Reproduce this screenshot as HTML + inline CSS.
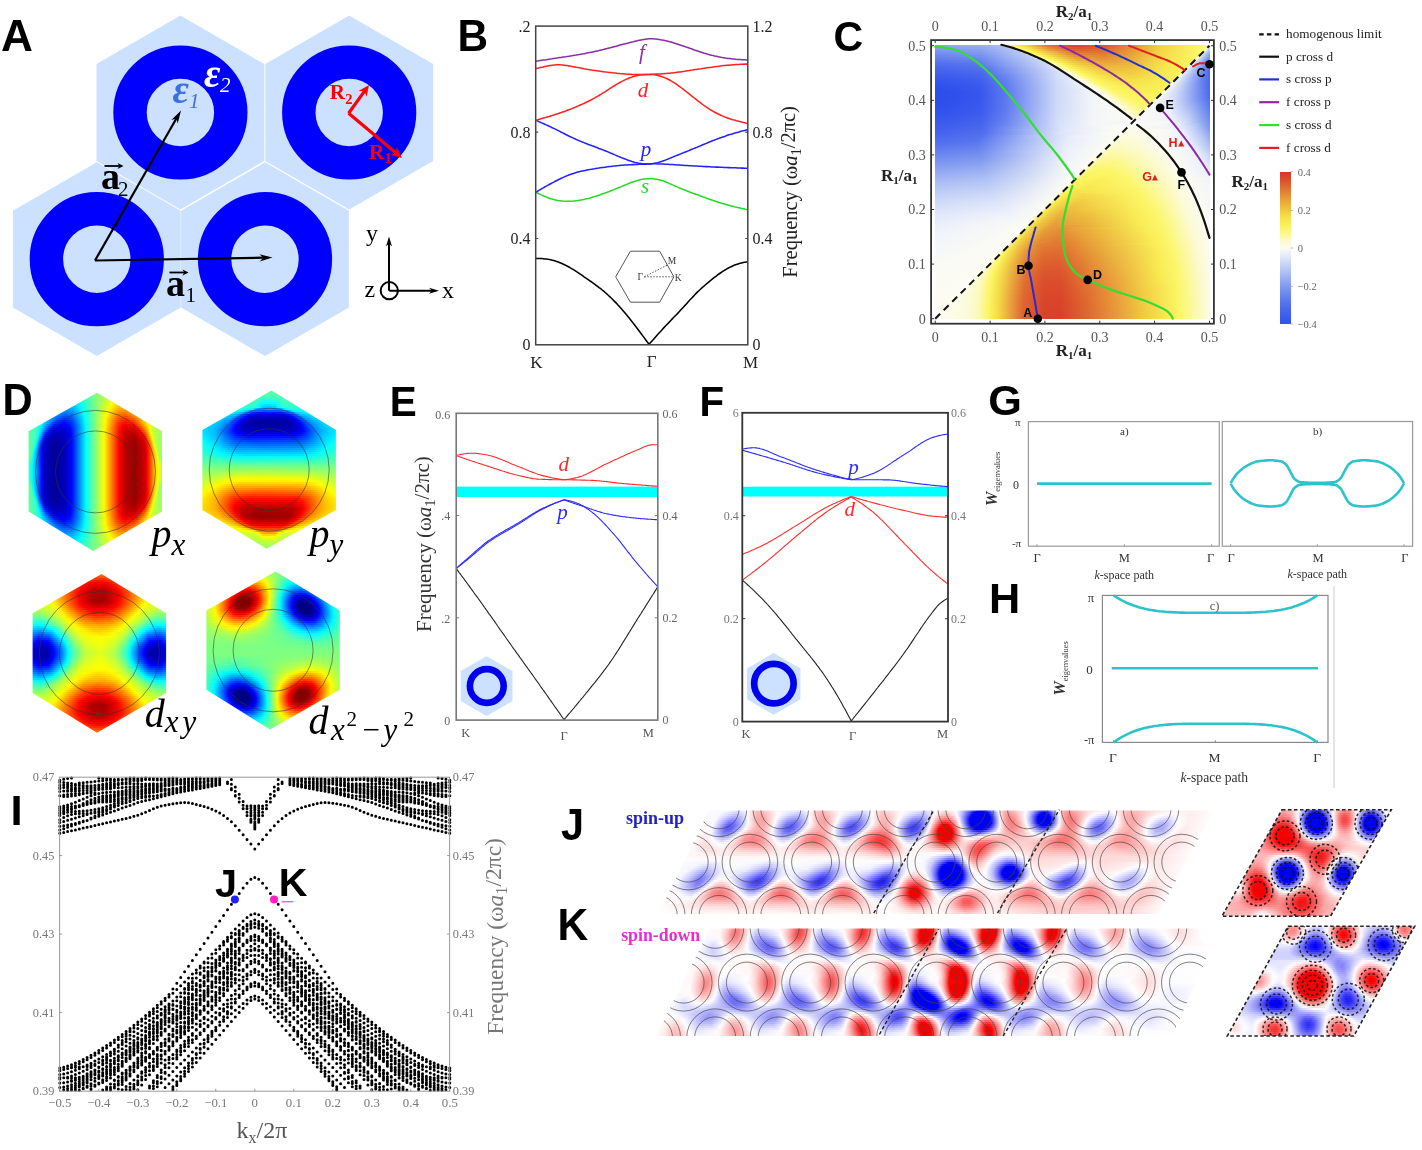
<!DOCTYPE html><html><head><meta charset="utf-8"><style>
html,body{margin:0;padding:0;background:#fff;}
#r{position:relative;width:1422px;height:1150px;overflow:hidden;background:#fff;}
#r>div{position:absolute;}
.f{position:absolute;overflow:hidden;}
.f i{display:block;}.s1 i{height:1px}.s2 i{height:2px}.s3 i{height:3px}.s4 i{height:4px}.s5 i{height:5px}.s6 i{height:6px}
svg{position:absolute;left:0;top:0;will-change:transform;}
</style></head><body><div id="r">
<div class="f s2" style="left:935px;top:45px;width:275px;height:274px;"><div><i style="background:linear-gradient(90deg,#8ca4f1 0px,#98adf2 47px,#afc1f5 69px,#fcfac4 70px,#fcf563 80px,#f4d947 91px,#e27b34 112px,#d9442a 139px,#dd5a2e 171px,#e59037 198px,#f2d044 225px,#faf15c 256px,#fcf670 268px,#fcf782 273px,#f8f9f6 274px)"></i><i style="background:linear-gradient(90deg,#859df0 0px,#8fa6f1 45px,#b2c3f5 75px,#fcfac5 76px,#fcf665 85px,#f4d947 96px,#e59037 113px,#db522c 139px,#de612f 170px,#e69538 198px,#f3d245 225px,#fbf15c 256px,#fcf66d 267px,#fcf77c 271px,#f8f9f6 272px,#dae2fa 274px)"></i><i style="background:linear-gradient(90deg,#7e97f0 0px,#88a0f1 45px,#b5c6f5 81px,#fcfac9 82px,#fcf563 91px,#f4d947 101px,#e7a139 115px,#de612f 139px,#df6a31 170px,#e69a38 198px,#f3d546 226px,#fbf460 260px,#fcf776 269px,#f8f9f6 270px,#becdf6 274px)"></i><i style="background:linear-gradient(90deg,#7791f0 0px,#829bf0 46px,#b8c8f5 86px,#fcfad2 87px,#fcf664 96px,#f4d947 106px,#e07232 138px,#e07232 169px,#e79e39 198px,#f4d847 227px,#fcf669 265px,#fcf670 267px,#f8f9f6 268px,#b4c4f5 273px,#a8baf4 274px)"></i><i style="background:linear-gradient(90deg,#718bef 0px,#7b95f0 45px,#bccbf6 91px,#fcfbda 92px,#fcf665 101px,#f2cf43 114px,#e38335 139px,#e27b34 169px,#e7a139 197px,#f5da48 227px,#fcf66b 265px,#f8f9f6 266px,#c2d0f7 270px,#95abf2 274px)"></i><i style="background:linear-gradient(90deg,#6a85ef 0px,#758fef 45px,#c0cef6 96px,#fcfbe1 97px,#fcf665 106px,#f2cf43 120px,#e59337 140px,#e38435 169px,#e9a83a 198px,#f6de4a 229px,#fcf665 263px,#f8f9f6 264px,#b8c8f5 269px,#859ef0 274px)"></i><i style="background:linear-gradient(90deg,#637fef 0px,#6e89ef 44px,#b3c4f5 90px,#c3d1f7 100px,#fcfcf4 101px,#fcf665 111px,#f2d144 125px,#e8a23a 141px,#e48d36 168px,#eaac3b 198px,#f6e14b 230px,#fcf563 261px,#f8f9f6 262px,#9cb1f3 270px,#7993f0 274px)"></i><i style="background:linear-gradient(90deg,#5d79ef 0px,#6783ef 43px,#a5b8f3 84px,#c8d5f7 105px,#fcfcf4 106px,#fcf667 116px,#f3d546 129px,#eaae3c 143px,#e69738 169px,#ebb23c 199px,#f7e54d 232px,#fcf562 259px,#f8f9f6 260px,#8da4f1 270px,#6f8aef 274px)"></i><i style="background:linear-gradient(90deg,#5673ee 0px,#607cef 42px,#a1b4f3 84px,#ccd7f8 109px,#fcfcf4 110px,#fcfcf2 111px,#fcf666 121px,#f3d445 134px,#e9a93b 157px,#e8a43a 179px,#edbb3e 202px,#f8e84f 234px,#fbf461 257px,#f8f9f6 258px,#89a1f1 269px,#6783ef 274px)"></i><i style="background:linear-gradient(90deg,#506eee 0px,#5a77ee 42px,#9eb3f3 85px,#d0daf8 113px,#fcfcf4 114px,#fcfce9 116px,#fcf663 126px,#f2d044 141px,#e9aa3b 167px,#ecb73d 197px,#f8e94f 233px,#fbf360 255px,#f8f9f6 256px,#8da4f1 267px,#607def 274px)"></i><i style="background:linear-gradient(90deg,#4c6aee 0px,#5673ee 44px,#a5b8f3 90px,#d2dcf9 116px,#fcfcf4 117px,#fcfcef 120px,#fcf666 130px,#f4da48 143px,#ebb33c 168px,#edbc3e 197px,#f8e950 233px,#fbf35f 253px,#f8f9f6 254px,#a3b7f3 263px,#5a77ee 274px)"></i><i style="background:linear-gradient(90deg,#4866ee 0px,#5270ee 46px,#d6dff9 120px,#fcfcf4 121px,#fcfcf3 124px,#fcf668 134px,#f5dc49 148px,#edbb3e 171px,#efc23f 198px,#f9ea51 233px,#fbf25e 251px,#f9f9f6 252px,#b0c1f5 260px,#6580ef 271px,#5573ee 274px)"></i><i style="background:linear-gradient(90deg,#4463ed 0px,#506eee 48px,#dae2fa 124px,#fcfcf4 125px,#fcfcf3 128px,#fcf669 138px,#f5dd49 153px,#eec13f 175px,#f0c740 199px,#f9eb52 233px,#fbf15d 249px,#f9faf6 250px,#bcccf6 257px,#6581ef 270px,#516fee 274px)"></i><i style="background:linear-gradient(90deg,#4160ed 0px,#4c6aee 47px,#96acf2 88px,#dde4fa 127px,#fcfcf4 128px,#fcfcef 132px,#fcf66d 142px,#faf05a 147px,#f1cb41 172px,#f1ca41 198px,#f9eb53 233px,#fbf15c 247px,#f9faf6 248px,#c8d5f7 254px,#6783ef 269px,#4f6dee 274px)"></i><i style="background:linear-gradient(90deg,#3e5ded 0px,#4967ee 47px,#839cf0 81px,#dae3fa 126px,#dfe6fa 130px,#fcfcf4 131px,#fcfcf4 135px,#fcf666 147px,#f4d947 166px,#f1cc42 195px,#f9ec54 233px,#faf15c 245px,#f9faf5 246px,#ccd8f8 252px,#6984ef 268px,#4e6cee 274px)"></i><i style="background:linear-gradient(90deg,#3b5aed 0px,#4564ed 46px,#6985ef 70px,#d4ddf9 122px,#e2e8fb 133px,#fcfcf4 134px,#fcfcf4 139px,#fcf670 150px,#fbf15c 155px,#f3d646 177px,#f3d445 200px,#f9ed55 233px,#faf05b 243px,#f9faf5 244px,#bacaf6 253px,#5d7aef 270px,#4d6bee 274px)"></i><i style="background:linear-gradient(90deg,#3857ed 0px,#4362ed 46px,#6682ef 70px,#d2ddf9 122px,#e6ebfb 137px,#fcfcf4 138px,#fcfcf4 142px,#fcf666 155px,#f6e04a 174px,#f4d847 199px,#faf05a 240px,#faf05b 241px,#f9faf5 242px,#bfcef6 251px,#607cef 269px,#4c6bee 274px)"></i><i style="background:linear-gradient(90deg,#3555ed 0px,#405fed 46px,#637fef 70px,#d1dcf9 122px,#e8edfb 140px,#fcfcf4 141px,#fcfcf1 146px,#fcf776 157px,#fcf562 160px,#f5dd49 184px,#f7e34c 209px,#faf05a 239px,#fafaf5 240px,#c5d2f7 249px,#637fef 268px,#4c6aee 274px)"></i><i style="background:linear-gradient(90deg,#3353ec 0px,#3e5ded 45px,#617def 70px,#d1dbf8 122px,#eaeffc 143px,#fcfcf4 144px,#fcfcf4 149px,#fcf773 161px,#fbf360 165px,#f6de4a 192px,#faf05a 237px,#fafaf5 238px,#d0dbf8 246px,#6a86ef 266px,#4c6aee 274px)"></i><i style="background:linear-gradient(90deg,#3151ec 0px,#3c5bed 45px,#617def 71px,#d0daf8 122px,#ecf0fc 146px,#fcfcf4 147px,#fcfcf4 152px,#fcf670 165px,#fbf25e 170px,#f7e44c 197px,#faf05a 235px,#fafaf5 236px,#c5d3f7 247px,#6681ef 267px,#4c6bee 274px)"></i><i style="background:linear-gradient(90deg,#2f4fec 0px,#3a59ed 45px,#5f7bef 71px,#cfdaf8 122px,#eef2fb 149px,#fcfcf4 150px,#fcfcf4 155px,#fcf77d 167px,#fcf562 172px,#f8e84e 200px,#faf05b 233px,#fafbf5 234px,#cad6f8 245px,#5e7aef 269px,#4d6bee 274px)"></i><i style="background:linear-gradient(90deg,#2e4eec 0px,#3958ed 45px,#607cef 72px,#cfdaf8 122px,#f0f3fa 153px,#fcfcf4 155px,#fcfcf4 158px,#fcf781 170px,#fcf462 176px,#f9ea52 203px,#faf05b 231px,#fafbf5 232px,#cbd7f8 244px,#4f6dee 273px,#4d6bee 274px)"></i><i style="background:linear-gradient(90deg,#2d4dec 0px,#3757ed 44px,#5e7bef 72px,#ced9f8 122px,#f2f4f9 156px,#fcfcf4 158px,#fcfcf4 161px,#fcf785 173px,#fcf563 179px,#f9ec54 205px,#faf15c 229px,#fbfbf5 230px,#ccd8f8 243px,#4e6cee 274px)"></i><i style="background:linear-gradient(90deg,#2c4cec 0px,#3756ed 44px,#5e7aef 72px,#ced9f8 122px,#f3f5f9 158px,#fcfcf4 163px,#fcfcf4 164px,#fcf788 176px,#fcf563 183px,#faee58 211px,#fbf15c 227px,#fbfbf5 228px,#cdd9f8 242px,#4e6cee 274px)"></i><i style="background:linear-gradient(90deg,#2c4cec 0px,#3656ed 44px,#607cef 73px,#ced9f8 122px,#f2f5f9 157px,#fcfcf0 167px,#fcf783 180px,#fcf563 187px,#fbf15c 218px,#fbf25d 225px,#fbfbf5 226px,#ccd8f8 242px,#4f6dee 274px)"></i><i style="background:linear-gradient(90deg,#2c4cec 0px,#3656ed 44px,#607cef 73px,#ced9f8 122px,#f2f5f9 157px,#fcfcf4 169px,#fcf785 183px,#fcf562 191px,#fbf35f 223px,#fbfbf4 224px,#ccd7f8 242px,#506eee 274px)"></i><i style="background:linear-gradient(90deg,#2c4cec 0px,#3656ed 44px,#5e7aef 72px,#ced9f8 122px,#f2f5f9 157px,#fcfcf4 172px,#fcf88c 185px,#fcf664 194px,#fbf360 221px,#fbfbf4 222px,#cfdaf8 241px,#516fee 274px)"></i><i style="background:linear-gradient(90deg,#2c4cec 0px,#3756ed 44px,#5e7bef 72px,#ced9f8 122px,#f2f5f9 157px,#fcfcef 175px,#fcf788 189px,#fcf663 200px,#fcf462 219px,#fbfcf4 220px,#d6e0f9 239px,#5875ee 273px,#5371ee 274px)"></i><i style="background:linear-gradient(90deg,#2d4dec 0px,#3757ed 44px,#5e7bef 72px,#ced9f8 122px,#f3f5f9 158px,#fcfcf4 177px,#fcf88e 191px,#fcf666 204px,#fcf563 217px,#fcfcf4 218px,#dae3fa 238px,#6782ef 270px,#5674ee 274px)"></i><i style="background:linear-gradient(90deg,#2e4dec 0px,#3958ed 45px,#5f7cef 72px,#cedaf8 122px,#f3f5f9 158px,#fcfcf4 179px,#fcf88f 194px,#fcf66a 208px,#fcf667 215px,#fcfcf4 216px,#dee6fa 237px,#849df0 263px,#5a77ee 274px)"></i><i style="background:linear-gradient(90deg,#2e4eec 0px,#3959ed 45px,#607cef 72px,#cfdaf8 122px,#f3f5f9 158px,#fcfcf3 182px,#fcf89a 195px,#fcf774 208px,#fcf66f 213px,#fcfcf4 214px,#e2e9fb 236px,#93a9f2 260px,#5d7aef 274px)"></i><i style="background:linear-gradient(90deg,#2f4fec 0px,#3a59ed 45px,#617def 72px,#cfdaf8 122px,#f3f5f8 158px,#fcfcf4 184px,#fcf89b 198px,#fcf779 211px,#fcfcf4 212px,#e4eafb 236px,#9db2f3 258px,#607def 274px)"></i><i style="background:linear-gradient(90deg,#3050ec 0px,#3b5aed 45px,#607cef 71px,#d0daf8 122px,#f3f5f8 158px,#fcfcee 187px,#fcf89c 201px,#fcf785 209px,#fcfcf4 210px,#e9edfc 235px,#acbef4 255px,#6380ef 274px)"></i><i style="background:linear-gradient(90deg,#3151ec 0px,#3c5bed 45px,#617def 71px,#d0dbf8 122px,#f3f5f8 158px,#fcfcf1 189px,#fcf9a5 202px,#fcf894 207px,#fcfcf4 208px,#eaeffc 235px,#b0c2f5 255px,#6782ef 274px)"></i><i style="background:linear-gradient(90deg,#3352ec 0px,#3d5ced 45px,#607def 70px,#d1dbf8 122px,#f3f6f8 158px,#fcfcf4 191px,#fcf9b7 201px,#fcf9a5 205px,#fcfcf4 206px,#eef1fb 234px,#bbcbf6 253px,#6a85ef 274px)"></i><i style="background:linear-gradient(90deg,#3454ec 0px,#3f5eed 45px,#627eef 70px,#d1dcf9 122px,#f4f6f8 158px,#fcfcf4 193px,#fcf9ba 203px,#fcfcf4 204px,#eef1fb 235px,#bfcef6 253px,#6d88ef 274px)"></i><i style="background:linear-gradient(90deg,#3655ed 0px,#4160ed 46px,#6480ef 70px,#d2dcf9 122px,#f4f6f8 158px,#fcfcf4 195px,#fcfad0 201px,#fcfcf4 202px,#f0f3fa 235px,#c7d4f7 252px,#718bef 274px)"></i><i style="background:linear-gradient(90deg,#3757ed 0px,#4261ed 46px,#6581ef 70px,#d3ddf9 122px,#f4f6f8 159px,#fcfcf4 197px,#fcfbe6 199px,#fcfcf4 200px,#eff2fb 237px,#c4d1f7 254px,#748eef 274px)"></i><i style="background:linear-gradient(90deg,#3958ed 0px,#4463ed 46px,#6783ef 70px,#d5def9 123px,#f5f7f8 160px,#f7f9f6 231px,#d6dff9 250px,#7791f0 274px)"></i><i style="background:linear-gradient(90deg,#3b5aed 0px,#4664ed 46px,#6c87ef 71px,#d6dff9 123px,#f5f7f7 160px,#fafaf5 222px,#eaeffc 243px,#aec0f4 262px,#7b94f0 274px)"></i><i style="background:linear-gradient(90deg,#3d5ced 0px,#4867ee 47px,#7a94f0 77px,#d8e1f9 124px,#f6f8f7 162px,#fcfcf4 193px,#fcfcef 199px,#f0f3fa 241px,#c2d0f7 258px,#7e97f0 274px)"></i><i style="background:linear-gradient(90deg,#3f5eed 0px,#4a68ee 47px,#8ca3f1 84px,#dee5fa 128px,#f9faf5 172px,#fcfcf4 191px,#fcfcea 193px,#f0f3fa 242px,#c3d1f7 259px,#819af0 274px)"></i><i style="background:linear-gradient(90deg,#4160ed 0px,#4c6aee 47px,#97acf2 88px,#e2e9fb 131px,#fbfbf4 181px,#fcfcf4 189px,#fcfbe7 191px,#f9faf5 228px,#ebeffc 247px,#acbef4 266px,#869ff0 274px)"></i><i style="background:linear-gradient(90deg,#4362ed 0px,#4f6dee 48px,#dce4fa 125px,#f8f9f6 167px,#fcfcf4 187px,#fcfbe5 188px,#f9faf5 229px,#ecf0fc 248px,#b0c2f5 266px,#8ca3f1 274px)"></i><i style="background:linear-gradient(90deg,#4664ed 0px,#506eee 47px,#dde4fa 125px,#f9faf6 168px,#fcfcf4 185px,#fcfbe2 186px,#fcfceb 206px,#fafaf5 227px,#ecf0fc 249px,#b1c2f5 267px,#91a8f2 274px)"></i><i style="background:linear-gradient(90deg,#4867ee 0px,#5370ee 46px,#aebff4 96px,#ebeffc 137px,#fcfcf4 183px,#fcfbdf 184px,#fcfbe4 203px,#fbfbf4 222px,#edf1fb 250px,#b6c6f5 267px,#96acf2 274px)"></i><i style="background:linear-gradient(90deg,#4b69ee 0px,#5573ee 45px,#a8bbf4 92px,#e9eefc 135px,#fcfcf4 181px,#fcfbdc 182px,#fcfbdd 200px,#fbfbf4 223px,#eef1fb 251px,#b7c7f5 268px,#9cb0f3 274px)"></i><i style="background:linear-gradient(90deg,#4d6bee 0px,#5774ee 43px,#a0b4f3 87px,#e7ecfb 132px,#fcfcf4 179px,#fcfbd9 180px,#fcfbd7 197px,#fbfbf4 225px,#edf1fc 253px,#afc0f4 271px,#a1b5f3 274px)"></i><i style="background:linear-gradient(90deg,#506eee 0px,#5a77ee 42px,#9db1f3 84px,#e7ecfb 131px,#fcfcf4 177px,#fcfbd6 178px,#fcfad1 194px,#fbfbf4 226px,#eef1fb 254px,#b4c4f5 271px,#a6b9f4 274px)"></i><i style="background:linear-gradient(90deg,#5471ee 0px,#5e7aef 42px,#9fb4f3 84px,#e8edfb 131px,#fcfcf4 175px,#fcfbd3 176px,#fcfacb 191px,#fbfbf4 228px,#ecf0fc 256px,#abbdf4 274px)"></i><i style="background:linear-gradient(90deg,#5875ee 0px,#627fef 43px,#a2b6f3 84px,#e9eefc 131px,#fcfcf4 173px,#fcfad1 174px,#fcfac3 187px,#fbfbf4 230px,#edf1fb 257px,#b1c2f5 274px)"></i><i style="background:linear-gradient(90deg,#5c79ee 0px,#6782ef 43px,#a3b7f3 83px,#eaeefc 131px,#fcfcf4 171px,#fcface 172px,#fcf9bb 184px,#fbfbf4 231px,#eef1fb 258px,#b6c6f5 274px)"></i><i style="background:linear-gradient(90deg,#617def 0px,#6b86ef 43px,#a8baf4 84px,#ecf0fc 132px,#fcfcf4 169px,#fcfacb 170px,#fcf9b4 181px,#fcfbe3 218px,#fbfbf5 234px,#ecf0fc 260px,#bbcaf6 274px)"></i><i style="background:linear-gradient(90deg,#6581ef 0px,#708aef 44px,#b6c6f5 91px,#eff2fb 135px,#fcfcf4 167px,#fcfac8 168px,#fcf9ad 178px,#fcfac0 198px,#fbfbf4 234px,#edf1fb 261px,#c0cff6 274px)"></i><i style="background:linear-gradient(90deg,#6985ef 0px,#748eef 44px,#ebeffc 129px,#fcfcf4 165px,#fcfac3 166px,#fcf9a6 175px,#fcf9b0 192px,#fbfcf4 235px,#ecf0fc 263px,#c5d3f7 274px)"></i><i style="background:linear-gradient(90deg,#6e89ef 0px,#7892f0 45px,#ecf0fc 129px,#fcfcf4 163px,#fcfabe 164px,#fcf89f 173px,#fcf9a8 190px,#fbfbf4 237px,#ecf0fc 264px,#cad6f8 274px)"></i><i style="background:linear-gradient(90deg,#728def 0px,#7d97f0 46px,#edf1fc 129px,#fcfcf4 161px,#fcf9ba 162px,#fcf898 171px,#fcf89d 187px,#fbfcf4 238px,#edf1fb 265px,#ced9f8 274px)"></i><i style="background:linear-gradient(90deg,#7691f0 0px,#819af0 46px,#eef1fb 129px,#fcfcf4 159px,#fcf9b5 160px,#fcf891 169px,#fcf893 184px,#fbfbf4 240px,#ebeffc 267px,#d2dcf9 274px)"></i><i style="background:linear-gradient(90deg,#7b95f0 0px,#869ef0 46px,#eff2fb 129px,#fcfcf4 157px,#fcf9b0 158px,#fcf88b 166px,#fcf788 180px,#fbfcf4 241px,#ebf0fc 268px,#d6dff9 274px)"></i><i style="background:linear-gradient(90deg,#7f98f0 0px,#8aa1f1 45px,#f0f3fa 129px,#fcfcf4 155px,#fcf9ab 156px,#fcf784 164px,#fcf77f 178px,#fbfbf4 243px,#ebf0fc 269px,#d9e2fa 274px)"></i><i style="background:linear-gradient(90deg,#849cf0 0px,#8ea5f1 45px,#f1f4f9 130px,#fcfcf4 153px,#fcf9a6 154px,#fcf77d 162px,#fcf775 175px,#fcfabd 213px,#fbfbf4 245px,#ebf0fc 270px,#dde5fa 274px)"></i><i style="background:linear-gradient(90deg,#89a0f1 0px,#94aaf2 46px,#f2f5f9 130px,#fcfcf4 151px,#fcf8a1 152px,#fcf778 159px,#fcf66c 172px,#fcf9a8 206px,#fcfcf4 244px,#ebf0fc 271px,#e1e7fb 274px)"></i><i style="background:linear-gradient(90deg,#8da5f1 0px,#99aef2 47px,#f3f5f9 130px,#fcfcf4 149px,#fcf89b 150px,#fcf771 157px,#fcf664 168px,#fcf781 190px,#fcfcf3 244px,#ebf0fc 272px,#e4eafb 274px)"></i><i style="background:linear-gradient(90deg,#92a9f2 0px,#9db2f3 47px,#f4f6f8 130px,#fcfcf4 147px,#fcf896 148px,#fcf669 155px,#fcf664 177px,#fcfcf4 246px,#ebeffc 273px,#e8edfb 274px)"></i><i style="background:linear-gradient(90deg,#97adf2 0px,#a2b6f3 48px,#f5f7f7 131px,#fcfcf4 145px,#fcf891 146px,#fcf666 152px,#fcf664 180px,#fcfcf4 247px,#ebeffc 274px)"></i><i style="background:linear-gradient(90deg,#9cb0f3 0px,#a7baf4 49px,#f6f8f7 131px,#fcfcf4 143px,#fcf88b 144px,#fcf664 149px,#fbf460 176px,#fcf771 190px,#fcfcf0 246px,#eef2fb 274px)"></i><i style="background:linear-gradient(90deg,#a0b4f3 0px,#acbef4 50px,#f7f8f7 130px,#fcfcf4 141px,#fcf786 142px,#fcf664 146px,#faf15c 169px,#fcf66c 190px,#fcfcf0 247px,#f1f4fa 274px)"></i><i style="background:linear-gradient(90deg,#a5b8f3 0px,#b0c2f5 51px,#f7f8f6 129px,#fcfcf4 139px,#fcf781 140px,#fcf562 144px,#faef59 166px,#fcf66b 192px,#fcfcef 248px,#f1f4f9 274px)"></i><i style="background:linear-gradient(90deg,#a9bbf4 0px,#b5c5f5 52px,#f7f8f7 127px,#fcfcf4 137px,#fcf77c 138px,#fcf562 141px,#f9ed55 160px,#fcf66a 194px,#fcfced 248px,#f2f4f9 274px)"></i><i style="background:linear-gradient(90deg,#adbff4 0px,#b9c9f6 53px,#f7f9f6 126px,#fcfcf4 135px,#fcf777 136px,#fbf460 139px,#f9eb53 158px,#fcf66c 197px,#fcfbe9 247px,#f9faf6 261px,#f2f5f9 274px)"></i><i style="background:linear-gradient(90deg,#b1c2f5 0px,#bdccf6 54px,#f8f9f6 125px,#fcfcf4 133px,#fcf772 134px,#fcf461 136px,#f8e950 152px,#fcf66c 199px,#fcfbe5 246px,#fafbf5 259px,#f3f5f9 274px)"></i><i style="background:linear-gradient(90deg,#b5c5f5 0px,#c1cff6 54px,#f8f9f6 124px,#fcfcf4 131px,#fcf66d 132px,#faef58 137px,#f8e84e 157px,#fcf66b 201px,#fcfbe2 246px,#fafaf5 260px,#f3f5f8 274px)"></i><i style="background:linear-gradient(90deg,#b9c9f5 0px,#c5d2f7 55px,#f9faf6 123px,#fcfcf4 129px,#fcf668 130px,#f8e74e 141px,#f9eb53 172px,#fcf66b 203px,#fcfbe0 246px,#fafbf5 260px,#f3f6f8 274px)"></i><i style="background:linear-gradient(90deg,#bcccf6 0px,#c8d5f7 55px,#f9faf5 122px,#fcfcf4 127px,#fcf664 128px,#f6e14b 141px,#fbf15d 190px,#fcf66e 206px,#fcfbdc 245px,#fbfbf5 260px,#f4f6f8 274px)"></i><i style="background:linear-gradient(90deg,#c0cff6 0px,#cdd8f8 57px,#fafbf5 122px,#fbfcf4 124px,#fcf66d 125px,#faee58 129px,#f5da48 146px,#fcf667 205px,#fcfbdc 246px,#fbfbf5 261px,#f4f6f8 274px)"></i><i style="background:linear-gradient(90deg,#c4d1f7 0px,#d1dbf8 58px,#fbfcf4 122px,#fcf669 123px,#f7e44c 132px,#f4d747 148px,#fcf667 207px,#fcfbda 246px,#fbfbf5 262px,#f5f7f8 274px)"></i><i style="background:linear-gradient(90deg,#c7d4f7 0px,#d5def9 60px,#fbfcf4 120px,#fcf664 121px,#f5dc49 132px,#f3d445 150px,#fcf668 209px,#fcfbda 247px,#fbfbf5 263px,#f5f7f7 274px)"></i><i style="background:linear-gradient(90deg,#cbd7f8 0px,#d8e1f9 61px,#fbfcf4 118px,#fcf563 119px,#f5db48 129px,#f2d043 147px,#fcf562 206px,#fcf894 225px,#fcfbd8 247px,#fafbf5 264px,#f5f7f7 274px)"></i><i style="background:linear-gradient(90deg,#ced9f8 0px,#dce4fa 63px,#fbfcf4 116px,#fcf562 117px,#f5db48 126px,#f1ca41 143px,#fbf35f 204px,#fcf773 216px,#fcfbd8 248px,#fafbf5 265px,#f6f7f7 274px)"></i><i style="background:linear-gradient(90deg,#d1dbf8 0px,#dfe6fa 64px,#fcfcf4 114px,#fcf562 115px,#f4d847 124px,#f0c640 141px,#fbf25e 204px,#fcf66f 216px,#fcfbd6 248px,#fbfbf5 265px,#f6f8f7 274px)"></i><i style="background:linear-gradient(90deg,#d4def9 0px,#e2e9fb 66px,#fcfcf4 112px,#fbf461 113px,#f3d545 122px,#efc23f 139px,#fbf15c 203px,#fcf66e 217px,#fcfbd6 249px,#fbfbf5 266px,#f7f8f7 274px)"></i><i style="background:linear-gradient(90deg,#d7e0f9 0px,#e5ebfb 68px,#fcfcf4 110px,#fbf460 111px,#f2d244 120px,#eebe3e 136px,#fbf15d 205px,#fcf66c 218px,#fcfbd7 250px,#fbfbf5 267px,#f7f8f6 274px)"></i><i style="background:linear-gradient(90deg,#dae2fa 0px,#e8edfc 70px,#fcfcf4 108px,#fbf360 109px,#f2d044 118px,#edba3e 132px,#f2cf43 162px,#faf05b 204px,#fcf66b 219px,#fcfbd5 250px,#fafbf5 268px,#f7f9f6 274px)"></i><i style="background:linear-gradient(90deg,#dce4fa 0px,#ebeffc 72px,#fcfcf4 106px,#fbf35f 107px,#f2cf43 116px,#ecb73d 128px,#efc33f 153px,#faee57 201px,#fcf66b 220px,#fcfbd5 251px,#fafbf5 269px,#f8f9f6 274px)"></i><i style="background:linear-gradient(90deg,#dfe6fa 0px,#eef2fb 75px,#fcfcf4 104px,#fbf25e 105px,#f0c941 115px,#ebb33c 126px,#eebf3e 152px,#faee57 202px,#fcf66b 221px,#fcfbd6 252px,#fbfbf5 269px,#f8f9f6 274px)"></i><i style="background:linear-gradient(90deg,#e1e8fb 0px,#f1f4f9 80px,#fcfcf4 102px,#fbf25e 103px,#f1cc42 112px,#eaaf3c 124px,#edbb3e 151px,#f9ed56 202px,#fcf66a 222px,#fcfbd4 252px,#fafbf5 270px,#f8f9f6 274px)"></i><i style="background:linear-gradient(90deg,#e3e9fb 0px,#f4f6f8 83px,#fcfcf4 100px,#fbf25e 101px,#f2ce43 109px,#e9ab3b 122px,#ecb73d 150px,#f9ed55 203px,#fcf66a 223px,#fcfbd4 253px,#fafbf5 271px,#f9faf6 274px)"></i><i style="background:linear-gradient(90deg,#e5ebfb 0px,#f7f8f7 87px,#fcfcf4 98px,#fbf25e 99px,#f0c940 108px,#e8a63a 122px,#ecb73d 152px,#f9ed56 205px,#fcf66a 224px,#fcfbd5 254px,#fbfbf5 271px,#f9faf5 274px)"></i><i style="background:linear-gradient(90deg,#e7ecfb 0px,#f9faf6 90px,#fcfcf4 96px,#fbf25e 97px,#f0c740 106px,#e7a139 121px,#ecb63d 153px,#f9ed55 206px,#fcf66a 225px,#fcfbd3 254px,#fafbf5 272px,#f9faf5 274px)"></i><i style="background:linear-gradient(90deg,#e9eefc 0px,#fbfbf4 93px,#fcfcf4 94px,#fbf25e 95px,#efc640 104px,#e79c39 120px,#ebb23c 152px,#f9ed55 207px,#fcf66b 226px,#fcfbd4 255px,#fafbf5 273px,#fafaf5 274px)"></i><i style="background:linear-gradient(90deg,#ebeffc 0px,#fcfcf4 92px,#fbf25e 93px,#efc640 102px,#e79c39 117px,#e79f39 138px,#f9ec54 207px,#fcf66b 227px,#fcfad2 255px,#fbfbf5 273px,#fafbf5 274px)"></i><i style="background:linear-gradient(90deg,#ecf0fc 0px,#fcfcf4 90px,#fbf25e 91px,#efc640 100px,#e79d39 113px,#e59437 126px,#f1cb41 175px,#faef59 215px,#fcf66b 228px,#fcfbd3 256px,#fafbf5 274px)"></i><i style="background:linear-gradient(90deg,#edf1fb 0px,#fcfcf4 88px,#fbf25e 89px,#f0c640 98px,#e79d39 110px,#e58f37 124px,#edba3e 163px,#faee57 213px,#fcf66c 229px,#fcfad2 256px,#fbfbf5 274px)"></i><i style="background:linear-gradient(90deg,#eff2fb 0px,#fcfcf4 86px,#fbf25e 87px,#f0c640 96px,#e69938 109px,#e48b36 124px,#ecb83d 163px,#faee57 214px,#fcf66d 230px,#fcfad3 257px,#fbfbf4 274px)"></i><i style="background:linear-gradient(90deg,#f0f3fa 0px,#fcfcf4 84px,#fbf35f 85px,#f1cb42 93px,#e69638 108px,#e48736 124px,#ecb53d 163px,#faed57 215px,#fcf66e 231px,#fcfbd4 258px,#fbfbf4 274px)"></i><i style="background:linear-gradient(90deg,#f1f3fa 0px,#fcfcf4 82px,#fbf460 83px,#f1cc42 91px,#e59237 107px,#e38335 124px,#ecb53d 164px,#faed56 216px,#fcf66a 231px,#fcfad2 258px,#fcfcf4 274px)"></i><i style="background:linear-gradient(90deg,#f2f4f9 0px,#fcfcf4 80px,#fcf461 81px,#f0c740 90px,#e48d36 107px,#e28034 124px,#ebb33c 164px,#faed56 217px,#fcf66b 232px,#fcfbd3 259px,#fcfcf4 274px)"></i><i style="background:linear-gradient(90deg,#f2f5f9 0px,#fcfcf4 78px,#fcf562 79px,#f1cd42 87px,#e48b36 105px,#e27d34 124px,#eaaf3c 163px,#faed56 218px,#fcf66d 233px,#fcfad2 259px,#fcfcf3 274px)"></i><i style="background:linear-gradient(90deg,#f3f5f8 0px,#fcfcf4 76px,#fcf664 77px,#f2d043 85px,#e59037 101px,#e17833 122px,#e8a63a 158px,#f9ed55 218px,#fcf66e 234px,#fcfad3 260px,#fcfcf2 274px)"></i><i style="background:linear-gradient(90deg,#f4f6f8 0px,#fcfcf4 74px,#fcf669 75px,#f4d947 82px,#e7a139 94px,#e27d34 109px,#e17733 125px,#f8e84e 211px,#fcf66b 234px,#fcfad2 260px,#fcfcf1 274px)"></i><i style="background:linear-gradient(90deg,#f5f6f8 0px,#fcfcf4 72px,#fcf670 73px,#fbf15c 75px,#eebf3e 85px,#e27f34 104px,#e17332 124px,#e8a53a 160px,#faee57 221px,#fcf66c 235px,#fcfad3 261px,#fcfcf0 274px)"></i><i style="background:linear-gradient(90deg,#f5f7f7 0px,#fcfcf4 70px,#fcf778 71px,#fcf664 72px,#f0c840 82px,#e59337 95px,#e17533 110px,#e07132 125px,#e8a43a 161px,#faee57 222px,#fcf66e 236px,#fcfad1 261px,#fcfcef 274px)"></i><i style="background:linear-gradient(90deg,#f6f7f7 0px,#fcfcf4 68px,#fcf77f 69px,#fbf461 71px,#f1cc42 80px,#e59437 93px,#e07332 109px,#e06e31 125px,#e8a23a 161px,#f9ed56 222px,#fcf66b 236px,#fcfad3 262px,#fcfcee 274px)"></i><i style="background:linear-gradient(90deg,#f6f8f7 0px,#fcfcf4 66px,#fcf787 67px,#fcf664 69px,#f3d445 77px,#e59237 92px,#e06f32 109px,#df6c31 125px,#e7a039 161px,#f9ed55 222px,#fcf66d 237px,#fcfad2 262px,#fcfced 274px)"></i><i style="background:linear-gradient(90deg,#f7f8f7 0px,#fcfcf4 64px,#fcf890 65px,#fcf562 68px,#f3d345 76px,#e59137 91px,#e06c31 109px,#df6930 125px,#e79e39 161px,#f9ec55 222px,#fcf66b 237px,#fcfad3 263px,#fcfcec 274px)"></i><i style="background:linear-gradient(90deg,#f7f9f6 0px,#fcfcf4 62px,#fcf898 63px,#fcf666 66px,#f4d847 74px,#e48d36 91px,#df6a31 109px,#df6630 125px,#e79c39 161px,#f9ec54 222px,#fcf66d 238px,#fcfad2 263px,#fcfcec 274px)"></i><i style="background:linear-gradient(90deg,#f8f9f6 0px,#fcfcf4 60px,#fcf8a1 61px,#fcf563 65px,#f4d847 73px,#e48936 91px,#df6730 109px,#de6430 125px,#e69938 161px,#f9eb53 222px,#fcf66a 238px,#fcfad1 263px,#fcfceb 274px)"></i><i style="background:linear-gradient(90deg,#f8f9f6 0px,#fcfcf4 58px,#fcf9aa 59px,#fcf562 64px,#f4d847 72px,#e48836 90px,#de6430 109px,#de612f 125px,#e69838 161px,#f9ec54 223px,#fcf66c 239px,#fcfad2 264px,#fcfcea 274px)"></i><i style="background:linear-gradient(90deg,#f9f9f6 0px,#fcfcf4 56px,#fcf9b3 57px,#fcf562 63px,#f4d947 71px,#e38535 90px,#de622f 109px,#dd5f2f 125px,#e59437 160px,#f9eb53 223px,#fcf66a 239px,#fcfad1 264px,#fcfce9 274px)"></i><i style="background:linear-gradient(90deg,#f9faf6 0px,#fcfcf4 54px,#fcfabc 55px,#fcf462 62px,#f3d546 71px,#e38235 90px,#de5f2f 109px,#dd5d2e 125px,#e59237 160px,#f9eb52 223px,#fcf66d 240px,#fcfad3 265px,#fcfbe8 274px)"></i><i style="background:linear-gradient(90deg,#f9faf5 0px,#fcfcf4 52px,#fcfac3 53px,#fcf562 61px,#f4d646 70px,#e27f34 90px,#dd5d2e 109px,#dd5a2e 125px,#e59037 160px,#f9ea52 223px,#fcf66a 240px,#fcfad2 265px,#fcfbe8 274px)"></i><i style="background:linear-gradient(90deg,#fafaf5 0px,#fcfcf4 50px,#fcfaca 51px,#fcf562 60px,#f4d847 69px,#e27c34 90px,#dd5a2e 110px,#dc582e 125px,#e58e37 160px,#f9ea51 223px,#fcf66d 241px,#fcfad1 265px,#fcfbe7 274px)"></i><i style="background:linear-gradient(90deg,#fafaf5 0px,#fcfcf4 48px,#fcface 49px,#fcf77a 57px,#fbf360 60px,#f3d546 69px,#e27a33 90px,#dc582d 110px,#dc572d 126px,#e58e37 161px,#f8e950 223px,#fcf66b 241px,#fcfad3 266px,#fcfbe6 274px)"></i><i style="background:linear-gradient(90deg,#fafbf5 0px,#fcfcf4 46px,#fcfbd3 47px,#fcf789 55px,#fcf664 58px,#f4d747 68px,#e17733 90px,#dc552d 110px,#dc552d 126px,#e48d36 161px,#f9ea51 224px,#fcf669 241px,#fcfad2 266px,#fcfbe5 274px)"></i><i style="background:linear-gradient(90deg,#fafbf5 0px,#fcfcf4 44px,#fcfbd8 45px,#fcf9aa 51px,#fcf562 58px,#f4d948 67px,#e17533 90px,#dc542d 109px,#dc542d 126px,#e48936 160px,#f8e950 224px,#fcf66c 242px,#fcfad1 266px,#fcfbe5 274px)"></i><i style="background:linear-gradient(90deg,#fafbf5 0px,#fcfcf4 42px,#fcfbdc 43px,#fcf9b5 49px,#fcf663 57px,#f4d747 67px,#e17332 90px,#dc532d 109px,#dc522d 126px,#e38435 158px,#f8e950 224px,#fcf66a 242px,#fcfad0 266px,#fcfbe4 274px)"></i><i style="background:linear-gradient(90deg,#fbfbf5 0px,#fcfcf4 40px,#fcfbde 41px,#fcfac0 47px,#fcf562 57px,#f5da48 66px,#e07132 90px,#db512c 109px,#db512c 126px,#e28034 157px,#f8e94f 224px,#fcf669 242px,#fcfad2 267px,#fcfbe3 274px)"></i><i style="background:linear-gradient(90deg,#fbfbf5 0px,#fcfcf4 38px,#fcfbe0 39px,#fcfac3 46px,#fbf460 57px,#f3d445 67px,#e07032 90px,#db502c 109px,#db4f2c 126px,#e27f34 157px,#f8e84f 224px,#fcf66c 243px,#fcfad2 267px,#fcfbe3 274px)"></i><i style="background:linear-gradient(90deg,#fbfbf5 0px,#fcfcf4 36px,#fcfbe2 37px,#fcfac7 45px,#fcf562 56px,#f4d746 66px,#e07032 89px,#db4e2c 109px,#db4e2c 126px,#e27c34 156px,#f8e84e 224px,#fcf66b 243px,#fcfad1 267px,#fcfbe2 274px)"></i><i style="background:linear-gradient(90deg,#fbfbf4 0px,#fcfcf4 34px,#fcfbe4 35px,#fcfac2 45px,#fcf461 56px,#f5da48 65px,#e06f31 89px,#db4d2c 109px,#db4c2c 126px,#e17833 155px,#f5db48 216px,#fcf669 243px,#fcfad0 267px,#fcfbe2 274px)"></i><i style="background:linear-gradient(90deg,#fbfbf4 0px,#fcfcf4 32px,#fcfbe4 34px,#fcfac7 44px,#fbf460 56px,#f4d947 65px,#e06d31 89px,#db4c2c 109px,#db4b2c 126px,#e17733 155px,#f4d947 215px,#fcf668 243px,#fcfad2 268px,#fcfbe1 274px)"></i><i style="background:linear-gradient(90deg,#fbfbf4 0px,#fcfcf4 30px,#fcfbe6 32px,#fcfac4 44px,#fcf563 55px,#f4d847 65px,#df6c31 89px,#da4b2b 109px,#da4a2b 126px,#e17432 154px,#f3d546 213px,#fcf667 243px,#fcfad2 268px,#fcfbe1 274px)"></i><i style="background:linear-gradient(90deg,#fbfcf4 0px,#fcfcf4 28px,#fcfbe1 33px,#fcfac2 44px,#fcf562 55px,#f4d746 65px,#df6b31 89px,#da4a2b 109px,#da492b 126px,#e07332 154px,#f3d345 212px,#fcf665 243px,#fcfad1 268px,#fcfbe0 274px)"></i><i style="background:linear-gradient(90deg,#fbfcf4 0px,#fcfcf4 26px,#fcfabf 44px,#fcf461 55px,#f5db48 64px,#df6931 89px,#da492b 109px,#da482b 126px,#e06f32 153px,#f2d144 211px,#fcf664 243px,#fcfad1 268px,#fcfbe0 274px)"></i><i style="background:linear-gradient(90deg,#fcfcf4 0px,#fcfcf4 24px,#fcfabd 44px,#fbf461 55px,#f4da48 64px,#df6830 89px,#da482b 109px,#da472b 126px,#e06e31 153px,#f2d144 211px,#fcf563 242px,#fcfbd3 269px,#fcfbe0 274px)"></i><i style="background:linear-gradient(90deg,#fcfcf4 0px,#fcfcf4 22px,#fcfabc 44px,#fcf663 54px,#f4d948 64px,#df6931 88px,#da472b 109px,#da462b 126px,#e06e31 153px,#f2cf43 210px,#fbf461 241px,#fcf88e 252px,#fcfad3 269px,#fcfbdf 274px)"></i><i style="background:linear-gradient(90deg,#fcfcf4 0px,#fcfcee 21px,#fcfaca 40px,#fcf9b2 45px,#fcf563 54px,#f4d947 64px,#df6930 88px,#da462b 109px,#da452b 126px,#e06d31 153px,#f2d043 211px,#fbf461 241px,#fcf783 250px,#fcfad2 269px,#fcfbdf 274px)"></i><i style="background:linear-gradient(90deg,#fcfcf4 0px,#fcfcee 20px,#fcfbd3 36px,#fcf9b9 44px,#fcf563 54px,#f4d847 64px,#df6830 88px,#da452b 109px,#da452b 126px,#df6a31 152px,#f1cd42 209px,#fbf461 241px,#fcf77e 249px,#fcfad2 269px,#fcfbdf 274px)"></i><i style="background:linear-gradient(90deg,#fcfcf4 0px,#fcfced 20px,#fcfad3 36px,#fcf9b8 44px,#fcf562 54px,#f4d847 64px,#df6730 88px,#d9442a 109px,#d9442a 126px,#df6931 152px,#f1cc42 209px,#fbf460 241px,#fcf778 248px,#fcfad2 269px,#fcfbde 274px)"></i><i style="background:linear-gradient(90deg,#fcfcf4 0px,#fcfceb 21px,#fcfad0 37px,#fcf9b8 44px,#fcf562 54px,#f4d747 64px,#df6630 88px,#d9442a 109px,#d9432a 126px,#df6930 152px,#f1cc42 209px,#fbf35f 240px,#fcf66e 246px,#fcfad1 269px,#fcfbde 274px)"></i><i style="background:linear-gradient(90deg,#fcfcf4 0px,#fcfbe8 25px,#fcfabd 43px,#fcf562 54px,#f4d746 64px,#df6630 88px,#d9432a 109px,#d9432a 126px,#df6830 152px,#f1cc42 209px,#fbf35f 240px,#fcf66e 246px,#fcfad1 269px,#fcfbde 274px)"></i><i style="background:linear-gradient(90deg,#fcfcf4 0px,#fcfbe4 28px,#fcf9b6 44px,#fcf562 54px,#f5db48 63px,#de6530 88px,#d9432a 109px,#d9422a 126px,#df6830 152px,#f1cb41 209px,#fbf35f 240px,#fcf772 247px,#fcfad1 269px,#fcfbde 274px)"></i><i style="background:linear-gradient(90deg,#fcfcf4 0px,#fcfbdf 30px,#fcf9b6 44px,#fcf664 53px,#f5db48 63px,#de6530 88px,#d9432a 109px,#d9422a 126px,#df6931 153px,#f1cd42 210px,#fbf35f 240px,#fcf772 247px,#fcfad1 269px,#fcfbde 274px)"></i><i style="background:linear-gradient(90deg,#fcfcf4 0px,#fcfbdc 31px,#fcf9b5 44px,#fcf461 54px,#f5db48 63px,#de6530 88px,#d9422a 110px,#d9422a 126px,#df6930 153px,#f1cc42 210px,#fbf25e 240px,#fcf771 247px,#fcfad1 269px,#fcfbde 274px)"></i><i style="background:linear-gradient(90deg,#fcfcf4 0px,#fcfbdc 31px,#fcf9b5 44px,#fcf664 53px,#f5db48 63px,#de6430 88px,#d9412a 110px,#d9412a 126px,#df6930 153px,#f1cc42 210px,#fbf25e 240px,#fcf771 247px,#fcfad1 269px,#fcfbdd 274px)"></i><i style="background:linear-gradient(90deg,#fcfcf4 0px,#fcfbdb 31px,#fcf9b5 44px,#fcf664 53px,#f5db48 63px,#de6430 88px,#d9412a 110px,#d9412a 126px,#df6930 153px,#f1cc42 210px,#fbf360 241px,#fcf776 248px,#fcfad1 269px,#fcfbdd 274px)"></i><i style="background:linear-gradient(90deg,#fcfcf4 0px,#fcfbdb 31px,#fcf9b4 44px,#fcf664 53px,#f5da48 63px,#de6430 88px,#d9412a 110px,#d9412a 126px,#df6830 153px,#f1cc42 210px,#fbf360 241px,#fcf776 248px,#fcfad0 269px,#fcfbdd 274px)"></i></div></div>
<div style="left:1280px;top:171.7px;width:10.5px;height:152.3px;background:linear-gradient(180deg,#d73428 0%,#db4e2c 5%,#e06d31 10%,#e48d36 15%,#eaac3b 20%,#f0c840 25%,#f6e24b 30%,#faf05b 35%,#fcf785 40%,#fcfac8 45%,#fcfcf4 50%,#e5ebfb 55%,#cbd7f8 60%,#b2c3f5 65%,#9aaff2 70%,#829bf0 75%,#6e89ef 80%,#5a77ee 85%,#4a68ee 90%,#3e5ded 95%,#3252ec 100%)"></div>
<div class="f s2" style="left:28px;top:392px;width:134px;height:159px;clip-path:polygon(69px 0.8px,134px 39.3px,134px 119.5px,65px 159px,0.6px 119.5px,0.6px 39.3px);"><div><i style="background:linear-gradient(90deg,#6aff95 0px,#34ffcb 10px,#09fff6 18px,#00fbff 41px,#24ffdb 51px,#ffff00 92px,#fff800 105px,#e6ff19 119px,#9bff64 133px)"></i><i style="background:linear-gradient(90deg,#6aff95 0px,#34ffcb 10px,#09fff6 18px,#00f4ff 40px,#0bfff4 47px,#ffff00 90px,#fff200 100px,#f3ff0c 116px,#9bff64 133px)"></i><i style="background:linear-gradient(90deg,#6aff95 0px,#34ffcb 10px,#08fff7 18px,#00edff 40px,#09fff6 48px,#fffb00 89px,#ffec00 99px,#f4ff0b 116px,#9bff64 133px)"></i><i style="background:linear-gradient(90deg,#6aff95 0px,#34ffcb 10px,#07fff8 18px,#00e5ff 40px,#06fff9 49px,#fffe00 87px,#ffe300 98px,#f5ff0a 116px,#9bff64 133px)"></i><i style="background:linear-gradient(90deg,#6aff95 0px,#34ffcb 10px,#06fff9 18px,#00daff 39px,#00f1ff 47px,#11ffee 52px,#fffb00 86px,#ffd800 96px,#f6ff09 116px,#9bff64 133px)"></i><i style="background:linear-gradient(90deg,#6aff95 0px,#34ffcb 10px,#02fffd 19px,#00cfff 39px,#00e6ff 47px,#09fff6 52px,#ffff00 84px,#ffd400 92px,#ffd200 99px,#f7ff08 116px,#9bff64 133px)"></i><i style="background:linear-gradient(90deg,#6aff95 0px,#34ffcb 10px,#00ffff 19px,#00c1ff 38px,#00d4ff 46px,#08fff7 53px,#fffc00 83px,#ffc900 91px,#ffc300 98px,#f9ff06 116px,#9bff64 133px)"></i><i style="background:linear-gradient(90deg,#6aff95 0px,#34ffcb 10px,#01fffe 18px,#00b1ff 38px,#00bfff 45px,#09fff6 54px,#fffa00 82px,#ffba00 91px,#ffb400 98px,#fbff04 116px,#9fff60 132px,#9bff64 133px)"></i><i style="background:linear-gradient(90deg,#6aff95 0px,#34ffcb 10px,#00fdff 18px,#00a0ff 37px,#00afff 45px,#00feff 54px,#fff900 81px,#ffa900 91px,#ffa300 98px,#f9ff06 117px,#a7ff58 130px,#9bff64 133px)"></i><i style="background:linear-gradient(90deg,#6aff95 0px,#34ffcb 10px,#00fdff 17px,#008cff 37px,#009eff 45px,#02fffd 55px,#fffa00 80px,#ff9b00 90px,#ff8b00 97px,#ffcf00 109px,#fcff03 117px,#a7ff58 130px,#9bff64 133px)"></i><i style="background:linear-gradient(90deg,#6aff95 0px,#33ffcc 10px,#00f9ff 17px,#0077ff 36px,#0084ff 44px,#00ebff 54px,#15ffea 57px,#fffd00 79px,#ff8900 90px,#ff7500 97px,#ffb700 108px,#fffe00 117px,#acff53 129px,#9bff64 133px)"></i><i style="background:linear-gradient(90deg,#6aff95 0px,#33ffcc 10px,#00fcff 16px,#0070ff 33px,#005fff 38px,#0071ff 44px,#00e2ff 54px,#00ffff 56px,#fcff03 78px,#ff7700 90px,#ff5e00 97px,#ff9a00 107px,#fbff04 118px,#acff53 129px,#9bff64 133px)"></i><i style="background:linear-gradient(90deg,#6aff95 0px,#33ffcc 10px,#00f6ff 16px,#006bff 30px,#0047ff 37px,#005fff 44px,#00daff 54px,#09fff6 57px,#fffb00 78px,#ff6500 90px,#ff4600 97px,#ff8300 107px,#fffe00 118px,#b0ff4f 128px,#9bff64 133px)"></i><i style="background:linear-gradient(90deg,#6aff95 0px,#32ffcd 10px,#00fdff 15px,#0058ff 29px,#002fff 37px,#004eff 44px,#00d2ff 54px,#04fffb 57px,#faff05 77px,#ff5400 90px,#ff2e00 97px,#ff5e00 106px,#fbff04 119px,#b0ff4f 128px,#9bff64 133px)"></i><i style="background:linear-gradient(90deg,#6aff95 0px,#3bffc4 9px,#04fffb 14px,#0045ff 28px,#0017ff 36px,#003fff 44px,#00ccff 54px,#00ffff 57px,#feff01 77px,#ff4500 90px,#ff1800 97px,#ff4200 106px,#fffc00 119px,#b5ff4a 127px,#9bff64 133px)"></i><i style="background:linear-gradient(90deg,#6aff95 0px,#3affc5 9px,#00fcff 14px,#0031ff 27px,#0002ff 36px,#0032ff 44px,#00c6ff 54px,#00fbff 57px,#fffc00 77px,#ff3800 90px,#ff0400 97px,#ff2600 106px,#ffe100 118px,#fcff03 120px,#b5ff4a 127px,#9bff64 133px)"></i><i style="background:linear-gradient(90deg,#6aff95 0px,#39ffc6 9px,#04fffb 13px,#002bff 25px,#0001ff 30px,#0000f3 37px,#0014ff 42px,#008dff 51px,#00f8ff 57px,#fff900 77px,#ff2e00 90px,#fc0000 95px,#f40000 100px,#ff0a00 106px,#ff8400 114px,#fff900 120px,#b5ff4a 127px,#9bff64 133px)"></i><i style="background:linear-gradient(90deg,#6aff95 0px,#38ffc7 9px,#00f9ff 13px,#004dff 21px,#0001ff 26px,#0000e0 35px,#000aff 42px,#0089ff 51px,#07fff8 58px,#fff700 77px,#ff2500 90px,#fa0000 94px,#e20000 98px,#ef0000 106px,#ff1300 109px,#ffa300 117px,#ffff00 121px,#bcff43 126px,#9bff64 133px)"></i><i style="background:linear-gradient(90deg,#6aff95 0px,#36ffc9 9px,#01fffe 12px,#0054ff 19px,#0000ff 24px,#0000dd 28px,#0000d9 37px,#000aff 43px,#00bcff 54px,#05fffa 58px,#faff05 76px,#ff1300 91px,#f10000 94px,#d60000 98px,#e00000 107px,#ff0600 110px,#ff7000 116px,#fff200 121px,#e3ff1c 123px,#b6ff49 127px,#9bff64 133px)"></i><i style="background:linear-gradient(90deg,#6aff95 0px,#41ffbe 8px,#0dfff2 11px,#00d9ff 13px,#0048ff 18px,#0001ff 22px,#0000cd 27px,#0000c9 36px,#0005ff 43px,#00cdff 55px,#04fffb 58px,#fbff04 76px,#ff0e00 91px,#ea0000 94px,#cc0000 98px,#cc0000 107px,#ff0800 112px,#ff6900 117px,#fffb00 122px,#beff41 126px,#9bff64 133px)"></i><i style="background:linear-gradient(90deg,#6aff95 0px,#3effc1 8px,#00ffff 11px,#003eff 17px,#0004ff 20px,#0000c0 26px,#0000c2 36px,#0001ff 43px,#00ccff 55px,#03fffc 58px,#fcff03 76px,#ff0a00 91px,#cd0000 96px,#bc0000 107px,#fd0000 113px,#ff4900 117px,#ffea00 122px,#f8ff07 123px,#c0ff3f 126px,#9bff64 133px)"></i><i style="background:linear-gradient(90deg,#6aff95 0px,#3bffc4 8px,#0ffff0 10px,#00efff 11px,#001eff 17px,#0000f9 19px,#0000b2 26px,#0000c4 37px,#0000fd 43px,#00b8ff 54px,#03fffc 58px,#fcff03 76px,#ff0700 91px,#c30000 97px,#b00000 107px,#ff0400 115px,#ff2b00 117px,#fff700 123px,#b9ff46 127px,#9bff64 133px)"></i><i style="background:linear-gradient(90deg,#6aff95 0px,#44ffbb 7px,#1effe1 9px,#00ffff 10px,#001bff 16px,#0002ff 17px,#0000bb 23px,#0000a9 27px,#0000c1 37px,#0000fb 43px,#00b7ff 54px,#02fffd 58px,#fdff02 76px,#ff0500 91px,#c00000 97px,#a70000 107px,#ed0000 115px,#ff1000 117px,#faff05 124px,#bbff44 127px,#9bff64 133px)"></i><i style="background:linear-gradient(90deg,#6aff95 0px,#40ffbf 7px,#11ffee 9px,#00ebff 10px,#0023ff 15px,#0002ff 16px,#0000c8 20px,#0000a3 27px,#0000bf 37px,#0009ff 44px,#00ddff 56px,#02fffd 58px,#fdff02 76px,#ff0300 91px,#be0000 97px,#a10000 107px,#e80000 116px,#f90000 117px,#ff7900 121px,#fff100 124px,#d0ff2f 126px,#a8ff57 130px,#9bff64 133px)"></i><i style="background:linear-gradient(90deg,#6aff95 0px,#49ffb6 6px,#23ffdc 8px,#00feff 9px,#0051ff 13px,#000dff 15px,#0000d9 17px,#00009d 26px,#0000bd 37px,#0008ff 44px,#00ddff 56px,#02fffd 58px,#fdff02 76px,#ff0300 91px,#bc0000 97px,#9d0000 107px,#da0000 116px,#ff0400 118px,#ff8500 122px,#fdff02 125px,#c5ff3a 127px,#a3ff5c 131px,#9bff64 133px)"></i><i style="background:linear-gradient(90deg,#6aff95 0px,#45ffba 6px,#13ffec 8px,#00e7ff 9px,#005dff 12px,#0000fb 15px,#0000cd 17px,#00009a 26px,#0000bc 37px,#0007ff 44px,#00ddff 56px,#02fffd 58px,#fdff02 76px,#ff0200 91px,#bb0000 97px,#9a0000 107px,#d00000 116px,#f50000 118px,#ff2c00 120px,#ff9600 123px,#ffeb00 125px,#ebff14 126px,#bbff44 128px,#9bff64 133px)"></i><i style="background:linear-gradient(90deg,#6aff95 0px,#4fffb0 5px,#23ffdc 7px,#00feff 8px,#004aff 12px,#000dff 14px,#0000d5 16px,#0000ad 21px,#00009a 27px,#0000bb 37px,#0007ff 44px,#00ddff 56px,#02fffd 58px,#fdff02 76px,#ff0200 91px,#ba0000 97px,#990000 107px,#d50000 117px,#ff0600 119px,#ff5b00 122px,#ffff00 126px,#c1ff3e 128px,#9fff60 132px,#9bff64 133px)"></i><i style="background:linear-gradient(90deg,#6aff95 0px,#4bffb4 5px,#11ffee 7px,#00e8ff 8px,#003cff 12px,#0004ff 14px,#0000c0 17px,#000099 27px,#0000bb 37px,#0007ff 44px,#00ddff 56px,#02fffd 58px,#fdff02 76px,#ff0100 91px,#ba0000 97px,#980000 107px,#d00000 117px,#fe0000 119px,#ff4e00 122px,#ffe900 126px,#eeff11 127px,#b5ff4a 129px,#9bff64 133px)"></i><i style="background:linear-gradient(90deg,#6aff95 0px,#56ffa9 4px,#23ffdc 6px,#00fbff 7px,#0033ff 12px,#0000fe 14px,#0000bd 17px,#000098 27px,#0000bb 37px,#0007ff 44px,#00dcff 56px,#02fffd 58px,#fdff02 76px,#ff0100 91px,#ba0000 97px,#970000 107px,#cd0000 117px,#fa0000 119px,#ff4600 122px,#fffb00 127px,#bcff43 129px,#a3ff5c 131px,#9bff64 133px)"></i><i style="background:linear-gradient(90deg,#6aff95 0px,#53ffac 4px,#0ffff0 6px,#00c6ff 8px,#002fff 12px,#0000fb 14px,#0000bc 17px,#000098 27px,#0000bb 37px,#0007ff 44px,#00dcff 56px,#02fffd 58px,#fdff02 76px,#ff0100 91px,#ba0000 97px,#970000 107px,#cc0000 117px,#f80000 119px,#ff4100 122px,#ffe800 127px,#f1ff0e 128px,#adff52 130px,#9bff64 133px)"></i><i style="background:linear-gradient(90deg,#6aff95 0px,#4dffb2 4px,#00fbff 6px,#002cff 12px,#0000f9 14px,#0000bb 17px,#000098 27px,#0000bb 37px,#0007ff 44px,#00dcff 56px,#02fffd 58px,#fdff02 76px,#ff0100 91px,#ba0000 97px,#970000 107px,#cb0000 117px,#f60000 119px,#ff3f00 122px,#fffa00 128px,#b3ff4c 130px,#9bff64 133px)"></i><i style="background:linear-gradient(90deg,#69ff96 0px,#5bffa4 3px,#41ffbe 4px,#12ffed 5px,#00edff 6px,#0094ff 9px,#0012ff 13px,#0000f8 14px,#0000bb 17px,#000098 27px,#0000bb 37px,#0007ff 44px,#00dcff 56px,#02fffd 58px,#fdff02 76px,#ff0100 91px,#ba0000 97px,#970000 107px,#cb0000 117px,#f60000 119px,#ff3e00 122px,#ffec00 128px,#efff10 129px,#bfff40 130px,#a6ff59 131px,#9cff63 133px)"></i><i style="background:linear-gradient(90deg,#68ff97 0px,#57ffa8 3px,#02fffd 5px,#00b6ff 8px,#002aff 12px,#0000f8 14px,#0000bb 17px,#000098 27px,#0000bb 37px,#0007ff 44px,#00dcff 56px,#02fffd 58px,#fdff02 76px,#ff0100 91px,#ba0000 97px,#970000 107px,#cb0000 117px,#f60000 119px,#ff3d00 122px,#ffce00 127px,#ffff00 129px,#a9ff56 131px,#9fff60 133px)"></i><i style="background:linear-gradient(90deg,#63ff9c 0px,#4dffb2 3px,#1affe5 4px,#00f9ff 5px,#00b5ff 8px,#002aff 12px,#0000f8 14px,#0000ba 17px,#000098 27px,#0000bb 37px,#0007ff 44px,#00dcff 56px,#02fffd 58px,#fdff02 76px,#ff0100 91px,#ba0000 97px,#970000 107px,#cb0000 117px,#f50000 119px,#ff3d00 122px,#ffcc00 127px,#fff700 129px,#e7ff18 130px,#b4ff4b 131px,#a5ff5a 133px)"></i><i style="background:linear-gradient(90deg,#59ffa6 0px,#38ffc7 3px,#0efff1 4px,#00e1ff 6px,#00b4ff 8px,#002aff 12px,#0000f8 14px,#0000ba 17px,#000098 27px,#0000bb 37px,#0007ff 44px,#00dcff 56px,#02fffd 58px,#fdff02 76px,#ff0100 91px,#ba0000 97px,#970000 107px,#cb0000 117px,#f50000 119px,#ff3d00 122px,#ffcc00 127px,#f4ff0b 130px,#c9ff36 131px,#b3ff4c 133px)"></i><i style="background:linear-gradient(90deg,#4fffb0 0px,#24ffdb 3px,#09fff6 4px,#00ccff 7px,#006eff 10px,#0011ff 13px,#0000f8 14px,#0000ba 17px,#000098 27px,#0000bb 37px,#0007ff 44px,#00dcff 56px,#02fffd 58px,#fdff02 76px,#ff0100 91px,#ba0000 97px,#970000 107px,#cb0000 117px,#f50000 119px,#ff3d00 122px,#ffcc00 127px,#f8ff07 130px,#c1ff3e 133px)"></i><i style="background:linear-gradient(90deg,#4bffb4 0px,#08fff7 4px,#00b4ff 8px,#0011ff 13px,#0000f8 14px,#0000ba 17px,#000098 27px,#0000bb 37px,#0007ff 44px,#00dcff 56px,#02fffd 58px,#fdff02 76px,#ff0100 91px,#ba0000 97px,#970000 107px,#cb0000 117px,#f50000 119px,#ff3d00 122px,#ffcc00 127px,#f9ff06 130px,#c6ff39 133px)"></i><i style="background:linear-gradient(90deg,#4affb5 0px,#08fff7 4px,#00b4ff 8px,#0011ff 13px,#0000f8 14px,#0000ba 17px,#000098 27px,#0000bb 37px,#0007ff 44px,#00dcff 56px,#02fffd 58px,#fdff02 76px,#ff0100 91px,#ba0000 97px,#970000 107px,#cb0000 117px,#f50000 119px,#ff3d00 122px,#ffcc00 127px,#f9ff06 130px,#c7ff38 133px)"></i><i style="background:linear-gradient(90deg,#4affb5 0px,#08fff7 4px,#00b4ff 8px,#0011ff 13px,#0000f8 14px,#0000ba 17px,#000098 27px,#0000bb 37px,#0007ff 44px,#00dcff 56px,#02fffd 58px,#fdff02 76px,#ff0100 91px,#ba0000 97px,#970000 107px,#cb0000 117px,#f50000 119px,#ff3d00 122px,#ffcc00 127px,#f9ff06 130px,#c7ff38 133px)"></i><i style="background:linear-gradient(90deg,#4affb5 0px,#08fff7 4px,#00b4ff 8px,#0011ff 13px,#0000f8 14px,#0000ba 17px,#000098 27px,#0000bb 37px,#0007ff 44px,#00dcff 56px,#02fffd 58px,#fdff02 76px,#ff0100 91px,#ba0000 97px,#970000 107px,#cb0000 117px,#f50000 119px,#ff3d00 122px,#ffcc00 127px,#f9ff06 130px,#c7ff38 133px)"></i><i style="background:linear-gradient(90deg,#4affb5 0px,#08fff7 4px,#00b4ff 8px,#0011ff 13px,#0000f8 14px,#0000ba 17px,#000098 27px,#0000bb 37px,#0007ff 44px,#00dcff 56px,#02fffd 58px,#fdff02 76px,#ff0100 91px,#ba0000 97px,#970000 107px,#cb0000 117px,#f50000 119px,#ff3d00 122px,#ffcc00 127px,#f9ff06 130px,#c7ff38 133px)"></i><i style="background:linear-gradient(90deg,#4affb5 0px,#08fff7 4px,#00b4ff 8px,#0011ff 13px,#0000f8 14px,#0000ba 17px,#000098 27px,#0000bb 37px,#0007ff 44px,#00dcff 56px,#02fffd 58px,#fdff02 76px,#ff0100 91px,#ba0000 97px,#970000 107px,#cb0000 117px,#f50000 119px,#ff3d00 122px,#ffcc00 127px,#f9ff06 130px,#c7ff38 133px)"></i><i style="background:linear-gradient(90deg,#4affb5 0px,#08fff7 4px,#00b4ff 8px,#0011ff 13px,#0000f8 14px,#0000ba 17px,#000098 27px,#0000bb 37px,#0007ff 44px,#00dcff 56px,#02fffd 58px,#fdff02 76px,#ff0100 91px,#ba0000 97px,#970000 107px,#cb0000 117px,#f50000 119px,#ff3d00 122px,#ffcc00 127px,#f9ff06 130px,#c7ff38 133px)"></i><i style="background:linear-gradient(90deg,#4bffb4 0px,#08fff7 4px,#00b4ff 8px,#0011ff 13px,#0000f8 14px,#0000ba 17px,#000098 27px,#0000bb 37px,#0007ff 44px,#00dcff 56px,#02fffd 58px,#fdff02 76px,#ff0100 91px,#ba0000 97px,#970000 107px,#cb0000 117px,#f50000 119px,#ff3d00 122px,#ffcc00 127px,#f9ff06 130px,#c6ff39 133px)"></i><i style="background:linear-gradient(90deg,#50ffaf 0px,#25ffda 3px,#0afff5 4px,#00ccff 7px,#006eff 10px,#0011ff 13px,#0000f8 14px,#0000ba 17px,#000098 27px,#0000bb 37px,#0007ff 44px,#00dcff 56px,#02fffd 58px,#fdff02 76px,#ff0100 91px,#ba0000 97px,#970000 107px,#cb0000 117px,#f50000 119px,#ff3d00 122px,#ffcc00 127px,#f8ff07 130px,#ceff31 132px,#c0ff3f 133px)"></i><i style="background:linear-gradient(90deg,#5affa5 0px,#3bffc4 3px,#0ffff0 4px,#00e1ff 6px,#00b4ff 8px,#002aff 12px,#0000f8 14px,#0000ba 17px,#000098 27px,#0000bb 37px,#0007ff 44px,#00dcff 56px,#02fffd 58px,#fdff02 76px,#ff0100 91px,#ba0000 97px,#970000 107px,#cb0000 117px,#f50000 119px,#ff3d00 122px,#ffcc00 127px,#fff400 129px,#f3ff0c 130px,#c6ff39 131px,#b2ff4d 133px)"></i><i style="background:linear-gradient(90deg,#63ff9c 0px,#4effb1 3px,#1cffe3 4px,#00f9ff 5px,#00b5ff 8px,#002aff 12px,#0000f8 14px,#0000ba 17px,#000098 27px,#0000bb 37px,#0007ff 44px,#00dcff 56px,#02fffd 58px,#fdff02 76px,#ff0100 91px,#ba0000 97px,#970000 107px,#cb0000 117px,#f50000 119px,#ff3d00 122px,#ffcc00 127px,#fff700 129px,#e5ff1a 130px,#b2ff4d 131px,#a4ff5b 133px)"></i><i style="background:linear-gradient(90deg,#68ff97 0px,#57ffa8 3px,#03fffc 5px,#00b6ff 8px,#002aff 12px,#0000f8 14px,#0000bb 17px,#000098 27px,#0000bb 37px,#0007ff 44px,#00dcff 56px,#02fffd 58px,#fdff02 76px,#ff0100 91px,#ba0000 97px,#970000 107px,#cb0000 117px,#f60000 119px,#ff3d00 122px,#ffce00 127px,#fdff02 129px,#a9ff56 131px,#9eff61 133px)"></i><i style="background:linear-gradient(90deg,#69ff96 0px,#5bffa4 3px,#43ffbc 4px,#14ffeb 5px,#00eeff 6px,#0094ff 9px,#0012ff 13px,#0000f8 14px,#0000bb 17px,#000098 27px,#0000bb 37px,#0007ff 44px,#00dcff 56px,#02fffd 58px,#fdff02 76px,#ff0100 91px,#ba0000 97px,#970000 107px,#cb0000 117px,#f60000 119px,#ff3e00 122px,#ffed00 128px,#edff12 129px,#bdff42 130px,#a5ff5a 131px,#9cff63 133px)"></i><i style="background:linear-gradient(90deg,#6aff95 0px,#4effb1 4px,#00fdff 6px,#002cff 12px,#0000f9 14px,#0000bb 17px,#000098 27px,#0000bb 37px,#0007ff 44px,#00dcff 56px,#02fffd 58px,#fdff02 76px,#ff0100 91px,#ba0000 97px,#970000 107px,#cb0000 117px,#f60000 119px,#ff3f00 122px,#fffc00 128px,#b2ff4d 130px,#9bff64 133px)"></i><i style="background:linear-gradient(90deg,#6aff95 0px,#53ffac 4px,#11ffee 6px,#00eaff 7px,#002fff 12px,#0000fb 14px,#0000bc 17px,#000098 27px,#0000bb 37px,#0007ff 44px,#00dcff 56px,#02fffd 58px,#fdff02 76px,#ff0100 91px,#ba0000 97px,#970000 107px,#cc0000 117px,#f80000 119px,#ff4200 122px,#ffe900 127px,#efff10 128px,#adff52 130px,#9bff64 133px)"></i><i style="background:linear-gradient(90deg,#6aff95 0px,#56ffa9 4px,#25ffda 6px,#00fdff 7px,#0034ff 12px,#0000fe 14px,#0000be 17px,#000098 27px,#0000bb 37px,#0007ff 44px,#00dcff 56px,#02fffd 58px,#fdff02 76px,#ff0100 91px,#ba0000 97px,#970000 107px,#ce0000 117px,#fa0000 119px,#ff4600 122px,#fffd00 127px,#bbff44 129px,#9fff60 132px,#9bff64 133px)"></i><i style="background:linear-gradient(90deg,#6aff95 0px,#4bffb4 5px,#13ffec 7px,#00eaff 8px,#003dff 12px,#0005ff 14px,#0000c1 17px,#000099 27px,#0000bb 37px,#0007ff 44px,#00ddff 56px,#02fffd 58px,#fdff02 76px,#ff0100 91px,#ba0000 97px,#980000 107px,#d10000 117px,#fe0000 119px,#ff4f00 122px,#ffeb00 126px,#ecff13 127px,#b4ff4b 129px,#9bff64 133px)"></i><i style="background:linear-gradient(90deg,#6aff95 0px,#4fffb0 5px,#25ffda 7px,#01fffe 8px,#004bff 12px,#000eff 14px,#0000d6 16px,#0000ad 21px,#00009a 27px,#0000bb 37px,#0007ff 44px,#00ddff 56px,#02fffd 58px,#fdff02 76px,#ff0200 91px,#ba0000 97px,#990000 107px,#d60000 117px,#ff0700 119px,#ff5c00 122px,#fdff02 126px,#c1ff3e 128px,#9fff60 132px,#9bff64 133px)"></i><i style="background:linear-gradient(90deg,#6aff95 0px,#45ffba 6px,#15ffea 8px,#00eaff 9px,#005fff 12px,#0000fd 15px,#0000ce 17px,#00009a 26px,#0000bc 37px,#0007ff 44px,#00ddff 56px,#02fffd 58px,#fdff02 76px,#ff0200 91px,#bb0000 97px,#9b0000 107px,#d10000 116px,#f60000 118px,#ff4c00 121px,#ffee00 125px,#eaff15 126px,#baff45 128px,#9bff64 133px)"></i><i style="background:linear-gradient(90deg,#6aff95 0px,#49ffb6 6px,#24ffdb 8px,#01fffe 9px,#0053ff 13px,#000fff 15px,#0000db 17px,#00009d 26px,#0000bd 37px,#0008ff 44px,#00ddff 56px,#02fffd 58px,#fdff02 76px,#ff0300 91px,#bc0000 97px,#9e0000 107px,#db0000 116px,#ff0500 118px,#ff8800 122px,#fbff04 125px,#c4ff3b 127px,#9fff60 132px,#9bff64 133px)"></i><i style="background:linear-gradient(90deg,#6aff95 0px,#41ffbe 7px,#12ffed 9px,#00edff 10px,#0026ff 15px,#0004ff 16px,#0000c1 21px,#0000a3 27px,#0000bf 37px,#0009ff 44px,#00ddff 56px,#02fffd 58px,#fdff02 76px,#ff0400 91px,#be0000 97px,#a20000 107px,#ea0000 116px,#fb0000 117px,#ff7c00 121px,#fff300 124px,#cfff30 126px,#a8ff57 130px,#9bff64 133px)"></i><i style="background:linear-gradient(90deg,#6aff95 0px,#44ffbb 7px,#20ffdf 9px,#01fffe 10px,#001eff 16px,#0005ff 17px,#0000b5 24px,#0000aa 28px,#0000c1 37px,#0000fb 43px,#00b7ff 54px,#02fffd 58px,#fdff02 76px,#ff0500 91px,#c00000 97px,#a80000 107px,#ef0000 115px,#fd0000 116px,#ff3100 118px,#f8ff07 124px,#bbff44 127px,#9bff64 133px)"></i><i style="background:linear-gradient(90deg,#6aff95 0px,#3bffc4 8px,#10ffef 10px,#00f1ff 11px,#0021ff 17px,#0000fc 19px,#0000b3 26px,#0000c5 37px,#0000fd 43px,#00b8ff 54px,#03fffc 58px,#fcff03 76px,#ff0700 91px,#c40000 97px,#b10000 107px,#ff0600 115px,#ff2d00 117px,#fff800 123px,#b9ff46 127px,#9bff64 133px)"></i><i style="background:linear-gradient(90deg,#6aff95 0px,#3fffc0 8px,#02fffd 11px,#0041ff 17px,#0007ff 20px,#0000bf 27px,#0000ca 37px,#0001ff 43px,#00ccff 55px,#03fffc 58px,#fcff03 76px,#ff0a00 91px,#d90000 95px,#bf0000 101px,#be0000 107px,#ff0000 113px,#ff4c00 117px,#ffec00 122px,#f6ff09 123px,#c0ff3f 126px,#9bff64 133px)"></i><i style="background:linear-gradient(90deg,#6aff95 0px,#41ffbe 8px,#00f5ff 12px,#004cff 18px,#0004ff 22px,#0000cf 27px,#0000ca 36px,#0005ff 43px,#00cdff 55px,#04fffb 58px,#fbff04 76px,#ff0e00 91px,#ea0000 94px,#cd0000 98px,#ce0000 107px,#fc0000 111px,#ff5400 116px,#fffc00 122px,#beff41 126px,#9bff64 133px)"></i><i style="background:linear-gradient(90deg,#6aff95 0px,#36ffc9 9px,#03fffc 12px,#0057ff 19px,#0002ff 24px,#0000db 29px,#0000da 37px,#000bff 43px,#00bcff 54px,#05fffa 58px,#faff05 76px,#ff1400 91px,#f10000 94px,#d70000 98px,#db0000 106px,#ff0900 110px,#ff7300 116px,#fff400 121px,#d3ff2c 124px,#acff53 129px,#9bff64 133px)"></i><i style="background:linear-gradient(90deg,#6aff95 0px,#38ffc7 9px,#00faff 13px,#0050ff 21px,#0004ff 26px,#0000e1 36px,#000aff 42px,#0089ff 51px,#07fff8 58px,#fff700 77px,#ff2600 90px,#fb0000 94px,#e40000 98px,#f20000 106px,#ff1600 109px,#ffa600 117px,#feff01 121px,#bcff43 126px,#9bff64 133px)"></i><i style="background:linear-gradient(90deg,#6aff95 0px,#3affc5 9px,#04fffb 13px,#0020ff 26px,#0000fa 32px,#0000f4 37px,#0015ff 42px,#008eff 51px,#00f8ff 57px,#fff900 77px,#ff2f00 90px,#f50000 96px,#ff0700 105px,#ff4200 110px,#fffa00 120px,#b5ff4a 127px,#9bff64 133px)"></i><i style="background:linear-gradient(90deg,#6aff95 0px,#3bffc4 9px,#00fcff 14px,#0034ff 27px,#0004ff 36px,#0033ff 44px,#00c7ff 54px,#00fbff 57px,#fffc00 77px,#ff3a00 90px,#ff0600 97px,#ff2900 106px,#fbff04 120px,#b5ff4a 127px,#9bff64 133px)"></i><i style="background:linear-gradient(90deg,#6aff95 0px,#3bffc4 9px,#00f6ff 15px,#0048ff 28px,#001aff 36px,#0040ff 44px,#00ccff 54px,#00ffff 57px,#feff01 77px,#ff4700 90px,#ff1a00 97px,#ff4500 106px,#fffd00 119px,#b5ff4a 127px,#9bff64 133px)"></i><i style="background:linear-gradient(90deg,#6aff95 0px,#32ffcd 10px,#00fdff 15px,#005bff 29px,#0032ff 37px,#0050ff 44px,#00d3ff 54px,#04fffb 57px,#faff05 77px,#ff5600 90px,#ff3100 97px,#ff6100 106px,#faff05 119px,#b0ff4f 128px,#9bff64 133px)"></i><i style="background:linear-gradient(90deg,#6aff95 0px,#33ffcc 10px,#00f7ff 16px,#0066ff 31px,#0049ff 37px,#0061ff 44px,#00daff 54px,#0afff5 57px,#fffc00 78px,#ff6600 90px,#ff4800 97px,#ff8500 107px,#fffe00 118px,#b0ff4f 128px,#9bff64 133px)"></i><i style="background:linear-gradient(90deg,#6aff95 0px,#33ffcc 10px,#00f4ff 17px,#006cff 34px,#0064ff 40px,#007cff 45px,#00e3ff 54px,#01fffe 56px,#fcff03 78px,#ff7800 90px,#ff6000 97px,#ff9c00 107px,#faff05 118px,#acff53 129px,#9bff64 133px)"></i><i style="background:linear-gradient(90deg,#6aff95 0px,#33ffcc 10px,#00faff 17px,#0079ff 36px,#0086ff 44px,#00ecff 54px,#16ffe9 57px,#fffd00 79px,#ff8b00 90px,#ff7800 97px,#ffb900 108px,#fffe00 117px,#acff53 129px,#9bff64 133px)"></i><i style="background:linear-gradient(90deg,#6aff95 0px,#34ffcb 10px,#00feff 17px,#008eff 37px,#00a0ff 45px,#03fffc 55px,#fffb00 80px,#ff9d00 90px,#ff8d00 97px,#ffd000 109px,#fcff03 117px,#a7ff58 130px,#9bff64 133px)"></i><i style="background:linear-gradient(90deg,#6aff95 0px,#34ffcb 10px,#00fdff 18px,#00a2ff 37px,#00b1ff 45px,#00ffff 54px,#fffa00 81px,#ffab00 91px,#ffa500 98px,#f9ff06 117px,#a7ff58 130px,#9bff64 133px)"></i><i style="background:linear-gradient(90deg,#6aff95 0px,#34ffcb 10px,#01fffe 18px,#00b3ff 38px,#00c1ff 45px,#00feff 53px,#fffb00 82px,#ffbc00 91px,#ffb600 98px,#fbff04 116px,#9fff60 132px,#9bff64 133px)"></i><i style="background:linear-gradient(90deg,#6aff95 0px,#34ffcb 10px,#00ffff 19px,#00c2ff 38px,#00d5ff 46px,#09fff6 53px,#fffd00 83px,#ffcb00 91px,#ffc500 98px,#f9ff06 116px,#9bff64 133px)"></i><i style="background:linear-gradient(90deg,#6aff95 0px,#34ffcb 10px,#02fffd 19px,#00d0ff 39px,#00e7ff 47px,#09fff6 52px,#feff01 84px,#ffd500 92px,#ffd300 99px,#f7ff08 116px,#9bff64 133px)"></i><i style="background:linear-gradient(90deg,#6aff95 0px,#34ffcb 10px,#06fff9 18px,#00dbff 39px,#00f2ff 47px,#12ffed 52px,#fffc00 86px,#ffd900 96px,#f6ff09 116px,#9bff64 133px)"></i><i style="background:linear-gradient(90deg,#6aff95 0px,#34ffcb 10px,#07fff8 18px,#00e6ff 40px,#07fff8 49px,#fff900 88px,#ffe400 98px,#f5ff0a 116px,#9bff64 133px)"></i><i style="background:linear-gradient(90deg,#6aff95 0px,#34ffcb 10px,#08fff7 18px,#00eeff 40px,#0afff5 48px,#fffc00 89px,#ffec00 99px,#f4ff0b 116px,#9bff64 133px)"></i><i style="background:linear-gradient(90deg,#6aff95 0px,#34ffcb 10px,#09fff6 18px,#00f5ff 40px,#0bfff4 47px,#ffff00 90px,#fff200 100px,#f3ff0c 116px,#9bff64 133px)"></i><i style="height:1px;background:linear-gradient(90deg,#6aff95 0px,#34ffcb 10px,#09fff6 18px,#00fcff 41px,#2bffd4 52px,#feff01 92px,#fff900 106px,#e6ff19 119px,#9bff64 133px)"></i></div></div>
<div class="f s2" style="left:202px;top:390px;width:134px;height:159px;clip-path:polygon(69.5px 0.6px,133.9px 40.1px,133.9px 119.9px,64.5px 158.7px,0.4px 119.9px,0.4px 40.1px);"><div><i style="background:linear-gradient(90deg,#66ff99 0px,#66ff99 133px)"></i><i style="background:linear-gradient(90deg,#61ff9e 0px,#57ffa8 60px,#61ff9e 133px)"></i><i style="background:linear-gradient(90deg,#5bffa4 0px,#54ffab 57px,#50ffaf 75px,#5bffa4 107px,#5bffa4 133px)"></i><i style="background:linear-gradient(90deg,#56ffa9 0px,#4effb1 56px,#3effc1 67px,#50ffaf 78px,#56ffa9 133px)"></i><i style="background:linear-gradient(90deg,#50ffaf 0px,#49ffb6 55px,#2dffd2 63px,#38ffc7 75px,#4fffb0 84px,#50ffaf 133px)"></i><i style="background:linear-gradient(90deg,#4affb5 0px,#42ffbd 54px,#19ffe6 62px,#21ffde 74px,#46ffb9 81px,#4affb5 133px)"></i><i style="background:linear-gradient(90deg,#43ffbc 0px,#39ffc6 54px,#00ffff 62px,#05fffa 73px,#3bffc4 80px,#43ffbc 133px)"></i><i style="background:linear-gradient(90deg,#3dffc2 0px,#34ffcb 53px,#00f6ff 59px,#00e3ff 64px,#00eaff 73px,#00feff 75px,#32ffcd 80px,#3dffc2 127px,#3dffc2 133px)"></i><i style="background:linear-gradient(90deg,#36ffc9 0px,#2fffd0 52px,#11ffee 56px,#02fffd 57px,#00c9ff 61px,#00cdff 73px,#00f9ff 76px,#2effd1 81px,#36ffc9 133px)"></i><i style="background:linear-gradient(90deg,#2bffd4 0px,#1fffe0 44px,#00f7ff 50px,#00a0ff 57px,#0098ff 74px,#00b9ff 79px,#00feff 84px,#23ffdc 91px,#2bffd4 133px)"></i><i style="background:linear-gradient(90deg,#18ffe7 0px,#0bfff4 36px,#00f4ff 41px,#00b2ff 47px,#0066ff 53px,#0053ff 62px,#005dff 79px,#008eff 84px,#00eaff 91px,#07fff8 96px,#18ffe7 122px,#18ffe7 133px)"></i><i style="background:linear-gradient(90deg,#05fffa 0px,#00f6ff 29px,#00d2ff 37px,#0079ff 44px,#0029ff 50px,#000fff 57px,#0015ff 80px,#0045ff 86px,#00c5ff 95px,#00f3ff 103px,#05fffa 126px,#05fffa 133px)"></i><i style="background:linear-gradient(90deg,#00f6ff 0px,#00e1ff 26px,#00b3ff 34px,#0043ff 42px,#0000fc 47px,#0000d9 54px,#0000df 82px,#0004ff 87px,#00afff 99px,#00dfff 107px,#00f5ff 131px,#00f6ff 133px)"></i><i style="background:linear-gradient(90deg,#00f1ff 0px,#00dcff 22px,#00a9ff 31px,#002dff 40px,#0002ff 43px,#0000cc 50px,#0000c6 81px,#0000e7 88px,#000aff 91px,#00a5ff 102px,#00dbff 111px,#00f1ff 133px)"></i><i style="background:linear-gradient(90deg,#00edff 0px,#00d3ff 20px,#0099ff 29px,#0002ff 40px,#0000c2 47px,#0000b2 62px,#0000bc 85px,#0000ef 92px,#000aff 94px,#0095ff 104px,#00d1ff 113px,#00edff 133px)"></i><i style="background:linear-gradient(90deg,#00e8ff 0px,#00caff 18px,#008dff 27px,#0000f8 38px,#0000b7 45px,#0000a3 57px,#0000ad 86px,#0000db 93px,#0001ff 96px,#0093ff 107px,#00ccff 116px,#00e7ff 133px)"></i><i style="background:linear-gradient(90deg,#00e4ff 0px,#00c1ff 17px,#007dff 26px,#0000f7 36px,#0000b4 43px,#00009c 54px,#0000a6 87px,#0000d0 94px,#0000ff 98px,#008eff 109px,#00cbff 119px,#00e4ff 133px)"></i><i style="background:linear-gradient(90deg,#00e4ff 0px,#00bdff 16px,#0076ff 25px,#0003ff 34px,#0000b9 42px,#0000a2 54px,#0000ab 88px,#0000db 96px,#000aff 100px,#0090ff 111px,#00ccff 121px,#00e3ff 133px)"></i><i style="background:linear-gradient(90deg,#00e3ff 0px,#00baff 15px,#0071ff 24px,#0003ff 33px,#0000ba 42px,#0000a8 58px,#0000b2 89px,#0000df 97px,#000aff 101px,#0095ff 113px,#00d1ff 124px,#00e3ff 133px)"></i><i style="background:linear-gradient(90deg,#00e3ff 0px,#00b8ff 14px,#0064ff 24px,#0000fa 33px,#0000c1 41px,#0000af 58px,#0000b9 90px,#0000ec 99px,#000cff 102px,#009aff 115px,#00d3ff 126px,#00e2ff 133px)"></i><i style="background:linear-gradient(90deg,#00e4ff 0px,#00b4ff 14px,#0053ff 25px,#0000fc 33px,#0000c9 42px,#0000bd 78px,#0000ce 93px,#0002ff 101px,#00a4ff 117px,#00dbff 129px,#00e4ff 133px)"></i><i style="background:linear-gradient(90deg,#00eaff 0px,#00b7ff 14px,#0042ff 27px,#0000fc 35px,#0000da 46px,#0000df 91px,#0008ff 100px,#00b4ff 119px,#00e9ff 133px)"></i><i style="background:linear-gradient(90deg,#00f0ff 0px,#00bbff 14px,#0010ff 35px,#0000f6 43px,#0000f9 92px,#0019ff 100px,#00c4ff 121px,#00efff 133px)"></i><i style="background:linear-gradient(90deg,#00f6ff 0px,#00c0ff 14px,#0029ff 34px,#000dff 48px,#0014ff 93px,#0045ff 104px,#00cfff 122px,#00f5ff 133px)"></i><i style="background:linear-gradient(90deg,#00fcff 0px,#00c6ff 14px,#0041ff 33px,#0025ff 47px,#002dff 94px,#005bff 105px,#00d9ff 123px,#00fbff 133px)"></i><i style="background:linear-gradient(90deg,#03fffc 0px,#00d2ff 13px,#0054ff 33px,#003cff 49px,#0044ff 95px,#0077ff 107px,#00e8ff 125px,#02fffd 133px)"></i><i style="background:linear-gradient(90deg,#0afff5 0px,#00edff 9px,#0067ff 33px,#0053ff 52px,#005eff 97px,#0098ff 110px,#00f7ff 127px,#09fff6 133px)"></i><i style="background:linear-gradient(90deg,#11ffee 0px,#00f4ff 9px,#007bff 33px,#006aff 56px,#0075ff 98px,#00b2ff 112px,#03fffc 128px,#10ffef 133px)"></i><i style="background:linear-gradient(90deg,#18ffe7 0px,#00f5ff 11px,#0090ff 33px,#0081ff 62px,#008dff 99px,#00d0ff 115px,#04fffb 126px,#17ffe8 133px)"></i><i style="background:linear-gradient(90deg,#20ffdf 0px,#00f6ff 13px,#00a4ff 33px,#0098ff 73px,#00a6ff 101px,#06fff9 124px,#1fffe0 133px)"></i><i style="background:linear-gradient(90deg,#28ffd7 0px,#00f9ff 15px,#00b8ff 34px,#00b4ff 96px,#00e2ff 113px,#08fff7 122px,#27ffd8 133px)"></i><i style="background:linear-gradient(90deg,#31ffce 0px,#00f7ff 19px,#00caff 37px,#00ceff 100px,#09fff6 119px,#30ffcf 133px)"></i><i style="background:linear-gradient(90deg,#3affc5 0px,#00f7ff 24px,#00ddff 46px,#00e6ff 102px,#09fff6 115px,#39ffc6 133px)"></i><i style="background:linear-gradient(90deg,#43ffbc 0px,#00fbff 32px,#00fcff 102px,#43ffbc 133px)"></i><i style="background:linear-gradient(90deg,#4effb1 0px,#10ffef 38px,#18ffe7 105px,#4dffb2 133px)"></i><i style="background:linear-gradient(90deg,#58ffa7 0px,#28ffd7 40px,#31ffce 107px,#58ffa7 133px)"></i><i style="background:linear-gradient(90deg,#63ff9c 0px,#40ffbf 45px,#4bffb4 111px,#63ff9c 133px)"></i><i style="background:linear-gradient(90deg,#6eff91 0px,#59ffa6 59px,#67ff98 121px,#6eff91 133px)"></i><i style="background:linear-gradient(90deg,#79ff86 0px,#79ff86 133px)"></i><i style="background:linear-gradient(90deg,#85ff7a 0px,#85ff7a 133px)"></i><i style="background:linear-gradient(90deg,#8fff70 0px,#a2ff5d 64px,#92ff6d 127px,#8fff70 133px)"></i><i style="background:linear-gradient(90deg,#99ff66 0px,#b8ff47 47px,#acff53 113px,#99ff66 133px)"></i><i style="background:linear-gradient(90deg,#a3ff5c 0px,#cdff32 42px,#c3ff3c 109px,#a3ff5c 133px)"></i><i style="background:linear-gradient(90deg,#acff53 0px,#e2ff1d 39px,#daff25 106px,#adff52 133px)"></i><i style="background:linear-gradient(90deg,#b5ff4a 0px,#f7ff08 37px,#f0ff0f 104px,#b6ff49 133px)"></i><i style="background:linear-gradient(90deg,#c0ff3f 0px,#fff800 29px,#ffed00 82px,#f7ff08 111px,#c0ff3f 133px)"></i><i style="background:linear-gradient(90deg,#caff35 0px,#fff700 21px,#ffd500 40px,#ffdd00 102px,#f7ff08 117px,#cbff34 133px)"></i><i style="background:linear-gradient(90deg,#d4ff2b 0px,#fff800 16px,#ffc000 35px,#ffc000 99px,#fffb00 118px,#d5ff2a 133px)"></i><i style="background:linear-gradient(90deg,#deff21 0px,#fff600 13px,#ffaa00 33px,#ffa000 87px,#ffb800 106px,#f9ff06 124px,#dfff20 133px)"></i><i style="background:linear-gradient(90deg,#e8ff17 0px,#fff700 10px,#ff9500 32px,#ff8500 61px,#ff9200 100px,#ffd800 117px,#faff05 127px,#e9ff16 133px)"></i><i style="background:linear-gradient(90deg,#f1ff0e 0px,#fff400 8px,#ff7e00 32px,#ff6c00 55px,#ff7600 98px,#ffad00 112px,#fdff02 129px,#f2ff0d 133px)"></i><i style="background:linear-gradient(90deg,#f9ff06 0px,#ffd700 12px,#ff6700 32px,#ff5200 51px,#ff5c00 97px,#ff9000 110px,#fff500 128px,#faff05 133px)"></i><i style="background:linear-gradient(90deg,#fffd00 0px,#ffbb00 15px,#ff5100 32px,#ff3800 49px,#ff4200 96px,#ff7300 108px,#ffe800 127px,#fffc00 133px)"></i><i style="background:linear-gradient(90deg,#fff500 0px,#ffb800 14px,#ff3b00 32px,#ff1f00 47px,#ff2700 95px,#ff5b00 107px,#ffd800 125px,#fff400 133px)"></i><i style="background:linear-gradient(90deg,#ffee00 0px,#ffb000 14px,#ff2200 33px,#ff0600 47px,#ff0e00 94px,#ff3d00 105px,#ffcc00 124px,#ffed00 133px)"></i><i style="background:linear-gradient(90deg,#ffeb00 0px,#ffb400 13px,#ff1500 33px,#f90000 41px,#f80000 92px,#ff1300 100px,#ffc900 124px,#ffea00 133px)"></i><i style="background:linear-gradient(90deg,#ffe700 0px,#ffb300 13px,#ff0300 34px,#e10000 48px,#ea0000 93px,#ff0700 100px,#ffbd00 122px,#ffe600 133px)"></i><i style="background:linear-gradient(90deg,#ffe400 0px,#ffb300 13px,#ff3e00 26px,#fe0000 33px,#d50000 43px,#d60000 91px,#ff0300 101px,#ffb000 120px,#ffe400 133px)"></i><i style="background:linear-gradient(90deg,#ffe200 0px,#ffb300 13px,#ff5300 24px,#fe0000 32px,#c90000 41px,#bc0000 69px,#c80000 92px,#ff0400 102px,#ffa400 118px,#ffda00 130px,#ffe100 133px)"></i><i style="background:linear-gradient(90deg,#ffdf00 0px,#ffaf00 14px,#ff5600 24px,#f90000 32px,#bb0000 41px,#ab0000 61px,#b60000 91px,#eb0000 100px,#ff0b00 103px,#ff9700 116px,#ffd300 128px,#ffde00 133px)"></i><i style="background:linear-gradient(90deg,#ffe000 0px,#ffb700 14px,#ff6300 24px,#ff0200 32px,#b90000 41px,#a50000 56px,#b00000 90px,#de0000 98px,#ff0900 102px,#ff9a00 115px,#ffd100 126px,#ffe000 133px)"></i><i style="background:linear-gradient(90deg,#ffe200 0px,#ffba00 15px,#ff7300 24px,#ff0200 33px,#b90000 41px,#a10000 53px,#ac0000 89px,#dc0000 97px,#ff0900 101px,#ff9600 113px,#ffd000 124px,#ffe100 133px)"></i><i style="background:linear-gradient(90deg,#ffe300 0px,#ffbe00 16px,#ff7a00 25px,#f70000 35px,#b60000 42px,#9e0000 53px,#a80000 88px,#db0000 96px,#fe0000 99px,#ff9300 111px,#ffcd00 121px,#ffe300 133px)"></i><i style="background:linear-gradient(90deg,#ffe400 0px,#ffc300 17px,#ff8300 26px,#fc0000 36px,#b50000 43px,#9b0000 53px,#a20000 86px,#c90000 93px,#ff0500 98px,#ff9300 109px,#ffcd00 119px,#ffe400 133px)"></i><i style="background:linear-gradient(90deg,#ffea00 0px,#ffcc00 19px,#ff8e00 28px,#f70000 39px,#ba0000 46px,#a90000 61px,#b50000 86px,#e60000 93px,#ff0000 95px,#ff9400 106px,#ffce00 115px,#ffea00 133px)"></i><i style="background:linear-gradient(90deg,#fff000 0px,#ffd600 21px,#ff9c00 30px,#ff0400 41px,#c90000 48px,#bb0000 68px,#c70000 85px,#fe0000 92px,#ffa200 104px,#ffd800 113px,#fff000 133px)"></i><i style="background:linear-gradient(90deg,#fff500 0px,#ffe000 23px,#ffae00 32px,#ff3200 41px,#fc0000 45px,#d40000 52px,#d60000 82px,#ff0400 89px,#ffaa00 101px,#ffdf00 110px,#fff500 133px)"></i><i style="background:linear-gradient(90deg,#fffa00 0px,#ffe700 27px,#ffba00 35px,#ff4b00 43px,#ff0000 49px,#e70000 57px,#f10000 82px,#ff0e00 86px,#ffb700 98px,#ffe600 106px,#fffa00 132px,#fffa00 133px)"></i><i style="background:linear-gradient(90deg,#faff05 0px,#fff600 31px,#ffcd00 39px,#ff5b00 47px,#ff2300 52px,#ff1200 62px,#ff1b00 80px,#ff4700 85px,#ffc900 94px,#fff500 102px,#faff05 133px)"></i><i style="background:linear-gradient(90deg,#f0ff0f 0px,#fbff04 37px,#ffe700 43px,#ff9700 49px,#ff5200 54px,#ff3e00 62px,#ff4800 78px,#ff7f00 83px,#ffda00 89px,#ffff00 95px,#f0ff0f 127px,#f0ff0f 133px)"></i><i style="background:linear-gradient(90deg,#e6ff19 0px,#f0ff0f 46px,#fff800 50px,#ffa600 55px,#ff7900 58px,#ff6b00 66px,#ff7600 75px,#ffb200 79px,#fff400 83px,#edff12 89px,#e6ff19 133px)"></i><i style="background:linear-gradient(90deg,#d8ff27 0px,#e1ff1e 52px,#fffa00 56px,#ffb000 60px,#ffa100 66px,#ffac00 73px,#fbff04 78px,#ddff22 83px,#d8ff27 133px)"></i><i style="background:linear-gradient(90deg,#caff35 0px,#d4ff2b 53px,#fff800 58px,#ffd600 62px,#ffdc00 73px,#fdff02 76px,#d5ff2a 80px,#caff35 116px,#caff35 133px)"></i><i style="background:linear-gradient(90deg,#bcff43 0px,#c6ff39 54px,#fcff03 62px,#f8ff07 73px,#c4ff3b 80px,#bcff43 133px)"></i><i style="background:linear-gradient(90deg,#b6ff49 0px,#bdff42 54px,#e5ff1a 62px,#ddff22 74px,#baff45 81px,#b6ff49 133px)"></i><i style="background:linear-gradient(90deg,#b0ff4f 0px,#b7ff48 55px,#d1ff2e 64px,#c7ff38 75px,#b1ff4e 84px,#b0ff4f 133px)"></i><i style="background:linear-gradient(90deg,#aaff55 0px,#b1ff4e 56px,#c1ff3e 68px,#aaff55 90px,#aaff55 133px)"></i><i style="background:linear-gradient(90deg,#a3ff5c 0px,#adff52 58px,#abff54 76px,#a3ff5c 133px)"></i><i style="background:linear-gradient(90deg,#9dff62 0px,#a0ff5f 78px,#9dff62 133px)"></i><i style="height:1px;background:linear-gradient(90deg,#98ff67 0px,#98ff67 133px)"></i></div></div>
<div class="f s2" style="left:32px;top:574px;width:135px;height:159px;clip-path:polygon(69.5px 0px,134.1px 39.2px,134.1px 119px,65px 158.7px,0.6px 119px,0.6px 39.2px);"><div><i style="background:linear-gradient(90deg,#f7ff08 0px,#ffcb00 31px,#ff6c00 60px,#ff6c00 74px,#ffcc00 103px,#f7ff08 134px)"></i><i style="background:linear-gradient(90deg,#f4ff0b 0px,#ffe300 21px,#ff7d00 48px,#ff4a00 63px,#ff5800 77px,#ffe200 112px,#f6ff09 133px,#f4ff0b 134px)"></i><i style="background:linear-gradient(90deg,#f1ff0e 0px,#ffee00 17px,#ffad00 35px,#ff3600 59px,#ff3000 72px,#ff6d00 87px,#ffd900 109px,#f8ff07 130px,#f1ff0e 134px)"></i><i style="background:linear-gradient(90deg,#eeff11 0px,#fff000 17px,#ff9900 37px,#ff2600 56px,#ff0f00 68px,#ff3400 81px,#ffc400 105px,#fff900 121px,#eeff11 134px)"></i><i style="background:linear-gradient(90deg,#ebff14 0px,#fff500 16px,#ff9f00 34px,#ff1000 55px,#f60000 64px,#ff0800 77px,#ff7b00 95px,#ffce00 108px,#ffff00 123px,#ebff14 134px)"></i><i style="background:linear-gradient(90deg,#e8ff17 0px,#fff500 16px,#ffb100 30px,#ff0d00 52px,#eb0000 60px,#e70000 72px,#ff0900 81px,#ff7400 96px,#ffd500 110px,#fbff04 123px,#e8ff17 134px)"></i><i style="background:linear-gradient(90deg,#e5ff1a 0px,#fff900 15px,#ffb700 28px,#ff0a00 50px,#d40000 62px,#da0000 74px,#ff0500 83px,#ff9900 102px,#ffe600 114px,#f6ff09 124px,#e5ff1a 134px)"></i><i style="background:linear-gradient(90deg,#e5ff1a 0px,#fff600 16px,#ffb800 27px,#fb0000 50px,#c10000 62px,#c40000 73px,#ff0400 85px,#ffe200 113px,#f6ff09 123px,#e5ff1a 134px)"></i><i style="background:linear-gradient(90deg,#e4ff1b 0px,#fff900 16px,#ffa200 29px,#fd0000 48px,#bc0000 59px,#b30000 71px,#da0000 81px,#ff0700 87px,#ffe100 113px,#faff05 121px,#e3ff1c 134px)"></i><i style="background:linear-gradient(90deg,#e2ff1d 0px,#faff05 14px,#ffc900 24px,#fa0000 47px,#b60000 60px,#b20000 72px,#ec0000 85px,#ff0e00 89px,#ffe000 113px,#faff05 120px,#e2ff1d 134px)"></i><i style="background:linear-gradient(90deg,#e0ff1f 0px,#f6ff09 14px,#ffe700 20px,#ff4000 39px,#fa0000 47px,#b30000 60px,#ac0000 71px,#e60000 84px,#ff0b00 89px,#ffe200 113px,#faff05 119px,#e3ff1c 130px,#dfff20 134px)"></i><i style="background:linear-gradient(90deg,#ddff22 0px,#f2ff0d 14px,#fff200 19px,#ff6800 35px,#fc0000 47px,#b10000 60px,#a90000 71px,#e00000 83px,#ff0600 88px,#ffec00 114px,#f5ff0a 119px,#e0ff1f 131px,#ddff22 134px)"></i><i style="background:linear-gradient(90deg,#d9ff26 0px,#f0ff0f 15px,#fff100 20px,#ff0000 47px,#ae0000 60px,#a60000 71px,#e20000 83px,#ff0a00 88px,#fff200 114px,#efff10 119px,#d9ff26 134px)"></i><i style="background:linear-gradient(90deg,#d4ff2b 0px,#f2ff0d 17px,#fff200 21px,#fa0000 48px,#ac0000 60px,#a10000 70px,#d40000 81px,#ff0500 87px,#fffa00 114px,#e3ff1c 122px,#d4ff2b 134px)"></i><i style="background:linear-gradient(90deg,#ceff31 0px,#eeff11 18px,#fff500 22px,#fe0000 48px,#c50000 56px,#af0000 68px,#cf0000 80px,#ff0a00 87px,#fffd00 113px,#e4ff1b 119px,#ceff31 134px)"></i><i style="background:linear-gradient(90deg,#c6ff39 0px,#efff10 20px,#fff000 24px,#fe0000 49px,#c50000 62px,#cb0000 74px,#ff0600 86px,#fffa00 111px,#e2ff1d 118px,#c6ff39 134px)"></i><i style="background:linear-gradient(90deg,#beff41 0px,#e8ff17 21px,#fff500 25px,#ff2700 46px,#f90000 53px,#d30000 65px,#e70000 77px,#ff0600 83px,#ff5600 93px,#ffff00 110px,#e4ff1b 115px,#bdff42 134px)"></i><i style="background:linear-gradient(90deg,#b3ff4c 0px,#cdff32 14px,#f1ff0e 24px,#ffe900 28px,#ff4200 45px,#fd0000 56px,#e50000 68px,#ff0800 80px,#ff7800 95px,#fffd00 108px,#e3ff1c 113px,#b5ff4a 131px,#b3ff4c 134px)"></i><i style="background:linear-gradient(90deg,#a8ff57 0px,#b4ff4b 11px,#f2ff0d 26px,#ffe600 30px,#ff5600 45px,#ff0500 59px,#fc0000 72px,#ff2d00 83px,#ffa800 98px,#f9ff06 107px,#e0ff1f 112px,#a7ff58 129px,#a8ff57 134px)"></i><i style="background:linear-gradient(90deg,#98ff67 0px,#a0ff5f 10px,#f3ff0c 28px,#ffe300 32px,#ff4c00 49px,#ff0e00 62px,#ff1400 74px,#ff5c00 87px,#faff05 105px,#e3ff1c 109px,#96ff69 128px,#99ff66 134px)"></i><i style="background:linear-gradient(90deg,#86ff79 0px,#88ff77 9px,#f3ff0c 30px,#ffe200 34px,#ff5200 51px,#ff2400 62px,#ff2b00 75px,#ff7700 88px,#fcff03 103px,#e2ff1d 107px,#82ff7d 127px,#86ff79 134px)"></i><i style="background:linear-gradient(90deg,#72ff8d 0px,#6eff91 8px,#a9ff56 19px,#f4ff0b 32px,#ffd900 37px,#ff5f00 52px,#ff3a00 65px,#ff4e00 78px,#ff9300 89px,#fcff03 101px,#e2ff1d 105px,#71ff8e 125px,#6fff90 133px,#72ff8d 134px)"></i><i style="background:linear-gradient(90deg,#5bffa4 0px,#53ffac 7px,#7cff83 16px,#e3ff1c 31px,#fff700 36px,#ff8100 50px,#ff5500 63px,#ff6300 77px,#ffa600 89px,#fbff04 99px,#e2ff1d 103px,#5effa1 123px,#52ffad 131px,#5cffa3 134px)"></i><i style="background:linear-gradient(90deg,#42ffbd 0px,#38ffc7 7px,#5affa5 15px,#dfff20 32px,#fff700 38px,#ff9800 50px,#ff6e00 63px,#ff7b00 77px,#ffba00 89px,#fbff04 97px,#deff21 102px,#41ffbe 123px,#3bffc4 132px,#43ffbc 134px)"></i><i style="background:linear-gradient(90deg,#28ffd7 0px,#1affe5 7px,#2fffd0 13px,#daff25 33px,#fff800 40px,#ffa400 52px,#ff8600 66px,#ff9c00 80px,#ffe800 92px,#f1ff0e 96px,#b2ff4d 106px,#26ffd9 122px,#1bffe4 131px,#29ffd6 134px)"></i><i style="background:linear-gradient(90deg,#0cfff3 0px,#00faff 6px,#09fff6 12px,#7dff82 25px,#d9ff26 35px,#fffa00 42px,#ffb100 54px,#ffa000 70px,#ffbf00 83px,#faff05 93px,#b1ff4e 104px,#2dffd2 117px,#00fcff 124px,#07fff8 133px,#0efff1 134px)"></i><i style="background:linear-gradient(90deg,#00eeff 0px,#00d8ff 9px,#06fff9 16px,#54ffab 24px,#ccff33 35px,#fffc00 44px,#ffc400 55px,#ffb200 70px,#ffdd00 85px,#f8ff07 91px,#b0ff4f 102px,#1cffe3 115px,#00f4ff 120px,#00d8ff 126px,#00f0ff 134px)"></i><i style="background:linear-gradient(90deg,#00d0ff 0px,#00b6ff 9px,#02fffd 20px,#baff45 35px,#ffff00 46px,#ffc400 61px,#ffc900 75px,#f6ff09 89px,#b8ff47 99px,#18ffe7 112px,#00f7ff 115px,#00b5ff 126px,#00d2ff 134px)"></i><i style="background:linear-gradient(90deg,#00b4ff 0px,#0092ff 8px,#00dcff 20px,#09fff6 23px,#baff45 37px,#e5ff1a 44px,#fff400 51px,#ffcd00 65px,#ffe300 79px,#f4ff0b 87px,#c2ff3d 96px,#23ffdc 109px,#00f6ff 112px,#00c9ff 116px,#0091ff 126px,#00b5ff 134px)"></i><i style="background:linear-gradient(90deg,#0099ff 0px,#0073ff 8px,#00acff 19px,#06fff9 25px,#bcff43 39px,#e5ff1a 46px,#fff700 53px,#ffdb00 67px,#fff800 81px,#ccff33 93px,#57ffa8 103px,#03fffc 109px,#00a3ff 116px,#0071ff 127px,#009bff 134px)"></i><i style="background:linear-gradient(90deg,#007fff 0px,#0052ff 7px,#007dff 18px,#03fffc 27px,#b4ff4b 40px,#e3ff1c 47px,#fff800 56px,#ffea00 71px,#f6ff09 82px,#c5ff3a 92px,#57ffa8 101px,#00ffff 107px,#007bff 116px,#0054ff 128px,#0080ff 134px)"></i><i style="background:linear-gradient(90deg,#0065ff 0px,#0033ff 6px,#0051ff 17px,#01fffe 29px,#aeff51 41px,#e0ff1f 48px,#fffa00 60px,#f7ff08 79px,#c8ff37 90px,#5cffa3 99px,#00fdff 105px,#0050ff 117px,#0033ff 128px,#0067ff 134px)"></i><i style="background:linear-gradient(90deg,#004dff 0px,#0019ff 6px,#002fff 17px,#03fffc 31px,#9dff62 41px,#dcff23 49px,#fffd00 66px,#e3ff1c 83px,#b1ff4e 91px,#22ffdd 101px,#00ffff 103px,#002cff 117px,#001eff 129px,#004fff 134px)"></i><i style="background:linear-gradient(90deg,#0037ff 0px,#0001ff 5px,#0008ff 16px,#00faff 32px,#a3ff5c 43px,#e1ff1e 52px,#fcff03 69px,#d1ff2e 85px,#8aff75 93px,#00f7ff 102px,#0008ff 118px,#0003ff 129px,#003aff 134px)"></i><i style="background:linear-gradient(90deg,#0024ff 0px,#0000fe 3px,#0000eb 6px,#0000ec 16px,#000aff 18px,#00d1ff 31px,#09fff6 34px,#89ff76 42px,#d9ff26 52px,#f9ff06 68px,#d3ff2c 83px,#7bff84 93px,#05fffa 100px,#0050ff 111px,#0000f8 117px,#0000e9 119px,#0000f5 130px,#0026ff 134px)"></i><i style="background:linear-gradient(90deg,#0013ff 0px,#0000eb 3px,#0000d7 7px,#0000d8 16px,#0003ff 19px,#00aaff 30px,#08fff7 35px,#79ff86 42px,#d7ff28 53px,#f4ff0b 69px,#d0ff2f 82px,#5dffa2 94px,#05fffa 99px,#0057ff 109px,#0001ff 115px,#0000d0 119px,#0000e1 130px,#0009ff 133px,#0016ff 134px)"></i><i style="background:linear-gradient(90deg,#0006ff 0px,#0000ce 4px,#0000bb 15px,#0000ff 20px,#0085ff 29px,#00f8ff 35px,#60ff9f 41px,#cfff30 53px,#f1ff0e 68px,#c9ff36 82px,#52ffad 94px,#08fff7 98px,#0052ff 108px,#0000fc 114px,#0000bb 119px,#0000d1 130px,#0008ff 134px)"></i><i style="background:linear-gradient(90deg,#0000fb 0px,#0000c3 4px,#0000ac 15px,#0001ff 21px,#0078ff 29px,#01fffe 36px,#54ffab 41px,#c3ff3c 52px,#edff12 68px,#baff45 83px,#36ffc9 95px,#00fcff 98px,#0044ff 108px,#0000fd 113px,#0000ac 119px,#0000c4 130px,#0000fd 134px)"></i><i style="background:linear-gradient(90deg,#0000f4 0px,#0000bd 4px,#0000a5 15px,#0006ff 22px,#0070ff 29px,#00f9ff 36px,#4dffb2 41px,#bdff42 52px,#e9ff16 68px,#b5ff4a 83px,#31ffce 95px,#00f5ff 98px,#003bff 108px,#0004ff 112px,#0000a2 119px,#0000be 130px,#0000f7 134px)"></i><i style="background:linear-gradient(90deg,#0000f2 0px,#0000ba 4px,#0000a1 15px,#0003ff 22px,#006dff 29px,#00f6ff 36px,#55ffaa 42px,#baff45 52px,#e3ff1c 68px,#b4ff4b 83px,#2effd1 95px,#07fff8 97px,#0038ff 108px,#0000ff 112px,#00009f 119px,#0000bb 130px,#0000f5 134px)"></i><i style="background:linear-gradient(90deg,#0000f3 0px,#0000bc 4px,#0000a3 15px,#0005ff 22px,#006fff 29px,#00f8ff 36px,#4cffb3 41px,#bbff44 52px,#e7ff18 68px,#b5ff4a 83px,#30ffcf 95px,#00f4ff 98px,#0039ff 108px,#0002ff 112px,#0000a0 119px,#0000bc 130px,#0000f6 134px)"></i><i style="background:linear-gradient(90deg,#0000f8 0px,#0000c1 4px,#0000aa 15px,#0000fd 21px,#0075ff 29px,#00feff 36px,#52ffad 41px,#c1ff3e 52px,#ecff13 68px,#b8ff47 83px,#34ffcb 95px,#00faff 98px,#0041ff 108px,#0000fa 113px,#0000a8 119px,#0000c2 130px,#0000fb 134px)"></i><i style="background:linear-gradient(90deg,#0002ff 0px,#0000ca 4px,#0000b6 15px,#0000fb 20px,#0081ff 29px,#08fff7 36px,#5cffa3 41px,#cdff32 53px,#f0ff0f 68px,#c7ff38 82px,#4fffb0 94px,#04fffb 98px,#004eff 108px,#0000f8 114px,#0000b6 119px,#0000cd 130px,#0005ff 134px)"></i><i style="background:linear-gradient(90deg,#000fff 0px,#0000f3 2px,#0000d5 5px,#0000c9 15px,#0000fd 19px,#00a4ff 30px,#03fffc 35px,#69ff96 41px,#d5ff2a 53px,#f3ff0c 69px,#ceff31 82px,#59ffa6 94px,#00ffff 99px,#005fff 108px,#0000fa 115px,#0000c9 119px,#0000dc 130px,#0004ff 133px,#0011ff 134px)"></i><i style="background:linear-gradient(90deg,#001fff 0px,#0000f8 3px,#0000e5 6px,#0000e6 16px,#0004ff 18px,#00b8ff 30px,#03fffc 34px,#84ff7b 42px,#dcff23 53px,#f7ff08 69px,#d0ff2f 83px,#76ff89 93px,#00feff 100px,#0075ff 108px,#0001ff 116px,#0000e3 118px,#0000ef 130px,#0015ff 133px,#0021ff 134px)"></i><i style="background:linear-gradient(90deg,#0031ff 0px,#0000fa 5px,#0000fe 16px,#00e1ff 31px,#06fff9 33px,#95ff6a 42px,#dfff20 52px,#fbff04 69px,#d4ff2b 84px,#85ff7a 93px,#03fffc 101px,#000aff 117px,#0000fa 123px,#0006ff 130px,#0034ff 134px)"></i><i style="background:linear-gradient(90deg,#0047ff 0px,#0012ff 6px,#0027ff 17px,#00faff 31px,#a4ff5b 42px,#e2ff1d 51px,#ffff00 69px,#d3ff2c 86px,#95ff6a 93px,#00f7ff 103px,#0024ff 117px,#0015ff 129px,#0049ff 134px)"></i><i style="background:linear-gradient(90deg,#005eff 0px,#002bff 6px,#0046ff 17px,#07fff8 30px,#a9ff56 41px,#deff21 48px,#fffc00 62px,#f4ff0b 79px,#c5ff3a 90px,#54ffab 99px,#04fffb 104px,#0045ff 117px,#002bff 128px,#0060ff 134px)"></i><i style="background:linear-gradient(90deg,#0077ff 0px,#0049ff 7px,#0072ff 18px,#08fff7 28px,#afff50 40px,#e1ff1e 47px,#fff800 57px,#fff100 73px,#f7ff08 81px,#c9ff36 91px,#5effa1 100px,#00f6ff 107px,#0070ff 116px,#004aff 128px,#0079ff 134px)"></i><i style="background:linear-gradient(90deg,#0091ff 0px,#0066ff 7px,#00a2ff 19px,#00fbff 25px,#c0ff3f 40px,#ffff00 52px,#ffdf00 66px,#fff800 80px,#c7ff38 93px,#4effb1 103px,#00f8ff 109px,#0097ff 116px,#0066ff 127px,#0093ff 134px)"></i><i style="background:linear-gradient(90deg,#00acff 0px,#0089ff 8px,#00d2ff 20px,#00feff 23px,#b5ff4a 37px,#e4ff1b 44px,#fff300 52px,#ffd100 66px,#ffeb00 80px,#f6ff09 86px,#bdff42 96px,#00fbff 111px,#00beff 116px,#0089ff 127px,#00adff 134px)"></i><i style="background:linear-gradient(90deg,#00c7ff 0px,#00adff 9px,#02fffd 21px,#aaff55 34px,#e4ff1b 42px,#fff200 49px,#ffc400 64px,#ffd700 78px,#f9ff06 88px,#bcff43 98px,#1cffe3 111px,#00ffff 113px,#00acff 125px,#00c9ff 134px)"></i><i style="background:linear-gradient(90deg,#00e5ff 0px,#00cdff 9px,#03fffc 17px,#4cffb3 24px,#c7ff38 35px,#fffa00 45px,#ffc700 56px,#ffb700 70px,#ffe200 85px,#fbff04 90px,#b3ff4c 101px,#12ffed 115px,#00f1ff 119px,#00ceff 126px,#00e7ff 134px)"></i><i style="background:linear-gradient(90deg,#03fffc 0px,#00f2ff 10px,#0efff1 14px,#75ff8a 25px,#d6ff29 35px,#fff700 43px,#ffb500 55px,#ffaa00 73px,#ffcf00 85px,#fdff02 92px,#abff54 104px,#2cffd3 116px,#00f7ff 123px,#00f8ff 132px,#05fffa 134px)"></i><i style="background:linear-gradient(90deg,#20ffdf 0px,#11ffee 7px,#26ffd9 13px,#dcff23 34px,#fff500 41px,#ffa600 53px,#ff8d00 67px,#ffa700 81px,#fff700 93px,#b5ff4a 105px,#24ffdb 121px,#11ffee 129px,#21ffde 134px)"></i><i style="background:linear-gradient(90deg,#3bffc4 0px,#2fffd0 7px,#4affb5 14px,#dcff23 32px,#f7ff08 37px,#ff9400 52px,#ff7400 66px,#ff8c00 80px,#ffda00 92px,#f5ff0a 97px,#adff52 108px,#38ffc7 123px,#32ffcd 132px,#3cffc3 134px)"></i><i style="background:linear-gradient(90deg,#54ffab 0px,#4bffb4 7px,#75ff8a 16px,#e1ff1e 31px,#fff300 37px,#ff8800 50px,#ff5c00 63px,#ff6a00 77px,#ffac00 89px,#ffff00 98px,#dbff24 104px,#56ffa9 123px,#4affb5 131px,#55ffaa 134px)"></i><i style="background:linear-gradient(90deg,#6bff94 0px,#67ff98 8px,#9bff64 18px,#e4ff1b 30px,#fff200 35px,#ff6b00 51px,#ff4200 64px,#ff5200 77px,#ff9100 88px,#fffe00 100px,#e0ff1f 105px,#6dff92 124px,#66ff99 132px,#6cff93 134px)"></i><i style="background:linear-gradient(90deg,#80ff7f 0px,#82ff7d 9px,#f8ff07 31px,#ff5100 52px,#ff2900 64px,#ff3900 77px,#ff8d00 90px,#fffe00 102px,#e0ff1f 107px,#7eff81 126px,#81ff7e 134px)"></i><i style="background:linear-gradient(90deg,#93ff6c 0px,#9aff65 10px,#f7ff08 29px,#ff4400 51px,#ff1200 63px,#ff1d00 75px,#ff7100 89px,#ffff00 104px,#e1ff1e 109px,#91ff6e 127px,#93ff6c 134px)"></i><i style="background:linear-gradient(90deg,#a4ff5b 0px,#b0ff4f 11px,#f6ff09 27px,#ffd700 32px,#ff4500 48px,#ff0400 61px,#ff0800 74px,#ff4e00 87px,#ffe300 103px,#f4ff0b 107px,#a3ff5c 128px,#a4ff5b 134px)"></i><i style="background:linear-gradient(90deg,#b0ff4f 0px,#c6ff39 13px,#f5ff0a 25px,#ffd100 31px,#ff4800 45px,#fe0000 57px,#eb0000 69px,#ff0900 79px,#ff7400 94px,#fcff03 108px,#e2ff1d 113px,#b1ff4e 130px,#b0ff4f 134px)"></i><i style="background:linear-gradient(90deg,#bbff44 0px,#e5ff1a 21px,#fff900 25px,#ff2d00 46px,#f90000 54px,#d80000 66px,#f10000 78px,#ff0c00 83px,#ff6400 94px,#fffb00 109px,#e0ff1f 116px,#baff45 134px)"></i><i style="background:linear-gradient(90deg,#c4ff3b 0px,#ebff14 20px,#fff400 24px,#ff0400 49px,#c90000 63px,#d30000 75px,#ff0600 85px,#ff7900 97px,#fffe00 111px,#e3ff1c 117px,#c4ff3b 134px)"></i><i style="background:linear-gradient(90deg,#ccff33 0px,#f1ff0e 19px,#fff000 23px,#ff0000 48px,#c70000 57px,#b50000 69px,#df0000 82px,#ff0b00 87px,#fdff02 113px,#e3ff1c 119px,#cbff34 134px)"></i><i style="background:linear-gradient(90deg,#d2ff2d 0px,#efff10 17px,#ffed00 22px,#fb0000 48px,#ab0000 60px,#a70000 72px,#e40000 83px,#ff0600 87px,#fffd00 114px,#e4ff1b 121px,#d2ff2d 134px)"></i><i style="background:linear-gradient(90deg,#d8ff27 0px,#f2ff0d 16px,#ffec00 21px,#ff0100 47px,#ae0000 60px,#a30000 70px,#d40000 81px,#ff0b00 88px,#fff400 114px,#e5ff1a 121px,#d7ff28 134px)"></i><i style="background:linear-gradient(90deg,#dcff23 0px,#f0ff0f 14px,#fff300 19px,#ff6800 35px,#fd0000 47px,#b00000 60px,#a80000 71px,#e10000 83px,#ff0700 88px,#ffee00 114px,#f3ff0c 119px,#dcff23 134px)"></i><i style="background:linear-gradient(90deg,#dfff20 0px,#f5ff0a 14px,#ffe800 20px,#ff4900 38px,#fa0000 47px,#b30000 60px,#ac0000 71px,#e70000 84px,#ff0c00 89px,#ffe300 113px,#f9ff06 119px,#e2ff1d 131px,#dfff20 134px)"></i><i style="background:linear-gradient(90deg,#e1ff1e 0px,#f9ff06 14px,#ffd100 23px,#ff0100 46px,#b50000 60px,#b10000 72px,#ec0000 85px,#ff0c00 89px,#ffe100 113px,#f9ff06 120px,#e1ff1e 134px)"></i><i style="background:linear-gradient(90deg,#e3ff1c 0px,#fff600 17px,#ff9800 30px,#f90000 48px,#be0000 58px,#b00000 70px,#dc0000 82px,#ff0400 87px,#ffe000 113px,#f9ff06 121px,#e3ff1c 134px)"></i><i style="background:linear-gradient(90deg,#e4ff1b 0px,#fff700 16px,#ffae00 28px,#fe0000 49px,#bc0000 62px,#bf0000 73px,#ff0700 86px,#ffe200 113px,#f9ff06 122px,#e4ff1b 134px)"></i><i style="background:linear-gradient(90deg,#e5ff1a 0px,#fff500 16px,#ffb500 28px,#ff0500 50px,#cb0000 64px,#db0000 76px,#ff0700 84px,#ffdd00 112px,#f8ff07 123px,#e5ff1a 134px)"></i><i style="background:linear-gradient(90deg,#e7ff18 0px,#fff500 16px,#ffae00 30px,#ff0e00 51px,#ec0000 58px,#de0000 70px,#ff0900 82px,#ff8000 98px,#ffd900 111px,#fbff04 123px,#e7ff18 134px)"></i><i style="background:linear-gradient(90deg,#eaff15 0px,#fff500 16px,#ffa200 33px,#ff0e00 54px,#f20000 63px,#ff0700 78px,#ff6f00 94px,#ffcd00 108px,#feff01 123px,#eaff15 134px)"></i><i style="background:linear-gradient(90deg,#edff12 0px,#fff100 17px,#ff9b00 36px,#ff1e00 56px,#ff0600 68px,#ff2d00 81px,#ffc200 105px,#fff900 121px,#edff12 134px)"></i><i style="background:linear-gradient(90deg,#f0ff0f 0px,#ffee00 17px,#ff9d00 38px,#ff3500 57px,#ff2500 70px,#ff5500 84px,#ffc700 105px,#fff500 120px,#f0ff0f 134px)"></i><i style="background:linear-gradient(90deg,#f3ff0c 0px,#ffe800 19px,#ffa900 37px,#ff4700 60px,#ff4600 73px,#ffe500 113px,#f5ff0a 133px,#f3ff0c 134px)"></i><i style="background:linear-gradient(90deg,#f6ff09 0px,#ffd500 28px,#ff6100 61px,#ff6600 75px,#ffde00 111px,#f6ff09 134px)"></i><i style="height:1px;background:linear-gradient(90deg,#f9ff06 0px,#ffbd00 36px,#ff7800 60px,#ff7f00 78px,#ffd900 109px,#f9ff06 134px)"></i></div></div>
<div class="f s2" style="left:206px;top:571px;width:134px;height:159px;clip-path:polygon(69.5px 0.6px,133.8px 39.4px,133.8px 118.8px,64px 158.4px,0.4px 118.8px,0.4px 39.4px);"><div><i style="background:linear-gradient(90deg,#81ff7e 0px,#a2ff5d 25px,#cbff34 46px,#a7ff58 62px,#5effa1 84px,#63ff9c 103px,#7eff81 133px)"></i><i style="background:linear-gradient(90deg,#82ff7d 0px,#a4ff5b 22px,#e0ff1f 43px,#cbff34 56px,#55ffaa 83px,#50ffaf 98px,#7dff82 131px,#7eff81 133px)"></i><i style="background:linear-gradient(90deg,#83ff7c 0px,#a5ff5a 19px,#f9ff06 42px,#eaff15 53px,#4cffb3 82px,#3cffc3 95px,#7bff84 129px,#7dff82 133px)"></i><i style="background:linear-gradient(90deg,#84ff7b 0px,#acff53 18px,#fffc00 35px,#ffe600 46px,#f8ff07 55px,#42ffbd 81px,#27ffd8 93px,#79ff86 128px,#7cff83 133px)"></i><i style="background:linear-gradient(90deg,#86ff79 0px,#aeff51 16px,#fffa00 30px,#ffc600 41px,#ffd100 50px,#f8ff07 58px,#38ffc7 80px,#10ffef 91px,#2bffd4 104px,#72ff8d 125px,#7bff84 133px)"></i><i style="background:linear-gradient(90deg,#88ff77 0px,#b5ff4a 15px,#fffb00 26px,#ffa500 39px,#ffa400 47px,#ffde00 56px,#f7ff08 60px,#2fffd0 79px,#00fdff 87px,#00f8ff 97px,#1dffe2 106px,#6bff94 124px,#7aff85 133px)"></i><i style="background:linear-gradient(90deg,#8aff75 0px,#b6ff49 13px,#fffb00 23px,#ff8500 37px,#ff7800 45px,#ffa700 53px,#fcff03 61px,#1effe1 79px,#00faff 83px,#00d3ff 92px,#00ecff 102px,#0bfff4 107px,#65ff9a 124px,#78ff87 133px)"></i><i style="background:linear-gradient(90deg,#8cff73 0px,#bcff43 12px,#feff01 20px,#ff6000 36px,#ff4b00 43px,#ff6d00 50px,#ffe500 60px,#fcff03 62px,#0bfff4 79px,#00eaff 82px,#00b5ff 90px,#00b8ff 98px,#06fff9 110px,#5dffa2 124px,#75ff8a 133px)"></i><i style="background:linear-gradient(90deg,#8fff70 0px,#c1ff3e 11px,#fffe00 18px,#ff3c00 35px,#ff2000 42px,#ff4100 49px,#ffb500 58px,#f6ff09 63px,#05fffa 78px,#009cff 88px,#008aff 95px,#00b5ff 104px,#06fff9 113px,#59ffa6 125px,#72ff8d 133px)"></i><i style="background:linear-gradient(90deg,#93ff6c 0px,#cdff32 11px,#feff01 16px,#ff1900 34px,#f80000 39px,#ff0600 46px,#ff5300 53px,#ffff00 63px,#03fffc 77px,#008bff 86px,#0062ff 93px,#0071ff 100px,#00ebff 113px,#0bfff4 116px,#5affa5 127px,#6fff90 133px)"></i><i style="background:linear-gradient(90deg,#97ff68 0px,#d1ff2e 10px,#fff900 15px,#ff0500 32px,#cf0000 39px,#db0000 45px,#ff0200 49px,#ff8200 57px,#fff900 63px,#05fffa 76px,#006bff 86px,#003aff 93px,#0047ff 100px,#00abff 110px,#00fdff 117px,#57ffa8 128px,#6bff94 133px)"></i><i style="background:linear-gradient(90deg,#9aff65 0px,#ddff22 10px,#feff01 13px,#ff5900 24px,#f90000 30px,#b20000 37px,#b00000 43px,#e90000 49px,#ff0700 51px,#ffdf00 62px,#f3ff0c 64px,#0bfff4 75px,#00cfff 78px,#004dff 86px,#0012ff 93px,#0016ff 99px,#0061ff 107px,#00feff 119px,#54ffab 129px,#66ff99 133px)"></i><i style="background:linear-gradient(90deg,#9eff61 0px,#deff21 9px,#fffe00 12px,#ff4f00 23px,#f70000 28px,#9f0000 35px,#8d0000 41px,#bb0000 47px,#ff0900 52px,#fff300 63px,#c7ff38 66px,#00ffff 75px,#0041ff 85px,#0002ff 90px,#0000e4 96px,#000aff 103px,#03fffc 121px,#52ffad 130px,#61ff9e 133px)"></i><i style="background:linear-gradient(90deg,#a2ff5d 0px,#e8ff17 9px,#fffe00 11px,#ff5c00 21px,#ff0000 26px,#970000 33px,#800000 37px,#830000 43px,#cb0000 49px,#ff0100 52px,#fff500 63px,#adff52 67px,#0dfff2 74px,#00e0ff 76px,#001aff 86px,#0000fb 88px,#0000c4 94px,#0000ca 100px,#0007ff 106px,#00fcff 122px,#56ffa9 132px,#5cffa3 133px)"></i><i style="background:linear-gradient(90deg,#a6ff59 0px,#f1ff0e 9px,#fff400 11px,#ff4a00 21px,#fd0000 25px,#8f0000 32px,#800000 36px,#820000 44px,#d90000 50px,#ff0000 52px,#fff800 63px,#07fff8 74px,#0007ff 86px,#0000ad 93px,#00009f 98px,#0000c9 104px,#0002ff 108px,#00f9ff 123px,#56ffa9 133px)"></i><i style="background:linear-gradient(90deg,#a9ff56 0px,#fff800 10px,#ff5000 20px,#ff0300 24px,#840000 32px,#820000 44px,#ff0600 52px,#fffe00 63px,#03fffc 74px,#000eff 85px,#0000e8 87px,#000097 93px,#000084 98px,#0000aa 104px,#0006ff 110px,#00eaff 123px,#12ffed 126px,#50ffaf 133px)"></i><i style="background:linear-gradient(90deg,#acff53 0px,#ffff00 9px,#ff6e00 18px,#fa0000 24px,#8d0000 31px,#800000 35px,#810000 43px,#ea0000 50px,#fe0000 51px,#f8ff07 63px,#01fffe 74px,#0009ff 85px,#000089 93px,#000080 102px,#0000ca 108px,#0000fe 111px,#00dcff 123px,#07fff8 126px,#4bffb4 133px)"></i><i style="background:linear-gradient(90deg,#aeff51 0px,#fffb00 9px,#ff5800 19px,#fa0000 24px,#930000 31px,#800000 35px,#890000 42px,#eb0000 49px,#fd0000 50px,#fffa00 62px,#01fffe 74px,#000aff 85px,#0000bc 89px,#000084 93px,#000081 104px,#0000ec 111px,#0000ff 112px,#00dfff 124px,#09fff6 127px,#45ffba 133px)"></i><i style="background:linear-gradient(90deg,#b0ff4f 0px,#fffa00 9px,#ff4800 20px,#ff0200 24px,#a20000 31px,#880000 37px,#ad0000 43px,#ff0500 49px,#f7ff08 62px,#04fffb 74px,#0000fc 86px,#000087 93px,#000083 105px,#0006ff 113px,#00d5ff 124px,#02fffd 127px,#41ffbe 133px)"></i><i style="background:linear-gradient(90deg,#b0ff4f 0px,#fffb00 9px,#ff0000 25px,#b20000 32px,#a80000 38px,#d80000 44px,#ff0300 47px,#fdff02 61px,#09fff6 74px,#00a0ff 79px,#000bff 86px,#0000d1 89px,#000080 95px,#000083 105px,#0000ec 112px,#0000fe 113px,#00deff 125px,#09fff6 128px,#3dffc2 133px)"></i><i style="background:linear-gradient(90deg,#b0ff4f 0px,#fffe00 9px,#fb0000 27px,#cc0000 33px,#d10000 39px,#fd0000 44px,#ff9800 54px,#ffff00 60px,#00fcff 75px,#000bff 87px,#0000d4 90px,#000087 96px,#000083 104px,#0000cb 110px,#0000fe 113px,#00e9ff 126px,#11ffee 129px,#3affc5 133px)"></i><i style="background:linear-gradient(90deg,#afff50 0px,#fff800 10px,#ff1900 27px,#f90000 31px,#f20000 37px,#ff0900 41px,#ff7700 50px,#fdff02 59px,#08fff7 75px,#0072ff 83px,#0001ff 89px,#0000a1 96px,#00008b 101px,#0000ae 107px,#0006ff 113px,#00e7ff 126px,#03fffc 128px,#38ffc7 133px)"></i><i style="background:linear-gradient(90deg,#acff53 0px,#fdff02 10px,#ff3a00 27px,#ff1a00 34px,#ff3500 41px,#ffa700 51px,#f8ff07 58px,#03fffc 76px,#0000fe 91px,#0000b9 97px,#0000aa 103px,#0000d9 109px,#0003ff 112px,#00f5ff 127px,#38ffc7 133px)"></i><i style="background:linear-gradient(90deg,#aaff55 0px,#fff600 12px,#ff5d00 27px,#ff4500 34px,#ff6000 41px,#ffeb00 54px,#f0ff0f 57px,#11ffee 76px,#00f3ff 78px,#0008ff 93px,#0000cb 101px,#0000df 107px,#000aff 111px,#00f8ff 127px,#38ffc7 133px)"></i><i style="background:linear-gradient(90deg,#a6ff59 0px,#fffa00 13px,#ff8100 27px,#ff7000 35px,#ffa100 44px,#fbff04 54px,#1fffe0 76px,#00f8ff 79px,#0023ff 94px,#0000f9 99px,#0000f5 105px,#0010ff 109px,#0090ff 119px,#00feff 127px,#3affc5 133px)"></i><i style="background:linear-gradient(90deg,#a3ff5c 0px,#fffa00 15px,#ffa100 28px,#ff9f00 37px,#ffe600 48px,#f5ff0a 52px,#23ffdc 77px,#00ffff 80px,#0043ff 95px,#001bff 102px,#0031ff 109px,#00a1ff 119px,#06fff9 127px,#3dffc2 133px)"></i><i style="background:linear-gradient(90deg,#9fff60 0px,#fff700 18px,#ffc100 29px,#ffc900 38px,#fbff04 48px,#31ffce 77px,#00fdff 82px,#0064ff 96px,#0044ff 103px,#005bff 110px,#04fffb 126px,#41ffbe 133px)"></i><i style="background:linear-gradient(90deg,#9bff64 0px,#fff800 22px,#ffe100 33px,#f8ff07 44px,#3fffc0 77px,#01fffe 84px,#007fff 98px,#006eff 106px,#009aff 114px,#06fff9 125px,#46ffb9 133px)"></i><i style="background:linear-gradient(90deg,#97ff68 0px,#fdff02 28px,#efff10 40px,#45ffba 78px,#00fdff 87px,#00a2ff 99px,#0096ff 107px,#00ceff 117px,#0bfff4 124px,#4bffb4 133px)"></i><i style="background:linear-gradient(90deg,#93ff6c 0px,#e4ff1b 29px,#cdff32 43px,#4bffb4 79px,#00f8ff 91px,#00bdff 102px,#00c5ff 111px,#03fffc 121px,#51ffae 133px)"></i><i style="background:linear-gradient(90deg,#90ff6f 0px,#ceff31 29px,#afff50 47px,#52ffad 80px,#00fbff 95px,#00dbff 106px,#09fff6 119px,#56ffa9 133px)"></i><i style="background:linear-gradient(90deg,#8dff72 0px,#bcff43 30px,#63ff9c 78px,#00feff 102px,#08fff7 114px,#5cffa3 133px)"></i><i style="background:linear-gradient(90deg,#8aff75 0px,#acff53 32px,#62ff9d 81px,#17ffe8 104px,#27ffd8 117px,#62ff9d 133px)"></i><i style="background:linear-gradient(90deg,#88ff77 0px,#9fff60 34px,#64ff9b 83px,#2cffd3 106px,#47ffb8 122px,#67ff98 133px)"></i><i style="background:linear-gradient(90deg,#86ff79 0px,#94ff6b 37px,#66ff99 86px,#3fffc0 109px,#6bff94 133px)"></i><i style="background:linear-gradient(90deg,#84ff7b 0px,#8bff74 42px,#68ff97 89px,#50ffaf 112px,#70ff8f 133px)"></i><i style="background:linear-gradient(90deg,#82ff7d 0px,#83ff7c 53px,#66ff99 96px,#62ff9d 119px,#73ff8c 133px)"></i><i style="background:linear-gradient(90deg,#81ff7e 0px,#79ff86 84px,#6aff95 118px,#77ff88 133px)"></i><i style="background:linear-gradient(90deg,#80ff7f 0px,#73ff8c 100px,#79ff86 133px)"></i><i style="background:linear-gradient(90deg,#7fff80 0px,#7cff83 133px)"></i><i style="background:linear-gradient(90deg,#7eff81 0px,#7fff80 133px)"></i><i style="background:linear-gradient(90deg,#7cff83 0px,#81ff7e 74px,#81ff7e 133px)"></i><i style="background:linear-gradient(90deg,#7bff84 0px,#76ff89 42px,#8cff73 117px,#83ff7c 133px)"></i><i style="background:linear-gradient(90deg,#79ff86 0px,#6dff92 36px,#97ff68 112px,#86ff79 133px)"></i><i style="background:linear-gradient(90deg,#77ff88 0px,#63ff9c 33px,#a4ff5b 109px,#89ff76 133px)"></i><i style="background:linear-gradient(90deg,#74ff8b 0px,#57ffa8 30px,#b2ff4d 107px,#8cff73 133px)"></i><i style="background:linear-gradient(90deg,#71ff8e 0px,#49ffb6 29px,#acff53 89px,#c3ff3c 107px,#8fff70 133px)"></i><i style="background:linear-gradient(90deg,#6eff91 0px,#37ffc8 28px,#66ff99 52px,#b4ff4b 87px,#d8ff27 104px,#b0ff4f 122px,#93ff6c 133px)"></i><i style="background:linear-gradient(90deg,#6aff95 0px,#23ffdc 27px,#3cffc3 42px,#c0ff3f 86px,#efff10 102px,#d4ff2b 116px,#97ff68 133px)"></i><i style="background:linear-gradient(90deg,#66ff99 0px,#0cfff3 26px,#19ffe6 38px,#c9ff36 84px,#fffb00 97px,#fff900 108px,#d7ff28 119px,#9bff64 133px)"></i><i style="background:linear-gradient(90deg,#61ff9e 0px,#00fbff 22px,#00efff 33px,#0bfff4 41px,#92ff6d 70px,#fffc00 90px,#ffd300 101px,#ffe800 111px,#f4ff0b 117px,#9fff60 133px)"></i><i style="background:linear-gradient(90deg,#5dffa2 0px,#00fcff 17px,#00cdff 28px,#00deff 38px,#07fff8 45px,#e5ff1a 82px,#fff200 87px,#ffb400 98px,#ffb900 107px,#f9ff06 119px,#a3ff5c 133px)"></i><i style="background:linear-gradient(90deg,#58ffa7 0px,#00fcff 14px,#00b0ff 26px,#00aeff 35px,#02fffd 48px,#f4ff0b 81px,#ffd400 87px,#ff9000 97px,#ff8e00 105px,#ffd800 116px,#f9ff06 121px,#a8ff57 133px)"></i><i style="background:linear-gradient(90deg,#54ffab 0px,#00fcff 12px,#0092ff 25px,#0081ff 33px,#00afff 42px,#04fffb 51px,#fffc00 80px,#ff7500 94px,#ff6000 102px,#ff8900 110px,#feff01 122px,#abff54 133px)"></i><i style="background:linear-gradient(90deg,#50ffaf 0px,#00f7ff 11px,#006fff 25px,#0057ff 32px,#0078ff 40px,#00ffff 53px,#fffc00 78px,#ff5a00 92px,#ff3500 99px,#ff4900 106px,#ffb900 117px,#fffe00 123px,#afff50 133px)"></i><i style="background:linear-gradient(90deg,#4cffb3 0px,#01fffe 9px,#004cff 25px,#002cff 32px,#0046ff 39px,#00c0ff 50px,#02fffd 55px,#feff01 76px,#ff3900 91px,#ff0c00 98px,#ff1e00 105px,#ff7f00 114px,#ffff00 124px,#b1ff4e 133px)"></i><i style="background:linear-gradient(90deg,#49ffb6 0px,#00f7ff 9px,#002bff 25px,#0003ff 32px,#001aff 39px,#0084ff 48px,#00faff 56px,#fffc00 75px,#ff1a00 90px,#fb0000 93px,#e10000 99px,#ff0500 106px,#ff9800 117px,#faff05 125px,#b3ff4c 133px)"></i><i style="background:linear-gradient(90deg,#48ffb7 0px,#00fcff 8px,#0003ff 26px,#0000d9 33px,#0000ef 39px,#000eff 42px,#00c5ff 54px,#07fff8 58px,#fffb00 74px,#ff0000 89px,#c50000 95px,#c10000 101px,#ff0100 108px,#feff01 125px,#b4ff4b 133px)"></i><i style="background:linear-gradient(90deg,#47ffb8 0px,#00f8ff 8px,#0002ff 24px,#0000bc 31px,#0000bc 37px,#0001ff 44px,#00f6ff 58px,#84ff7b 66px,#fffe00 73px,#ff0b00 86px,#dc0000 89px,#a20000 95px,#a30000 101px,#de0000 107px,#ff0c00 110px,#fff100 124px,#f4ff0b 126px,#b4ff4b 133px)"></i><i style="background:linear-gradient(90deg,#47ffb8 0px,#03fffc 7px,#0079ff 16px,#0000fe 23px,#0000a7 30px,#000097 36px,#0000c4 42px,#0000fe 46px,#00faff 59px,#f9ff06 72px,#ff0000 85px,#9b0000 92px,#810000 97px,#9d0000 103px,#ff0100 110px,#ffe300 123px,#fffe00 125px,#b3ff4c 133px)"></i><i style="background:linear-gradient(90deg,#48ffb7 0px,#00f6ff 8px,#003eff 19px,#0007ff 22px,#000094 30px,#000080 35px,#000092 40px,#0000e1 46px,#0006ff 48px,#03fffc 60px,#fffc00 72px,#fa0000 84px,#8e0000 91px,#800000 95px,#870000 102px,#ea0000 109px,#ff1000 111px,#ffe500 123px,#feff01 125px,#b1ff4e 133px)"></i><i style="background:linear-gradient(90deg,#4affb5 0px,#00f9ff 8px,#0051ff 18px,#0004ff 22px,#000089 30px,#000080 36px,#000086 41px,#0000dd 47px,#0004ff 49px,#00f8ff 60px,#f2ff0d 71px,#ffde00 73px,#fd0000 83px,#8a0000 90px,#800000 94px,#830000 102px,#ec0000 109px,#ff0000 110px,#ffdb00 122px,#f9ff06 125px,#afff50 133px)"></i><i style="background:linear-gradient(90deg,#4dffb2 0px,#00feff 8px,#006aff 17px,#0009ff 22px,#000087 30px,#000083 42px,#0000e0 48px,#0009ff 50px,#09fff6 61px,#f6ff09 71px,#ff0900 82px,#830000 90px,#870000 102px,#f50000 109px,#ff4400 113px,#fff200 123px,#f2ff0d 125px,#acff53 133px)"></i><i style="background:linear-gradient(90deg,#50ffaf 0px,#00f9ff 9px,#004eff 19px,#0001ff 23px,#00008e 30px,#000080 34px,#000080 42px,#0000d7 48px,#0000ff 50px,#03fffc 61px,#f8ff07 71px,#ff0500 82px,#8f0000 89px,#800000 93px,#800000 100px,#e10000 107px,#ff0600 109px,#ffdf00 121px,#f6ff09 124px,#a8ff57 133px)"></i><i style="background:linear-gradient(90deg,#54ffab 0px,#03fffc 9px,#0084ff 17px,#0000fe 24px,#000092 31px,#000080 34px,#000083 42px,#0000d6 48px,#0000fd 50px,#00ffff 61px,#f8ff07 71px,#ff0800 82px,#900000 90px,#800000 95px,#8c0000 99px,#e60000 106px,#ff0a00 108px,#ffec00 121px,#ecff13 124px,#a4ff5b 133px)"></i><i style="background:linear-gradient(90deg,#59ffa6 0px,#0efff1 9px,#00f4ff 11px,#003bff 22px,#0004ff 25px,#000095 33px,#000080 38px,#000099 43px,#0002ff 50px,#00feff 61px,#f6ff09 71px,#ff7b00 77px,#fe0000 83px,#ab0000 89px,#930000 94px,#b10000 100px,#ff0300 106px,#ffed00 120px,#ecff13 123px,#a4ff5b 132px,#9fff60 133px)"></i><i style="background:linear-gradient(90deg,#5effa1 0px,#1affe5 9px,#00f5ff 12px,#0000ff 27px,#0000aa 34px,#00009c 40px,#0000cd 46px,#0000fb 49px,#008aff 56px,#00ffff 61px,#f1ff0e 71px,#ffde00 73px,#ff2200 82px,#ff0100 84px,#be0000 90px,#b70000 96px,#e90000 102px,#ff0500 104px,#fffd00 120px,#a9ff56 130px,#9bff64 133px)"></i><i style="background:linear-gradient(90deg,#62ff9d 0px,#1cffe3 10px,#00f8ff 13px,#0004ff 29px,#0000c0 36px,#0000c2 42px,#0000ff 48px,#0093ff 56px,#04fffb 61px,#fffd00 72px,#ff3700 82px,#ff0000 86px,#d80000 92px,#e90000 98px,#ff0500 101px,#fcff03 119px,#aeff51 128px,#97ff68 133px)"></i><i style="background:linear-gradient(90deg,#67ff98 0px,#29ffd6 10px,#00feff 14px,#0007ff 32px,#0000df 39px,#0000f8 45px,#0027ff 49px,#00c9ff 58px,#09fff6 61px,#f7ff08 72px,#ff4300 83px,#ff0a00 89px,#ff0300 95px,#ff3900 102px,#fffd00 117px,#acff53 127px,#93ff6c 133px)"></i><i style="background:linear-gradient(90deg,#6bff94 0px,#2effd1 11px,#00fbff 16px,#0028ff 33px,#0008ff 40px,#0024ff 46px,#007dff 53px,#00fcff 60px,#fffe00 73px,#ff6d00 82px,#ff3100 89px,#ff3300 96px,#ff7800 104px,#fffc00 115px,#a9ff56 126px,#90ff6f 133px)"></i><i style="background:linear-gradient(90deg,#6eff91 0px,#3bffc4 11px,#00faff 18px,#0053ff 33px,#0033ff 40px,#004fff 47px,#00b2ff 55px,#08fff7 60px,#fffb00 74px,#ff8100 83px,#ff5600 90px,#ff6400 97px,#ffc900 108px,#fffe00 113px,#a6ff59 125px,#8dff72 133px)"></i><i style="background:linear-gradient(90deg,#72ff8d 0px,#41ffbe 12px,#00fdff 20px,#0076ff 34px,#005dff 41px,#007bff 48px,#00e4ff 57px,#04fffb 59px,#fffd00 75px,#ff9a00 84px,#ff7e00 91px,#ff9a00 99px,#fbff04 111px,#a7ff58 123px,#8aff75 133px)"></i><i style="background:linear-gradient(90deg,#75ff8a 0px,#47ffb8 13px,#00faff 23px,#0094ff 36px,#008aff 44px,#00beff 52px,#05fffa 58px,#fbff04 76px,#ffb000 86px,#ffaa00 94px,#ffeb00 105px,#f3ff0c 109px,#9fff60 123px,#88ff77 133px)"></i><i style="background:linear-gradient(90deg,#77ff88 0px,#48ffb7 15px,#00fcff 26px,#00b3ff 38px,#00b5ff 46px,#00f4ff 55px,#15ffea 58px,#faff05 78px,#ffcd00 88px,#ffd900 97px,#f7ff08 105px,#9fff60 121px,#86ff79 133px)"></i><i style="background:linear-gradient(90deg,#79ff86 0px,#50ffaf 16px,#00f7ff 31px,#00d2ff 42px,#00edff 51px,#0bfff4 55px,#ecff13 79px,#fff700 84px,#fff000 94px,#f3ff0c 101px,#97ff68 121px,#84ff7b 133px)"></i><i style="background:linear-gradient(90deg,#7bff84 0px,#53ffac 18px,#00fbff 37px,#00f7ff 47px,#18ffe7 54px,#d8ff27 79px,#f5ff0a 90px,#ceff31 104px,#8cff73 124px,#83ff7c 133px)"></i><i style="background:linear-gradient(90deg,#7cff83 0px,#57ffa8 20px,#10ffef 41px,#22ffdd 52px,#caff35 80px,#dbff24 92px,#88ff77 125px,#82ff7d 133px)"></i><i style="background:linear-gradient(90deg,#7dff82 0px,#5bffa4 22px,#27ffd8 43px,#44ffbb 56px,#bdff42 81px,#c2ff3d 95px,#85ff7a 126px,#81ff7e 133px)"></i><i style="background:linear-gradient(90deg,#7eff81 0px,#5effa1 25px,#3bffc4 45px,#60ff9f 60px,#b0ff4f 82px,#adff52 98px,#82ff7d 128px,#81ff7e 133px)"></i><i style="height:1px;background:linear-gradient(90deg,#7eff81 0px,#5dffa2 30px,#4effb1 49px,#a7ff58 85px,#80ff7f 133px)"></i></div></div>
<div class="f s2" style="left:655px;top:810px;width:560px;height:104px;clip-path:polygon(54px 0.5px,559px 0.5px,503px 103.9px,3.4px 103.9px);"><div><i style="background:linear-gradient(90deg,#ffffff 0px,#f7f7ff 71px,#dcdcfe 84px,#fefeff 92px,#fcbdbd 102px,#fdc6c6 109px,#fff9f9 122px,#eaeafe 137px,#dedefe 147px,#fffefe 154px,#fcbfbf 163px,#fcbfbf 169px,#fff7f7 183px,#fafaff 187px,#dadafe 209px,#fffdfd 217px,#fdcdcd 226px,#fedddd 235px,#fdfdff 248px,#d6d6fd 270px,#fffbfb 281px,#fedede 290px,#fff5f5 299px,#fdfdff 301px,#b2b2fc 309px,#1313f6 321px,#0000f5 325px,#0808f5 329px,#4444f8 334px,#f2f2ff 343px,#fffafa 344px,#fcb7b7 349px,#fca7a7 354px,#fffdfd 371px,#bfbffc 377px,#4848f8 385px,#3131f7 389px,#4a4af8 393px,#b1b1fc 399px,#fffefe 403px,#fcb3b3 408px,#fb9595 413px,#fcacac 420px,#fdd8d8 431px,#feeaea 440px,#fbfbff 450px,#fff8f8 460px,#fcb7b7 472px,#fdc0c0 481px,#fee5e5 501px,#fff8f8 519px,#feecec 536px,#ffffff 559px)"></i><i style="background:linear-gradient(90deg,#ffffff 0px,#f9f9ff 65px,#cfcffd 83px,#eaeafe 90px,#fffbfb 93px,#fcb5b5 102px,#fcb7b7 108px,#fffdfd 123px,#cfcffd 145px,#ececfe 152px,#fdfdff 154px,#fcb4b4 164px,#fcb8b8 170px,#fffefe 185px,#cbcbfd 207px,#efeffe 215px,#ffffff 217px,#fdc7c7 226px,#fdd1d1 234px,#fdfdff 247px,#c7c7fd 268px,#e7e7fe 276px,#fffbfb 280px,#fdcece 289px,#fedada 296px,#fffcfc 301px,#c1c1fd 307px,#0000f5 319px,#0000f5 332px,#4646f8 336px,#fcfcff 344px,#fcb2b2 349px,#fb9b9b 354px,#fdcece 364px,#fbfbff 371px,#ababfc 377px,#1b1bf6 385px,#0000f5 389px,#1010f6 392px,#5252f8 396px,#f3f3ff 403px,#fff6f6 404px,#fba6a6 409px,#fa8a8a 414px,#fcadad 422px,#fff3f3 438px,#fafaff 445px,#e9e9fe 455px,#ffffff 460px,#fcb3b3 472px,#fcb6b6 480px,#feeded 502px,#fcfcff 515px,#fff3f3 524px,#fef0f0 539px,#ffffff 559px)"></i><i style="background:linear-gradient(90deg,#ffffff 0px,#f8f8ff 64px,#bebefc 81px,#d4d4fd 88px,#fffefe 93px,#fcb0b0 102px,#fcadad 108px,#fefeff 123px,#c2c2fd 140px,#c6c6fd 147px,#fffbfb 155px,#fcaeae 164px,#fcaeae 170px,#fbfbff 185px,#bbbbfc 203px,#c6c6fd 210px,#fcfcff 217px,#fdc1c1 226px,#fdc6c6 233px,#fdfdff 246px,#b8b8fc 264px,#c1c1fd 271px,#fffbfb 279px,#fcbdbd 287px,#fcb9b9 293px,#fee9e9 300px,#ffffff 302px,#9898fb 309px,#0000f5 317px,#0000f5 334px,#4141f8 337px,#f4f4ff 344px,#fff4f4 345px,#fcafaf 349px,#fb9191 353px,#fba2a2 359px,#fffcfc 370px,#cfcffd 374px,#4242f8 381px,#0404f5 384px,#0606f5 394px,#b5b5fc 401px,#ffffff 404px,#fba4a4 409px,#fa8282 414px,#fb9696 420px,#fffdfd 437px,#d5d5fd 452px,#efeffe 459px,#fefeff 461px,#fcafaf 472px,#fcadad 479px,#fffcfc 504px,#f3f3ff 517px,#fffafa 523px,#feeded 535px,#ffffff 559px)"></i><i style="background:linear-gradient(90deg,#ffffff 0px,#fafaff 62px,#acacfc 79px,#bdbdfc 86px,#fdfdff 93px,#fcacac 102px,#fba5a5 108px,#ffffff 122px,#b7b7fc 136px,#adadfc 144px,#d7d7fd 151px,#fffefe 155px,#fcaaaa 164px,#fca7a7 170px,#fcfcff 184px,#b5b5fc 197px,#a6a6fc 205px,#cacafd 212px,#fafaff 217px,#fee7e7 220px,#fcbaba 227px,#fdc3c3 234px,#fdfdff 245px,#ababfc 260px,#a2a2fb 267px,#c7c7fd 273px,#fffdfd 278px,#fca8a8 286px,#fb9898 291px,#fcb9b9 297px,#fafaff 303px,#6666f9 311px,#0c0cf5 315px,#0000f5 317px,#0000f5 335px,#2a2af7 337px,#ebebfe 344px,#fffbfb 345px,#fcaeae 349px,#fa8a8a 353px,#fb9191 358px,#fef1f1 369px,#fffcfc 370px,#c9c9fd 374px,#4545f8 380px,#0000f5 383px,#0101f5 395px,#f8f8ff 404px,#fdd9d9 406px,#fb9797 410px,#fa7b7b 414px,#fb8e8e 420px,#fefeff 435px,#c1c1fd 449px,#d0d0fd 456px,#fffcfc 462px,#fcadad 472px,#fca8a8 479px,#ffffff 500px,#e4e4fe 514px,#fffdfd 523px,#feeeee 534px,#ffffff 559px)"></i><i style="background:linear-gradient(90deg,#ffffff 0px,#fafaff 61px,#9797fb 77px,#a5a5fb 84px,#fafaff 93px,#fba5a5 103px,#fba4a4 109px,#fffefe 121px,#a7a7fc 134px,#9797fb 142px,#bebefc 149px,#fefeff 155px,#fca9a9 164px,#fba2a2 170px,#fef1f1 181px,#fcfcff 183px,#9f9ffb 196px,#9090fb 204px,#bbbbfc 211px,#f9f9ff 217px,#fef0f0 219px,#fcbaba 226px,#fcb6b6 232px,#fdfdff 244px,#9797fb 258px,#8888fa 265px,#adadfc 271px,#fcfcff 277px,#fa8989 286px,#fa7575 291px,#fb9393 296px,#fff9f9 303px,#e0e0fe 305px,#0000f5 315px,#0000f5 336px,#fefeff 345px,#fba0a0 350px,#fa8181 354px,#fb8e8e 359px,#fffafa 370px,#e8e8fe 372px,#8888fa 377px,#0a0af5 382px,#0000f5 385px,#0000f5 395px,#2b2bf7 397px,#f3f3ff 404px,#fff2f2 405px,#fb9797 410px,#fa7878 414px,#fa8282 419px,#fffdfd 433px,#b4b4fc 444px,#a9a9fc 451px,#d5d5fd 458px,#fefeff 462px,#fcb2b2 471px,#fba3a3 478px,#fff9f9 496px,#f6f6ff 499px,#d4d4fd 511px,#efeffe 520px,#fffbfb 524px,#feefef 535px,#ffffff 559px)"></i><i style="background:linear-gradient(90deg,#ffffff 0px,#fff8f8 52px,#f9f9ff 60px,#acacfc 70px,#8383fa 75px,#8888fa 81px,#ccccfd 89px,#fafaff 93px,#fee2e2 96px,#fba5a5 103px,#fba2a2 109px,#fee8e8 118px,#fffcfc 120px,#9393fb 133px,#8181fa 140px,#9d9dfb 146px,#fefeff 155px,#fca9a9 164px,#fba0a0 170px,#fed9d9 178px,#fdfdff 182px,#9090fb 194px,#7777fa 201px,#9090fb 207px,#fbfbff 217px,#fcb7b7 226px,#fcb2b2 232px,#feeded 241px,#ffffff 243px,#7f7ffa 257px,#6e6ef9 263px,#8686fa 268px,#d4d4fd 274px,#f6f6ff 276px,#fff6f6 277px,#f97171 285px,#f84c4c 290px,#f95c5c 294px,#fb9f9f 299px,#fefeff 304px,#0000f5 315px,#0000f5 336px,#f9f9ff 345px,#fba2a2 350px,#fa7e7e 354px,#fa8686 359px,#fee8e8 369px,#fbfbff 371px,#a2a2fb 376px,#0d0df5 382px,#0000f5 384px,#0000f5 395px,#4a4af8 398px,#f3f3ff 404px,#fff3f3 405px,#fb9898 410px,#fa7676 415px,#fa8686 420px,#fdfdff 432px,#a1a1fb 442px,#8f8ffb 449px,#b1b1fc 455px,#fdfdff 462px,#fcadad 472px,#fba4a4 479px,#fef0f0 493px,#fafaff 496px,#c7c7fd 507px,#d1d1fd 515px,#fefeff 523px,#feefef 533px,#ffffff 559px)"></i><i style="background:linear-gradient(90deg,#ffffff 0px,#fff8f8 51px,#fafaff 59px,#ababfc 68px,#7070f9 74px,#7777fa 80px,#c2c2fd 88px,#fdfdff 93px,#fca8a8 103px,#fba4a4 109px,#fee3e3 117px,#fafaff 120px,#8282fa 132px,#6d6df9 138px,#8787fa 144px,#fffdfd 155px,#fcabab 164px,#fba2a2 170px,#fdd3d3 177px,#ffffff 181px,#7e7efa 193px,#6363f9 199px,#7979fa 205px,#fffefe 217px,#fcb9b9 225px,#fcadad 231px,#fdd5d5 238px,#fffdfd 242px,#6b6bf9 256px,#5757f8 262px,#7373fa 267px,#c9c9fd 273px,#fffbfb 276px,#f84c4c 285px,#f62525 289px,#f72b2b 293px,#f97070 298px,#fef1f1 304px,#f6f6ff 305px,#0000f5 315px,#0202f5 336px,#f8f8ff 345px,#fedada 347px,#fb8d8d 352px,#fa7b7b 357px,#fcaaaa 364px,#fffbfb 371px,#d3d3fd 374px,#0707f5 383px,#0000f5 394px,#2424f6 396px,#f7f7ff 404px,#fedbdb 406px,#fb8f8f 411px,#fa7878 416px,#fb9999 422px,#fff7f7 430px,#fafaff 431px,#8d8dfb 441px,#7878fa 447px,#9797fb 453px,#ffffff 462px,#fcb3b3 471px,#fba4a4 478px,#fdcece 487px,#fdfdff 494px,#bbbbfc 505px,#bdbdfc 512px,#ffffff 523px,#feefef 533px,#ffffff 559px)"></i><i style="background:linear-gradient(90deg,#ffffff 0px,#fffafa 49px,#fffafa 56px,#f4f4ff 59px,#a3a3fb 67px,#6161f9 73px,#6a6af9 79px,#bcbcfc 87px,#f8f8ff 92px,#fef0f0 94px,#fcaaaa 103px,#fca7a7 109px,#fedede 116px,#fdfdff 119px,#7676fa 131px,#5e5ef9 137px,#7d7dfa 143px,#fdfdff 154px,#fcacac 164px,#fba5a5 170px,#fed9d9 177px,#fffcfc 180px,#6969f9 193px,#5353f8 199px,#7777fa 205px,#fffefe 216px,#fcb3b3 225px,#fca9a9 231px,#fdd6d6 238px,#fafaff 242px,#6565f9 254px,#4545f8 260px,#5a5af9 265px,#adadfc 271px,#fdfdff 275px,#f72828 285px,#f50202 288px,#f50303 293px,#f73e3e 297px,#fff8f8 305px,#d4d4fd 307px,#1010f6 315px,#0000f5 316px,#0000f5 335px,#fafaff 345px,#fb9d9d 351px,#fa7d7d 356px,#fb9494 362px,#fefeff 372px,#9191fb 378px,#0404f5 385px,#0000f5 392px,#2e2ef7 395px,#ececfe 403px,#fffcfc 404px,#fca8a8 409px,#fa7f7f 414px,#fa8686 419px,#fdcdcd 426px,#fff6f6 429px,#fafaff 430px,#8787fa 439px,#6666f9 445px,#7878fa 450px,#f9f9ff 461px,#feefef 463px,#fcafaf 472px,#fca8a8 479px,#fedada 488px,#fbfbff 493px,#b4b4fc 503px,#afaffc 510px,#fffcfc 523px,#feefef 533px,#ffffff 558px,#ffffff 559px)"></i><i style="background:linear-gradient(90deg,#ffffff 0px,#fffafa 48px,#fff9f9 55px,#f6f6ff 58px,#a0a0fb 66px,#5a5af9 72px,#5e5ef9 77px,#a2a2fb 84px,#f9f9ff 91px,#fef0f0 93px,#fcafaf 102px,#fca9a9 108px,#fdd0d0 114px,#fffdfd 118px,#7070f9 130px,#5757f8 136px,#6f6ff9 141px,#ffffff 153px,#fcb5b5 162px,#fca7a7 169px,#fdcbcb 175px,#fff8f8 179px,#f9f9ff 180px,#6c6cf9 191px,#4d4df8 196px,#5858f8 201px,#a7a7fc 208px,#f9f9ff 214px,#fee3e3 217px,#fca9a9 225px,#fba4a4 231px,#fdcccc 237px,#fffcfc 241px,#5454f8 254px,#3b3bf7 259px,#5050f8 264px,#a5a5fb 270px,#f7f7ff 274px,#fef1f1 275px,#f50707 285px,#f50000 295px,#f73636 298px,#fdfdff 306px,#0000f5 317px,#0000f5 333px,#5050f8 337px,#fffefe 345px,#fba2a2 351px,#fa8383 356px,#fb9494 362px,#fee8e8 371px,#fdfdff 373px,#3131f7 385px,#1a1af6 389px,#3939f7 393px,#c2c2fd 400px,#ffffff 403px,#fba5a5 409px,#fa8484 414px,#fb8d8d 419px,#fdd7d7 426px,#fcfcff 429px,#8181fa 438px,#5f5ff9 443px,#6969f9 448px,#b6b6fc 455px,#f7f7ff 460px,#fffbfb 461px,#fcbcbc 469px,#fca9a9 477px,#fdc9c9 485px,#fbfbff 492px,#afaffc 502px,#aaaafc 509px,#e7e7fe 518px,#fffcfc 522px,#feeded 531px,#ffffff 555px,#ffffff 559px)"></i><i style="background:linear-gradient(90deg,#ffffff 0px,#fffafa 47px,#fff7f7 54px,#f8f8ff 57px,#b0b0fc 64px,#5b5bf9 71px,#6060f9 76px,#9a9afb 82px,#fffefe 90px,#fcb8b8 99px,#fcaaaa 107px,#fdd6d6 114px,#fafaff 118px,#7373fa 129px,#5959f8 134px,#6a6af9 139px,#d7d7fd 148px,#fdfdff 151px,#fcb8b8 160px,#fca7a7 168px,#fdc7c7 174px,#ffffff 179px,#6565f9 191px,#4d4df8 196px,#6262f9 201px,#dbdbfe 210px,#f7f7ff 212px,#fffafa 213px,#fcaeae 221px,#fb9696 228px,#fcacac 234px,#fffdfd 241px,#6161f9 252px,#3d3df7 257px,#4747f8 262px,#8080fa 267px,#f1f1fe 273px,#fff6f6 274px,#f50000 284px,#f50000 296px,#f50808 297px,#fef1f1 306px,#f5f5ff 307px,#3838f7 316px,#0000f5 320px,#0202f5 330px,#7979fa 337px,#fbfbff 344px,#fb9f9f 352px,#fa8a8a 358px,#fcb2b2 366px,#fefeff 374px,#6464f9 385px,#5454f8 389px,#7171f9 393px,#f6f6ff 401px,#fff7f7 402px,#fca9a9 408px,#fa8888 414px,#fb9c9c 420px,#feeded 427px,#fffcfc 428px,#7979fa 438px,#5e5ef9 443px,#7171f9 448px,#fbfbff 459px,#fcbbbb 468px,#fcabab 477px,#fdcece 485px,#fefeff 491px,#b0b0fc 501px,#a7a7fc 507px,#d5d5fd 515px,#fdfdff 520px,#feebeb 529px,#ffffff 553px,#ffffff 559px)"></i><i style="background:linear-gradient(90deg,#ffffff 0px,#fffafa 46px,#fff8f8 54px,#f6f6ff 57px,#9e9efb 65px,#6666f9 70px,#6b6bf9 75px,#a5a5fb 81px,#fffcfc 88px,#fcbaba 96px,#fca7a7 105px,#fdc8c8 112px,#fffcfc 117px,#7575fa 129px,#6363f9 134px,#7e7efa 139px,#fefeff 149px,#fcb7b7 157px,#fba2a2 165px,#fcbaba 172px,#fbfbff 179px,#7070f9 190px,#5858f8 195px,#6e6ef9 200px,#dbdbfe 208px,#f9f9ff 210px,#feeaea 212px,#fba3a3 219px,#fa8686 227px,#fb9b9b 233px,#feecec 240px,#fffbfb 241px,#c4c4fd 245px,#6363f9 252px,#4545f8 257px,#5757f8 262px,#a4a4fb 268px,#fffafa 273px,#f50404 283px,#f50000 297px,#f84646 300px,#fff9f9 307px,#c6c6fd 310px,#5353f8 317px,#2727f7 322px,#2c2cf7 327px,#6c6cf9 333px,#fffefe 343px,#fcacac 351px,#fb9494 358px,#fcb2b2 366px,#fffdfd 375px,#9797fb 385px,#9292fb 390px,#c2c2fd 395px,#fcfcff 399px,#fba4a4 407px,#fa8989 414px,#fba2a2 420px,#fdfdff 428px,#8585fa 437px,#6969f9 442px,#7b7bfa 447px,#fffbfb 458px,#fdc0c0 465px,#fca9a9 474px,#fdc4c4 483px,#fbfbff 491px,#b2b2fc 501px,#b3b3fc 508px,#fffdfd 519px,#fee9e9 527px,#ffffff 551px,#ffffff 559px)"></i><i style="background:linear-gradient(90deg,#ffffff 0px,#fff9f9 45px,#fff4f4 53px,#fbfbff 56px,#a0a0fb 65px,#7878fa 69px,#7d7dfa 74px,#b6b6fc 80px,#f8f8ff 85px,#feeded 87px,#fcb1b1 94px,#fb9f9f 103px,#fdc1c1 111px,#fffefe 117px,#8787fa 128px,#7676fa 133px,#9090fb 138px,#fffcfc 147px,#fcb3b3 154px,#fb9797 162px,#fcacac 170px,#fafaff 179px,#8383fa 189px,#6c6cf9 194px,#8282fa 199px,#ededfe 207px,#fcfcff 208px,#fb9f9f 216px,#fa7373 224px,#fa7e7e 231px,#fcb8b8 237px,#fbfbff 242px,#7979fa 251px,#5959f9 256px,#6767f9 261px,#acacfc 267px,#fffcfc 272px,#f84646 280px,#f50000 283px,#f50000 297px,#f50b0b 298px,#fdd6d6 306px,#ffffff 308px,#9696fb 315px,#6b6bf9 321px,#7070f9 326px,#b9b9fc 334px,#fcfcff 340px,#fcb0b0 351px,#fba0a0 359px,#fdcccc 370px,#ffffff 377px,#c6c6fd 385px,#cacafd 390px,#fffefe 396px,#fba0a0 405px,#fa8686 412px,#fb9e9e 419px,#fcfcff 428px,#9090fb 437px,#7c7cfa 442px,#9595fb 447px,#fffcfc 456px,#fcbcbc 463px,#fba4a4 472px,#fcbaba 481px,#fcfcff 491px,#bfbffc 500px,#bebefc 507px,#fffefe 517px,#fee6e6 525px,#ffffff 550px,#ffffff 559px)"></i><i style="background:linear-gradient(90deg,#ffffff 0px,#fff9f9 44px,#fef0f0 52px,#fdfdff 56px,#9090fb 68px,#9494fb 73px,#d6d6fd 80px,#fdfdff 83px,#fcaeae 91px,#fb9292 99px,#fba5a5 107px,#fef0f0 116px,#fffbfb 117px,#9e9efb 127px,#9090fb 133px,#babafc 139px,#fafaff 144px,#fedddd 147px,#fb9c9c 154px,#fa8989 162px,#fca7a7 170px,#fdfdff 179px,#9b9bfb 188px,#8686fa 193px,#9a9afb 198px,#fffdfd 206px,#fa8c8c 215px,#f95d5d 223px,#f96565 230px,#fb9d9d 236px,#fff6f6 242px,#f8f8ff 243px,#9696fb 250px,#7575fa 255px,#7e7efa 260px,#c5c5fd 267px,#fffcfc 271px,#f97272 278px,#f50000 283px,#f50000 297px,#f72727 299px,#fdcdcd 306px,#fdfdff 309px,#bcbcfc 315px,#a9a9fc 321px,#c7c7fd 328px,#fefeff 335px,#fcbebe 347px,#fcabab 359px,#fdd9d9 373px,#fffefe 380px,#f0f0fe 387px,#fffdfd 391px,#fa8c8c 405px,#fa8181 413px,#fca6a6 420px,#fffefe 428px,#a3a3fb 437px,#9898fb 442px,#bfbffc 448px,#f8f8ff 453px,#feeeee 455px,#fcadad 463px,#fb9e9e 472px,#fcbebe 482px,#fffefe 491px,#ccccfd 500px,#d1d1fd 507px,#fffefe 515px,#fee3e3 524px,#ffffff 548px,#ffffff 559px)"></i><i style="background:linear-gradient(90deg,#ffffff 0px,#fff8f8 43px,#feebeb 51px,#fafaff 57px,#aaaafc 67px,#b3b3fc 73px,#fffcfc 81px,#fba2a2 90px,#fa8787 98px,#fb9f9f 107px,#fefeff 118px,#b2b2fc 127px,#adadfc 133px,#dcdcfe 139px,#fffefe 142px,#fb9c9c 151px,#fa7d7d 158px,#fa8989 166px,#fdcece 175px,#fffafa 179px,#e3e3fe 182px,#aaaafc 189px,#a5a5fb 194px,#d2d2fd 200px,#f8f8ff 203px,#feeaea 205px,#fa7d7d 214px,#f84b4b 222px,#f84d4d 229px,#fa8080 235px,#fff6f6 243px,#f9f9ff 244px,#a5a5fb 251px,#9191fb 256px,#ababfc 262px,#fffbfb 270px,#fa8787 277px,#f50707 283px,#f50000 296px,#f50404 297px,#fcb6b6 305px,#fffdfd 310px,#dfdffe 316px,#efeffe 323px,#fffefe 326px,#fdc3c3 338px,#fcb6b6 360px,#feeded 384px,#fdd0d0 392px,#fa7f7f 404px,#fa7878 412px,#fba4a4 420px,#fdfdff 429px,#bbbbfc 437px,#bbbbfc 443px,#fefeff 451px,#fcaaaa 461px,#fb9797 470px,#fcb6b6 481px,#fffefe 492px,#dbdbfe 501px,#ededfe 509px,#fffbfb 513px,#fee1e1 522px,#ffffff 546px,#ffffff 559px)"></i><i style="background:linear-gradient(90deg,#ffffff 0px,#fffcfc 41px,#fee5e5 50px,#fffefe 57px,#c3c3fd 67px,#d2d2fd 73px,#fcfcff 78px,#fb9595 90px,#fa7f7f 98px,#fb9a9a 107px,#fdfdff 119px,#c7c7fd 127px,#cbcbfd 133px,#fbfbff 139px,#fee3e3 142px,#fb8e8e 151px,#fa7373 159px,#fa8787 167px,#fedcdc 177px,#fffbfb 180px,#c2c2fd 189px,#c9c9fd 195px,#ffffff 201px,#fa7676 213px,#f73e3e 222px,#f73f3f 229px,#f97070 235px,#fdfdff 245px,#bfbffc 251px,#b1b1fc 257px,#dfdffe 265px,#fbfbff 268px,#fdd5d5 272px,#f96767 279px,#f50a0a 284px,#f50000 287px,#f50000 295px,#f61b1b 297px,#fcb7b7 305px,#feeeee 310px,#fff9f9 316px,#fca8a8 332px,#fcb4b4 347px,#fdd7d7 383px,#fcadad 393px,#fa7373 404px,#fa7777 413px,#fcb2b2 422px,#fffefe 430px,#d3d3fd 438px,#e0e0fe 444px,#fdfdff 448px,#fba5a5 460px,#fb9292 470px,#fcb3b3 481px,#ffffff 494px,#eeeefe 503px,#fffafa 510px,#fedfdf 521px,#ffffff 545px,#ffffff 559px)"></i><i style="background:linear-gradient(90deg,#ffffff 0px,#fffcfc 40px,#fee1e1 50px,#fbfbff 59px,#dadafe 67px,#f3f3ff 74px,#fffcfc 76px,#fb9595 89px,#fa7f7f 98px,#fb9898 107px,#fffefe 120px,#dbdbfe 128px,#f2f2fe 135px,#fffdfd 137px,#fb8e8e 150px,#f97373 159px,#fa8b8b 168px,#fdfdff 182px,#d9d9fe 189px,#e6e6fe 195px,#fcfcff 198px,#f96969 214px,#f73535 224px,#f73c3c 230px,#f97171 236px,#fffbfb 246px,#cfcffd 253px,#d6d6fd 260px,#fffdfd 267px,#fba3a3 276px,#f60e0e 286px,#f50000 290px,#f60d0d 294px,#fdc6c6 306px,#fee4e4 311px,#fdd0d0 317px,#fa8888 327px,#fa8686 334px,#fdc1c1 353px,#fdd0d0 379px,#fca7a7 391px,#f97070 404px,#fa7676 413px,#fcb5b5 423px,#fffdfd 432px,#eeeefe 440px,#fffcfc 445px,#fba0a0 460px,#fb9393 471px,#fcbaba 483px,#fffcfc 497px,#fff6f6 507px,#fedede 520px,#ffffff 544px,#ffffff 559px)"></i><i style="background:linear-gradient(90deg,#ffffff 0px,#fffcfc 39px,#fedddd 49px,#fff5f5 58px,#fbfbff 61px,#eeeefe 68px,#fffdfd 73px,#fb9898 89px,#fa8787 100px,#fba5a5 109px,#fefeff 122px,#efeffe 129px,#fffdfd 134px,#fb9090 150px,#fa7b7b 161px,#fb9898 170px,#fffcfc 183px,#eeeefe 191px,#fffafa 196px,#f96969 215px,#f73838 226px,#f84747 232px,#fb9191 239px,#fffefe 248px,#e2e2fe 255px,#fffefe 265px,#fcb8b8 275px,#f72d2d 287px,#f62323 291px,#f84b4b 296px,#fdc1c1 305px,#fdd8d8 310px,#fcb9b9 316px,#f96b6b 325px,#f96767 331px,#fcbdbd 348px,#fdd3d3 370px,#fcb7b7 385px,#fa7575 404px,#fa7d7d 414px,#fdc0c0 425px,#fff8f8 435px,#fef0f0 443px,#fba1a1 460px,#fb9999 473px,#fdc7c7 486px,#fef2f2 498px,#fee0e0 521px,#ffffff 542px,#ffffff 559px)"></i><i style="background:linear-gradient(90deg,#ffffff 0px,#fff8f8 39px,#fedada 50px,#fdfdff 64px,#fff7f7 71px,#fba2a2 89px,#fb9797 103px,#fdbfbf 113px,#fffefe 124px,#fff7f7 132px,#fb9b9b 150px,#fa8b8b 163px,#fca8a8 172px,#fffbfb 185px,#fff9f9 193px,#f95a5a 221px,#f84545 229px,#f96363 235px,#fef0f0 248px,#fcfcff 251px,#f6f6ff 259px,#fffafa 264px,#fdc4c4 275px,#f85858 287px,#f85454 292px,#fb9191 299px,#fdcece 306px,#fdcccc 311px,#fa7e7e 319px,#f85050 325px,#f85757 330px,#fcbcbc 345px,#fdd6d6 360px,#fdcbcb 377px,#fa8181 404px,#fa8b8b 416px,#fee8e8 434px,#fee0e0 443px,#fba5a5 461px,#fba5a5 477px,#fee7e7 497px,#fee2e2 521px,#ffffff 542px,#ffffff 559px)"></i><i style="background:linear-gradient(90deg,#ffffff 0px,#fff9f9 38px,#fedada 51px,#fff8f8 67px,#fcb1b1 89px,#fca9a9 106px,#fff7f7 125px,#fee5e5 134px,#fcabab 150px,#fba0a0 167px,#fdcaca 177px,#fff7f7 187px,#fee6e6 195px,#f95959 228px,#f96767 234px,#feefef 249px,#fefeff 256px,#fee2e2 271px,#fb9a9a 283px,#fa7d7d 290px,#fb9797 296px,#fdd3d3 305px,#fdcbcb 310px,#fa7575 318px,#f84848 323px,#f84949 328px,#fdc0c0 343px,#fedbdb 355px,#fdd1d1 374px,#fb9494 401px,#fb9494 416px,#fedede 434px,#fdd0d0 445px,#fcabab 464px,#fcb1b1 480px,#fee1e1 498px,#fee4e4 520px,#ffffff 541px,#ffffff 559px)"></i><i style="background:linear-gradient(90deg,#ffffff 0px,#fff8f8 38px,#fedcdc 52px,#fef2f2 67px,#fdc4c4 88px,#fcbcbc 109px,#fff2f2 125px,#fdd7d7 137px,#fcb5b5 158px,#fcb6b6 171px,#fef1f1 187px,#fdd6d6 198px,#fa8a8a 222px,#f97171 231px,#fb9393 238px,#feeaea 249px,#fffafa 258px,#fedada 276px,#fca9a9 289px,#fdc2c2 297px,#fedfdf 305px,#fdc9c9 310px,#f84c4c 321px,#f84444 326px,#fa7f7f 333px,#fdcaca 342px,#fee4e4 353px,#fdd4d4 373px,#fca9a9 396px,#fba2a2 417px,#fedada 435px,#fcb4b4 469px,#fdc0c0 484px,#fedddd 499px,#feeaea 522px,#ffffff 541px,#ffffff 559px)"></i><i style="background:linear-gradient(90deg,#ffffff 0px,#fff7f7 38px,#fedfdf 53px,#feeeee 68px,#fdd4d4 87px,#fdcdcd 111px,#fef1f1 126px,#fdd0d0 148px,#fdc6c6 172px,#feefef 187px,#fcb1b1 219px,#fa8b8b 231px,#fba2a2 238px,#feeeee 250px,#fff4f4 264px,#fdd4d4 290px,#fef0f0 304px,#fdcbcb 310px,#f85151 320px,#f84949 325px,#fa8686 332px,#fdd5d5 341px,#feefef 351px,#fedbdb 371px,#fcb8b8 391px,#fcb1b1 419px,#fdd7d7 435px,#fcbdbd 477px,#fedbdb 501px,#ffffff 541px,#ffffff 559px)"></i><i style="background:linear-gradient(90deg,#ffffff 0px,#fff7f7 39px,#fee6e6 55px,#feeded 69px,#fee1e1 90px,#fedcdc 113px,#fef1f1 127px,#fedede 146px,#fdd7d7 174px,#fef0f0 188px,#fed9d9 208px,#fcbaba 223px,#fba6a6 233px,#fdd7d7 244px,#fff6f6 254px,#fffafa 289px,#f2f2ff 302px,#fff9f9 306px,#fca8a8 313px,#f95d5d 319px,#f85050 323px,#f96f6f 328px,#fdd3d3 338px,#fff9f9 347px,#fff7f7 361px,#fdc2c2 387px,#fdc0c0 421px,#fdd7d7 436px,#fdc8c8 482px,#ffffff 540px,#ffffff 559px)"></i><i style="background:linear-gradient(90deg,#ffffff 0px,#fff6f6 41px,#feeeee 57px,#feeaea 73px,#feebeb 115px,#fff2f2 128px,#fee9e9 145px,#fee7e7 176px,#fef2f2 189px,#fee5e5 206px,#fdd7d7 220px,#fcbebe 233px,#fff7f7 253px,#fafaff 279px,#cacafd 298px,#e8e8fe 305px,#fbfbff 307px,#fdcece 311px,#f96f6f 318px,#f95e5e 322px,#fa7b7b 327px,#fee3e3 338px,#fdfdff 344px,#eeeefe 356px,#fffcfc 364px,#fdcccc 381px,#fdcdcd 422px,#fdd8d8 437px,#fdd3d3 486px,#fff3f3 522px,#ffffff 544px,#ffffff 559px)"></i><i style="background:linear-gradient(90deg,#ffffff 0px,#fff5f5 47px,#fff6f6 114px,#fff5f5 129px,#fef2f2 146px,#fff6f6 177px,#fff3f3 191px,#fef0f0 209px,#fdd6d6 234px,#fffafa 252px,#f8f8ff 274px,#c6c6fd 286px,#9e9efb 295px,#aaaafc 301px,#e5e5fe 307px,#fffcfc 309px,#fa8686 317px,#f97070 321px,#fa8787 326px,#feebeb 337px,#fbfbff 341px,#d3d3fd 353px,#e7e7fe 362px,#fffefe 367px,#fdd3d3 379px,#fed9d9 422px,#fedbdb 437px,#fedbdb 487px,#fee9e9 513px,#ffffff 539px,#ffffff 559px)"></i><i style="background:linear-gradient(90deg,#ffffff 0px,#fff7f7 68px,#fff9f9 129px,#fff8f8 147px,#fff9f9 190px,#fff6f6 207px,#feebeb 234px,#fffefe 251px,#f6f6ff 272px,#c6c6fd 282px,#7272f9 293px,#7272f9 299px,#ababfc 305px,#fcfcff 310px,#fb9797 317px,#fa8383 321px,#fb9c9c 326px,#fff9f9 337px,#f9f9ff 339px,#b4b4fc 352px,#bbbbfc 359px,#fdfdff 369px,#fdd8d8 379px,#fee2e2 419px,#fee5e5 433px,#fed9d9 452px,#fee6e6 509px,#ffffff 538px,#ffffff 559px)"></i><i style="background:linear-gradient(90deg,#ffffff 0px,#f7f7ff 52px,#fff9f9 70px,#f8f8ff 107px,#efeffe 121px,#fffcfc 130px,#f7f7ff 169px,#eeeefe 182px,#fffbfb 192px,#fffcfc 232px,#f6f6ff 247px,#fdfdff 267px,#dadafe 277px,#8181fa 286px,#3d3df7 293px,#3939f7 298px,#6767f9 303px,#f6f6ff 311px,#fff5f5 312px,#fcabab 317px,#fb9797 321px,#fcb8b8 327px,#fdfdff 336px,#8b8bfa 352px,#8e8efb 358px,#fefeff 371px,#fedbdb 380px,#fee5e5 414px,#fff6f6 428px,#fedada 447px,#fee6e6 494px,#feeaea 511px,#ffffff 538px,#ffffff 559px)"></i><i style="background:linear-gradient(90deg,#ffffff 0px,#f5f5ff 46px,#ececfe 58px,#fffcfc 71px,#f6f6ff 102px,#dedefe 117px,#fffdfd 132px,#f5f5ff 164px,#dcdcfe 179px,#fffcfc 194px,#f8f8ff 228px,#e1e1fe 241px,#fffdfd 258px,#f5f5ff 270px,#c5c5fd 278px,#4d4df8 287px,#0606f5 293px,#0101f5 298px,#3838f7 303px,#efeffe 312px,#fffbfb 313px,#fcb7b7 318px,#fcacac 322px,#fee9e9 331px,#fefeff 334px,#9f9ffb 345px,#5c5cf9 352px,#5858f8 357px,#9090fb 363px,#f9f9ff 372px,#fff6f6 374px,#fedcdc 383px,#fee9e9 411px,#fcfcff 420px,#fff7f7 432px,#fedcdc 445px,#feeded 479px,#feeeee 492px,#fee6e6 506px,#ffffff 536px,#ffffff 559px)"></i><i style="background:linear-gradient(90deg,#ffffff 0px,#f7f7ff 41px,#ddddfe 55px,#fffefe 73px,#f5f5ff 95px,#cdcdfd 116px,#ffffff 134px,#f4f4ff 157px,#cbcbfd 178px,#ffffff 195px,#f5f5ff 219px,#d9d9fd 232px,#cecefd 241px,#fffefe 256px,#f7f7ff 269px,#cecefd 276px,#7f7ffa 282px,#0303f5 289px,#0000f5 302px,#1c1cf6 304px,#fdfdff 314px,#fdc5c5 319px,#fdc4c4 324px,#fcfcff 333px,#aaaafc 342px,#3131f7 351px,#1d1df6 355px,#3333f7 359px,#ececfe 372px,#ffffff 374px,#fee1e1 382px,#fee7e7 403px,#fbfbff 415px,#e5e5fe 424px,#fffafa 433px,#fedede 445px,#feebeb 473px,#fffcfc 488px,#fee6e6 503px,#ffffff 536px,#ffffff 559px)"></i><i style="background:linear-gradient(90deg,#ffffff 0px,#f5f5ff 38px,#cecefd 53px,#fdfdff 72px,#f2f2fe 94px,#babafc 114px,#e4e4fe 125px,#fdfdff 136px,#f0f0fe 156px,#b7b7fc 176px,#fafaff 194px,#f3f3ff 217px,#b5b5fc 237px,#d1d1fd 245px,#ffffff 255px,#f7f7ff 269px,#c6c6fd 276px,#6a6af9 282px,#0000f5 287px,#0000f5 304px,#0808f5 305px,#d1d1fd 313px,#f7f7ff 315px,#feeaea 317px,#fdcfcf 321px,#fee0e0 327px,#fdfdff 332px,#b3b3fc 340px,#0202f5 351px,#0202f5 359px,#7d7dfa 366px,#e0e0fe 372px,#fefeff 375px,#fee4e4 383px,#feebeb 402px,#fbfbff 410px,#d1d1fd 422px,#ececfe 430px,#fffbfb 434px,#fee1e1 444px,#feebeb 467px,#fbfbff 479px,#fcfcff 489px,#fee8e8 503px,#ffffff 535px,#ffffff 559px)"></i><i style="background:linear-gradient(90deg,#ffffff 0px,#f5f5ff 35px,#bebefc 52px,#f9f9ff 70px,#efeffe 92px,#a7a7fc 112px,#bbbbfc 119px,#f4f4ff 130px,#f2f2fe 152px,#a1a1fb 174px,#b9b9fc 181px,#f4f4ff 192px,#f0f0fe 214px,#9e9efb 235px,#b3b3fc 242px,#fcfcff 253px,#fff7f7 264px,#f8f8ff 269px,#ccccfd 275px,#8080fa 280px,#0000f5 286px,#0000f5 306px,#babafc 313px,#fffdfd 317px,#fedede 321px,#fee8e8 327px,#ffffff 331px,#b5b5fc 339px,#4b4bf8 345px,#0000f5 349px,#0000f5 361px,#4f4ff8 365px,#c7c7fd 371px,#fffefe 376px,#fee7e7 384px,#fef2f2 401px,#fbfbff 405px,#bbbbfc 421px,#d6d6fd 428px,#ffffff 434px,#fee3e3 443px,#feeeee 465px,#fdfdff 473px,#eaeafe 485px,#fffafa 493px,#fee9e9 504px,#ffffff 535px,#ffffff 559px)"></i><i style="background:linear-gradient(90deg,#ffffff 0px,#f7f7ff 32px,#b7b7fc 47px,#b0b0fc 52px,#f5f5ff 68px,#e8e8fe 90px,#9292fb 110px,#a4a4fb 117px,#ececfe 128px,#f4f4ff 140px,#dfdffe 154px,#8b8bfa 172px,#9a9afb 178px,#ececfe 190px,#f4f4ff 202px,#dcdcfe 216px,#8686fa 233px,#9191fb 239px,#fcfcff 252px,#feeded 262px,#fcfcff 269px,#c9c9fd 275px,#7676fa 280px,#0000f5 285px,#0202f5 307px,#a7a7fc 313px,#f1f1fe 317px,#fdfdff 318px,#fee6e6 323px,#fbfbff 331px,#bcbcfc 338px,#6666f9 343px,#0c0cf5 347px,#0000f5 349px,#0000f5 362px,#2525f6 364px,#adadfc 370px,#f4f4ff 375px,#fffbfb 377px,#feeaea 386px,#f9f9ff 402px,#a6a6fb 418px,#afaffc 424px,#fdfdff 434px,#fee4e4 444px,#fff5f5 464px,#fafaff 469px,#dbdbfe 482px,#fffcfc 493px,#feeaea 503px,#ffffff 534px,#ffffff 559px)"></i><i style="background:linear-gradient(90deg,#ffffff 0px,#f6f6ff 30px,#bfbffd 42px,#9d9dfb 49px,#c1c1fd 57px,#f4f4ff 67px,#e8e8fe 84px,#c1c1fd 95px,#7d7dfa 108px,#8686fa 114px,#e9e9fe 127px,#f4f4ff 136px,#d2d2fd 153px,#7676fa 169px,#7b7bfa 175px,#e9e9fe 189px,#f3f3ff 198px,#d2d2fd 214px,#6d6df9 231px,#7575fa 237px,#fefeff 251px,#fee1e1 259px,#fff5f5 268px,#fcfcff 270px,#bbbbfc 276px,#5a5af9 281px,#0c0cf5 284px,#0000f5 286px,#0000f5 307px,#2e2ef7 309px,#b0b0fc 314px,#f1f1fe 318px,#fffbfb 320px,#fef1f1 326px,#fefeff 330px,#c7c7fd 337px,#7676fa 342px,#0404f5 347px,#0606f5 363px,#ababfc 370px,#f3f3ff 375px,#fff8f8 378px,#fef1f1 388px,#fbfbff 397px,#8c8cfa 417px,#9a9afb 423px,#fdfdff 434px,#fee5e5 443px,#fffdfd 463px,#cdcdfd 480px,#ebebfe 489px,#fffdfd 493px,#feeaea 502px,#ffffff 533px,#ffffff 559px)"></i><i style="background:linear-gradient(90deg,#ffffff 0px,#f8f8ff 27px,#c7c7fd 38px,#8e8efb 47px,#a9a9fc 54px,#f2f2fe 65px,#f3f3ff 75px,#c2c2fd 91px,#6868f9 106px,#6f6ff9 112px,#e8e8fe 126px,#f6f6ff 134px,#c8c8fd 151px,#6161f9 167px,#6262f9 173px,#ababfc 181px,#e9e9fe 188px,#f5f5ff 196px,#c3c3fd 213px,#5555f8 229px,#5858f8 235px,#9292fb 241px,#fffefe 250px,#fdd3d3 257px,#fedada 265px,#fdfdff 271px,#aeaefc 277px,#4040f8 282px,#0b0bf5 284px,#0000f5 286px,#0000f5 307px,#0b0bf5 308px,#a7a7fc 314px,#f3f3ff 319px,#fff8f8 322px,#f8f8ff 331px,#bcbcfc 338px,#6565f9 343px,#0b0bf5 347px,#0000f5 349px,#0000f5 362px,#4040f8 365px,#c3c3fd 371px,#fefeff 376px,#fef0f0 383px,#fbfbff 392px,#cbcbfd 402px,#7777fa 414px,#7979fa 420px,#babafc 427px,#fffefe 434px,#fee5e5 442px,#fbfbff 461px,#c0c0fd 477px,#d1d1fd 485px,#fffcfc 493px,#feeaea 502px,#ffffff 532px,#ffffff 559px)"></i><i style="background:linear-gradient(90deg,#ffffff 0px,#f9f9ff 25px,#ccccfd 35px,#8080fa 46px,#9a9afb 52px,#f1f1fe 63px,#fcfcff 71px,#bfbffd 88px,#5656f8 104px,#5a5af9 110px,#9b9bfb 117px,#ebebfe 125px,#fcfcff 132px,#c5c5fd 148px,#4a4af8 166px,#5151f8 172px,#9999fb 179px,#ececfe 187px,#fcfcff 194px,#bfbffd 210px,#3c3cf7 228px,#3e3ef7 233px,#7777fa 239px,#f8f8ff 248px,#feeeee 250px,#fcbdbd 257px,#fdc1c1 264px,#fefeff 272px,#a2a2fb 278px,#0000f5 285px,#0000f5 307px,#2b2bf7 309px,#a5a5fb 314px,#ededfe 319px,#fffdfd 322px,#f9f9ff 331px,#c2c2fd 338px,#5e5ef9 344px,#0b0bf5 348px,#0000f5 350px,#0000f5 361px,#bfbffc 370px,#fefeff 375px,#feefef 382px,#fcfcff 389px,#b8b8fc 401px,#6363f9 412px,#6161f9 418px,#9797fb 424px,#ffffff 433px,#fee2e2 440px,#fcfcff 457px,#b3b3fc 476px,#c4c4fd 483px,#fffdfd 492px,#fee9e9 500px,#ffffff 530px,#ffffff 559px)"></i><i style="background:linear-gradient(90deg,#ffffff 0px,#f8f8ff 24px,#c6c6fd 34px,#7676fa 45px,#9696fb 51px,#f8f8ff 62px,#fffafa 71px,#f2f2fe 76px,#9191fb 92px,#4949f8 102px,#4949f8 108px,#7f7ffa 114px,#ebebfe 123px,#fffcfc 127px,#f9f9ff 136px,#9898fb 152px,#3d3df7 164px,#3b3bf7 169px,#6f6ff9 175px,#ededfe 185px,#fffefe 188px,#fffbfb 195px,#e8e8fe 201px,#8787fa 215px,#2d2df7 226px,#2a2af7 231px,#5252f8 236px,#fbfbff 247px,#fcabab 255px,#fb9c9c 261px,#fdc5c5 268px,#ffffff 273px,#9898fb 279px,#0808f5 285px,#0000f5 293px,#0303f5 307px,#9595fb 313px,#e2e2fe 318px,#fefeff 322px,#f6f6ff 332px,#bfbffc 339px,#3e3ef7 347px,#0000f5 351px,#0707f5 359px,#8b8bfa 366px,#f0f0fe 372px,#fffafa 374px,#fee8e8 380px,#fbfbff 388px,#a0a0fb 401px,#5050f8 411px,#4e4ef8 416px,#8282fa 422px,#f9f9ff 431px,#feecec 434px,#fedbdb 441px,#fbfbff 455px,#aaaafc 474px,#b8b8fc 481px,#fffdfd 491px,#fee6e6 499px,#ffffff 528px,#ffffff 559px)"></i><i style="background:linear-gradient(90deg,#ffffff 0px,#f7f7ff 23px,#c1c1fd 33px,#7676fa 43px,#7f7ffa 47px,#fdfdff 60px,#fee7e7 67px,#fdfdff 75px,#8080fa 92px,#4040f7 101px,#4040f8 106px,#7474fa 112px,#f7f7ff 122px,#ffffff 123px,#fee7e7 129px,#fcfcff 137px,#7575fa 154px,#3333f7 163px,#3535f7 168px,#7070f9 174px,#fafaff 184px,#fee4e4 191px,#fbfbff 199px,#7474fa 215px,#2626f6 224px,#1d1df6 229px,#4040f7 234px,#babafc 242px,#ffffff 246px,#fb9595 254px,#fa7a7a 259px,#fa8888 264px,#fdd3d3 271px,#fffefe 274px,#7e7efa 281px,#0909f5 286px,#0000f5 290px,#0505f5 306px,#a1a1fb 313px,#e5e5fe 318px,#fffdfd 323px,#f8f8ff 332px,#c1c1fd 340px,#3232f7 351px,#2222f6 355px,#3d3df7 359px,#fcfcff 371px,#fedcdc 377px,#fef1f1 385px,#fafaff 388px,#4a4af8 409px,#4343f8 414px,#6868f9 419px,#ffffff 430px,#fdd5d5 436px,#fed9d9 444px,#fbfbff 454px,#a6a6fc 472px,#b1b1fc 479px,#fdfdff 489px,#fee2e2 497px,#ffffff 525px,#ffffff 559px)"></i><i style="background:linear-gradient(90deg,#ffffff 0px,#f8f8ff 22px,#c1c1fd 32px,#7878fa 42px,#8484fa 46px,#fafaff 57px,#fdd4d4 65px,#fee3e3 72px,#fbfbff 77px,#4848f8 98px,#3f3ff7 104px,#6464f9 109px,#fdfdff 120px,#fdd5d5 126px,#fedddd 133px,#fffdfd 138px,#3b3bf7 160px,#3232f7 165px,#5353f8 170px,#f5f5ff 181px,#fffdfd 182px,#fdd0d0 188px,#fdd6d6 194px,#ffffff 200px,#2a2af7 222px,#1d1df6 228px,#4141f8 233px,#bbbbfc 241px,#fffcfc 245px,#fa8080 253px,#f85757 258px,#f95f5f 263px,#fba0a0 269px,#fffdfd 275px,#6a6af9 283px,#0101f5 288px,#0202f5 304px,#b2b2fc 313px,#f3f3ff 319px,#fffbfb 323px,#f8f8ff 333px,#c8c8fd 341px,#6666f9 351px,#6060f9 356px,#9090fb 361px,#f6f6ff 368px,#fffbfb 369px,#fdcdcd 375px,#fdd7d7 382px,#fefeff 388px,#4e4ef8 407px,#4242f8 412px,#6262f9 417px,#fefeff 428px,#fdcccc 434px,#fdc6c6 441px,#fbfbff 454px,#a8a8fc 470px,#afaffc 477px,#fffbfb 488px,#fedddd 495px,#ffffff 523px,#ffffff 559px)"></i><i style="background:linear-gradient(90deg,#ffffff 0px,#f7f7ff 22px,#bcbcfc 32px,#8181fa 41px,#8f8ffb 45px,#fffefe 55px,#fdc4c4 62px,#fdc2c2 69px,#fffefe 78px,#5757f8 96px,#4949f8 102px,#6868f9 107px,#f6f6ff 117px,#fffafa 118px,#fdc1c1 124px,#fcbbbb 130px,#feeded 138px,#fefeff 140px,#5252f8 157px,#3c3cf7 163px,#5757f8 168px,#bbbbfc 175px,#fcfcff 179px,#fdc0c0 185px,#fcb3b3 191px,#fedbdb 198px,#fcfcff 202px,#4242f8 219px,#2626f6 225px,#3838f7 230px,#7e7efa 236px,#f3f3ff 243px,#fff9f9 244px,#f85454 254px,#f72f2f 259px,#f73c3c 263px,#fa8888 269px,#fffdfd 276px,#0d0df5 290px,#0000f5 292px,#0505f5 301px,#c8c8fd 313px,#fdfdff 319px,#fff8f8 329px,#f9f9ff 334px,#c4c4fd 344px,#9595fb 352px,#a0a0fb 357px,#f8f8ff 365px,#feeeee 367px,#fcbcbc 373px,#fcb9b9 379px,#fff7f7 388px,#fdfdff 389px,#5e5ef9 405px,#4f4ff8 411px,#7070f9 416px,#ffffff 426px,#fdc2c2 432px,#fcb3b3 439px,#fee5e5 450px,#ffffff 454px,#b1b1fc 468px,#b2b2fc 475px,#f2f2fe 484px,#fffbfb 486px,#fdd7d7 493px,#feebeb 506px,#ffffff 522px,#ffffff 559px)"></i><i style="background:linear-gradient(90deg,#ffffff 0px,#f7f7ff 22px,#aeaefc 34px,#8f8ffb 41px,#bdbdfc 47px,#fafaff 52px,#fcafaf 61px,#fca8a8 68px,#fedada 76px,#fcfcff 80px,#7171f9 94px,#5c5cf9 100px,#7474fa 105px,#cfcffd 112px,#fdfdff 115px,#fcb0b0 122px,#fb9e9e 128px,#fcbebe 135px,#fff9f9 141px,#eeeefe 143px,#6d6df9 155px,#5252f8 161px,#6565f9 166px,#b1b1fc 172px,#f3f3ff 176px,#fffbfb 177px,#fcafaf 183px,#fb9595 189px,#fcb3b3 196px,#fffbfb 203px,#5757f8 218px,#3b3bf7 224px,#5252f8 230px,#a6a6fc 237px,#f6f6ff 242px,#fff7f7 243px,#f73737 254px,#f61111 258px,#f61414 262px,#f84f4f 267px,#fffdfd 277px,#4949f8 289px,#2020f6 294px,#2c2cf7 299px,#8585fa 306px,#ededfe 314px,#fffcfc 317px,#feeeee 325px,#fbfbff 335px,#c3c3fd 352px,#dbdbfe 358px,#fffdfd 362px,#fcabab 371px,#fba0a0 377px,#fdcdcd 385px,#fffefe 390px,#7a7afa 403px,#6464f9 409px,#7c7cfa 414px,#fffcfc 424px,#fcb1b1 431px,#fba0a0 438px,#fdcccc 448px,#fffefe 455px,#bdbdfc 467px,#bfbffc 474px,#fcfcff 483px,#fdd1d1 491px,#fedbdb 501px,#ffffff 518px,#ffffff 559px)"></i><i style="background:linear-gradient(90deg,#ffffff 0px,#f8f8ff 22px,#a4a4fb 39px,#bdbdfc 44px,#fffefe 50px,#fba2a2 59px,#fb8f8f 66px,#fcaeae 73px,#fffbfb 81px,#8b8bfa 93px,#7777fa 99px,#9898fb 105px,#fffafa 113px,#fba3a3 120px,#fa8585 126px,#fb9a9a 133px,#fef1f1 142px,#fffdfd 143px,#8989fa 154px,#6f6ff9 160px,#8282fa 165px,#cbcbfd 171px,#fbfbff 174px,#fb9898 182px,#fa7b7b 188px,#fb8c8c 194px,#fedada 202px,#fefeff 205px,#7d7dfa 216px,#5959f8 223px,#6a6af9 229px,#bebefc 237px,#f8f8ff 241px,#fff6f6 242px,#f61111 255px,#f50000 258px,#f50101 263px,#f95e5e 269px,#fffefe 278px,#7474fa 289px,#5858f8 294px,#6767f9 299px,#fbfbff 312px,#fee1e1 320px,#fdfdff 337px,#e7e7fe 351px,#fffefe 357px,#fb9292 371px,#fa8c8c 377px,#fcbcbc 385px,#fff9f9 391px,#efeffe 393px,#9090fb 403px,#8383fa 409px,#ababfc 415px,#f9f9ff 421px,#fee9e9 423px,#fba2a2 430px,#fb8f8f 437px,#fcb2b2 446px,#fcfcff 457px,#cbcbfd 467px,#d3d3fd 474px,#fffdfd 481px,#fdcbcb 489px,#fdd0d0 498px,#ffffff 516px,#ffffff 559px)"></i><i style="background:linear-gradient(90deg,#ffffff 0px,#f8f8ff 23px,#babafc 37px,#cbcbfd 42px,#fafaff 47px,#fee1e1 50px,#fb8e8e 59px,#fa7f7f 66px,#fba4a4 74px,#fffefe 83px,#a4a4fb 93px,#9898fb 99px,#bebefc 105px,#fcfcff 110px,#fb9494 119px,#fa7373 126px,#fa8787 133px,#fedddd 142px,#fdfdff 145px,#a3a3fb 154px,#9090fb 160px,#b3b3fc 166px,#fffcfc 172px,#fb9292 180px,#f96a6a 186px,#fa7373 193px,#fcb8b8 201px,#fff7f7 206px,#fafaff 207px,#9898fb 216px,#7a7afa 223px,#9292fb 230px,#ededfe 239px,#fafaff 240px,#fee8e8 242px,#f50101 255px,#f50000 264px,#f85151 269px,#fee2e2 277px,#fffefe 279px,#a2a2fb 288px,#8b8bfa 294px,#a7a7fc 300px,#fefeff 308px,#fdcfcf 315px,#fdd4d4 323px,#fffefe 339px,#fff8f8 352px,#fba0a0 365px,#fa7b7b 373px,#fa8888 380px,#fedcdc 390px,#fffcfc 393px,#adadfc 403px,#a8a8fc 409px,#d2d2fd 415px,#fffdfd 419px,#fb9d9d 428px,#fa8282 435px,#fb9999 444px,#fdfdff 459px,#dcdcfe 468px,#f3f3ff 476px,#fffefe 478px,#fdc7c7 487px,#fdc9c9 496px,#ffffff 515px,#ffffff 559px)"></i><i style="background:linear-gradient(90deg,#ffffff 0px,#f9f9ff 24px,#cfcffd 37px,#eeeefe 43px,#fffefe 45px,#fb8e8e 57px,#fa7676 65px,#fb9191 73px,#fefeff 85px,#bebefc 93px,#b9b9fc 99px,#ececfe 106px,#fffbfb 108px,#fb8c8c 118px,#f96b6b 125px,#fa7777 132px,#fdc0c0 141px,#fbfbff 147px,#b9b9fc 155px,#b6b6fc 161px,#e4e4fe 167px,#fcfcff 169px,#fa8080 180px,#f95e5e 187px,#f96d6d 194px,#fcb2b2 202px,#fffafa 208px,#e2e2fe 211px,#a3a3fb 219px,#9f9ffb 226px,#d5d5fd 235px,#fcfcff 239px,#fdd0d0 243px,#f50b0b 254px,#f50000 256px,#f50505 265px,#fedada 277px,#ffffff 280px,#c1c1fd 288px,#b8b8fc 294px,#e4e4fe 301px,#fffbfb 304px,#fcb7b7 312px,#fcb4b4 319px,#fff6f6 336px,#fef1f1 348px,#fcb8b8 359px,#fa7676 371px,#fa7777 378px,#fcaeae 387px,#fffbfb 395px,#c9c9fd 404px,#d1d1fd 410px,#fffefe 416px,#fb9696 427px,#fa7c7c 435px,#fb9191 444px,#fffdfd 461px,#f2f2fe 470px,#fffbfb 475px,#fdc3c3 486px,#fdc9c9 496px,#ffffff 514px,#ffffff 559px)"></i><i style="background:linear-gradient(90deg,#ffffff 0px,#fffdfd 23px,#e2e2fe 36px,#fefeff 42px,#fa8a8a 57px,#fa7878 66px,#fb9898 75px,#fefeff 87px,#d5d5fd 94px,#dbdbfe 100px,#ffffff 105px,#fa8686 118px,#f96b6b 126px,#fa7e7e 134px,#fdd0d0 144px,#fcfcff 149px,#d2d2fd 156px,#dbdbfe 162px,#fffbfb 167px,#fa8080 179px,#f96060 187px,#f97070 195px,#fcbaba 204px,#fffbfb 210px,#c1c1fd 219px,#bfbffc 227px,#f5f5ff 237px,#fff8f8 239px,#fb9f9f 246px,#f50303 255px,#f50000 264px,#fa7676 271px,#fee1e1 278px,#fffefe 281px,#d8d8fd 289px,#e6e6fe 296px,#fdfdff 299px,#fb9c9c 310px,#fb9191 316px,#fef0f0 335px,#feecec 346px,#fb9999 362px,#f97272 373px,#fa8484 382px,#fffdfd 398px,#e6e6fe 406px,#fffafa 413px,#fb9090 427px,#fa7d7d 437px,#fba1a1 448px,#fff6f6 463px,#fff5f5 472px,#fdc0c0 485px,#fdd0d0 497px,#ffffff 514px,#ffffff 559px)"></i><i style="background:linear-gradient(90deg,#ffffff 0px,#fffafa 24px,#f3f3ff 36px,#fffafa 40px,#fb9393 56px,#fa8383 67px,#fba4a4 77px,#fffefe 89px,#eaeafe 96px,#ffffff 102px,#fb8e8e 117px,#fa7777 127px,#fb9191 137px,#ffffff 151px,#e9e9fe 158px,#fffcfc 164px,#fa8383 179px,#f96b6b 189px,#fa8484 198px,#fffbfb 212px,#d4d4fd 221px,#e1e1fe 231px,#fefeff 237px,#fdc0c0 244px,#f50909 256px,#f50000 261px,#f60f0f 264px,#fdc9c9 276px,#fffefe 282px,#eeeefe 290px,#fffefe 295px,#fa7b7b 310px,#fa7878 316px,#fee7e7 333px,#feefef 342px,#fcbbbb 355px,#fa7e7e 370px,#fa8080 380px,#fcb9b9 391px,#fffbfb 402px,#fff6f6 409px,#fb9191 427px,#fa8585 439px,#fcaeae 451px,#feebeb 464px,#fee3e3 473px,#fdc1c1 484px,#fdd8d8 498px,#ffffff 513px,#ffffff 559px)"></i><i style="background:linear-gradient(90deg,#ffffff 0px,#fff7f7 25px,#fffafa 37px,#fb9f9f 56px,#fb9595 70px,#fcb7b7 80px,#fffdfd 92px,#fff8f8 100px,#fb9999 117px,#fa8b8b 131px,#fcacac 141px,#fffdfd 154px,#fff5f5 162px,#fb9393 178px,#fa8080 191px,#fb9b9b 201px,#fefeff 215px,#e5e5fe 224px,#fffbfb 237px,#fdc5c5 244px,#f62323 256px,#f61212 260px,#f73535 265px,#fdcdcd 276px,#fffcfc 283px,#fff9f9 292px,#fcbcbc 300px,#f96868 309px,#f96262 315px,#fba4a4 324px,#fee4e4 333px,#feecec 342px,#fb8f8f 368px,#fa8a8a 380px,#fcb3b3 391px,#fee8e8 402px,#fee0e0 410px,#fb9999 427px,#fb9494 443px,#fdd1d1 459px,#fee1e1 469px,#fdc3c3 484px,#ffffff 513px,#ffffff 559px)"></i><i style="background:linear-gradient(90deg,#ffffff 0px,#fff5f5 26px,#fef1f1 37px,#fcb2b2 54px,#fcabab 74px,#fdd8d8 86px,#fff6f6 95px,#fdd4d4 105px,#fca9a9 117px,#fba4a4 136px,#fdd0d0 147px,#fff4f4 156px,#fedfdf 164px,#fba5a5 177px,#fb9a9a 196px,#fcbcbc 206px,#fffefe 217px,#f2f2ff 228px,#fffcfc 236px,#fdcdcd 244px,#f84444 256px,#f73737 261px,#f95d5d 266px,#fdd3d3 276px,#fff8f8 283px,#fef1f1 291px,#fcb7b7 299px,#f96161 308px,#f85555 314px,#fa8383 321px,#fedede 332px,#feeded 340px,#fba2a2 366px,#fb9999 382px,#fdc3c3 395px,#fedddd 405px,#fba3a3 428px,#fca6a6 448px,#fedada 466px,#fdc8c8 483px,#ffffff 512px,#ffffff 559px)"></i><i style="background:linear-gradient(90deg,#ffffff 0px,#fff4f4 29px,#fedfdf 41px,#fdc1c1 55px,#fdc2c2 80px,#feeeee 95px,#fcbcbc 116px,#fcbbbb 141px,#feecec 156px,#fdcfcf 167px,#fcb5b5 180px,#fcb4b4 202px,#ffffff 220px,#fff8f8 237px,#fdcece 245px,#f96161 257px,#f95f5f 262px,#fba4a4 270px,#fee6e6 278px,#fff8f8 286px,#fedbdb 294px,#f95b5b 309px,#f95b5b 315px,#fcabab 325px,#fee7e7 334px,#fee8e8 343px,#fcb5b5 363px,#fca9a9 386px,#fdd5d5 405px,#fcb1b1 427px,#fcb3b3 451px,#fdd6d6 467px,#fdcccc 482px,#ffffff 512px,#ffffff 559px)"></i><i style="background:linear-gradient(90deg,#ffffff 0px,#fee7e7 38px,#fdd1d1 53px,#fdd1d1 83px,#feeaea 96px,#fdcdcd 114px,#fdcbcb 144px,#fee8e8 158px,#fdc9c9 176px,#fdc6c6 205px,#ffffff 223px,#fff4f4 239px,#fdc3c3 248px,#fa8484 257px,#fa8686 263px,#feebeb 278px,#fff5f5 287px,#fdcccc 296px,#f96b6b 308px,#f96464 314px,#fb9898 322px,#fee1e1 332px,#feecec 341px,#fdc3c3 362px,#fcb6b6 390px,#fdd0d0 406px,#fcbdbd 427px,#fcbebe 454px,#fdd2d2 470px,#fdd3d3 482px,#ffffff 511px,#ffffff 559px)"></i><i style="background:linear-gradient(90deg,#ffffff 0px,#fee5e5 40px,#fee2e2 58px,#fedbdb 85px,#fee7e7 98px,#fedbdb 114px,#fdd8d8 147px,#fee5e5 160px,#fdd8d8 175px,#fdd1d1 200px,#fedddd 211px,#ffffff 226px,#feeeee 242px,#fba1a1 258px,#fcadad 265px,#fef2f2 279px,#fef1f1 289px,#fcbcbc 299px,#fa7b7b 309px,#fa7f7f 316px,#fee9e9 333px,#feeaea 343px,#fdcece 361px,#fdc0c0 393px,#fdcdcd 408px,#fdc5c5 456px,#fdd1d1 473px,#ffffff 511px,#ffffff 559px)"></i><i style="background:linear-gradient(90deg,#ffffff 0px,#fee8e8 51px,#fee4e4 76px,#fee9e9 92px,#fee8e8 115px,#fee1e1 138px,#fee6e6 153px,#fee7e7 177px,#fedede 200px,#fee3e3 212px,#fffefe 228px,#feeeee 244px,#fcbbbb 259px,#fdd5d5 269px,#fff8f8 281px,#feeaea 292px,#fb9191 310px,#fba0a0 318px,#feeded 333px,#fee8e8 345px,#fdd7d7 364px,#fdc8c8 396px,#fdcbcb 445px,#fdd0d0 463px,#fedddd 482px,#ffffff 511px,#ffffff 559px)"></i><i style="background:linear-gradient(90deg,#ffffff 0px,#feefef 50px,#fef0f0 74px,#feeaea 91px,#fff3f3 117px,#fee8e8 140px,#feefef 176px,#feebeb 199px,#fee8e8 212px,#fffefe 231px,#fee9e9 248px,#fdd1d1 261px,#fffafa 283px,#fee1e1 296px,#fcabab 310px,#fcbaba 319px,#fff3f3 334px,#fdcaca 394px,#fdd3d3 444px,#fdd3d3 464px,#fee3e3 483px,#ffffff 511px,#ffffff 559px)"></i><i style="background:linear-gradient(90deg,#ffffff 0px,#fff3f3 49px,#fff6f6 74px,#feefef 96px,#fff7f7 134px,#feecec 153px,#fff7f7 195px,#feecec 212px,#fffefe 234px,#fee2e2 263px,#fffbfb 285px,#fed9d9 301px,#fdc2c2 313px,#fff6f6 336px,#fee2e2 364px,#fdd1d1 401px,#fdd7d7 445px,#fdd6d6 473px,#ffffff 509px,#ffffff 559px)"></i></div></div>
<div class="f s2" style="left:655px;top:928px;width:566px;height:108px;clip-path:polygon(55px 0.5px,564.7px 0.5px,517px 108px,1px 108px);"><div><i style="background:linear-gradient(90deg,#ffffff 0px,#fff9f9 65px,#fdd3d3 72px,#fa7f7f 80px,#fa8b8b 85px,#fffdfd 95px,#dcdcfe 102px,#fffdfd 124px,#fdd1d1 132px,#f85858 142px,#f84f4f 146px,#fa7474 150px,#fffcfc 159px,#dbdbfe 165px,#f1f1fe 177px,#fff9f9 188px,#fdcece 195px,#f84545 205px,#f73737 209px,#f95e5e 213px,#fffafa 222px,#d3d3fd 228px,#dfdffe 236px,#f9f9ff 248px,#ffffff 250px,#fdc2c2 257px,#f95f5f 262px,#f50000 266px,#f50707 277px,#fef1f1 285px,#f8f8ff 286px,#bfbffc 290px,#b5b5fc 295px,#f2f2ff 308px,#fff9f9 314px,#fcbfbf 320px,#f96c6c 324px,#f50000 328px,#f50000 341px,#f73939 343px,#fdd6d6 348px,#fcfcff 350px,#c9c9fd 354px,#c3c3fd 359px,#f5f5ff 372px,#fffdfd 377px,#fdc6c6 384px,#f96e6e 389px,#f50606 394px,#f50505 402px,#fdcece 411px,#fffbfb 414px,#e1e1fe 420px,#fffdfd 441px,#fdd8d8 451px,#fba2a2 460px,#fcadad 465px,#fefeff 475px,#e4e4fe 482px,#fffdfd 506px,#fedddd 527px,#fffefe 546px,#ffffff 565px)"></i><i style="background:linear-gradient(90deg,#ffffff 0px,#fff8f8 65px,#fdcccc 72px,#fa7e7e 79px,#fa8282 84px,#fdd1d1 91px,#fcfcff 95px,#d3d3fd 101px,#dadafe 109px,#fffcfc 125px,#fdcccc 132px,#f85151 142px,#f84a4a 146px,#fa7373 150px,#fff6f6 158px,#fbfbff 159px,#d3d3fd 164px,#d3d3fd 171px,#fffdfd 188px,#fdc9c9 195px,#f73c3c 205px,#f73131 209px,#f95c5c 213px,#fff2f2 221px,#fcfcff 222px,#cacafd 227px,#c6c6fd 233px,#f1f1fe 247px,#fffdfd 251px,#fcbcbc 257px,#f85151 262px,#f50303 265px,#f50505 277px,#fffcfc 285px,#b6b6fc 289px,#9a9afb 293px,#b0b0fc 299px,#e5e5fe 309px,#fff8f8 315px,#fcb9b9 320px,#f95f5f 324px,#f50707 327px,#f50000 341px,#f73b3b 343px,#fedfdf 348px,#fff9f9 349px,#c0c0fd 353px,#aaaafc 357px,#ccccfd 365px,#fffdfd 378px,#fdc1c1 384px,#f84c4c 390px,#f50b0b 393px,#f50000 395px,#f50101 402px,#fdd2d2 411px,#fcfcff 414px,#d8d8fd 419px,#e7e7fe 429px,#fffafa 443px,#fdc6c6 453px,#fb9f9f 460px,#fcabab 465px,#fffcfc 474px,#dbdbfe 482px,#fffcfc 508px,#fedcdc 526px,#fffefe 546px,#ffffff 565px)"></i><i style="background:linear-gradient(90deg,#ffffff 0px,#fff8f8 65px,#fdc6c6 72px,#fa8080 78px,#fa7c7c 83px,#fcb9b9 89px,#fffcfc 94px,#c8c8fd 101px,#c8c8fd 108px,#fffbfb 126px,#fcbebe 133px,#f85555 141px,#f84646 145px,#f96767 149px,#fffcfc 158px,#c7c7fd 164px,#c0c0fd 170px,#fffcfc 189px,#fcb9b9 196px,#f84141 204px,#f72d2d 208px,#f84f4f 212px,#fffafa 221px,#bcbcfc 227px,#b2b2fc 233px,#fff9f9 252px,#fcb8b8 257px,#f84747 262px,#f50000 265px,#f50000 276px,#f50a0a 277px,#feeeee 284px,#f5f5ff 285px,#a1a1fb 289px,#7e7efa 293px,#8989fa 298px,#f2f2ff 314px,#fdfdff 315px,#fdc9c9 319px,#f85555 324px,#f50000 327px,#f50000 341px,#feebeb 348px,#f8f8ff 349px,#acacfc 353px,#9191fb 357px,#a4a4fb 363px,#fffcfc 379px,#fcaeae 385px,#f50303 393px,#f50303 402px,#fed9d9 411px,#fffcfc 413px,#d1d1fd 418px,#cecefd 425px,#fffefe 443px,#fcbcbc 454px,#fb9e9e 460px,#fcadad 465px,#fdfdff 474px,#d4d4fd 481px,#dadafe 490px,#fffcfc 509px,#fedcdc 526px,#fffefe 546px,#ffffff 565px)"></i><i style="background:linear-gradient(90deg,#ffffff 0px,#fff8f8 65px,#fdcdcd 71px,#fa8686 77px,#fa7b7b 82px,#fba4a4 87px,#fcfcff 94px,#bcbcfc 101px,#b6b6fc 108px,#fefeff 126px,#fcbcbc 133px,#f85454 141px,#f84949 145px,#f96d6d 149px,#fff4f4 157px,#fbfbff 158px,#bbbbfc 164px,#aeaefc 170px,#fffafa 190px,#fca8a8 197px,#f84040 204px,#f73030 208px,#f85555 212px,#fcfcff 221px,#b6b6fc 226px,#9c9cfb 231px,#b3b3fc 239px,#f5f5ff 251px,#ffffff 252px,#fcb7b7 257px,#f50b0b 264px,#f50000 266px,#f50000 276px,#f73535 278px,#fffbfb 284px,#8d8dfb 289px,#6060f9 293px,#6363f9 298px,#e5e5fe 314px,#fefeff 316px,#fba2a2 321px,#f61313 326px,#f50000 327px,#f50000 340px,#f50808 341px,#fff8f8 348px,#9999fb 353px,#7575fa 357px,#7d7dfa 362px,#eeeefe 378px,#fffafa 380px,#fb9a9a 386px,#f50202 393px,#f50000 401px,#f73a3a 404px,#fee1e1 411px,#fafaff 413px,#c5c5fd 418px,#bbbbfc 424px,#fffefe 444px,#fba1a1 459px,#fcaaaa 464px,#fffcfc 473px,#c8c8fd 482px,#cfcffd 491px,#fffdfd 510px,#fedddd 525px,#fffefe 546px,#ffffff 565px)"></i><i style="background:linear-gradient(90deg,#ffffff 0px,#f8f8ff 55px,#fff9f9 65px,#fcbfbf 72px,#fa8989 77px,#fa8181 82px,#fcb8b8 88px,#fffbfb 93px,#b1b1fc 101px,#a1a1fb 107px,#ddddfe 122px,#ffffff 127px,#fba1a1 135px,#f85858 141px,#f85252 145px,#fa8686 150px,#fffbfb 157px,#afaffc 164px,#9a9afb 170px,#cecefd 183px,#fefeff 190px,#fcb8b8 196px,#f84444 204px,#f73939 208px,#f96161 212px,#fff8f8 220px,#e3e3fe 222px,#9898fb 228px,#8585fa 233px,#a9a9fc 242px,#ebebfe 251px,#fffbfb 253px,#fba2a2 258px,#f50a0a 264px,#f50000 267px,#f50000 275px,#f50a0a 276px,#feeaea 283px,#f6f6ff 284px,#7a7afa 289px,#4242f8 293px,#3636f7 297px,#6565f9 304px,#d1d1fd 314px,#fffdfd 317px,#fa8b8b 322px,#f61414 326px,#f50000 327px,#f50000 340px,#fee8e8 347px,#f8f8ff 348px,#9898fb 352px,#6161f9 356px,#5454f8 361px,#9999fb 371px,#f7f7ff 380px,#fff8f8 381px,#fa8686 387px,#f50707 393px,#f50000 400px,#f73232 403px,#feeaea 411px,#fffdfd 412px,#babafc 418px,#a9a9fc 424px,#f4f4ff 443px,#ffffff 445px,#fca8a8 458px,#fcafaf 464px,#fefeff 473px,#bebefc 482px,#bcbcfc 490px,#fffcfc 512px,#fee0e0 525px,#ffffff 547px,#ffffff 565px)"></i><i style="background:linear-gradient(90deg,#ffffff 0px,#f8f8ff 52px,#f7f7ff 62px,#fff6f6 66px,#fcb2b2 73px,#fa8a8a 78px,#fb9090 83px,#fee6e6 91px,#fefeff 93px,#a2a2fb 102px,#8f8ffb 108px,#b5b5fc 118px,#fffdfd 128px,#f96868 140px,#f95b5b 144px,#fa8484 149px,#fdfdff 157px,#a6a6fb 164px,#8787fa 170px,#9d9dfb 178px,#ebebfe 189px,#ffffff 191px,#f85656 203px,#f84444 207px,#f96262 211px,#ffffff 220px,#9696fb 227px,#7171f9 232px,#7676fa 238px,#bdbdfc 248px,#f9f9ff 253px,#fee3e3 255px,#f95a5a 261px,#f50000 265px,#f50000 274px,#f50909 275px,#fff6f6 283px,#eaeafe 284px,#6b6bf9 289px,#2929f7 293px,#0f0ff6 297px,#2222f6 302px,#8989fa 311px,#fffafa 318px,#f85858 324px,#f50000 327px,#f50000 339px,#f85656 342px,#fff6f6 347px,#ececfe 348px,#7878fa 353px,#4242f8 357px,#3232f7 362px,#6060f9 369px,#d7d7fd 379px,#f7f7ff 381px,#fff6f6 382px,#f62323 392px,#f50000 395px,#f50606 399px,#f84747 403px,#fff3f3 411px,#f9f9ff 412px,#b0b0fc 418px,#9898fb 424px,#b8b8fc 434px,#fefeff 446px,#fcaeae 458px,#fcb7b7 464px,#fffafa 472px,#dfdffe 476px,#aeaefc 484px,#b0b0fc 492px,#fffefe 513px,#fee4e4 525px,#ffffff 547px,#ffffff 565px)"></i><i style="background:linear-gradient(90deg,#ffffff 0px,#f8f8ff 50px,#ededfe 60px,#fffafa 66px,#fb9c9c 76px,#fb9393 81px,#fcbebe 87px,#fff8f8 92px,#eeeefe 94px,#9393fb 103px,#7e7efa 109px,#9a9afb 117px,#fffbfb 129px,#fa7c7c 139px,#f96a6a 143px,#fa8888 148px,#fff8f8 156px,#e9e9fe 158px,#8e8efb 166px,#7474fa 172px,#9090fb 180px,#e9e9fe 190px,#fffcfc 192px,#f96d6d 202px,#f85555 206px,#f96969 210px,#fdd2d2 217px,#fff5f5 219px,#f8f8ff 220px,#8383fa 228px,#5858f8 234px,#6363f9 240px,#a8a8fc 248px,#ffffff 254px,#f96262 261px,#f50a0a 265px,#f50000 268px,#f50000 273px,#f85858 277px,#fdfdff 283px,#4d4df8 290px,#0808f5 294px,#0000f5 301px,#0e0ef6 305px,#7373fa 312px,#f0f0fe 318px,#fff5f5 319px,#f61313 327px,#f50000 328px,#f50202 338px,#fdfdff 347px,#6f6ff9 353px,#2525f6 358px,#1111f6 363px,#3737f7 369px,#afaffc 378px,#f7f7ff 382px,#fff3f3 383px,#f73636 392px,#f61616 395px,#f61919 398px,#f84d4d 402px,#fffbfb 411px,#a1a1fb 419px,#8888fa 425px,#9e9efb 433px,#fdfdff 447px,#fcbaba 457px,#fcbcbc 463px,#fffefe 472px,#a6a6fb 484px,#9f9ffb 492px,#fffdfd 515px,#fee9e9 526px,#ffffff 549px,#ffffff 565px)"></i><i style="background:linear-gradient(90deg,#ffffff 0px,#fbfbff 48px,#e4e4fe 59px,#ffffff 66px,#fca7a7 76px,#fba1a1 81px,#fdd3d3 88px,#fffcfc 92px,#8080fa 105px,#6f6ff9 111px,#9393fb 119px,#f8f8ff 129px,#feebeb 131px,#fa8b8b 139px,#fa7f7f 144px,#fcb0b0 150px,#fffdfd 156px,#8181fa 167px,#6464f9 173px,#7a7afa 180px,#cfcffd 189px,#f6f6ff 192px,#fff9f9 193px,#fa7d7d 202px,#f96a6a 206px,#fa8989 211px,#fffafa 219px,#c7c7fd 223px,#6060f9 231px,#4444f8 236px,#5555f8 242px,#9f9ffb 249px,#f1f1fe 254px,#fff8f8 255px,#f73131 264px,#f50a0a 267px,#f50404 270px,#f73333 274px,#feefef 282px,#f6f6ff 283px,#2121f6 292px,#0000f5 294px,#0000f5 307px,#3a3af7 311px,#d7d7fd 318px,#f2f2fe 319px,#fef0f0 320px,#f72e2e 327px,#f50606 329px,#f50404 336px,#f97070 341px,#fef0f0 346px,#f5f5ff 347px,#4747f8 355px,#0303f5 360px,#0707f5 368px,#5f5ff9 375px,#f8f8ff 383px,#fef0f0 384px,#f95d5d 391px,#f73434 395px,#f84141 399px,#fb9d9d 405px,#fdfdff 411px,#9d9dfb 419px,#7a7afa 426px,#8f8ffb 434px,#fbfbff 448px,#fdc2c2 458px,#fdd0d0 465px,#fdfdff 472px,#9797fb 486px,#9292fb 493px,#ffffff 516px,#feeeee 527px,#ffffff 553px,#ffffff 565px)"></i><i style="background:linear-gradient(90deg,#ffffff 0px,#fbfbff 47px,#dcdcfe 58px,#f2f2fe 65px,#fffdfd 67px,#fcb4b4 76px,#fcb4b4 82px,#ffffff 92px,#7272f9 107px,#6565f9 113px,#8989fa 120px,#fafaff 130px,#fedcdc 133px,#fb9d9d 139px,#fb9494 144px,#fdcaca 151px,#fefeff 156px,#7070f9 169px,#5858f8 175px,#7676fa 182px,#dcdcfe 191px,#f8f8ff 193px,#fee8e8 195px,#fb9090 202px,#fa8484 207px,#fcb4b4 213px,#fffefe 219px,#5656f8 232px,#3737f7 237px,#4141f8 242px,#7d7dfa 248px,#f8f8ff 255px,#fef1f1 256px,#f95c5c 263px,#f72c2c 267px,#f72b2b 270px,#f85757 274px,#fff6f6 282px,#f2f2fe 283px,#0000f5 294px,#0404f5 310px,#8888fa 316px,#f6f6ff 320px,#feecec 321px,#f84e4e 327px,#f62020 330px,#f61616 333px,#f73f3f 337px,#fff9f9 346px,#dbdbfe 348px,#1818f6 358px,#0000f5 360px,#0606f5 371px,#7777fa 378px,#f9f9ff 384px,#fdd8d8 386px,#fa7878 391px,#f85555 395px,#f96363 399px,#fff8f8 410px,#ececfe 412px,#8686fa 422px,#6f6ff9 429px,#9292fb 437px,#fffcfc 450px,#fdcece 458px,#fed9d9 465px,#fcfcff 472px,#9090fb 487px,#8888fa 494px,#cecefd 508px,#ffffff 518px,#fff4f4 529px,#ffffff 565px)"></i><i style="background:linear-gradient(90deg,#ffffff 0px,#fbfbff 46px,#d5d5fd 57px,#e5e5fe 64px,#fffcfc 68px,#fdc2c2 76px,#fdc7c7 83px,#fefeff 92px,#6a6af9 109px,#6262f9 115px,#9090fb 122px,#fcfcff 131px,#fcb0b0 139px,#fca9a9 144px,#fee7e7 153px,#fcfcff 156px,#6060f9 172px,#5656f8 178px,#8585fa 185px,#fbfbff 194px,#fba5a5 202px,#fb9c9c 207px,#fdd7d7 215px,#fefeff 219px,#4242f8 235px,#3131f7 240px,#4d4df8 245px,#9e9efb 251px,#ffffff 256px,#fa7777 263px,#f85050 267px,#f85858 271px,#fca6a6 277px,#fffafa 282px,#cdcdfd 285px,#0000f5 295px,#0000f5 311px,#7070f9 316px,#fafaff 321px,#f97272 327px,#f84545 331px,#f85151 335px,#fca6a6 341px,#fffdfd 346px,#0606f5 360px,#0000f5 372px,#4e4ef8 377px,#fbfbff 385px,#fb9595 391px,#fa7878 395px,#fb8c8c 400px,#fffdfd 410px,#7c7cfa 424px,#6b6bf9 431px,#9595fb 439px,#fffefe 451px,#fed9d9 458px,#fee6e6 466px,#fbfbff 472px,#8989fa 489px,#8585fa 496px,#fdfdff 519px,#fffbfb 534px,#ffffff 565px)"></i><i style="background:linear-gradient(90deg,#ffffff 0px,#fbfbff 45px,#d0d0fd 57px,#e0e0fe 64px,#fffafa 69px,#fdcece 77px,#fedcdc 85px,#fefeff 92px,#9d9dfb 104px,#6666f9 112px,#6d6df9 118px,#b5b5fc 126px,#fefeff 132px,#fdc2c2 139px,#fdc0c0 145px,#fcfcff 156px,#6565f9 173px,#5a5af9 179px,#7f7ffa 185px,#fefeff 195px,#fcbaba 202px,#fcb6b6 208px,#fefeff 219px,#9595fb 229px,#4242f8 237px,#3a3af7 242px,#5e5ef9 247px,#cbcbfd 254px,#f2f2fe 256px,#fff9f9 257px,#fb9393 263px,#fa7575 267px,#fa8585 272px,#fffbfb 282px,#d9d9fd 285px,#4343f8 293px,#0707f5 296px,#0606f5 312px,#afaffc 319px,#fefeff 322px,#fb9696 327px,#f97070 331px,#fa7a7a 335px,#fffefe 346px,#7373fa 355px,#0101f5 362px,#0303f5 373px,#6969f9 379px,#fcfcff 386px,#fca8a8 392px,#fb9898 396px,#fcb9b9 402px,#ffffff 410px,#7a7afa 426px,#6f6ff9 433px,#9f9ffb 441px,#ffffff 452px,#fee3e3 459px,#fffbfb 470px,#f1f1fe 474px,#8787fa 491px,#8989fa 498px,#fcfcff 520px,#ffffff 565px)"></i><i style="background:linear-gradient(90deg,#ffffff 0px,#f9f9ff 45px,#cecefd 58px,#e8e8fe 66px,#fdfdff 69px,#fedbdb 77px,#fef0f0 88px,#fbfbff 93px,#afaffc 104px,#7575fa 112px,#7575fa 118px,#a8a8fc 125px,#fffefe 133px,#fdd0d0 140px,#fedbdb 148px,#fefeff 156px,#b5b5fc 166px,#6c6cf9 175px,#6969f9 181px,#a0a0fb 188px,#fffefe 196px,#fdcdcd 202px,#fdc9c9 208px,#fffefe 219px,#c2c2fd 227px,#5959f9 237px,#4949f8 242px,#6464f9 247px,#c6c6fd 254px,#f9f9ff 257px,#fdd4d4 260px,#fb9f9f 265px,#fb9a9a 270px,#feefef 281px,#fcfcff 283px,#a1a1fb 290px,#0000f5 299px,#0000f5 311px,#4646f8 315px,#fffdfd 323px,#fcabab 328px,#fb9696 332px,#fcb3b3 338px,#fffdfd 346px,#afaffc 353px,#1717f6 363px,#0000f5 366px,#0404f5 372px,#4343f8 377px,#fefeff 387px,#fdc3c3 392px,#fcb6b6 397px,#ffffff 410px,#7f7ffa 428px,#7c7cfa 435px,#c1c1fd 445px,#fefeff 453px,#feecec 462px,#fbfbff 472px,#bbbbfc 484px,#8c8cfb 493px,#9797fb 501px,#f6f6ff 519px,#fffdfd 533px,#ffffff 565px)"></i><i style="background:linear-gradient(90deg,#ffffff 0px,#fafaff 44px,#cfcffd 58px,#e6e6fe 66px,#fefeff 70px,#fee5e5 79px,#fbfbff 94px,#c4c4fd 104px,#8585fa 114px,#8b8bfa 120px,#ddddfe 130px,#fffdfd 134px,#fedddd 141px,#fffbfb 155px,#f0f0fe 160px,#7d7dfa 177px,#8282fa 183px,#c4c4fd 191px,#fffdfd 197px,#fdd8d8 204px,#fef0f0 216px,#fbfbff 221px,#bdbdfc 230px,#6d6df9 239px,#6565f9 244px,#9090fb 250px,#ffffff 258px,#fdc0c0 264px,#fcb7b7 270px,#fdfdff 284px,#b8b8fc 291px,#1111f6 302px,#0000f5 305px,#0a0af5 310px,#5252f8 315px,#f2f2fe 323px,#fffbfb 324px,#fdc0c0 329px,#fcb8b8 334px,#fefeff 347px,#b3b3fc 355px,#3030f7 365px,#1919f6 370px,#3838f7 375px,#c3c3fd 384px,#ffffff 388px,#fdd3d3 393px,#fdd1d1 399px,#fcfcff 411px,#8d8dfb 430px,#9090fb 437px,#fdfdff 454px,#fff5f5 465px,#fafaff 473px,#bcbcfc 486px,#9898fb 495px,#acacfc 504px,#f7f7ff 520px,#ffffff 565px)"></i><i style="background:linear-gradient(90deg,#ffffff 0px,#f8f8ff 45px,#d4d4fd 59px,#f1f1fe 68px,#fffbfb 72px,#fef0f0 83px,#fcfcff 96px,#c7c7fd 107px,#9c9cfb 116px,#acacfc 123px,#fffdfd 135px,#fee9e9 143px,#fcfcff 159px,#c5c5fd 170px,#9595fb 179px,#a4a4fb 186px,#fffcfc 198px,#fee4e4 206px,#fbfbff 224px,#c3c3fd 233px,#8787fa 242px,#9292fb 248px,#fffcfc 259px,#fdd1d1 265px,#fdd5d5 273px,#fdfdff 287px,#c0c0fd 294px,#3f3ff7 304px,#3131f7 309px,#5b5bf9 314px,#f7f7ff 324px,#fffafa 325px,#fdd4d4 330px,#fdd7d7 337px,#fefeff 349px,#c3c3fd 357px,#5555f8 367px,#4848f8 372px,#6a6af9 377px,#fffefe 389px,#fee0e0 395px,#fdfdff 412px,#bfbffc 425px,#9e9efb 434px,#b7b7fc 442px,#fdfdff 455px,#fffefe 470px,#e1e1fe 482px,#aaaafc 495px,#b7b7fc 504px,#f9f9ff 521px,#ffffff 565px)"></i><i style="background:linear-gradient(90deg,#ffffff 0px,#f9f9ff 46px,#ddddfe 61px,#fffcfc 73px,#fffafa 93px,#f7f7ff 102px,#b6b6fc 118px,#cbcbfd 126px,#fffdfd 136px,#fff3f3 147px,#fbfbff 164px,#b1b1fc 181px,#c7c7fd 189px,#fffdfd 199px,#feefef 209px,#f8f8ff 230px,#a9a9fc 244px,#b6b6fc 250px,#fcfcff 259px,#fedfdf 267px,#fff6f6 291px,#fdfdff 293px,#7777fa 306px,#6d6df9 311px,#9e9efb 317px,#fbfbff 325px,#fee1e1 333px,#f9f9ff 355px,#7e7efa 370px,#7e7efa 375px,#c2c2fd 383px,#fffefe 390px,#feecec 398px,#fbfbff 416px,#b6b6fc 435px,#d3d3fd 445px,#ffffff 457px,#f6f6ff 478px,#bcbcfc 497px,#d2d2fd 508px,#fcfcff 523px,#ffffff 565px)"></i><i style="background:linear-gradient(90deg,#ffffff 0px,#f7f7ff 50px,#e7e7fe 63px,#fffcfc 75px,#fffcfc 105px,#cfcffd 121px,#fffcfc 138px,#fffbfb 168px,#ececfe 174px,#ccccfd 184px,#f7f7ff 197px,#fff6f6 204px,#feecec 231px,#fefeff 236px,#cbcbfd 246px,#d8d8fd 253px,#fffcfc 261px,#feebeb 271px,#fedfdf 285px,#fdd6d6 294px,#ffffff 300px,#aeaefc 308px,#a4a4fb 313px,#d8d8fd 321px,#fffcfc 327px,#feeeee 336px,#feebeb 357px,#ffffff 361px,#adadfc 372px,#b0b0fc 378px,#ffffff 391px,#fff6f6 403px,#f8f8ff 423px,#cdcdfd 437px,#fffefe 459px,#f5f5ff 482px,#cecefd 499px,#fefeff 526px,#ffffff 565px)"></i><i style="background:linear-gradient(90deg,#ffffff 0px,#f7f7ff 55px,#f3f3ff 66px,#fffcfc 79px,#feecec 108px,#fdfdff 114px,#e4e4fe 124px,#fffcfc 140px,#feeaea 171px,#f9f9ff 178px,#e2e2fe 187px,#fffcfc 203px,#fee9e9 222px,#fdd1d1 233px,#fdfdff 243px,#e3e3fe 251px,#fffcfc 263px,#fee5e5 282px,#fca7a7 295px,#fcb8b8 300px,#fff8f8 306px,#f0f0fe 308px,#d0d0fd 313px,#ddddfe 320px,#fffefe 328px,#fee2e2 349px,#fdc9c9 359px,#feeded 366px,#ffffff 368px,#d2d2fd 375px,#dadafe 382px,#fffdfd 393px,#fff4f4 424px,#fbfbff 429px,#e1e1fe 440px,#fffefe 463px,#f5f5ff 487px,#e0e0fe 503px,#ffffff 529px,#ffffff 565px)"></i><i style="background:linear-gradient(90deg,#ffffff 0px,#fff7f7 43px,#fffafa 55px,#fbfbff 71px,#fef2f2 95px,#fdd7d7 109px,#fefeff 120px,#f4f4ff 130px,#fffcfc 148px,#fee4e4 163px,#fdd5d5 173px,#ffffff 183px,#f3f3ff 193px,#fffcfc 208px,#fee6e6 222px,#fcb3b3 234px,#fdc5c5 240px,#fdfdff 249px,#f5f5ff 258px,#fffbfb 268px,#fee5e5 282px,#fca8a8 290px,#f97272 297px,#fa7b7b 301px,#fffdfd 312px,#e9e9fe 318px,#fffcfc 331px,#fee7e7 347px,#fba2a2 360px,#fcafaf 365px,#ffffff 374px,#e9e9fe 381px,#fffdfd 396px,#feebeb 417px,#fee6e6 427px,#fdfdff 435px,#f1f1fe 446px,#fffefe 471px,#f7f7ff 493px,#efeffe 508px,#fffefe 537px,#ffffff 565px)"></i><i style="background:linear-gradient(90deg,#ffffff 0px,#fff7f7 41px,#feeaea 53px,#fcfcff 64px,#fff6f6 93px,#fdc2c2 110px,#fefeff 125px,#fff4f4 157px,#fcbdbd 173px,#fee3e3 182px,#fcfcff 189px,#fff6f6 217px,#fdcece 226px,#fb9494 235px,#fb9f9f 240px,#fffdfd 252px,#fafaff 263px,#fff4f4 278px,#fdd3d3 285px,#f97070 293px,#f73c3c 298px,#f84141 302px,#fa8282 307px,#fee9e9 314px,#ffffff 317px,#f9f9ff 326px,#fff6f6 342px,#fdd6d6 350px,#fa7b7b 361px,#fa8383 366px,#fff9f9 378px,#fafaff 389px,#fff4f4 412px,#fdd2d2 426px,#fcfcff 441px,#fffdfd 494px,#f9f9ff 514px,#ffffff 565px)"></i><i style="background:linear-gradient(90deg,#ffffff 0px,#fff9f9 39px,#fedcdc 52px,#fdfdff 66px,#fff5f5 94px,#fcafaf 110px,#fdc6c6 117px,#fffdfd 127px,#fff5f5 157px,#fca9a9 173px,#fcb9b9 179px,#fffcfc 190px,#fff5f5 218px,#fdcbcb 226px,#fa7a7a 235px,#fa7c7c 240px,#fff8f8 253px,#f9f9ff 265px,#fff7f7 278px,#fdd6d6 285px,#fb9494 290px,#f61a1a 297px,#f50101 300px,#f50b0b 303px,#f84848 307px,#fdcbcb 314px,#fffbfb 319px,#fff7f7 343px,#fdd6d6 350px,#f95a5a 361px,#f85151 365px,#fa7e7e 370px,#fee4e4 378px,#ffffff 383px,#fff4f4 412px,#fdc2c2 427px,#fee2e2 436px,#fefeff 444px,#fff5f5 483px,#fffafa 498px,#ffffff 565px)"></i><i style="background:linear-gradient(90deg,#ffffff 0px,#fff7f7 39px,#fdcfcf 52px,#fefeff 66px,#fff6f6 94px,#fdc7c7 103px,#fb9e9e 110px,#fcacac 116px,#fff8f8 127px,#fffafa 155px,#fdd4d4 164px,#fb9797 173px,#fb9e9e 178px,#fffbfb 191px,#fff7f7 218px,#fdd3d3 225px,#f96363 235px,#f85858 239px,#fa8282 244px,#fef2f2 253px,#ffffff 255px,#f3f3ff 263px,#fffbfb 277px,#fee2e2 284px,#fba3a3 289px,#f50b0b 296px,#f50000 298px,#f50000 306px,#fdc2c2 315px,#fff9f9 320px,#fff9f9 343px,#fdd8d8 350px,#fa7979 357px,#f73535 362px,#f72c2c 366px,#f85555 370px,#fdd1d1 378px,#fffcfc 384px,#fff5f5 412px,#fcb4b4 427px,#fdc8c8 434px,#fffefe 445px,#fff6f6 481px,#feeeee 495px,#fdfdff 509px,#ffffff 565px)"></i><i style="background:linear-gradient(90deg,#ffffff 0px,#fff8f8 38px,#fdc2c2 51px,#fdd6d6 58px,#ffffff 66px,#fff5f5 95px,#fdc4c4 103px,#fb9090 110px,#fb9494 115px,#fff9f9 128px,#fff8f8 157px,#fdcbcb 165px,#fa8989 173px,#fa8b8b 178px,#fff8f8 191px,#fdfdff 206px,#fff4f4 220px,#fdcaca 226px,#f84646 236px,#f73f3f 240px,#f96767 244px,#feeeee 253px,#ffffff 255px,#ececfe 261px,#fffcfc 278px,#fee7e7 284px,#fcb7b7 288px,#f84545 293px,#f60e0e 295px,#f50000 296px,#f50000 308px,#f84b4b 311px,#fdc2c2 316px,#fff4f4 320px,#fafaff 323px,#fff7f7 345px,#fdd0d0 351px,#f97070 357px,#f61b1b 362px,#f50707 365px,#f61515 368px,#f96767 373px,#fdcfcf 379px,#fff8f8 384px,#fff8f8 411px,#fdc7c7 421px,#fca7a7 428px,#fdc2c2 435px,#fffcfc 445px,#fff7f7 480px,#fee8e8 495px,#fdfdff 511px,#ffffff 565px)"></i><i style="background:linear-gradient(90deg,#ffffff 0px,#fff9f9 37px,#fcb6b6 51px,#fdc6c6 57px,#fffcfc 65px,#fcfcff 79px,#fff6f6 95px,#fdcbcb 102px,#fa8484 110px,#fa8585 115px,#fff8f8 128px,#fcfcff 142px,#fff7f7 158px,#fdcaca 165px,#fa7c7c 173px,#fa7a7a 178px,#fff7f7 191px,#f8f8ff 203px,#fff9f9 219px,#fdd6d6 225px,#f96e6e 232px,#f72b2b 237px,#f62626 240px,#f84f4f 244px,#feecec 253px,#fcfcff 255px,#e6e6fe 260px,#fffdfd 278px,#feebeb 284px,#fcbbbb 288px,#f95c5c 292px,#f50000 295px,#f50000 309px,#f50909 310px,#fb9e9e 315px,#fee7e7 319px,#fdfdff 322px,#f7f7ff 330px,#fff9f9 345px,#fedede 350px,#fb9393 355px,#f50505 362px,#f50000 369px,#fa7878 375px,#fdd2d2 380px,#fffbfb 385px,#fff7f7 412px,#fdc4c4 421px,#fb9c9c 428px,#fcafaf 434px,#fffbfb 445px,#fff7f7 480px,#fee3e3 494px,#fdfdff 511px,#ffffff 565px)"></i><i style="background:linear-gradient(90deg,#ffffff 0px,#fff8f8 37px,#fcaaaa 51px,#fcb5b5 56px,#fffdfd 65px,#f6f6ff 75px,#fffafa 94px,#fdd4d4 101px,#fa7a7a 110px,#fa7373 114px,#fca6a6 120px,#fff8f8 128px,#f7f7ff 139px,#fffafa 157px,#fdd3d3 164px,#f96c6c 174px,#f96b6b 178px,#fca9a9 184px,#fff7f7 191px,#f6f6ff 194px,#f9f9ff 205px,#fff9f9 220px,#fdd8d8 225px,#fa7a7a 231px,#f62525 236px,#f61010 239px,#f61f1f 242px,#fa7676 247px,#feeded 253px,#fffbfb 254px,#ddddfe 259px,#f0f0fe 268px,#fffdfd 280px,#fee7e7 285px,#fca9a9 289px,#f73939 293px,#f50000 295px,#f50000 310px,#f50d0d 311px,#fb9090 315px,#fee5e5 319px,#fffcfc 321px,#f0f0fe 327px,#fffdfd 344px,#fee0e0 350px,#fb9191 355px,#f50606 361px,#f50606 371px,#fcbaba 379px,#fff5f5 384px,#fcfcff 387px,#fff8f8 412px,#fdcaca 420px,#fb9393 428px,#fb9e9e 433px,#fffbfb 445px,#fdfdff 460px,#fff5f5 481px,#fedfdf 494px,#fdfdff 511px,#ffffff 565px)"></i><i style="background:linear-gradient(90deg,#ffffff 0px,#fff7f7 37px,#fdc5c5 45px,#fb9f9f 51px,#fba5a5 55px,#ffffff 65px,#f1f1fe 73px,#fffdfd 93px,#fedcdc 100px,#f96c6c 111px,#f96d6d 115px,#fcabab 121px,#fff9f9 128px,#f0f0fe 137px,#fffdfd 156px,#fedcdc 163px,#f96363 174px,#f96060 178px,#fb9494 183px,#fff9f9 191px,#ebebfe 199px,#fffefe 217px,#feeaea 223px,#fcaeae 228px,#f61919 236px,#f50000 239px,#f60d0d 242px,#f85454 246px,#fef1f1 253px,#fdfdff 254px,#d5d5fd 258px,#d7d7fd 264px,#fdfdff 275px,#fff7f7 283px,#fdcfcf 287px,#fa7474 291px,#f61010 294px,#f50000 295px,#f50000 311px,#fba4a4 316px,#fee6e6 319px,#fefeff 321px,#e9e9fe 326px,#fffefe 343px,#feeaea 349px,#fcb7b7 353px,#f72c2c 359px,#f50000 361px,#f50707 372px,#fcb4b4 379px,#feeeee 383px,#fcfcff 386px,#fdfdff 399px,#fff5f5 413px,#fdc0c0 421px,#fb8d8d 428px,#fb9696 433px,#fffcfc 445px,#f8f8ff 456px,#fffafa 478px,#fedddd 494px,#fdfdff 510px,#ffffff 565px)"></i><i style="background:linear-gradient(90deg,#ffffff 0px,#fff8f8 36px,#fdd1d1 43px,#fb9595 51px,#fba0a0 55px,#fffcfc 64px,#eaeafe 72px,#fffefe 92px,#fee3e3 99px,#f96666 111px,#f96565 115px,#fb9999 120px,#fffdfd 128px,#e9e9fe 135px,#fffefe 155px,#fee3e3 162px,#f95d5d 174px,#f85858 178px,#fb8e8e 183px,#fffdfd 191px,#e3e3fe 197px,#ffffff 217px,#fee9e9 223px,#fcacac 228px,#f61111 236px,#f50000 238px,#f50101 242px,#f84c4c 246px,#fff9f9 253px,#c4c4fd 258px,#c3c3fd 263px,#fbfbff 275px,#fff8f8 283px,#fdcdcd 287px,#f97171 291px,#f50a0a 294px,#f50000 297px,#f50000 311px,#f60f0f 312px,#fba2a2 316px,#feebeb 319px,#fffbfb 320px,#e0e0fe 325px,#ffffff 343px,#fef1f1 348px,#fcb5b5 353px,#f84141 358px,#f50b0b 360px,#f50000 362px,#f50000 372px,#f84a4a 375px,#fdc4c4 380px,#fff9f9 384px,#f3f3ff 392px,#fffdfd 410px,#fdd8d8 418px,#fa8888 428px,#fb9191 433px,#fffefe 445px,#f1f1fe 453px,#fffdfd 475px,#fedbdb 494px,#fdfdff 509px,#ffffff 565px)"></i><i style="background:linear-gradient(90deg,#ffffff 0px,#fff7f7 36px,#fdcdcd 43px,#fb9191 50px,#fb9595 54px,#fefeff 64px,#e3e3fe 70px,#fffefe 92px,#fedada 100px,#f96363 111px,#f96161 115px,#fb9797 120px,#fff8f8 127px,#f4f4ff 129px,#e1e1fe 135px,#ffffff 154px,#fee2e2 162px,#fb9292 169px,#f85959 174px,#f85454 178px,#fa8c8c 183px,#fff8f8 190px,#f1f1fe 192px,#d9d9fe 198px,#ffffff 216px,#feeded 222px,#fcbaba 227px,#f50c0c 236px,#f50000 238px,#f50000 242px,#f61b1b 244px,#feeded 252px,#fafaff 253px,#b8b8fc 257px,#a7a7fc 261px,#f7f7ff 275px,#fffcfc 282px,#fdc8c8 287px,#fa8a8a 290px,#f50707 294px,#f50000 311px,#f50a0a 312px,#fba4a4 316px,#fff3f3 319px,#fafaff 320px,#d6d6fd 324px,#e3e3fe 331px,#ffffff 343px,#feeded 348px,#fcb2b2 353px,#f73e3e 358px,#f50808 360px,#f50000 372px,#f50b0b 373px,#fcafaf 379px,#fff3f3 383px,#fffdfd 384px,#ececfe 390px,#fffefe 409px,#fedfdf 417px,#fa8585 428px,#fb8e8e 433px,#fffbfb 444px,#ebebfe 452px,#fffefe 473px,#fedbdb 495px,#fcfcff 509px,#ffffff 565px)"></i><i style="background:linear-gradient(90deg,#ffffff 0px,#fff6f6 36px,#fdcaca 43px,#fa8c8c 50px,#fb8d8d 53px,#fffcfc 63px,#dadafe 70px,#fcfcff 91px,#fee1e1 99px,#f96363 111px,#f96161 115px,#fb9898 120px,#fffefe 127px,#d9d9fd 133px,#ebebfe 143px,#fffafa 156px,#fed9d9 163px,#f85959 174px,#f85454 178px,#fa7d7d 182px,#ffffff 190px,#d3d3fd 195px,#d2d2fd 201px,#fbfbff 215px,#fef1f1 221px,#fdc8c8 226px,#f97070 231px,#f50c0c 236px,#f50000 238px,#f50000 242px,#f61c1c 244px,#fba3a3 249px,#fffafa 252px,#a1a1fb 257px,#8b8bfa 261px,#b1b1fc 267px,#ededfe 275px,#fff7f7 282px,#fdc7c7 287px,#fa8989 290px,#f50707 294px,#f50000 311px,#f50c0c 312px,#fcacac 316px,#fffefe 319px,#cacafd 323px,#c8c8fd 328px,#f9f9ff 341px,#fff5f5 346px,#fdd0d0 351px,#fa8a8a 355px,#f50707 360px,#f50000 372px,#f50a0a 373px,#fcb3b3 379px,#fff9f9 383px,#e4e4fe 389px,#fffcfc 409px,#fedfdf 417px,#fa8585 428px,#fb8d8d 433px,#ffffff 444px,#e4e4fe 451px,#fffefe 473px,#fedbdb 495px,#fcfcff 508px,#ffffff 565px)"></i><i style="background:linear-gradient(90deg,#ffffff 0px,#fff8f8 35px,#fdd0d0 42px,#fa8989 50px,#fb9898 54px,#fcfcff 63px,#d2d2fd 69px,#dadafe 77px,#fffefe 93px,#fdd2d2 101px,#f96565 111px,#f96464 115px,#fb9c9c 120px,#fff8f8 126px,#eeeefe 128px,#cdcdfd 133px,#d9d9fe 141px,#ffffff 156px,#fedbdb 163px,#f95b5b 174px,#f85757 178px,#fa8181 182px,#fff8f8 189px,#eaeafe 191px,#c2c2fd 196px,#c7c7fd 202px,#f4f4ff 215px,#fffbfb 220px,#fdcaca 226px,#f95d5d 232px,#f50202 237px,#f50101 242px,#f73a3a 245px,#feecec 251px,#f5f5ff 252px,#9797fb 256px,#6c6cf9 260px,#7575fa 264px,#d9d9fe 275px,#fffbfb 283px,#fcbaba 288px,#f97171 291px,#f50a0a 294px,#f50000 297px,#f50000 311px,#f61616 312px,#fcb8b8 316px,#fff5f5 318px,#f1f1fe 319px,#c0c0fd 322px,#afaffc 326px,#efeffe 341px,#fffefe 346px,#fdc5c5 352px,#f95b5b 357px,#f50a0a 360px,#f50000 363px,#f50000 372px,#f72e2e 374px,#fcb9b9 379px,#fff3f3 382px,#fdfdff 383px,#dcdcfe 388px,#fffbfb 411px,#fdd0d0 419px,#fa8787 428px,#fb9090 433px,#fffcfc 443px,#dcdcfe 450px,#fffcfc 476px,#fedbdb 494px,#fdfdff 507px,#f7f7ff 519px,#ffffff 565px)"></i><i style="background:linear-gradient(90deg,#ffffff 0px,#fff8f8 35px,#fdcfcf 42px,#fa8989 50px,#fca7a7 55px,#fffdfd 62px,#c7c7fd 69px,#c8c8fd 76px,#fffefe 94px,#fdd4d4 101px,#f96b6b 111px,#f96b6b 115px,#fba2a2 120px,#ffffff 126px,#c5c5fd 132px,#c0c0fd 138px,#fefeff 157px,#fdd4d4 164px,#f96161 174px,#f95e5e 178px,#fb9999 183px,#fdfdff 189px,#bfbffc 194px,#adadfc 199px,#fefeff 220px,#fed9d9 225px,#fa8a8a 230px,#f61717 236px,#f50000 239px,#f60d0d 242px,#f84646 245px,#fffcfc 251px,#7d7dfa 256px,#5050f8 259px,#4646f8 263px,#7e7efa 269px,#c3c3fd 276px,#fffcfc 284px,#fdc2c2 288px,#f85858 292px,#f61212 294px,#f50000 295px,#f50000 311px,#fdc7c7 316px,#fee8e8 317px,#f9f9ff 318px,#babafc 321px,#9898fb 325px,#ababfc 331px,#e6e6fe 342px,#fffefe 347px,#fdc9c9 352px,#f96060 357px,#f50000 361px,#f50202 372px,#fdc2c2 379px,#fffcfc 382px,#d4d4fd 387px,#d6d6fd 394px,#fffdfd 411px,#fdd2d2 419px,#fa8b8b 428px,#fb9595 433px,#fdfdff 443px,#d3d3fd 450px,#e2e2fe 460px,#fffdfd 477px,#fedddd 494px,#fbfbff 507px,#f5f5ff 519px,#ffffff 565px)"></i><i style="background:linear-gradient(90deg,#ffffff 0px,#fff9f9 35px,#fdcfcf 42px,#fb9191 49px,#fba5a5 54px,#fff8f8 61px,#fafaff 62px,#bbbbfc 69px,#b5b5fc 75px,#ffffff 95px,#fdcdcd 102px,#fa7979 110px,#f97171 114px,#fb9d9d 119px,#fff9f9 125px,#e9e9fe 127px,#b3b3fc 133px,#b1b1fc 139px,#fffbfb 159px,#fdc1c1 166px,#f96a6a 174px,#f96969 178px,#fba3a3 183px,#fff9f9 188px,#a9a9fc 195px,#9999fb 200px,#fefeff 221px,#fdd1d1 226px,#f62222 236px,#f50c0c 239px,#f61e1e 242px,#f85757 245px,#feecec 250px,#f2f2fe 251px,#6464f9 256px,#2323f6 260px,#1b1bf6 264px,#5959f9 270px,#fffdfd 285px,#fcb5b5 289px,#f84040 293px,#f50000 295px,#f50000 310px,#f61515 311px,#fed9d9 316px,#fffafa 317px,#a6a6fc 321px,#7f7ffa 325px,#8787fa 330px,#fffefe 348px,#fcbebe 353px,#f50505 361px,#f50000 371px,#fee2e2 380px,#fff5f5 381px,#f8f8ff 382px,#c8c8fd 387px,#c8c8fd 394px,#fffefe 412px,#fdc3c3 421px,#fb9292 428px,#fb9d9d 433px,#fffdfd 442px,#c9c9fd 450px,#d3d3fd 459px,#fffdfd 478px,#fee0e0 494px,#fcfcff 506px,#f0f0fe 517px,#ffffff 553px,#ffffff 565px)"></i><i style="background:linear-gradient(90deg,#ffffff 0px,#fffafa 35px,#fdc6c6 43px,#fb9a9a 49px,#fcafaf 54px,#fffefe 61px,#b0b0fc 69px,#a4a4fb 75px,#ffffff 96px,#fcbcbc 104px,#fa7e7e 111px,#fa8282 115px,#fdc5c5 121px,#fdfdff 125px,#adadfc 132px,#9c9cfb 138px,#fffbfb 160px,#fcafaf 168px,#fa7676 174px,#fa7777 178px,#fcafaf 183px,#fcfcff 188px,#9c9cfb 195px,#8484fa 200px,#9e9efb 207px,#fefeff 222px,#fdc9c9 227px,#f73232 236px,#f62020 239px,#f73333 242px,#fa8484 246px,#fffcfc 250px,#3636f7 257px,#0000f5 260px,#0707f5 268px,#fffefe 286px,#fca9a9 290px,#f50b0b 295px,#f50000 297px,#f50000 309px,#f50c0c 310px,#feecec 316px,#f2f2fe 317px,#9393fb 321px,#6565f9 325px,#6767f9 330px,#fffdfd 349px,#fcb3b3 354px,#f50202 362px,#f50404 370px,#feeeee 380px,#fefeff 381px,#c3c3fd 386px,#b4b4fc 392px,#fffefe 413px,#fb9b9b 428px,#fca7a7 433px,#fcfcff 442px,#c4c4fd 449px,#bcbcfc 456px,#ffffff 479px,#fee3e3 494px,#fafaff 506px,#eeeefe 517px,#ffffff 548px,#ffffff 565px)"></i><i style="background:linear-gradient(90deg,#ffffff 0px,#fff8f8 36px,#fca6a6 48px,#fcb3b3 53px,#fff9f9 60px,#eeeefe 62px,#a1a1fb 70px,#9393fb 76px,#dcdcfe 91px,#fefeff 97px,#fb8f8f 110px,#fb9191 115px,#fdd0d0 121px,#fffafa 124px,#9c9cfb 133px,#8a8afa 139px,#bfbffc 150px,#fffbfb 161px,#fa8989 173px,#fa8383 177px,#fcaeae 182px,#fffafa 187px,#8787fa 196px,#6f6ff9 201px,#8989fa 208px,#fdfdff 223px,#fdc1c1 228px,#f84646 236px,#f73838 239px,#f84d4d 242px,#fb9999 246px,#feecec 249px,#f4f4ff 250px,#2323f6 257px,#0a0af5 258px,#0000f5 261px,#0101f5 272px,#fefeff 287px,#fb9e9e 291px,#f50303 296px,#f50000 308px,#f60f0f 309px,#ffffff 316px,#9696fb 320px,#5757f8 324px,#4242f8 328px,#5f5ff9 334px,#fffdfd 350px,#fb9393 356px,#f61a1a 362px,#f50000 365px,#f50808 368px,#f84b4b 372px,#fff9f9 380px,#babafc 386px,#a5a5fb 392px,#dfdffe 407px,#ffffff 414px,#fca8a8 427px,#fcadad 432px,#fffefe 441px,#b8b8fc 450px,#b0b0fc 457px,#fffefe 481px,#fee7e7 494px,#fcfcff 505px,#ececfe 517px,#ffffff 546px,#ffffff 565px)"></i><i style="background:linear-gradient(90deg,#ffffff 0px,#f7f7ff 25px,#fffbfb 36px,#fcb4b4 47px,#fdc0c0 53px,#ffffff 60px,#9393fb 71px,#8383fa 77px,#b3b3fc 87px,#fcfcff 98px,#fb9e9e 110px,#fba3a3 115px,#fee8e8 122px,#fcfcff 124px,#9494fb 133px,#7979fa 139px,#9696fb 147px,#fffcfc 162px,#fb9999 173px,#fb9a9a 178px,#fdd8d8 184px,#fbfbff 187px,#7e7efa 196px,#5c5cf9 201px,#6767f9 207px,#f1f1fe 223px,#fdfdff 224px,#fb9c9c 231px,#f95d5d 236px,#f85757 240px,#fa8787 244px,#fffbfb 249px,#acacfc 252px,#0000f5 258px,#0000f5 275px,#3131f7 278px,#fbfbff 288px,#fcb4b4 291px,#f50a0a 297px,#f50000 300px,#f50505 307px,#fff4f4 315px,#ededfe 316px,#7676fa 321px,#3232f7 326px,#2929f7 331px,#6262f9 338px,#fffdfd 351px,#f73535 362px,#f62020 365px,#f72c2c 368px,#fa7d7d 373px,#fff3f3 379px,#fbfbff 380px,#b2b2fc 386px,#9898fb 392px,#b2b2fc 401px,#fefeff 415px,#fcb4b4 427px,#fcbfbf 433px,#fbfbff 441px,#adadfc 451px,#a4a4fb 458px,#fdfdff 482px,#feeded 495px,#fafaff 505px,#ebebfe 518px,#ffffff 545px,#ffffff 565px)"></i><i style="background:linear-gradient(90deg,#ffffff 0px,#f9f9ff 22px,#f5f5ff 33px,#fffbfb 37px,#fdc2c2 47px,#fdcece 53px,#fffdfd 59px,#8181fa 73px,#7777fa 79px,#afaffc 89px,#fbfbff 99px,#fee0e0 103px,#fcb0b0 110px,#fcb6b6 115px,#fffefe 123px,#7f7ffa 135px,#6a6af9 141px,#8f8ffb 149px,#fffdfd 163px,#fcafaf 172px,#fcabab 177px,#fedada 183px,#fffefe 186px,#6666f9 198px,#4949f8 203px,#5b5bf9 209px,#e3e3fe 223px,#fcfcff 225px,#fa7f7f 235px,#f97272 239px,#fb9494 243px,#fef1f1 248px,#f5f5ff 249px,#0000f5 258px,#0000f5 278px,#dedefe 288px,#f8f8ff 289px,#feecec 290px,#f73333 297px,#f50606 300px,#f50101 303px,#f72626 306px,#fcb9b9 312px,#feeeee 314px,#f6f6ff 315px,#5c5cf9 322px,#1c1cf6 327px,#1111f6 332px,#4040f7 338px,#fffdfd 352px,#f96060 361px,#f84545 365px,#f95d5d 369px,#fffefe 379px,#aeaefc 386px,#8c8cfb 393px,#a2a2fb 401px,#fdfdff 416px,#fdc1c1 427px,#fdcdcd 433px,#fefeff 440px,#a4a4fb 452px,#9999fb 459px,#fefeff 484px,#fff3f3 496px,#fbfbff 504px,#ebebfe 518px,#ffffff 544px,#ffffff 565px)"></i><i style="background:linear-gradient(90deg,#ffffff 0px,#fbfbff 20px,#eaeafe 30px,#fffcfc 38px,#fdd1d1 47px,#fee3e3 54px,#fffdfd 58px,#7373fa 75px,#6f6ff9 81px,#aeaefc 91px,#fffcfc 101px,#fdc5c5 109px,#fdcaca 115px,#fffefe 122px,#6f6ff9 137px,#6060f9 143px,#8b8bfa 151px,#ffffff 164px,#fdc2c2 172px,#fdc5c5 178px,#fffdfd 185px,#5353f8 200px,#3c3cf7 205px,#5454f8 211px,#d4d4fd 223px,#fbfbff 226px,#fb9a9a 235px,#fb9494 239px,#fdc0c0 244px,#fcfcff 248px,#7070f9 254px,#0000f5 258px,#0000f5 280px,#2626f6 282px,#f3f3ff 290px,#fef1f1 291px,#f96262 297px,#f73e3e 300px,#f73e3e 303px,#f97272 307px,#fef1f1 313px,#f7f7ff 314px,#4a4af8 323px,#0c0cf5 328px,#0000f5 333px,#2222f6 338px,#bcbcfc 349px,#fffefe 353px,#fa8b8b 360px,#f96d6d 364px,#fa7a7a 368px,#fffdfd 378px,#9d9dfb 388px,#8484fa 395px,#a5a5fb 404px,#fffcfc 418px,#fdd0d0 427px,#fee0e0 434px,#ffffff 439px,#9999fb 454px,#9393fb 461px,#fdfdff 486px,#fffcfc 499px,#ececfe 519px,#ffffff 544px,#ffffff 565px)"></i><i style="background:linear-gradient(90deg,#ffffff 0px,#fbfbff 19px,#e3e3fe 29px,#fffefe 39px,#fee1e1 47px,#fcfcff 57px,#7070f9 76px,#6a6af9 82px,#a1a1fb 91px,#fefeff 102px,#fdd7d7 110px,#fee9e9 117px,#fbfbff 121px,#6666f9 139px,#5d5df9 145px,#8d8dfb 153px,#fbfbff 165px,#fdd5d5 173px,#fee7e7 180px,#fcfcff 184px,#9090fb 195px,#4242f8 203px,#3939f7 208px,#6868f9 215px,#f8f8ff 227px,#feeded 229px,#fcb9b9 235px,#fcbcbc 240px,#fff7f7 246px,#f9f9ff 247px,#8d8dfb 253px,#1010f6 258px,#0000f5 259px,#0000f5 282px,#ececfe 291px,#fff9f9 292px,#fb9494 297px,#fa7979 300px,#fa8585 304px,#feeeee 311px,#ffffff 312px,#2424f6 326px,#0000f5 330px,#0707f5 337px,#5a5af9 344px,#fefeff 354px,#fcaaaa 360px,#fb9494 364px,#fcabab 369px,#fdfdff 377px,#9292fb 390px,#8080fa 397px,#a6a6fc 406px,#fffefe 419px,#fedfdf 427px,#fff7f7 436px,#f7f7ff 439px,#9292fb 456px,#9494fb 464px,#f8f8ff 486px,#fafaff 502px,#efeffe 521px,#ffffff 543px,#ffffff 565px)"></i><i style="background:linear-gradient(90deg,#ffffff 0px,#fbfbff 18px,#dedefe 29px,#fffafa 42px,#fff7f7 50px,#fafaff 54px,#b1b1fc 68px,#6e6ef9 78px,#7272f9 85px,#d3d3fd 98px,#ffffff 104px,#feecec 111px,#fbfbff 118px,#a5a5fb 132px,#6464f9 141px,#6262f9 147px,#9f9ffb 156px,#fdfdff 167px,#feeded 175px,#fbfbff 181px,#aeaefc 193px,#4747f8 204px,#3f3ff7 210px,#7373fa 217px,#fefeff 229px,#fed9d9 235px,#fee8e8 241px,#ffffff 244px,#a1a1fb 252px,#2929f7 258px,#0000f5 260px,#0000f5 283px,#f8f8ff 293px,#fee2e2 295px,#fcb9b9 299px,#fcbebe 303px,#fefeff 309px,#0a0af5 330px,#0000f5 336px,#2626f6 341px,#cbcbfd 352px,#fafaff 355px,#fdc3c3 361px,#fcbfbf 366px,#fffbfb 374px,#8a8afa 393px,#8585fa 400px,#c1c1fd 411px,#fffdfd 421px,#feefef 429px,#fafaff 436px,#8f8ffb 459px,#9c9cfb 467px,#f2f2ff 486px,#f7f7ff 501px,#f4f4ff 524px,#ffffff 547px,#ffffff 565px)"></i><i style="background:linear-gradient(90deg,#ffffff 0px,#fbfbff 17px,#dadafe 29px,#f9f9ff 47px,#b7b7fc 68px,#7575fa 80px,#7f7ffa 87px,#f6f6ff 105px,#f7f7ff 113px,#aeaefc 132px,#6c6cf9 143px,#7373fa 150px,#f2f2fe 168px,#f5f5ff 176px,#b0b0fc 194px,#5252f8 206px,#5050f8 212px,#9090fb 220px,#f2f2ff 230px,#fffbfb 234px,#fafaff 239px,#9f9ffb 252px,#4848f8 258px,#0a0af5 261px,#0000f5 264px,#0000f5 283px,#3f3ff7 286px,#d5d5fd 293px,#fcfcff 296px,#fff5f5 301px,#ffffff 303px,#9b9bfb 315px,#5252f8 325px,#1111f6 333px,#1313f6 338px,#4a4af8 344px,#fefeff 357px,#fee1e1 362px,#fef0f0 368px,#fafaff 371px,#9191fb 394px,#8f8ffb 402px,#fdfdff 423px,#f5f5ff 433px,#b8b8fc 451px,#9494fb 461px,#a9a9fc 470px,#eeeefe 486px,#fcfcff 529px,#ffffff 565px)"></i><i style="background:linear-gradient(90deg,#ffffff 0px,#f8f8ff 17px,#d9d9fe 29px,#e8e8fe 46px,#b2b2fc 71px,#8484fa 82px,#9696fb 90px,#e5e5fe 104px,#dfdffe 113px,#afaffc 134px,#7a7afa 146px,#8c8cfa 153px,#e0e0fe 167px,#ddddfe 175px,#c4c4fd 188px,#afaffc 197px,#6464f9 209px,#6e6ef9 215px,#dedefe 230px,#dcdcfe 237px,#8989fa 255px,#4d4df8 260px,#0505f5 264px,#0000f5 283px,#9a9afb 291px,#cfcffd 296px,#ccccfd 301px,#8383fa 312px,#6f6ff9 324px,#2c2cf7 335px,#3434f7 340px,#7777fa 347px,#e1e1fe 356px,#fcfcff 362px,#c2c2fd 379px,#9e9efb 395px,#9e9efb 404px,#f0f0fe 422px,#e4e4fe 434px,#b9b9fc 453px,#9f9ffb 463px,#bfbffc 474px,#ededfe 488px,#ffffff 558px,#ffffff 565px)"></i><i style="background:linear-gradient(90deg,#ffffff 0px,#f7f7ff 17px,#dadafe 31px,#d7d7fd 46px,#bdbdfc 59px,#bdbdfc 72px,#9898fb 85px,#babafc 95px,#dadafe 105px,#b8b8fc 122px,#bcbcfc 135px,#9191fb 148px,#adadfc 157px,#d3d3fd 167px,#b3b3fc 184px,#c9c9fd 196px,#9e9efb 205px,#8080fa 212px,#9696fb 219px,#cacafd 229px,#bdbdfc 236px,#9292fb 246px,#9191fb 257px,#6767f9 262px,#0000f5 269px,#0000f5 281px,#8b8bfa 291px,#a6a6fc 296px,#8a8afa 302px,#5959f8 310px,#6c6cf9 317px,#8585fa 325px,#5252f8 338px,#6969f9 344px,#d3d3fd 356px,#dedefe 362px,#b3b3fc 376px,#bbbbfc 391px,#aaaafc 403px,#e6e6fe 422px,#bfbffc 455px,#afaffc 466px,#e9e9fe 488px,#fefeff 529px,#ffffff 565px)"></i><i style="background:linear-gradient(90deg,#ffffff 0px,#f6f6ff 18px,#dcdcfe 34px,#c3c3fd 47px,#aeaefc 57px,#cdcdfd 73px,#b1b1fc 88px,#d0d0fd 103px,#a7a7fc 120px,#cecefd 136px,#ababfc 151px,#c9c9fd 166px,#9e9efb 182px,#c6c6fd 191px,#e2e2fe 198px,#cbcbfd 205px,#a1a1fb 214px,#bcbcfc 229px,#7676fa 244px,#8b8bfa 251px,#afaffc 258px,#9e9efb 263px,#2323f6 274px,#1e1ef6 279px,#8181fa 291px,#8282fa 296px,#2e2ef7 308px,#3939f7 313px,#9e9efb 324px,#a4a4fb 330px,#7e7efa 340px,#9797fb 347px,#c8c8fd 356px,#bdbdfc 364px,#9f9ffb 374px,#ccccfd 391px,#c0c0fd 406px,#dedefe 422px,#c8c8fd 440px,#cecefd 455px,#c0c0fd 468px,#e6e6fe 488px,#ececfe 505px,#ffffff 538px,#ffffff 565px)"></i><i style="background:linear-gradient(90deg,#ffffff 0px,#f4f4ff 21px,#c1c1fd 44px,#a2a2fb 55px,#c3c3fd 65px,#e1e1fe 74px,#c7c7fd 91px,#c9c9fd 103px,#9999fb 118px,#b3b3fc 126px,#e3e3fe 136px,#d4d4fd 145px,#c4c4fd 155px,#c1c1fd 166px,#8c8cfb 180px,#a7a7fc 187px,#fcfcff 197px,#fffbfb 203px,#f4f4ff 206px,#bfbffc 216px,#afaffc 229px,#5f5ff9 242px,#6666f9 247px,#b2b2fc 255px,#e0e0fe 261px,#d1d1fd 266px,#6868f9 276px,#5e5ef9 281px,#7b7bfa 291px,#5c5cf9 297px,#0e0ef6 306px,#1212f6 311px,#5555f8 317px,#c3c3fd 325px,#d8d8fd 330px,#a7a7fc 343px,#bfbffd 357px,#8e8efb 372px,#a8a8fc 380px,#dedefe 391px,#d4d4fd 410px,#d6d6fd 423px,#bfbffc 437px,#dbdbfe 456px,#d4d4fd 472px,#e2e2fe 490px,#e8e8fe 503px,#fefeff 523px,#ffffff 565px)"></i><i style="background:linear-gradient(90deg,#ffffff 0px,#f8f8ff 23px,#bdbdfc 43px,#9a9afb 54px,#b3b3fc 62px,#f6f6ff 74px,#ebebfe 83px,#c0c0fd 104px,#9191fb 116px,#a0a0fb 123px,#fcfcff 137px,#f4f4ff 145px,#d0d0fd 159px,#a6a6fb 170px,#8181fa 179px,#9494fb 185px,#fffdfd 195px,#fdd0d0 201px,#fedada 206px,#ffffff 211px,#cdcdfd 220px,#9f9ffb 230px,#5454f8 240px,#5151f8 245px,#7979fa 250px,#fdfdff 259px,#fedcdc 264px,#feecec 268px,#fefeff 270px,#a3a3fb 278px,#8989fa 286px,#6b6bf9 293px,#0000f5 304px,#0303f5 311px,#4444f8 316px,#e5e5fe 325px,#fcfcff 327px,#fef2f2 332px,#fefeff 335px,#c9c9fd 344px,#b4b4fc 358px,#8484fa 370px,#9494fb 377px,#f1f1fe 391px,#efeffe 400px,#cbcbfd 425px,#bbbbfc 437px,#eaeafe 456px,#e4e4fe 478px,#e3e3fe 501px,#ffffff 520px,#ffffff 565px)"></i><i style="background:linear-gradient(90deg,#ffffff 0px,#fffdfd 23px,#d4d4fd 37px,#9999fb 52px,#ababfc 60px,#fffefe 72px,#feeeee 79px,#fafaff 86px,#b6b6fc 105px,#8f8ffb 115px,#9d9dfb 122px,#ffffff 134px,#fee3e3 140px,#fffafa 148px,#f6f6ff 151px,#ababfc 168px,#7e7efa 178px,#8e8efb 184px,#dadafe 191px,#f7f7ff 193px,#fff8f8 194px,#fcb1b1 200px,#fca7a7 205px,#fee9e9 213px,#fffbfb 215px,#9797fb 230px,#5050f8 239px,#4b4bf8 244px,#7070f9 249px,#d3d3fd 255px,#fafaff 257px,#fca7a7 263px,#fb9a9a 267px,#fdc7c7 272px,#fdfdff 276px,#b4b4fc 283px,#6464f9 293px,#0101f5 302px,#0505f5 311px,#4e4ef8 316px,#f7f7ff 324px,#fff5f5 325px,#fdc4c4 329px,#fcbdbd 333px,#fffdfd 341px,#ccccfd 351px,#8282fa 369px,#9191fb 376px,#fefeff 390px,#fef2f2 397px,#fcfcff 403px,#b9b9fc 434px,#d8d8fd 446px,#f8f8ff 458px,#dfdffe 498px,#fffefe 517px,#ffffff 565px)"></i><i style="background:linear-gradient(90deg,#ffffff 0px,#fff4f4 14px,#fff5f5 24px,#fcfcff 28px,#9f9ffb 50px,#a8a8fc 58px,#fffefe 70px,#fdd9d9 77px,#feebeb 85px,#fbfbff 90px,#9595fb 113px,#9f9ffb 121px,#e7e7fe 130px,#fbfbff 132px,#fdcbcb 140px,#fdd5d5 146px,#ffffff 153px,#8787fa 175px,#8a8afa 182px,#bcbcfc 188px,#f4f4ff 192px,#fff9f9 193px,#fb9393 200px,#fa7d7d 204px,#fb9797 209px,#fffefe 218px,#5b5bf9 237px,#5050f8 243px,#7070f9 248px,#bcbcfc 253px,#fcfcff 256px,#fa7777 263px,#f85959 267px,#f97272 271px,#fcfcff 280px,#1414f6 300px,#0000f5 304px,#0505f5 309px,#3f3ff7 314px,#d3d3fd 321px,#fffcfc 323px,#fba0a0 328px,#fa8888 332px,#fca6a6 337px,#fefeff 345px,#9191fb 364px,#8a8afa 372px,#b6b6fc 380px,#fffefe 388px,#fedcdc 395px,#fff9f9 405px,#f6f6ff 409px,#bcbcfc 432px,#d2d2fd 443px,#fffdfd 455px,#f5f5ff 471px,#e1e1fe 497px,#fffdfd 515px,#ffffff 565px)"></i><i style="background:linear-gradient(90deg,#ffffff 0px,#fff5f5 12px,#fee6e6 22px,#ffffff 29px,#acacfc 47px,#adadfc 56px,#e0e0fe 65px,#fffbfb 69px,#fdc6c6 77px,#fdd3d3 84px,#fcfcff 92px,#a2a2fb 111px,#a7a7fc 120px,#dedefe 128px,#fdfdff 131px,#fcbaba 139px,#fcb9b9 145px,#fffefe 155px,#9494fb 173px,#9393fb 181px,#bcbcfc 187px,#fffdfd 192px,#fa7a7a 200px,#f95b5b 204px,#f96868 208px,#fff8f8 219px,#efeffe 221px,#7575fa 234px,#5e5ef9 241px,#7878fa 247px,#bbbbfc 252px,#f8f8ff 255px,#feefef 256px,#f85050 263px,#f72929 266px,#f62424 269px,#f85151 273px,#fffdfd 282px,#4545f8 296px,#1919f6 302px,#1d1df6 308px,#4d4df8 313px,#a9a9fc 318px,#f0f0fe 321px,#fff6f6 322px,#fa8989 327px,#f95c5c 331px,#f96464 335px,#ffffff 347px,#ababfc 359px,#9393fb 369px,#adadfc 377px,#fbfbff 386px,#fdcbcb 394px,#fdd6d6 401px,#ffffff 409px,#c5c5fd 428px,#cfcffd 440px,#fffdfd 452px,#feefef 462px,#fbfbff 472px,#e4e4fe 496px,#fffdfd 514px,#ffffff 565px)"></i><i style="background:linear-gradient(90deg,#ffffff 0px,#fff7f7 10px,#fedada 20px,#fff9f9 29px,#f9f9ff 31px,#babafc 45px,#bbbbfc 56px,#ebebfe 65px,#fcfcff 67px,#fcb7b7 77px,#fcbdbd 83px,#fefeff 93px,#b3b3fc 108px,#b1b1fc 118px,#d9d9fe 126px,#fefeff 130px,#fcaaaa 139px,#fba2a2 144px,#fedada 152px,#fffdfd 156px,#a9a9fc 170px,#a0a0fb 179px,#c1c1fd 186px,#fcfcff 191px,#f85959 201px,#f73d3d 205px,#f85151 209px,#fff8f8 220px,#ececfe 222px,#8d8dfb 232px,#7474fa 240px,#9090fb 247px,#cecefd 252px,#f3f3ff 254px,#fff5f5 255px,#f62020 264px,#f50303 266px,#f50202 271px,#f84646 275px,#fff7f7 283px,#f5f5ff 284px,#7f7ffa 292px,#4242f8 299px,#3b3bf7 306px,#6464f9 312px,#b2b2fc 317px,#f3f3ff 320px,#fff3f3 321px,#f96969 327px,#f73636 331px,#f73535 334px,#f96060 338px,#fef0f0 347px,#fffcfc 348px,#b7b7fc 358px,#a3a3fb 368px,#bebefc 377px,#ffffff 385px,#fcbfbf 393px,#fcbdbd 399px,#fcfcff 411px,#cfcffd 426px,#d9d9fe 440px,#fffefe 450px,#fee4e4 460px,#fbfbff 474px,#e7e7fe 494px,#fffcfc 514px,#ffffff 565px)"></i><i style="background:linear-gradient(90deg,#ffffff 0px,#fff4f4 10px,#fdd0d0 20px,#feecec 28px,#fefeff 31px,#c8c8fd 43px,#cacafd 56px,#f5f5ff 65px,#fff9f9 67px,#fcacac 77px,#fcb0b0 83px,#fdfdff 94px,#c2c2fd 106px,#c2c2fd 118px,#ededfe 127px,#fefeff 129px,#fb9898 140px,#fb9595 145px,#fee2e2 154px,#fffefe 157px,#bbbbfc 168px,#b1b1fc 178px,#d0d0fd 186px,#f9f9ff 190px,#fff8f8 191px,#f73f3f 202px,#f72727 206px,#f84444 210px,#fffcfc 221px,#a6a6fc 230px,#8e8efb 238px,#a2a2fb 246px,#d0d0fd 251px,#fffcfc 254px,#f50c0c 264px,#f50000 266px,#f50000 273px,#f62020 275px,#fff8f8 284px,#e0e0fe 286px,#8383fa 293px,#5e5ef9 300px,#6c6cf9 308px,#a0a0fb 314px,#f6f6ff 319px,#fff3f3 320px,#f73f3f 328px,#f61919 331px,#f61414 334px,#f84141 338px,#fee3e3 347px,#fffdfd 349px,#c4c4fd 357px,#b5b5fc 367px,#d4d4fd 378px,#fffdfd 384px,#fcb3b3 393px,#fcb0b0 399px,#fcfcff 412px,#d7d7fd 425px,#e5e5fe 441px,#fffcfc 449px,#fedddd 460px,#fcfcff 475px,#ececfe 494px,#fffbfb 514px,#ffffff 565px)"></i><i style="background:linear-gradient(90deg,#ffffff 0px,#fff5f5 9px,#fdc8c8 20px,#fee0e0 27px,#fcfcff 32px,#d3d3fd 42px,#ddddfe 58px,#fefeff 65px,#fba1a1 78px,#fcabab 84px,#fffcfc 94px,#cecefd 105px,#d6d6fd 120px,#fefeff 128px,#fb9090 140px,#fa8a8a 145px,#fdc4c4 152px,#fdfdff 158px,#c8c8fd 167px,#c5c5fd 178px,#e4e4fe 187px,#fffdfd 190px,#fb8d8d 197px,#f72b2b 203px,#f61a1a 207px,#f73f3f 211px,#fff3f3 221px,#fdfdff 222px,#b9b9fc 229px,#a7a7fc 237px,#c5c5fd 248px,#fcfcff 253px,#fcb3b3 257px,#f50404 264px,#f50303 275px,#fee9e9 284px,#fffefe 285px,#a7a7fc 291px,#8383fa 297px,#9090fb 307px,#b3b3fc 313px,#f8f8ff 318px,#fff3f3 319px,#f61f1f 329px,#f50000 332px,#f50c0c 336px,#f96363 341px,#fee7e7 348px,#fefeff 350px,#cecefd 357px,#c9c9fd 368px,#e8e8fe 379px,#fffbfb 383px,#fca7a7 394px,#fcaaaa 400px,#fffefe 412px,#e0e0fe 424px,#f3f3ff 443px,#fffbfb 448px,#fdd8d8 460px,#fcfcff 476px,#f2f2fe 494px,#ffffff 524px,#ffffff 565px)"></i><i style="background:linear-gradient(90deg,#ffffff 0px,#fef2f2 9px,#fdc1c1 20px,#fed9d9 27px,#fffefe 32px,#ddddfe 41px,#f0f0fe 61px,#fffafa 65px,#fb9e9e 78px,#fba0a0 83px,#ffffff 95px,#dadafe 104px,#eaeafe 123px,#fefeff 127px,#fa8888 141px,#fa8888 146px,#fedede 155px,#fffbfb 158px,#d3d3fd 167px,#dfdffe 183px,#fefeff 189px,#fdc2c2 194px,#f72a2a 203px,#f61212 207px,#f73333 211px,#fff9f9 222px,#e2e2fe 225px,#bdbdfc 232px,#d3d3fd 247px,#f9f9ff 252px,#fff8f8 253px,#fb9b9b 258px,#f50606 264px,#f50000 275px,#f50909 276px,#fedddd 284px,#f9f9ff 286px,#b8b8fc 291px,#a0a0fb 297px,#c6c6fd 312px,#fafaff 317px,#fee4e4 319px,#f50909 330px,#f50000 334px,#f50909 337px,#fedede 348px,#fff9f9 350px,#f2f2fe 352px,#d5d5fd 359px,#e9e9fe 377px,#fffbfb 382px,#fb9f9f 395px,#fca9a9 401px,#fefeff 413px,#e7e7fe 424px,#fbfbff 444px,#fee8e8 452px,#fdd6d6 462px,#fcfcff 477px,#f7f7ff 496px,#ffffff 565px)"></i><i style="background:linear-gradient(90deg,#ffffff 0px,#fef0f0 9px,#fcbcbc 20px,#fdcece 26px,#fdfdff 33px,#e5e5fe 42px,#fbfbff 62px,#fef0f0 66px,#fb9b9b 79px,#fba2a2 84px,#fdfdff 96px,#e2e2fe 105px,#fafaff 125px,#fff5f5 128px,#fa8484 142px,#fa8a8a 147px,#ffffff 159px,#ddddfe 167px,#f5f5ff 187px,#fffbfb 189px,#fca6a6 196px,#f62525 204px,#f61313 207px,#f62222 210px,#fa7373 215px,#fef1f1 222px,#fffefe 223px,#d3d3fd 229px,#d4d4fd 238px,#efeffe 250px,#fffdfd 252px,#fcb2b2 257px,#f50000 265px,#f50000 276px,#fdd2d2 284px,#fffafa 286px,#c2c2fd 292px,#bcbcfc 299px,#e0e0fe 313px,#fcfcff 316px,#fdcccc 320px,#f50b0b 330px,#f50000 332px,#f50101 337px,#f96060 342px,#fdd7d7 348px,#fffcfc 351px,#e0e0fe 358px,#f6f6ff 378px,#fffbfb 381px,#fb9b9b 396px,#fcacac 402px,#fffdfd 413px,#eeeefe 425px,#fffafa 446px,#fdd3d3 461px,#fcfcff 478px,#ffffff 565px)"></i><i style="background:linear-gradient(90deg,#ffffff 0px,#feeaea 10px,#fcb8b8 20px,#fdcaca 26px,#fffdfd 33px,#ececfe 43px,#fffcfc 63px,#fcbbbb 74px,#fb9b9b 81px,#fcb6b6 87px,#fffdfd 96px,#eaeafe 105px,#fffbfb 126px,#fdc0c0 135px,#fa8989 142px,#fa8b8b 147px,#fffbfb 159px,#e5e5fe 168px,#fffefe 188px,#fcbcbc 195px,#f73030 204px,#f61a1a 208px,#f73d3d 212px,#feebeb 222px,#fcfcff 224px,#ddddfe 230px,#f7f7ff 250px,#fefeff 251px,#fcb8b8 257px,#f73939 263px,#f50a0a 265px,#f50000 268px,#f50000 276px,#fdcaca 284px,#ffffff 287px,#d2d2fd 292px,#d5d5fd 300px,#f4f4ff 314px,#fff8f8 316px,#fcadad 322px,#f50808 331px,#f50202 337px,#f95d5d 342px,#fdd2d2 348px,#ffffff 352px,#e9e9fe 359px,#fffbfb 380px,#fcb1b1 392px,#fb9c9c 398px,#fdc1c1 405px,#fffefe 414px,#f4f4ff 426px,#fff9f9 446px,#fdd4d4 462px,#fdfdff 478px,#ffffff 565px)"></i><i style="background:linear-gradient(90deg,#ffffff 0px,#feeaea 10px,#fcb8b8 20px,#fdc8c8 26px,#ffffff 34px,#f3f3ff 44px,#fff9f9 63px,#fdc8c8 73px,#fba1a1 80px,#fcb0b0 86px,#ffffff 97px,#f1f1fe 107px,#fff9f9 126px,#fdc7c7 135px,#fa8c8c 143px,#fb9595 148px,#fffdfd 160px,#ededfe 169px,#fffafa 188px,#fdc5c5 195px,#f73434 205px,#f72828 209px,#f85151 213px,#fee7e7 222px,#fffcfc 224px,#e6e6fe 231px,#fffafa 251px,#fdc1c1 257px,#f96565 262px,#f50b0b 266px,#f50000 268px,#f50505 276px,#fdc5c5 284px,#fff7f7 287px,#f1f1fe 289px,#dcdcfe 295px,#f4f4ff 311px,#fff8f8 315px,#fdc3c3 321px,#f50c0c 332px,#f50000 335px,#f61717 338px,#fdcfcf 348px,#fefeff 353px,#f1f1fe 361px,#fff8f8 380px,#fdc5c5 390px,#fba1a1 397px,#fcb3b3 403px,#fffcfc 414px,#fbfbff 431px,#fff7f7 447px,#fdd6d6 462px,#fdfdff 479px,#ffffff 565px)"></i></div></div>
<div class="f s2" style="left:1221px;top:809px;width:171px;height:108px;clip-path:polygon(61px 0.7px,170.3px 0.7px,109.4px 107.3px,0.9px 107.3px);"><div><i style="background:linear-gradient(90deg,#fcbfbf 0px,#fcb2b2 48px,#fca9a9 65px,#fdd6d6 74px,#fcfcff 78px,#5656f8 90px,#3d3df7 95px,#5858f8 100px,#fafaff 111px,#fb9898 120px,#fb8d8d 126px,#fdc9c9 133px,#fefeff 137px,#9393fb 145px,#7d7dfa 150px,#a5a5fb 156px,#fffcfc 164px,#fdd2d2 170px)"></i><i style="background:linear-gradient(90deg,#fcbfbf 0px,#fcb3b3 45px,#fb9d9d 64px,#fdc4c4 72px,#fffdfd 77px,#2b2bf7 90px,#0d0df5 95px,#2d2df7 100px,#b6b6fc 108px,#fffbfb 112px,#fb9191 119px,#fa7676 124px,#fb9191 129px,#fffbfb 136px,#6c6cf9 145px,#5151f8 150px,#7575fa 155px,#fffefe 165px,#fdd6d6 170px)"></i><i style="background:linear-gradient(90deg,#fcbfbf 0px,#fcb3b3 43px,#fb8f8f 63px,#fcb5b5 71px,#fcfcff 77px,#0101f5 90px,#0303f5 100px,#8b8bfa 107px,#fcfcff 112px,#fa8282 119px,#f96161 124px,#fa8484 129px,#fafaff 136px,#5454f8 144px,#2828f7 148px,#2d2df7 152px,#8181fa 158px,#f4f4ff 165px,#fffefe 166px,#fedbdb 170px)"></i><i style="background:linear-gradient(90deg,#fcbfbf 0px,#fcb3b3 41px,#fa7f7f 62px,#fb9a9a 69px,#fee2e2 75px,#f9f9ff 77px,#0000f5 88px,#0101f5 102px,#f7f7ff 112px,#fdd7d7 114px,#fa7575 119px,#f85151 123px,#f95f5f 127px,#fcafaf 132px,#fff4f4 135px,#f0f0fe 136px,#3131f7 144px,#0000f5 148px,#0505f5 152px,#5151f8 157px,#e9e9fe 165px,#fffbfb 167px,#fedfdf 170px)"></i><i style="background:linear-gradient(90deg,#fcbfbf 0px,#fcb2b2 40px,#f96d6d 61px,#fa8383 68px,#fdcbcb 74px,#fafaff 77px,#0000f5 87px,#0000f5 103px,#f1f1fe 112px,#fef2f2 113px,#f96c6c 119px,#f84545 123px,#f85454 127px,#fcadad 132px,#fffafa 135px,#1313f6 144px,#0000f5 145px,#0000f5 154px,#6363f9 159px,#efeffe 166px,#fcfcff 167px,#fee3e3 170px)"></i><i style="background:linear-gradient(90deg,#fcbfbf 0px,#fcb4b4 38px,#f97070 54px,#f95a5a 63px,#fa7a7a 69px,#fdd4d4 75px,#ffffff 77px,#0606f5 86px,#0202f5 104px,#ebebfe 112px,#fff6f6 113px,#fa7c7c 118px,#f84545 122px,#f84747 126px,#fa8181 130px,#fdfdff 135px,#1313f6 143px,#0000f5 144px,#0000f5 155px,#2222f6 157px,#d8d8fd 165px,#f7f7ff 167px,#feefef 169px,#fee5e5 170px)"></i><i style="background:linear-gradient(90deg,#fcbfbf 0px,#fcb4b4 37px,#fa7a7a 50px,#f84343 61px,#f85454 67px,#fb8e8e 72px,#fff6f6 77px,#eeeefe 78px,#0202f5 86px,#0000f5 104px,#8c8cfb 109px,#fffbfb 113px,#fa8080 118px,#f84949 122px,#f84b4b 126px,#fa8686 130px,#feeaea 134px,#f7f7ff 135px,#0707f5 143px,#0000f5 156px,#d4d4fd 165px,#fffcfc 168px,#fee7e7 170px)"></i><i style="background:linear-gradient(90deg,#fcbfbf 0px,#fcb4b4 36px,#fa8383 47px,#f72e2e 60px,#f73636 66px,#f96b6b 71px,#fdcece 76px,#fcfcff 78px,#0909f5 86px,#0000f5 95px,#0000f5 104px,#c6c6fd 111px,#ffffff 113px,#fa8989 118px,#f85555 122px,#f85757 126px,#fb8f8f 130px,#fef0f0 134px,#f2f2fe 135px,#0404f5 143px,#0000f5 156px,#d3d3fd 165px,#fffcfc 168px,#fee7e7 170px)"></i><i style="background:linear-gradient(90deg,#fcbfbf 0px,#fcb2b2 36px,#fa7a7a 47px,#f61b1b 59px,#f61919 65px,#f84646 70px,#fba3a3 75px,#fef0f0 78px,#f2f2fe 79px,#0000f5 87px,#0303f5 104px,#fbfbff 113px,#fa8686 119px,#f96262 123px,#f97070 127px,#fdc4c4 132px,#fff5f5 134px,#eeeefe 135px,#0b0bf5 143px,#0000f5 146px,#0505f5 156px,#d6d6fd 165px,#fffbfb 168px,#fee6e6 170px)"></i><i style="background:linear-gradient(90deg,#fcbfbf 0px,#fcb3b3 35px,#fa8282 45px,#f50606 59px,#f50707 66px,#f73e3e 71px,#fcbebe 77px,#fff5f5 79px,#ebebfe 80px,#0101f5 88px,#0000f5 103px,#fafaff 113px,#fb9595 119px,#fa7676 123px,#fa8383 127px,#fdcdcd 132px,#fff9f9 134px,#d4d4fd 136px,#0606f5 144px,#0303f5 155px,#dcdcfe 165px,#fafaff 167px,#fee4e4 170px)"></i><i style="background:linear-gradient(90deg,#fcbfbf 0px,#fcb5b5 34px,#fa8484 44px,#f50202 57px,#f50101 68px,#f84c4c 73px,#fff7f7 80px,#ebebfe 81px,#2929f7 88px,#0000f5 90px,#0000f5 101px,#4949f8 105px,#fcfcff 113px,#fba4a4 119px,#fa8a8a 124px,#fca8a8 129px,#fffafa 134px,#d9d9fe 136px,#2121f6 144px,#0202f5 146px,#0000f5 153px,#7070f9 159px,#f3f3ff 166px,#fffefe 167px,#fee0e0 170px)"></i><i style="background:linear-gradient(90deg,#fcbfbf 0px,#fcb4b4 34px,#fa8080 44px,#f50000 56px,#f50606 70px,#fa7575 76px,#fff3f3 81px,#f0f0fe 82px,#4444f8 89px,#0a0af5 93px,#0101f5 97px,#3535f7 102px,#fffcfc 113px,#fcb0b0 119px,#fb9b9b 124px,#fcb4b4 129px,#fff8f8 134px,#e1e1fe 136px,#3434f7 145px,#1313f6 149px,#2626f6 153px,#9c9cfb 160px,#fcfcff 166px,#fedddd 170px)"></i><i style="background:linear-gradient(90deg,#fcbfbf 0px,#fcb3b3 34px,#fa8686 43px,#f50000 55px,#f50505 71px,#fa8b8b 78px,#fcfcff 83px,#6a6af9 90px,#3b3bf7 95px,#4e4ef8 100px,#fefeff 112px,#fcb8b8 119px,#fcaaaa 125px,#fdcfcf 131px,#fcfcff 135px,#5a5af9 145px,#3f3ff7 149px,#5a5af9 154px,#fbfbff 165px,#fdd8d8 170px)"></i><i style="background:linear-gradient(90deg,#fcbfbf 0px,#fcb3b3 34px,#fa8585 43px,#f50000 55px,#f50808 72px,#fcb1b1 81px,#fafaff 85px,#9898fb 91px,#7979fa 96px,#8f8ffb 101px,#f8f8ff 110px,#fef0f0 112px,#fcb8b8 120px,#fcb9b9 127px,#feeeee 134px,#f8f8ff 136px,#7979fa 146px,#6e6ef9 151px,#a4a4fb 157px,#fdfdff 164px,#fdd4d4 170px)"></i><i style="background:linear-gradient(90deg,#fcbfbf 0px,#fcb3b3 34px,#fa8585 43px,#f50000 55px,#f50101 72px,#fff8f8 87px,#eaeafe 89px,#b9b9fc 95px,#c6c6fd 101px,#fffdfd 108px,#fcbebe 118px,#fcbebe 127px,#fafaff 137px,#a1a1fb 146px,#9898fb 151px,#cdcdfd 158px,#fffdfd 163px,#fdd0d0 170px)"></i><i style="background:linear-gradient(90deg,#fcbfbf 0px,#fcb3b3 34px,#fa8686 43px,#f50000 56px,#f50101 72px,#fee0e0 89px,#fefeff 93px,#f8f8ff 100px,#fff9f9 103px,#fcbdbd 116px,#fdc4c4 128px,#fffdfd 138px,#bebefc 148px,#d0d0fd 155px,#fffefe 161px,#fdcccc 170px)"></i><i style="background:linear-gradient(90deg,#fcbfbf 0px,#fcb3b3 34px,#fa8282 44px,#f50000 57px,#f50808 72px,#fcbaba 90px,#fdd4d4 98px,#fcb4b4 117px,#fedada 134px,#fdfdff 141px,#ddddfe 150px,#fffbfb 159px,#fdc9c9 170px)"></i><i style="background:linear-gradient(90deg,#fcbfbf 0px,#fcb2b2 35px,#fa7f7f 45px,#f50303 59px,#f50909 70px,#fb9191 90px,#fba2a2 101px,#fcabab 116px,#fef0f0 141px,#fcfcff 146px,#fff7f7 156px,#fdc6c6 170px)"></i><i style="background:linear-gradient(90deg,#fcbfbf 0px,#fcb3b3 35px,#fa8080 46px,#f61b1b 60px,#f61b1b 68px,#f96f6f 89px,#fb8e8e 111px,#fdcaca 128px,#fef0f0 151px,#fdc4c4 170px)"></i><i style="background:linear-gradient(90deg,#fcbfbf 0px,#fcb1b1 36px,#fa7878 49px,#f73c3c 61px,#f84d4d 74px,#f85757 92px,#f96161 105px,#fdcbcb 125px,#fedddd 154px,#fdc3c3 170px)"></i><i style="background:linear-gradient(90deg,#fcbfbf 0px,#fcb1b1 37px,#f96565 61px,#f96565 80px,#f73b3b 99px,#f95c5c 108px,#fdcccc 122px,#fed9d9 132px,#fdc6c6 164px,#fdc1c1 170px)"></i><i style="background:linear-gradient(90deg,#fcbfbf 0px,#fcaeae 39px,#fb9393 59px,#fb9090 74px,#f72828 97px,#f73939 105px,#fdd5d5 121px,#fee7e7 129px,#fdcdcd 152px,#fdc1c1 170px)"></i><i style="background:linear-gradient(90deg,#fcbfbf 0px,#fcb1b1 52px,#fdcece 68px,#fca6a6 77px,#f62626 94px,#f61c1c 101px,#f84c4c 108px,#fee2e2 120px,#fffcfc 126px,#fdcbcb 147px,#fdc0c0 170px)"></i><i style="background:linear-gradient(90deg,#fcbfbf 0px,#fcb6b6 45px,#fff4f4 59px,#f8f8ff 63px,#fff6f6 72px,#f72a2a 93px,#f61414 100px,#f73737 106px,#fffdfd 120px,#e7e7fe 126px,#fffafa 133px,#fdcbcb 145px,#fdc0c0 170px)"></i><i style="background:linear-gradient(90deg,#fcbfbf 0px,#fcb4b4 42px,#feeaea 52px,#fafaff 55px,#b9b9fc 64px,#c3c3fd 70px,#fefeff 76px,#f84040 91px,#f61515 98px,#f72828 104px,#fa7979 110px,#fff8f8 117px,#eaeafe 119px,#c7c7fd 124px,#dbdbfe 130px,#fffdfd 135px,#fdcccc 145px,#fdc0c0 170px)"></i><i style="background:linear-gradient(90deg,#fcbfbf 0px,#fcadad 39px,#fdd2d2 47px,#fff9f9 51px,#ededfe 53px,#8686fa 62px,#7878fa 67px,#9b9bfb 72px,#fffbfb 79px,#f85656 90px,#f61e1e 97px,#f62222 102px,#f85858 107px,#fff6f6 115px,#f4f4ff 116px,#aeaefc 121px,#a3a3fb 126px,#fbfbff 136px,#fdcaca 146px,#fdbfbf 170px)"></i><i style="background:linear-gradient(90deg,#fcbfbf 0px,#fca7a7 29px,#fcaaaa 40px,#fedbdb 47px,#fdfdff 50px,#5656f8 61px,#3939f7 66px,#5858f8 71px,#e1e1fe 79px,#f4f4ff 80px,#fff7f7 81px,#f96464 90px,#f72929 97px,#f72f2f 102px,#f96c6c 107px,#feeeee 113px,#f9f9ff 114px,#9898fb 119px,#7777fa 123px,#8c8cfa 128px,#fffcfc 138px,#fdcccc 146px,#fdbfbf 170px)"></i><i style="background:linear-gradient(90deg,#fcbfbf 0px,#fca9a9 24px,#fb9a9a 37px,#fcbfbf 44px,#ffffff 49px,#2222f6 61px,#0000f5 65px,#0c0cf5 69px,#5555f8 74px,#fffefe 82px,#fa7474 90px,#f73c3c 96px,#f73a3a 101px,#f97272 106px,#fff9f9 112px,#babafc 115px,#5e5ef9 120px,#4b4bf8 124px,#7575fa 129px,#f8f8ff 138px,#fef2f2 140px,#fdc8c8 148px,#fdbfbf 170px)"></i><i style="background:linear-gradient(90deg,#fcbfbf 0px,#fca9a9 22px,#fa8c8c 36px,#fcafaf 43px,#fff4f4 48px,#f8f8ff 49px,#0606f5 60px,#0404f5 72px,#ffffff 83px,#fa8484 90px,#f84c4c 96px,#f84e4e 101px,#fa8c8c 106px,#fdfdff 111px,#6363f9 117px,#2828f7 121px,#2727f7 125px,#6767f9 130px,#fafaff 139px,#fdcccc 147px,#fdbfbf 170px)"></i><i style="background:linear-gradient(90deg,#fcbfbf 0px,#fcaaaa 20px,#fa7c7c 35px,#fb9292 41px,#fdcfcf 46px,#fff4f4 48px,#f5f5ff 49px,#1010f6 58px,#0000f5 60px,#0000f5 73px,#2222f6 75px,#ececfe 83px,#fffcfc 84px,#fb9393 90px,#f95e5e 96px,#f96363 101px,#fca6a6 106px,#feecec 109px,#f8f8ff 110px,#3c3cf7 117px,#0101f5 121px,#0404f5 125px,#4e4ef8 130px,#e5e5fe 138px,#ffffff 140px,#fdcdcd 147px,#fdbfbf 170px)"></i><i style="background:linear-gradient(90deg,#fcbfbf 0px,#fcabab 19px,#f96a6a 35px,#fa8282 41px,#fdc6c6 46px,#feefef 48px,#f8f8ff 49px,#0000f5 58px,#0000f5 74px,#2626f6 76px,#f4f4ff 84px,#fff4f4 85px,#fb9595 91px,#f96d6d 97px,#fa8282 102px,#fdd5d5 107px,#f7f7ff 109px,#1c1cf6 117px,#0000f5 119px,#0303f5 127px,#dedefe 138px,#fbfbff 140px,#fdcbcb 148px,#fdbfbf 170px)"></i><i style="background:linear-gradient(90deg,#fcbfbf 0px,#fcafaf 18px,#f85858 34px,#f96666 40px,#fba5a5 45px,#fffefe 49px,#1010f6 57px,#0000f5 59px,#0000f5 75px,#ececfe 84px,#fffdfd 85px,#fba1a1 91px,#fa7e7e 97px,#fb9696 102px,#feecec 107px,#fafaff 108px,#0505f5 117px,#0606f5 128px,#dadafe 138px,#f8f8ff 140px,#fee6e6 143px,#fdc4c4 151px,#fdbfbf 170px)"></i><i style="background:linear-gradient(90deg,#fcbfbf 0px,#fcb6b6 17px,#f96868 28px,#f84141 35px,#f84f4f 40px,#fb9292 45px,#fef0f0 49px,#f2f2fe 50px,#1414f6 57px,#0000f5 58px,#0000f5 75px,#e9e9fe 84px,#fdfdff 85px,#fcaaaa 91px,#fb8d8d 97px,#fca8a8 102px,#fffefe 107px,#1010f6 116px,#0000f5 118px,#0202f5 128px,#d9d9fe 138px,#fffafa 141px,#fdcbcb 148px,#fdbfbf 170px)"></i><i style="background:linear-gradient(90deg,#fcbfbf 0px,#fcbebe 17px,#fa7f7f 25px,#f73333 33px,#f72c2c 38px,#f95959 43px,#fdc2c2 48px,#fffafa 50px,#a5a5fb 53px,#0404f5 58px,#0000f5 74px,#0909f5 75px,#d7d7fd 83px,#ffffff 85px,#fcb0b0 91px,#fb9999 97px,#fcb6b6 102px,#fff5f5 106px,#f4f4ff 107px,#0f0ff6 116px,#0000f5 118px,#0707f5 128px,#dcdcfe 138px,#f9f9ff 140px,#fdcbcb 148px,#fdbfbf 170px)"></i><i style="background:linear-gradient(90deg,#fdbfbf 0px,#fdcbcb 17px,#fb9999 23px,#f62121 33px,#f61515 38px,#f84141 43px,#fcabab 48px,#fcfcff 51px,#0101f5 59px,#0707f5 74px,#e1e1fe 83px,#fff8f8 85px,#fcb2b2 91px,#fba2a2 97px,#fdc0c0 102px,#fffcfc 106px,#9090fb 111px,#0505f5 117px,#0505f5 127px,#e1e1fe 138px,#fcfcff 140px,#fdcdcd 147px,#fdbfbf 170px)"></i><i style="background:linear-gradient(90deg,#fdc0c0 0px,#fedbdb 17px,#fcb0b0 22px,#f61a1a 32px,#f50000 37px,#f61111 41px,#f96262 46px,#fee8e8 51px,#f7f7ff 52px,#2323f6 59px,#0000f5 61px,#0000f5 72px,#f2f2fe 83px,#fffbfb 84px,#fcb6b6 90px,#fca7a7 97px,#fdd2d2 103px,#fffefe 106px,#1a1af6 117px,#0000f5 119px,#0303f5 125px,#6767f9 131px,#e8e8fe 138px,#fffcfc 140px,#fdcccc 147px,#fdbfbf 170px)"></i><i style="background:linear-gradient(90deg,#fdc0c0 0px,#fedfdf 11px,#feecec 17px,#fcbdbd 22px,#f60e0e 32px,#f50000 35px,#f50707 42px,#f96161 47px,#feeaea 52px,#f5f5ff 53px,#4c4cf8 59px,#0505f5 63px,#0202f5 69px,#5353f8 74px,#f7f7ff 82px,#fee7e7 84px,#fcafaf 90px,#fca9a9 97px,#fdd3d3 103px,#fffcfc 106px,#9191fb 112px,#2a2af7 118px,#1414f6 122px,#2e2ef7 126px,#fefeff 139px,#fdcbcb 147px,#fdbfbf 170px)"></i><i style="background:linear-gradient(90deg,#fdc1c1 0px,#fee1e1 10px,#fffcfc 16px,#fee6e6 20px,#fb8e8e 25px,#f50505 32px,#f50202 43px,#f96363 48px,#fee9e9 53px,#f8f8ff 54px,#6464f9 60px,#3131f7 64px,#3131f7 68px,#7171f9 73px,#f5f5ff 80px,#fff9f9 81px,#fcb4b4 87px,#fba1a1 94px,#fdc8c8 102px,#fafaff 107px,#5959f8 117px,#3b3bf7 122px,#5e5ef9 127px,#fcfcff 138px,#fdcccc 146px,#fdbfbf 170px)"></i><i style="background:linear-gradient(90deg,#fdc1c1 0px,#fedfdf 9px,#fefeff 14px,#fff9f9 19px,#fcbdbd 23px,#f60f0f 31px,#f50000 33px,#f50202 44px,#fa7f7f 50px,#ffffff 55px,#9595fb 60px,#6868f9 64px,#6c6cf9 68px,#b7b7fc 74px,#fbfbff 78px,#fcacac 85px,#fb9797 92px,#fcbcbc 101px,#fffafa 107px,#dadafe 110px,#7373fa 118px,#6666f9 123px,#9999fb 129px,#fdfdff 137px,#fdcaca 146px,#fdbfbf 170px)"></i><i style="background:linear-gradient(90deg,#fdc1c1 0px,#fee0e0 9px,#fdfdff 14px,#fffafa 19px,#fcbdbd 23px,#f60d0d 31px,#f50000 33px,#f50808 45px,#fcb0b0 53px,#fff4f4 56px,#f6f6ff 57px,#acacfc 62px,#9e9efb 66px,#c3c3fd 71px,#fbfbff 75px,#fb9f9f 83px,#fa8888 90px,#fcb0b0 100px,#fff9f9 108px,#e1e1fe 111px,#9393fb 119px,#9191fb 124px,#e2e2fe 133px,#fffefe 136px,#fdcaca 145px,#fdbfbf 170px)"></i><i style="background:linear-gradient(90deg,#fdc1c1 0px,#fedddd 9px,#fefeff 16px,#fee9e9 20px,#fb8d8d 25px,#f60d0d 31px,#f50000 33px,#f50303 45px,#fff5f5 58px,#fbfbff 59px,#d4d4fd 64px,#e5e5fe 69px,#fff9f9 72px,#fb8e8e 81px,#fa7575 88px,#fba4a4 99px,#ffffff 110px,#b6b6fc 119px,#b9b9fc 125px,#fefeff 134px,#fdcaca 144px,#fdbfbf 170px)"></i><i style="background:linear-gradient(90deg,#fdc0c0 0px,#fee2e2 11px,#fef1f1 17px,#fdcece 21px,#f50101 32px,#f50404 45px,#fdd5d5 58px,#fffafa 63px,#feeeee 68px,#f96c6c 81px,#f96161 88px,#fdc1c1 104px,#ffffff 112px,#d4d4fd 120px,#e7e7fe 128px,#fffefe 132px,#fdc8c8 144px,#fdbfbf 170px)"></i><i style="background:linear-gradient(90deg,#fdc0c0 0px,#fedfdf 17px,#fcb1b1 22px,#f50a0a 32px,#f50000 38px,#f50000 44px,#fcbbbb 58px,#fdd4d4 63px,#fcb9b9 69px,#f85252 80px,#f84b4b 87px,#fffefe 115px,#f0f0fe 124px,#fff8f8 130px,#fdc6c6 144px,#fdbfbf 170px)"></i><i style="background:linear-gradient(90deg,#fdbfbf 0px,#fdcece 17px,#fb9797 23px,#f50c0c 33px,#f50000 39px,#f50d0d 44px,#fca6a6 58px,#fcb3b3 64px,#fa7878 72px,#f73636 80px,#f73b3b 87px,#fdd5d5 110px,#fff9f9 121px,#fdc1c1 148px,#fdbfbf 170px)"></i><i style="background:linear-gradient(90deg,#fcbfbf 0px,#fdc0c0 17px,#fa8484 24px,#f61d1d 33px,#f50909 39px,#f72f2f 46px,#fb9898 58px,#fb9a9a 64px,#f62525 79px,#f62424 85px,#fcbebe 107px,#fee8e8 121px,#fdc0c0 151px,#fdbfbf 170px)"></i><i style="background:linear-gradient(90deg,#fcbfbf 0px,#fcb6b6 17px,#f96f6f 26px,#f72c2c 34px,#f72828 41px,#fb9090 58px,#fa8383 65px,#f61a1a 78px,#f61616 84px,#f96161 94px,#fcb5b5 106px,#fedbdb 121px,#fdbfbf 156px,#fdbfbf 170px)"></i><i style="background:linear-gradient(90deg,#fcbfbf 0px,#fcb0b0 17px,#f84646 34px,#f84b4b 43px,#fa8c8c 58px,#fa7878 65px,#f61212 78px,#f61212 84px,#fca9a9 104px,#fdd0d0 119px,#fdbfbf 170px)"></i><i style="background:linear-gradient(90deg,#fcbfbf 0px,#fcabab 18px,#f96161 34px,#fa7b7b 49px,#fa8989 60px,#f85252 69px,#f61010 78px,#f61818 85px,#fba4a4 103px,#fdc8c8 117px,#fdbfbf 170px)"></i><i style="background:linear-gradient(90deg,#fcbfbf 0px,#fca9a9 19px,#fa7d7d 33px,#fb8f8f 58px,#f96262 67px,#f61616 78px,#f61e1e 85px,#fba4a4 103px,#fdc5c5 118px,#fdbfbf 170px)"></i><i style="background:linear-gradient(90deg,#fcbfbf 0px,#fcaaaa 20px,#fb9595 32px,#fcacac 45px,#fa8181 63px,#f62020 78px,#f72929 85px,#fba6a6 103px,#fdc3c3 119px,#fdbfbf 170px)"></i><i style="background:linear-gradient(90deg,#fcbfbf 0px,#fca6a6 24px,#fcafaf 33px,#fdcece 42px,#fa7b7b 65px,#f72f2f 78px,#f73d3d 86px,#fca8a8 103px,#fdc1c1 120px,#fdbfbf 170px)"></i><i style="background:linear-gradient(90deg,#fcbfbf 0px,#fcb2b2 29px,#feebeb 41px,#fdcbcb 49px,#f85858 72px,#f73e3e 81px,#f96a6a 91px,#fcb1b1 105px,#fdc0c0 131px,#fdbfbf 170px)"></i><i style="background:linear-gradient(90deg,#fcbfbf 0px,#fcbaba 28px,#ffffff 40px,#feeeee 46px,#fca8a8 58px,#f85151 79px,#f96c6c 89px,#fcb3b3 105px,#fdbfbf 140px,#fdbfbf 170px)"></i><i style="background:linear-gradient(90deg,#fcbfbf 0px,#fdc0c0 28px,#fbfbff 38px,#f5f5ff 43px,#fff8f8 46px,#fcb1b1 57px,#f96464 79px,#fa7e7e 90px,#fcb7b7 106px,#fdbfbf 170px)"></i></div></div>
<div class="f s2" style="left:1227px;top:926px;width:188px;height:110px;clip-path:polygon(61.2px 0.2px,187.7px 0.2px,126.8px 110px,0.3px 110px);"><div><i style="background:linear-gradient(90deg,#d9d9fd 0px,#e2e2fe 45px,#fffafa 52px,#fb9797 64px,#fb9d9d 69px,#fdfdff 79px,#cfcffd 87px,#ddddfe 95px,#fff9f9 100px,#f96262 112px,#f84f4f 117px,#fa7c7c 123px,#ffffff 134px,#cacafd 144px,#bebefc 156px,#e4e4fe 163px,#fafaff 165px,#fdd9d9 168px,#fa7d7d 175px,#fa7878 179px,#fcb7b7 185px,#fdd2d2 187px)"></i><i style="background:linear-gradient(90deg,#d9d9fe 0px,#e3e3fe 45px,#fffefe 51px,#fb8e8e 63px,#fb8c8c 68px,#fdd4d4 75px,#fffafa 78px,#c6c6fd 86px,#cacafd 93px,#fff9f9 100px,#f84545 112px,#f72f2f 117px,#f85454 122px,#fffbfb 134px,#bebefc 145px,#adadfc 156px,#cecefd 162px,#fffdfd 166px,#fa7d7d 174px,#f96969 178px,#fb9393 183px,#fdcccc 187px)"></i><i style="background:linear-gradient(90deg,#d9d9fe 0px,#e1e1fe 44px,#fffcfc 51px,#fa8888 63px,#fa8989 68px,#fed9d9 75px,#fbfbff 78px,#b9b9fc 85px,#b6b6fc 92px,#e6e6fe 98px,#fffdfd 100px,#f72f2f 112px,#f61414 116px,#f62626 120px,#fba0a0 128px,#fff9f9 134px,#acacfc 146px,#9797fb 156px,#bbbbfc 162px,#fffafa 167px,#fa8181 174px,#f96a6a 178px,#fb9292 183px,#fdcbcb 187px)"></i><i style="background:linear-gradient(90deg,#d9d9fe 0px,#e4e4fe 45px,#fffcfc 51px,#fa8b8b 63px,#fb8f8f 68px,#fdd7d7 74px,#fff6f6 76px,#f9f9ff 77px,#a9a9fc 84px,#9b9bfb 90px,#c0c0fd 96px,#f7f7ff 100px,#fff5f5 101px,#f73030 111px,#f50707 115px,#f60d0d 119px,#f84f4f 124px,#fffafa 134px,#9a9afb 146px,#7c7cfa 155px,#9797fb 161px,#eeeefe 167px,#fffdfd 168px,#fb9292 174px,#fa7878 178px,#fb9b9b 183px,#fdd0d0 187px)"></i><i style="background:linear-gradient(90deg,#d9d9fe 0px,#e3e3fe 45px,#fffefe 51px,#fb9696 63px,#fb9f9f 68px,#feebeb 74px,#fffcfc 75px,#9696fb 83px,#7e7efa 89px,#9f9ffb 95px,#fafaff 101px,#fdc4c4 104px,#f73030 111px,#f50202 115px,#f50808 119px,#f84b4b 124px,#fffdfd 134px,#8e8efb 145px,#5f5ff9 154px,#7070f9 160px,#bebefc 166px,#f7f7ff 169px,#fee0e0 171px,#fb9a9a 176px,#fb9595 180px,#fedada 187px)"></i><i style="background:linear-gradient(90deg,#d9d9fe 0px,#e2e2fe 45px,#fffcfc 52px,#fca9a9 63px,#fcb7b7 68px,#fff6f6 73px,#f7f7ff 74px,#8181fa 82px,#5f5ff9 88px,#7a7afa 94px,#d2d2fd 100px,#fcfcff 102px,#f73a3a 111px,#f50b0b 115px,#f60e0e 119px,#f85050 124px,#fff4f4 133px,#fbfbff 134px,#7b7bfa 145px,#4343f8 153px,#4848f8 159px,#8c8cfa 165px,#fafaff 171px,#fcb7b7 177px,#fcbdbd 182px,#fee8e8 187px)"></i><i style="background:linear-gradient(90deg,#d9d9fe 0px,#e3e3fe 46px,#fffcfc 53px,#fdc1c1 63px,#fdd4d4 68px,#fff7f7 71px,#f8f8ff 72px,#6161f9 82px,#3f3ff7 88px,#5454f8 93px,#a6a6fc 99px,#fbfbff 103px,#f84f4f 111px,#f61f1f 115px,#f62020 119px,#f95d5d 124px,#fffcfc 133px,#5454f8 147px,#2424f6 154px,#3030f7 160px,#7b7bfa 166px,#f6f6ff 173px,#fffafa 174px,#fdd5d5 179px,#fef0f0 186px,#fff7f7 187px)"></i><i style="background:linear-gradient(90deg,#d9d9fe 0px,#e3e3fe 47px,#fffafa 55px,#fedcdc 63px,#fff4f4 68px,#fffefe 69px,#4444f8 82px,#2323f6 88px,#3838f7 93px,#8d8dfb 99px,#f9f9ff 104px,#fdd6d6 106px,#f95d5d 112px,#f73939 116px,#f84343 120px,#fb9292 126px,#fff6f6 132px,#f8f8ff 133px,#3939f7 148px,#0a0af5 155px,#1717f6 160px,#5f5ff9 166px,#ececfe 175px,#fefeff 177px,#fff6f6 183px,#f8f8ff 187px)"></i><i style="background:linear-gradient(90deg,#d9d9fe 0px,#e2e2fe 48px,#fffbfb 58px,#fffbfb 65px,#e3e3fe 69px,#2d2df7 82px,#0c0cf5 88px,#2323f6 93px,#7676fa 99px,#f4f4ff 105px,#fff4f4 106px,#fa8282 112px,#f95b5b 117px,#fa7575 122px,#fdfdff 132px,#1a1af6 150px,#0000f5 155px,#0606f5 160px,#5959f8 167px,#d8d8fd 176px,#f3f3ff 182px,#ececfe 187px)"></i><i style="background:linear-gradient(90deg,#d9d9fe 0px,#e3e3fe 50px,#f3f3ff 63px,#cacafd 69px,#1f1ff6 82px,#0000f5 88px,#1f1ff6 94px,#8989fa 101px,#fffdfd 107px,#fb9d9d 113px,#fa8383 118px,#fca9a9 124px,#fefeff 131px,#0e0ef6 151px,#0000f5 155px,#0808f5 161px,#6a6af9 169px,#cacafd 177px,#e3e3fe 184px,#e2e2fe 187px)"></i><i style="background:linear-gradient(90deg,#d9d9fe 0px,#e4e4fe 54px,#dedefe 64px,#a3a3fb 71px,#1313f6 83px,#0000f5 89px,#2626f6 95px,#9e9efb 103px,#f6f6ff 108px,#fff8f8 109px,#fcb5b5 115px,#fcafaf 120px,#feecec 128px,#fdfdff 130px,#0e0ef6 152px,#0000f5 158px,#2727f7 164px,#bdbdfc 177px,#dadafe 185px,#dbdbfe 187px)"></i><i style="background:linear-gradient(90deg,#d9d9fe 0px,#d9d9fe 62px,#a7a7fc 70px,#1d1df6 83px,#0b0bf5 89px,#3535f7 96px,#fffefe 111px,#fdd5d5 117px,#fee2e2 124px,#fffdfd 128px,#7676fa 143px,#1919f6 153px,#1313f6 159px,#5252f8 167px,#bdbdfc 178px,#d7d7fd 187px)"></i><i style="background:linear-gradient(90deg,#d9d9fe 0px,#d3d3fd 62px,#9e9efb 71px,#2d2df7 84px,#2626f6 91px,#5f5ff9 99px,#f1f1fe 113px,#fffcfc 116px,#fffcfc 124px,#d5d5fd 133px,#3434f7 153px,#3030f7 160px,#7d7dfa 170px,#c5c5fd 180px,#d5d5fd 187px)"></i><i style="background:linear-gradient(90deg,#d9d9fe 0px,#d1d1fd 62px,#9898fb 73px,#4848f8 85px,#4a4af8 93px,#e2e2fe 116px,#eaeafe 126px,#b5b5fc 139px,#4f4ff8 154px,#5151f8 161px,#c6c6fd 180px,#d4d4fd 187px)"></i><i style="background:linear-gradient(90deg,#d9d9fe 0px,#d1d1fd 63px,#8e8efb 78px,#6868f9 89px,#8a8afa 102px,#d9d9fe 123px,#cfcffd 136px,#6d6df9 156px,#7f7ffa 165px,#cbcbfd 181px,#d5d5fd 187px)"></i><i style="background:linear-gradient(90deg,#d9d9fe 0px,#d0d0fd 67px,#9090fb 91px,#a7a7fc 113px,#dcdcfe 132px,#c8c8fd 143px,#8d8dfb 158px,#ababfc 170px,#d5d5fd 186px,#d5d5fd 187px)"></i><i style="background:linear-gradient(90deg,#d9d9fe 0px,#d5d5fd 76px,#9595fb 112px,#e9e9fe 136px,#d5d5fd 147px,#aaaafc 160px,#d6d6fd 187px)"></i><i style="background:linear-gradient(90deg,#d9d9fe 0px,#e6e6fe 64px,#f3f3ff 84px,#c5c5fd 98px,#8c8cfa 111px,#a3a3fb 120px,#f9f9ff 136px,#f8f8ff 146px,#c1c1fd 162px,#d7d7fd 187px)"></i><i style="background:linear-gradient(90deg,#d9d9fe 0px,#e4e4fe 40px,#e7e7fe 60px,#fffbfb 70px,#fedede 84px,#fcfcff 94px,#8a8afa 110px,#8c8cfa 117px,#fffcfc 134px,#fee1e1 143px,#fbfbff 153px,#d0d0fd 165px,#d8d8fd 187px)"></i><i style="background:linear-gradient(90deg,#d9d9fe 0px,#f0f0fe 28px,#e4e4fe 56px,#fff9f9 66px,#fcb2b2 82px,#fdc1c1 90px,#fbfbff 98px,#9191fb 109px,#8484fa 116px,#c1c1fd 125px,#fffbfb 132px,#fdc4c4 141px,#fdcece 149px,#fffefe 157px,#d7d7fd 169px,#d8d8fd 187px)"></i><i style="background:linear-gradient(90deg,#d9d9fe 0px,#ebebfe 21px,#fcfcff 35px,#e4e4fe 53px,#fffcfc 63px,#fa8888 81px,#fa8b8b 88px,#fdcdcd 96px,#fefeff 100px,#9898fb 109px,#8383fa 115px,#a9a9fc 122px,#fdfdff 130px,#fca8a8 140px,#fba3a3 147px,#fbfbff 161px,#dadafe 172px,#d8d8fd 187px)"></i><i style="background:linear-gradient(90deg,#d9d9fe 0px,#ececfe 19px,#fffafa 26px,#fff6f6 36px,#f9f9ff 41px,#e7e7fe 53px,#fff8f8 62px,#f95b5b 81px,#f85858 87px,#fb9191 94px,#fff5f5 101px,#fafaff 102px,#9a9afb 110px,#8989fa 116px,#b7b7fc 123px,#fefeff 129px,#fb8f8f 139px,#fa7b7b 145px,#fba2a2 152px,#fffbfb 162px,#dbdbfe 174px,#d9d9fd 187px)"></i><i style="background:linear-gradient(90deg,#d9d9fe 0px,#ebebfe 17px,#fff9f9 23px,#fedede 33px,#fbfbff 43px,#eaeafe 53px,#fffbfb 60px,#fb9e9e 70px,#f73333 80px,#f62525 86px,#f85151 92px,#fffdfd 103px,#a6a6fc 110px,#9191fb 116px,#bebefc 123px,#fdfdff 128px,#f97070 139px,#f85858 145px,#fa7c7c 151px,#ffffff 164px,#dcdcfe 175px,#d9d9fd 187px)"></i><i style="background:linear-gradient(90deg,#d9d9fe 0px,#ececfe 16px,#fffefe 20px,#fdcaca 31px,#fee3e3 39px,#ffffff 44px,#ededfe 53px,#fffafa 59px,#fcaeae 67px,#f61010 79px,#f50000 82px,#f50606 89px,#f85454 95px,#fff8f8 104px,#e6e6fe 106px,#a4a4fb 112px,#9f9ffb 118px,#ddddfe 125px,#f8f8ff 127px,#fee7e7 129px,#f85454 139px,#f73737 144px,#f84c4c 149px,#fff7f7 164px,#f9f9ff 166px,#dbdbfe 177px,#d9d9fe 187px)"></i><i style="background:linear-gradient(90deg,#d9d9fe 0px,#ececfe 15px,#fffdfd 19px,#fcb8b8 30px,#fdc7c7 37px,#fcfcff 46px,#f2f2fe 54px,#fffbfb 58px,#fcabab 66px,#f50000 77px,#f50000 92px,#fb9393 100px,#fff4f4 105px,#f9f9ff 106px,#b1b1fc 112px,#a6a6fc 118px,#d7d7fd 124px,#fffefe 127px,#f73c3c 139px,#f61b1b 144px,#f73232 149px,#fee8e8 163px,#fefeff 166px,#ddddfe 176px,#d9d9fe 187px)"></i><i style="background:linear-gradient(90deg,#d9d9fe 0px,#ebebfe 14px,#fffdfd 18px,#fca6a6 30px,#fcb2b2 36px,#fffefe 46px,#f4f4ff 54px,#fff7f7 58px,#fcacac 65px,#f50000 75px,#f50000 94px,#fff3f3 106px,#fafaff 107px,#b5b5fc 113px,#acacfc 118px,#dadafe 124px,#fffafa 127px,#f72b2b 139px,#f50707 144px,#f61f1f 149px,#fee2e2 163px,#fffdfd 166px,#dcdcfe 177px,#d9d9fe 187px)"></i><i style="background:linear-gradient(90deg,#d9d9fe 0px,#ededfe 14px,#fff9f9 18px,#fb9d9d 29px,#fba1a1 35px,#fffcfc 46px,#f4f4ff 54px,#fff5f5 58px,#fba2a2 65px,#f50000 74px,#f50808 96px,#fee5e5 106px,#fff7f7 107px,#e8e8fe 109px,#b1b1fc 115px,#b5b5fc 120px,#fffbfb 127px,#f62222 139px,#f50000 143px,#f50a0a 148px,#f96b6b 155px,#fedfdf 163px,#fcfcff 167px,#dcdcfe 177px,#d9d9fe 187px)"></i><i style="background:linear-gradient(90deg,#d9d9fe 0px,#eeeefe 14px,#fffefe 17px,#fb9797 29px,#fb9797 34px,#fffefe 46px,#f0f0fe 53px,#fffcfc 57px,#fcacac 64px,#f50000 73px,#f50000 96px,#f62323 98px,#feeded 107px,#ffffff 108px,#b8b8fc 114px,#adadfc 119px,#d2d2fd 124px,#fcfcff 127px,#f62222 139px,#f50000 143px,#f50808 148px,#f96969 155px,#fedede 163px,#fcfcff 167px,#dcdcfe 177px,#d9d9fe 187px)"></i><i style="background:linear-gradient(90deg,#d9d9fe 0px,#eeeefe 14px,#ffffff 17px,#fb9999 29px,#fb9a9a 34px,#fffdfd 45px,#e8e8fe 52px,#fefeff 57px,#fcbbbb 63px,#f61c1c 71px,#f50505 72px,#f50000 97px,#fee9e9 107px,#fffbfb 108px,#b4b4fc 114px,#a5a5fb 119px,#c6c6fd 124px,#fffefe 128px,#f72c2c 139px,#f50202 144px,#f61818 149px,#fee0e0 163px,#fcfcff 167px,#dbdbfe 178px,#d9d9fe 187px)"></i><i style="background:linear-gradient(90deg,#d9d9fe 0px,#ededfe 14px,#fffafa 18px,#fba3a3 29px,#fca6a6 34px,#fdfdff 44px,#ddddfe 51px,#f5f5ff 57px,#fefeff 58px,#fcaeae 64px,#f50303 72px,#f50000 97px,#fffdfd 108px,#acacfc 114px,#9797fb 119px,#b4b4fc 124px,#fffefe 129px,#f73f3f 139px,#f61414 144px,#f72828 149px,#fee4e4 163px,#fffefe 166px,#dcdcfe 177px,#d9d9fe 187px)"></i><i style="background:linear-gradient(90deg,#d9d9fe 0px,#eaeafe 14px,#ffffff 18px,#fcb5b5 29px,#fdc1c1 35px,#fbfbff 42px,#cecefd 49px,#d9d9fe 55px,#fcfcff 59px,#fcb7b7 64px,#f50909 72px,#f50000 84px,#f50000 97px,#feefef 107px,#fbfbff 108px,#9f9ffb 114px,#8585fa 119px,#9e9efb 124px,#fafaff 130px,#fb9f9f 135px,#f84242 141px,#f72e2e 146px,#f95e5e 152px,#fee9e9 163px,#fdfdff 166px,#dcdcfe 177px,#d9d9fe 187px)"></i><i style="background:linear-gradient(90deg,#d9d9fe 0px,#ebebfe 15px,#fffafa 20px,#fdcccc 29px,#fedddd 35px,#fdfdff 39px,#bcbcfc 47px,#babafc 53px,#ebebfe 59px,#fff8f8 61px,#fa7373 68px,#f50000 73px,#f50707 97px,#fff9f9 107px,#8f8ffb 114px,#7070f9 119px,#8686fa 124px,#dfdffe 130px,#fff9f9 132px,#fa7a7a 139px,#f84f4f 144px,#f95a5a 149px,#fff8f8 164px,#f9f9ff 166px,#dbdbfe 178px,#d9d9fe 187px)"></i><i style="background:linear-gradient(90deg,#d9d9fe 0px,#ededfe 17px,#fffcfc 22px,#fee8e8 30px,#ffffff 35px,#9d9dfb 47px,#9f9ffb 53px,#d3d3fd 59px,#fffefe 62px,#f84343 71px,#f50000 74px,#f50101 96px,#fef1f1 106px,#f7f7ff 107px,#8b8bfa 113px,#5d5df9 118px,#6464f9 123px,#b0b0fc 129px,#fafaff 133px,#fa8686 141px,#f96f6f 146px,#fb9090 152px,#ffffff 164px,#ddddfe 175px,#d9d9fe 187px)"></i><i style="background:linear-gradient(90deg,#d9d9fe 0px,#ebebfe 19px,#fafaff 29px,#c9c9fd 37px,#7d7dfa 46px,#7a7afa 52px,#ababfc 58px,#f8f8ff 63px,#fee0e0 65px,#f50606 75px,#f50505 95px,#fefeff 106px,#7a7afa 113px,#4848f8 118px,#4c4cf8 123px,#9595fb 129px,#fffefe 135px,#fcaaaa 141px,#fb9292 146px,#fcb2b2 153px,#fefeff 163px,#dcdcfe 175px,#d9d9fe 187px)"></i><i style="background:linear-gradient(90deg,#d9d9fd 0px,#e1e1fe 28px,#adadfc 36px,#5757f8 46px,#5656f8 52px,#8b8bfa 58px,#fffcfc 65px,#f50606 77px,#f50101 93px,#fcb7b7 102px,#fffafa 105px,#5c5cf9 114px,#3333f7 119px,#3f3ff7 124px,#8d8dfb 130px,#fffcfc 137px,#fcbdbd 143px,#fcb6b6 149px,#fcfcff 162px,#dbdbfe 175px,#d9d9fe 187px)"></i><i style="background:linear-gradient(90deg,#d9d9fd 0px,#d1d1fd 26px,#9e9efb 34px,#3737f7 45px,#2f2ff7 51px,#5f5ff9 57px,#e4e4fe 65px,#f8f8ff 66px,#fedddd 68px,#f72f2f 77px,#f50000 81px,#f50202 90px,#f96868 97px,#fff5f5 104px,#f4f4ff 105px,#5f5ff9 113px,#2a2af7 118px,#2929f7 123px,#6969f9 129px,#fffefe 139px,#fdd3d3 145px,#fedfdf 153px,#fcfcff 160px,#dbdbfe 174px,#d9d9fe 187px)"></i><i style="background:linear-gradient(90deg,#d9d9fd 0px,#c9c9fd 24px,#8d8dfb 33px,#1717f6 45px,#0f0ff6 51px,#4242f8 57px,#c7c7fd 65px,#fffbfb 68px,#f95a5a 77px,#f62121 83px,#f62222 88px,#f95a5a 94px,#fef2f2 103px,#f9f9ff 104px,#4b4bf8 114px,#1f1ff6 119px,#2727f7 124px,#7a7afa 131px,#f3f3ff 140px,#fffbfb 142px,#fee8e8 149px,#fafaff 158px,#dadafe 175px,#d9d9fe 187px)"></i><i style="background:linear-gradient(90deg,#d9d9fe 0px,#c6c6fd 22px,#8e8efb 31px,#0606f5 44px,#0303f5 53px,#5757f8 60px,#f9f9ff 69px,#fdd0d0 72px,#f96f6f 79px,#f84d4d 85px,#f96262 91px,#fdc1c1 99px,#fdfdff 103px,#4b4bf8 114px,#1e1ef6 120px,#2d2df7 125px,#e8e8fe 141px,#fffefe 146px,#f1f1fe 158px,#d9d9fe 179px,#d9d9fe 187px)"></i><i style="background:linear-gradient(90deg,#d9d9fe 0px,#c8c8fd 20px,#9797fb 29px,#0303f5 43px,#0000f5 54px,#5858f8 61px,#ffffff 71px,#fb9c9c 79px,#fa7c7c 86px,#fb9999 93px,#ffffff 102px,#4646f8 115px,#2525f6 121px,#4343f8 127px,#d3d3fd 140px,#f4f4ff 148px,#d9d9fe 182px,#d9d9fe 187px)"></i><i style="background:linear-gradient(90deg,#dadafe 0px,#c7c7fd 20px,#8b8bfa 30px,#0000f5 44px,#0202f5 54px,#6161f9 62px,#fdfdff 73px,#fcb5b5 82px,#fcafaf 90px,#feeaea 99px,#fffefe 101px,#4c4cf8 116px,#3535f7 122px,#5f5ff9 129px,#d1d1fd 141px,#eaeafe 150px,#d9d9fe 187px)"></i><i style="background:linear-gradient(90deg,#dbdbfe 0px,#cacafd 19px,#8e8efb 30px,#1010f6 44px,#0404f5 51px,#3434f7 58px,#ebebfe 74px,#fffcfc 77px,#fdd5d5 87px,#fee7e7 96px,#fefeff 100px,#5454f8 118px,#4e4ef8 124px,#9898fb 134px,#d9d9fe 144px,#dfdffe 159px,#d9d9fe 187px)"></i><i style="background:linear-gradient(90deg,#dcdcfe 0px,#ccccfd 19px,#9090fb 31px,#2b2bf7 45px,#2626f7 52px,#6363f9 61px,#cfcffd 74px,#fffefe 87px,#f6f6ff 100px,#9d9dfb 112px,#6868f9 120px,#7070f9 127px,#d2d2fd 143px,#ddddfe 159px,#d9d9fe 187px)"></i><i style="background:linear-gradient(90deg,#dfdffe 0px,#d2d2fd 18px,#8d8dfb 34px,#5252f8 47px,#5c5cf9 56px,#b7b7fc 74px,#f3f3ff 98px,#d4d4fd 108px,#8484fa 121px,#8e8efb 129px,#d5d5fd 145px,#d9d9fe 187px)"></i><i style="background:linear-gradient(90deg,#e3e3fe 0px,#dbdbfe 16px,#8585fa 49px,#9696fb 64px,#afaffc 85px,#f3f3ff 101px,#e4e4fe 110px,#9f9ffb 123px,#afaffc 133px,#d8d8fd 148px,#d9d9fe 187px)"></i><i style="background:linear-gradient(90deg,#e9e9fe 0px,#e7e7fe 13px,#c1c1fd 36px,#b4b4fc 55px,#8383fa 81px,#adadfc 90px,#fefeff 102px,#fffafa 110px,#ececfe 115px,#b6b6fc 126px,#dadafe 155px,#d9d9fe 187px)"></i><i style="background:linear-gradient(90deg,#f0f0fe 0px,#f4f4ff 11px,#d4d4fd 28px,#fbfbff 48px,#b0b0fc 65px,#6767f9 79px,#7777fa 86px,#fcfcff 100px,#fdd8d8 108px,#feecec 115px,#fefeff 118px,#c9c9fd 128px,#d9d9fe 174px,#d9d9fe 187px)"></i><i style="background:linear-gradient(90deg,#f7f7ff 0px,#f8f8ff 13px,#ddddfe 26px,#fffcfc 36px,#fdcaca 46px,#fedfdf 53px,#fffdfd 57px,#5454f8 78px,#5454f8 84px,#9292fb 91px,#f9f9ff 99px,#fee3e3 102px,#fcb6b6 109px,#fdcccc 116px,#fffefe 122px,#d3d3fd 131px,#d9d9fe 187px)"></i><i style="background:linear-gradient(90deg,#ffffff 0px,#fef0f0 9px,#f9f9ff 15px,#e4e4fe 25px,#ffffff 32px,#fb9b9b 45px,#fba3a3 51px,#fffcfc 60px,#4a4af8 77px,#3e3ef7 83px,#6d6df9 89px,#fffdfd 99px,#fca8a8 106px,#fb9494 112px,#fdc4c4 119px,#fffdfd 125px,#d8d8fd 134px,#d9d9fe 187px)"></i><i style="background:linear-gradient(90deg,#fff7f7 0px,#fee4e4 8px,#fbfbff 16px,#eaeafe 25px,#fefeff 30px,#f97171 45px,#fa7373 50px,#fcbcbc 57px,#fbfbff 62px,#5353f8 75px,#3030f7 81px,#4545f8 86px,#a2a2fb 93px,#f8f8ff 98px,#fee4e4 100px,#fa8787 107px,#fa7575 112px,#fb9d9d 118px,#fffdfd 127px,#dadafe 137px,#d9d9fe 187px)"></i><i style="background:linear-gradient(90deg,#fff2f2 0px,#fedddd 8px,#fbfbff 17px,#eeeefe 25px,#fffefe 29px,#fca8a8 37px,#f85858 44px,#f84e4e 49px,#fa8787 55px,#fff5f5 62px,#f9f9ff 63px,#5252f8 75px,#2e2ef7 81px,#4242f8 86px,#a3a3fb 93px,#ffffff 98px,#fa7d7d 106px,#f95d5d 111px,#f97272 116px,#fffafa 128px,#dadafe 139px,#d9d9fe 187px)"></i><i style="background:linear-gradient(90deg,#fef0f0 0px,#fedada 8px,#fdfdff 17px,#f1f1fe 25px,#fff9f9 29px,#fb9c9c 37px,#f84343 44px,#f73939 49px,#f96767 54px,#fffcfc 63px,#5757f8 75px,#3232f7 81px,#4747f8 86px,#a7a7fc 93px,#f2f2fe 97px,#fff8f8 98px,#f97070 106px,#f84c4c 111px,#f96262 116px,#fffbfb 129px,#dbdbfe 140px,#d9d9fe 187px)"></i><i style="background:linear-gradient(90deg,#fef1f1 0px,#fedbdb 8px,#fcfcff 17px,#f2f2fe 25px,#fffefe 28px,#fcb3b3 35px,#f73b3b 44px,#f72f2f 49px,#f95f5f 54px,#fff6f6 63px,#f7f7ff 64px,#6b6bf9 74px,#4040f7 80px,#4a4af8 85px,#8e8efb 91px,#f7f7ff 97px,#fee0e0 99px,#f96a6a 106px,#f84646 111px,#f95b5b 116px,#fff8f8 129px,#f8f8ff 131px,#dbdbfe 141px,#d9d9fe 187px)"></i><i style="background:linear-gradient(90deg,#fff5f5 0px,#fee1e1 8px,#fafaff 17px,#f1f1fe 25px,#ffffff 28px,#fcb4b4 35px,#f73d3d 44px,#f73232 49px,#f96060 54px,#fff4f4 63px,#fafaff 64px,#7777fa 74px,#5050f8 80px,#6060f9 86px,#b6b6fc 93px,#fbfbff 97px,#f96d6d 106px,#f84949 111px,#f95d5d 116px,#fff7f7 129px,#f8f8ff 131px,#dadafe 142px,#d9d9fe 187px)"></i><i style="background:linear-gradient(90deg,#fffcfc 0px,#feebeb 9px,#f9f9ff 16px,#f0f0fe 25px,#fffafa 29px,#fb9e9e 37px,#f84949 44px,#f73e3e 49px,#fa7878 55px,#fbfbff 64px,#8686fa 74px,#6262f9 81px,#7979fa 87px,#dcdcfe 95px,#fcfcff 97px,#f96c6c 107px,#f85454 112px,#fa7c7c 118px,#fff9f9 129px,#ededfe 133px,#d9d9fe 148px,#d9d9fe 187px)"></i><i style="background:linear-gradient(90deg,#fbfbff 0px,#fffbfb 11px,#ebebfe 24px,#fffefe 29px,#fb9e9e 38px,#f85858 45px,#f85858 50px,#fba3a3 57px,#fff7f7 63px,#fafaff 64px,#8e8efb 75px,#7777fa 82px,#9b9bfb 89px,#fcfcff 97px,#fa7d7d 107px,#f96868 112px,#fa8b8b 118px,#fffdfd 129px,#dcdcfe 140px,#d9d9fe 187px)"></i></div></div>
<svg width="1422" height="1150" viewBox="0 0 1422 1150" font-family='"Liberation Serif", serif'>
<text transform="translate(1 51) scale(0.998 1)" font-family='"Liberation Sans", sans-serif' font-weight="bold" font-size="44.3">A</text>
<text transform="translate(457.6 51) scale(0.954 1)" font-family='"Liberation Sans", sans-serif' font-weight="bold" font-size="44.3">B</text>
<text transform="translate(833.6 50.6) scale(0.961 1)" font-family='"Liberation Sans", sans-serif' font-weight="bold" font-size="42.8">C</text>
<text transform="translate(2.6 415.4) scale(0.958 1)" font-family='"Liberation Sans", sans-serif' font-weight="bold" font-size="43.6">D</text>
<text transform="translate(389.8 415.7) scale(0.947 1)" font-family='"Liberation Sans", sans-serif' font-weight="bold" font-size="42.7">E</text>
<text transform="translate(699.6 415.5) scale(0.93 1)" font-family='"Liberation Sans", sans-serif' font-weight="bold" font-size="43.3">F</text>
<text transform="translate(988.2 415.2) scale(1.03 1)" font-family='"Liberation Sans", sans-serif' font-weight="bold" font-size="42">G</text>
<text transform="translate(989.1 612.8) scale(1.03 1)" font-family='"Liberation Sans", sans-serif' font-weight="bold" font-size="42">H</text>
<text transform="translate(10.6 824.6) scale(1.03 1)" font-family='"Liberation Sans", sans-serif' font-weight="bold" font-size="42.4">I</text>
<text transform="translate(561.1 840) scale(0.945 1)" font-family='"Liberation Sans", sans-serif' font-weight="bold" font-size="43.8">J</text>
<text transform="translate(557.5 939.6) scale(0.965 1)" font-family='"Liberation Sans", sans-serif' font-weight="bold" font-size="44">K</text>
<text transform="translate(215 897.4) scale(1.003 1)" font-family='"Liberation Sans", sans-serif' font-weight="bold" font-size="39.4">J</text>
<text transform="translate(278.8 896.2) scale(1.015 1)" font-family='"Liberation Sans", sans-serif' font-weight="bold" font-size="39.1">K</text>
<polygon points="180.4,15.6 264.3,64.1 264.3,160.9 180.4,209.4 96.5,160.9 96.5,64" fill="#cce0ff" stroke="none" stroke-width="1" />
<polygon points="349.2,15.6 433.1,64.1 433.1,160.9 349.2,209.4 265.3,160.9 265.3,64" fill="#cce0ff" stroke="none" stroke-width="1" />
<polygon points="96.8,162.3 180.7,210.8 180.7,307.6 96.8,356.1 12.9,307.6 12.9,210.7" fill="#cce0ff" stroke="none" stroke-width="1" />
<polygon points="265,162.3 348.9,210.8 348.9,307.6 265,356.1 181.1,307.6 181.1,210.7" fill="#cce0ff" stroke="none" stroke-width="1" />
<circle cx="180.4" cy="112.5" r="50.4" fill="none" stroke="#0000ff" stroke-width="33.4"/>
<circle cx="349.2" cy="112.5" r="50.4" fill="none" stroke="#0000ff" stroke-width="33.4"/>
<circle cx="96.8" cy="259.2" r="50.4" fill="none" stroke="#0000ff" stroke-width="33.4"/>
<circle cx="265" cy="259.2" r="50.4" fill="none" stroke="#0000ff" stroke-width="33.4"/>
<path d="M95 260.5L264.7 257.7" stroke="#000" stroke-width="2.2"/>
<polygon points="272.5,257.6 259.6,261.4 263.4,257.7 259.4,254.2" fill="#000" stroke="none" stroke-width="1" />
<path d="M95 260.5L177.1 117.3" stroke="#000" stroke-width="2.2"/>
<polygon points="181,110.5 177.7,123.6 176.5,118.4 171.4,120" fill="#000" stroke="none" stroke-width="1" />
<text x="166" y="295.5" font-size="38" font-weight="bold">a</text>
<text x="185.5" y="302" font-size="21">1</text>
<text x="101" y="188.5" font-size="38" font-weight="bold">a</text>
<text x="118" y="196" font-size="21">2</text>
<path d="M169.5 272.5L184.9 272.5" stroke="#000" stroke-width="1.8"/>
<polygon points="188.5,272.5 182.5,275.5 184.3,272.5 182.5,269.5" fill="#000" stroke="none" stroke-width="1" />
<path d="M104.5 166L119.9 166" stroke="#000" stroke-width="1.8"/>
<polygon points="123.5,166 117.5,169 119.3,166 117.5,163" fill="#000" stroke="none" stroke-width="1" />
<text x="172.5" y="102.5" font-size="40" font-style="italic" font-weight="bold" fill="#3d6fe0">&#949;</text>
<text x="189" y="107.5" font-size="21" font-style="italic" fill="#3d6fe0">1</text>
<text x="204" y="86.5" font-size="40" font-style="italic" font-weight="bold" fill="#fff">&#949;</text>
<text x="220" y="91.5" font-size="21" font-style="italic" fill="#fff">2</text>
<path d="M348.6 113.3L365.1 90.4" stroke="#ff0000" stroke-width="3.2"/>
<polygon points="369,85 366.6,96.8 364.5,91.2 358.5,91" fill="#ff0000" stroke="none" stroke-width="1" />
<path d="M348.6 113.3L396.9 153.8" stroke="#ff0000" stroke-width="3.2"/>
<polygon points="402,158 390.4,154.8 396.1,153.1 396.8,147.1" fill="#ff0000" stroke="none" stroke-width="1" />
<text x="329.8" y="98.6" font-size="21" font-weight="bold" fill="#ff0000">R</text>
<text x="345.3" y="103.5" font-size="14.5" font-weight="bold" fill="#ff0000">2</text>
<text x="369" y="158.5" font-size="21" font-weight="bold" fill="#ff0000">R</text>
<text x="384.8" y="162.6" font-size="14.5" font-weight="bold" fill="#ff0000">1</text>
<circle cx="389.3" cy="290.7" r="8.6" fill="none" stroke="#000" stroke-width="2"/>
<path d="M389 290.7L389 242.5" stroke="#000" stroke-width="2"/>
<polygon points="389,236.5 392,246.5 389,243.5 386,246.5" fill="#000" stroke="none" stroke-width="1" />
<path d="M389.3 290.7L433 290.7" stroke="#000" stroke-width="2"/>
<polygon points="439,290.7 429,293.7 432,290.7 429,287.7" fill="#000" stroke="none" stroke-width="1" />
<text x="366" y="241" font-size="24" >y</text>
<text x="364.5" y="297" font-size="24" >z</text>
<text x="442" y="297.5" font-size="24" >x</text>
<path d="M535.7 258.3 537.2 258.4 538.7 258.4 540.2 258.5 541.7 258.6 543.3 258.7 544.8 258.9 546.3 259.1 547.8 259.3 549.3 259.5 550.8 259.8 552.3 260.2 553.8 260.6 555.3 261 556.8 261.5 558.4 262.1 559.9 262.7 561.4 263.3 562.9 264 564.4 264.7 565.9 265.4 567.4 266.2 568.9 267 570.4 267.9 572 268.8 573.5 269.7 575 270.7 576.5 271.7 578 272.7 579.5 273.7 581 274.7 582.5 275.7 584 276.8 585.6 277.8 587.1 278.9 588.6 279.9 590.1 281 591.6 282 593.1 283.1 594.6 284.2 596.1 285.3 597.6 286.4 599.1 287.6 600.7 288.7 602.2 290 603.7 291.2 605.2 292.5 606.7 293.8 608.2 295.2 609.7 296.6 611.2 298 612.7 299.5 614.3 301.1 615.8 302.6 617.3 304.2 618.8 305.9 620.3 307.5 621.8 309.2 623.3 311 624.8 312.8 626.3 314.6 627.9 316.4 629.4 318.3 630.9 320.2 632.4 322.1 633.9 324.1 635.4 326 636.9 328 638.4 330 639.9 332 641.4 334.1 643 336.1 644.5 338.1 646 340.2 647.5 342.2 649 344.3" stroke="#000" stroke-width="1.55" fill="none" />
<path d="M649 344.3 650.5 342.6 652 340.9 653.6 339.2 655.1 337.4 656.6 335.7 658.1 334.1 659.6 332.4 661.2 330.7 662.7 329 664.2 327.4 665.7 325.8 667.2 324.2 668.8 322.6 670.3 321 671.8 319.4 673.3 317.8 674.8 316.3 676.4 314.7 677.9 313.1 679.4 311.5 680.9 309.8 682.4 308.2 684 306.5 685.5 304.9 687 303.2 688.5 301.5 690 299.8 691.6 298.2 693.1 296.6 694.6 295 696.1 293.4 697.6 291.9 699.2 290.5 700.7 289 702.2 287.7 703.7 286.3 705.2 285 706.8 283.6 708.3 282.4 709.8 281.1 711.3 279.9 712.8 278.6 714.4 277.4 715.9 276.3 717.4 275.1 718.9 274 720.4 273 722 271.9 723.5 270.9 725 270 726.5 269.1 728 268.2 729.6 267.4 731.1 266.7 732.6 266 734.1 265.3 735.6 264.7 737.2 264.2 738.7 263.7 740.2 263.3 741.7 262.9 743.2 262.6 744.8 262.3 746.3 262 747.8 261.8" stroke="#000" stroke-width="1.55" fill="none" />
<path d="M535.7 192.3 537.2 193 538.7 193.7 540.2 194.4 541.7 195.1 543.2 195.8 544.7 196.4 546.2 197.1 547.7 197.6 549.2 198.2 550.7 198.7 552.2 199.1 553.8 199.6 555.3 199.9 556.8 200.2 558.3 200.5 559.8 200.7 561.3 200.9 562.8 201.1 564.3 201.2 565.8 201.3 567.3 201.3 568.8 201.3 570.3 201.3 571.8 201.2 573.3 201.1 574.8 200.9 576.3 200.7 577.8 200.5 579.3 200.3 580.8 200 582.3 199.8 583.8 199.4 585.3 199.1 586.8 198.7 588.3 198.4 589.9 198 591.4 197.5 592.9 197.1 594.4 196.6 595.9 196.2 597.4 195.7 598.9 195.2 600.4 194.7 601.9 194.1 603.4 193.6 604.9 193 606.4 192.5 607.9 191.9 609.4 191.4 610.9 190.8 612.4 190.2 613.9 189.6 615.4 189 616.9 188.4 618.4 187.8 619.9 187.2 621.4 186.6 622.9 185.9 624.5 185.3 626 184.6 627.5 184 629 183.4 630.5 182.8 632 182.2 633.5 181.7 635 181.2 636.5 180.7 638 180.3 639.5 179.9 641 179.6 642.5 179.3 644 179.1 645.5 178.9 647 178.8 648.5 178.7 650 178.7 651.5 178.7 653 178.8 654.5 179 656 179.2 657.5 179.5 659 179.8 660.6 180.2 662.1 180.6 663.6 181.1 665.1 181.7 666.6 182.3 668.1 182.9 669.6 183.6 671.1 184.2 672.6 184.9 674.1 185.6 675.6 186.3 677.1 186.9 678.6 187.6 680.1 188.2 681.6 188.8 683.1 189.4 684.6 190 686.1 190.6 687.6 191.2 689.1 191.8 690.6 192.4 692.1 192.9 693.6 193.5 695.2 194 696.7 194.6 698.2 195.1 699.7 195.7 701.2 196.2 702.7 196.8 704.2 197.3 705.7 197.8 707.2 198.4 708.7 198.9 710.2 199.4 711.7 199.9 713.2 200.5 714.7 201 716.2 201.5 717.7 202 719.2 202.5 720.7 202.9 722.2 203.4 723.7 203.8 725.2 204.3 726.7 204.7 728.2 205.1 729.7 205.5 731.3 205.9 732.8 206.3 734.3 206.7 735.8 207 737.3 207.4 738.8 207.7 740.3 208.1 741.8 208.4 743.3 208.7 744.8 209.1 746.3 209.4 747.8 209.7" stroke="#22dd22" stroke-width="1.55" fill="none" />
<path d="M535.7 192.2 537.2 191.3 538.7 190.5 540.2 189.6 541.7 188.7 543.2 187.9 544.7 187 546.2 186.2 547.7 185.3 549.2 184.5 550.7 183.7 552.2 182.9 553.8 182.1 555.3 181.3 556.8 180.5 558.3 179.7 559.8 179 561.3 178.3 562.8 177.6 564.3 176.9 565.8 176.2 567.3 175.6 568.8 175 570.3 174.4 571.8 173.9 573.3 173.4 574.8 172.9 576.3 172.5 577.8 172.1 579.3 171.7 580.8 171.3 582.3 171 583.8 170.7 585.3 170.4 586.8 170.1 588.3 169.8 589.9 169.5 591.4 169.3 592.9 169 594.4 168.8 595.9 168.5 597.4 168.3 598.9 168.1 600.4 167.8 601.9 167.6 603.4 167.4 604.9 167.2 606.4 167 607.9 166.8 609.4 166.6 610.9 166.4 612.4 166.2 613.9 166.1 615.4 165.9 616.9 165.7 618.4 165.6 619.9 165.4 621.4 165.3 622.9 165.2 624.5 165.1 626 165 627.5 164.9 629 164.8 630.5 164.7 632 164.6 633.5 164.6 635 164.5 636.5 164.5 638 164.4 639.5 164.3 641 164.3 642.5 164.2 644 164.1 645.5 164.1 647 164 648.5 163.9 650 163.9 651.5 163.8 653 163.8 654.5 163.8 656 163.8 657.5 163.9 659 163.9 660.6 163.9 662.1 164 663.6 164.1 665.1 164.2 666.6 164.2 668.1 164.3 669.6 164.4 671.1 164.5 672.6 164.6 674.1 164.7 675.6 164.8 677.1 164.9 678.6 165 680.1 165.1 681.6 165.2 683.1 165.3 684.6 165.4 686.1 165.5 687.6 165.6 689.1 165.7 690.6 165.8 692.1 165.8 693.6 165.9 695.2 166 696.7 166.1 698.2 166.2 699.7 166.3 701.2 166.3 702.7 166.4 704.2 166.5 705.7 166.6 707.2 166.6 708.7 166.7 710.2 166.8 711.7 166.9 713.2 166.9 714.7 167 716.2 167.1 717.7 167.1 719.2 167.2 720.7 167.2 722.2 167.3 723.7 167.4 725.2 167.4 726.7 167.5 728.2 167.6 729.7 167.6 731.3 167.7 732.8 167.7 734.3 167.8 735.8 167.8 737.3 167.9 738.8 168 740.3 168 741.8 168.1 743.3 168.1 744.8 168.2 746.3 168.2 747.8 168.3" stroke="#2222ff" stroke-width="1.55" fill="none" />
<path d="M535.7 120.3 537.2 120.9 538.7 121.6 540.2 122.2 541.7 122.9 543.2 123.5 544.7 124.2 546.2 124.9 547.7 125.5 549.2 126.2 550.7 126.9 552.2 127.7 553.8 128.4 555.3 129.1 556.8 129.9 558.3 130.6 559.8 131.4 561.3 132.2 562.8 132.9 564.3 133.7 565.8 134.5 567.3 135.2 568.8 136 570.3 136.7 571.8 137.4 573.3 138.1 574.8 138.8 576.3 139.5 577.8 140.1 579.3 140.8 580.8 141.4 582.3 142 583.8 142.6 585.3 143.2 586.8 143.8 588.3 144.4 589.9 144.9 591.4 145.5 592.9 146.1 594.4 146.6 595.9 147.2 597.4 147.8 598.9 148.4 600.4 148.9 601.9 149.5 603.4 150.1 604.9 150.7 606.4 151.3 607.9 151.9 609.4 152.5 610.9 153.2 612.4 153.8 613.9 154.4 615.4 155.1 616.9 155.7 618.4 156.4 619.9 157 621.4 157.6 622.9 158.2 624.5 158.8 626 159.4 627.5 160 629 160.5 630.5 161 632 161.5 633.5 161.9 635 162.4 636.5 162.7 638 163.1 639.5 163.4 641 163.6 642.5 163.8 644 163.9 645.5 164 647 164 648.5 164 650 163.9 651.5 163.8 653 163.6 654.5 163.3 656 163 657.5 162.7 659 162.3 660.6 161.8 662.1 161.3 663.6 160.7 665.1 160.2 666.6 159.6 668.1 159 669.6 158.4 671.1 157.8 672.6 157.1 674.1 156.5 675.6 155.9 677.1 155.3 678.6 154.7 680.1 154.1 681.6 153.5 683.1 152.9 684.6 152.3 686.1 151.7 687.6 151.1 689.1 150.5 690.6 149.8 692.1 149.2 693.6 148.6 695.2 148 696.7 147.4 698.2 146.7 699.7 146.1 701.2 145.5 702.7 144.8 704.2 144.2 705.7 143.6 707.2 143 708.7 142.3 710.2 141.7 711.7 141.1 713.2 140.6 714.7 140 716.2 139.4 717.7 138.8 719.2 138.3 720.7 137.7 722.2 137.2 723.7 136.7 725.2 136.2 726.7 135.6 728.2 135.1 729.7 134.6 731.3 134.2 732.8 133.7 734.3 133.2 735.8 132.8 737.3 132.4 738.8 132 740.3 131.5 741.8 131.1 743.3 130.8 744.8 130.4 746.3 130 747.8 129.6" stroke="#2222ff" stroke-width="1.55" fill="none" />
<path d="M535.7 120.3 537.2 119.9 538.7 119.4 540.2 119 541.7 118.6 543.2 118.1 544.7 117.7 546.2 117.3 547.7 116.8 549.2 116.4 550.7 115.9 552.2 115.4 553.8 115 555.3 114.5 556.8 114 558.3 113.5 559.8 113 561.3 112.5 562.8 111.9 564.3 111.4 565.8 110.9 567.3 110.3 568.8 109.7 570.3 109.2 571.8 108.6 573.3 108 574.8 107.4 576.3 106.8 577.8 106.1 579.3 105.5 580.8 104.8 582.3 104.1 583.8 103.5 585.3 102.7 586.8 102 588.3 101.3 589.9 100.5 591.4 99.7 592.9 98.9 594.4 98.1 595.9 97.2 597.4 96.4 598.9 95.5 600.4 94.6 601.9 93.7 603.4 92.7 604.9 91.8 606.4 90.8 607.9 89.8 609.4 88.9 610.9 87.9 612.4 86.9 613.9 86 615.4 85.1 616.9 84.2 618.4 83.3 619.9 82.5 621.4 81.6 622.9 80.9 624.5 80.1 626 79.4 627.5 78.7 629 78.1 630.5 77.6 632 77 633.5 76.5 635 76.1 636.5 75.7 638 75.4 639.5 75.1 641 74.8 642.5 74.7 644 74.5 645.5 74.4 647 74.4 648.5 74.4 650 74.4 651.5 74.5 653 74.6 654.5 74.8 656 75.1 657.5 75.4 659 75.8 660.6 76.2 662.1 76.7 663.6 77.2 665.1 77.9 666.6 78.5 668.1 79.2 669.6 80 671.1 80.9 672.6 81.8 674.1 82.7 675.6 83.7 677.1 84.7 678.6 85.8 680.1 86.9 681.6 88 683.1 89.1 684.6 90.3 686.1 91.5 687.6 92.7 689.1 93.9 690.6 95.1 692.1 96.3 693.6 97.5 695.2 98.7 696.7 99.9 698.2 101.1 699.7 102.2 701.2 103.4 702.7 104.5 704.2 105.6 705.7 106.6 707.2 107.6 708.7 108.6 710.2 109.6 711.7 110.5 713.2 111.4 714.7 112.2 716.2 113 717.7 113.8 719.2 114.5 720.7 115.2 722.2 115.9 723.7 116.5 725.2 117.1 726.7 117.7 728.2 118.2 729.7 118.7 731.3 119.2 732.8 119.7 734.3 120.1 735.8 120.5 737.3 120.9 738.8 121.3 740.3 121.7 741.8 122.1 743.3 122.4 744.8 122.8 746.3 123.2 747.8 123.5" stroke="#ff2222" stroke-width="1.55" fill="none" />
<path d="M535.7 68.7 537.2 68.3 538.7 68 540.2 67.6 541.7 67.2 543.2 66.9 544.7 66.5 546.2 66.2 547.7 65.9 549.2 65.6 550.7 65.4 552.2 65.2 553.8 65 555.3 64.9 556.8 64.8 558.3 64.8 559.8 64.8 561.3 64.9 562.8 65 564.3 65.2 565.8 65.4 567.3 65.6 568.8 65.9 570.3 66.1 571.8 66.4 573.3 66.7 574.8 67 576.3 67.3 577.8 67.5 579.3 67.8 580.8 68.1 582.3 68.4 583.8 68.7 585.3 68.9 586.8 69.2 588.3 69.5 589.9 69.7 591.4 70 592.9 70.2 594.4 70.4 595.9 70.6 597.4 70.9 598.9 71.1 600.4 71.3 601.9 71.5 603.4 71.7 604.9 71.9 606.4 72.1 607.9 72.2 609.4 72.4 610.9 72.6 612.4 72.8 613.9 72.9 615.4 73.1 616.9 73.3 618.4 73.4 619.9 73.6 621.4 73.7 622.9 73.8 624.5 73.9 626 74.1 627.5 74.2 629 74.3 630.5 74.3 632 74.4 633.5 74.5 635 74.5 636.5 74.6 638 74.6 639.5 74.6 641 74.6 642.5 74.6 644 74.6 645.5 74.5 647 74.5 648.5 74.5 650 74.4 651.5 74.3 653 74.3 654.5 74.2 656 74.1 657.5 74.1 659 74 660.6 73.9 662.1 73.8 663.6 73.7 665.1 73.6 666.6 73.5 668.1 73.3 669.6 73.2 671.1 73 672.6 72.9 674.1 72.7 675.6 72.5 677.1 72.3 678.6 72.1 680.1 71.9 681.6 71.7 683.1 71.5 684.6 71.3 686.1 71 687.6 70.8 689.1 70.6 690.6 70.3 692.1 70.1 693.6 69.8 695.2 69.6 696.7 69.4 698.2 69.1 699.7 68.9 701.2 68.7 702.7 68.4 704.2 68.2 705.7 68 707.2 67.8 708.7 67.6 710.2 67.4 711.7 67.2 713.2 67 714.7 66.8 716.2 66.6 717.7 66.4 719.2 66.2 720.7 66 722.2 65.8 723.7 65.6 725.2 65.5 726.7 65.3 728.2 65.2 729.7 65 731.3 64.9 732.8 64.8 734.3 64.7 735.8 64.6 737.3 64.5 738.8 64.4 740.3 64.3 741.8 64.3 743.3 64.2 744.8 64.1 746.3 64.1 747.8 64" stroke="#ff2222" stroke-width="1.55" fill="none" />
<path d="M535.7 61.2 537.2 61 538.7 60.8 540.2 60.5 541.7 60.3 543.2 60.1 544.7 59.9 546.2 59.7 547.7 59.4 549.2 59.2 550.7 59 552.2 58.8 553.8 58.5 555.3 58.3 556.8 58.1 558.3 57.8 559.8 57.6 561.3 57.4 562.8 57.1 564.3 56.9 565.8 56.7 567.3 56.4 568.8 56.2 570.3 55.9 571.8 55.7 573.3 55.4 574.8 55.2 576.3 55 577.8 54.7 579.3 54.5 580.8 54.2 582.3 53.9 583.8 53.7 585.3 53.4 586.8 53.1 588.3 52.8 589.9 52.5 591.4 52.2 592.9 51.9 594.4 51.6 595.9 51.2 597.4 50.9 598.9 50.6 600.4 50.2 601.9 49.8 603.4 49.5 604.9 49.1 606.4 48.7 607.9 48.3 609.4 47.9 610.9 47.6 612.4 47.2 613.9 46.8 615.4 46.4 616.9 46 618.4 45.5 619.9 45.1 621.4 44.7 622.9 44.3 624.5 43.9 626 43.5 627.5 43.2 629 42.8 630.5 42.4 632 42 633.5 41.7 635 41.3 636.5 40.9 638 40.6 639.5 40.3 641 40 642.5 39.7 644 39.4 645.5 39.2 647 39 648.5 38.8 650 38.7 651.5 38.7 653 38.8 654.5 38.9 656 39 657.5 39.2 659 39.4 660.6 39.7 662.1 39.9 663.6 40.2 665.1 40.6 666.6 40.9 668.1 41.3 669.6 41.7 671.1 42.1 672.6 42.5 674.1 43 675.6 43.4 677.1 43.9 678.6 44.4 680.1 44.9 681.6 45.4 683.1 45.9 684.6 46.4 686.1 47 687.6 47.5 689.1 48 690.6 48.6 692.1 49.1 693.6 49.7 695.2 50.2 696.7 50.7 698.2 51.2 699.7 51.7 701.2 52.2 702.7 52.7 704.2 53.2 705.7 53.6 707.2 54.1 708.7 54.5 710.2 54.9 711.7 55.3 713.2 55.6 714.7 56 716.2 56.3 717.7 56.6 719.2 56.9 720.7 57.2 722.2 57.5 723.7 57.7 725.2 58 726.7 58.2 728.2 58.4 729.7 58.6 731.3 58.8 732.8 59 734.3 59.1 735.8 59.3 737.3 59.4 738.8 59.5 740.3 59.6 741.8 59.7 743.3 59.8 744.8 59.8 746.3 59.9 747.8 60" stroke="#8a2ea8" stroke-width="1.55" fill="none" />
<rect x="535.7" y="26.1" width="212.0999999999999" height="318.7" fill="none" stroke="#444" stroke-width="1.5"/>
<path d="M535.7 132.2h2.5M747.8 132.2h-2.5" stroke="#444" stroke-width="1.2"/>
<path d="M535.7 238.5h2.5M747.8 238.5h-2.5" stroke="#444" stroke-width="1.2"/>
<text x="530.5" y="31.6" font-size="16" fill="#222" text-anchor="end" >.2</text>
<text x="530.5" y="137.7" font-size="16" fill="#222" text-anchor="end" >0.8</text>
<text x="530.5" y="244" font-size="16" fill="#222" text-anchor="end" >0.4</text>
<text x="530.5" y="350.3" font-size="16" fill="#222" text-anchor="end" >0</text>
<text x="752.5" y="31.6" font-size="16" fill="#222" >1.2</text>
<text x="752.5" y="137.7" font-size="16" fill="#222" >0.8</text>
<text x="752.5" y="244" font-size="16" fill="#222" >0.4</text>
<text x="752.5" y="350.3" font-size="16" fill="#222" >0</text>
<text x="536.3" y="368.3" font-size="17" fill="#222" text-anchor="middle" >K</text>
<text x="651.7" y="367.4" font-size="17" fill="#222" text-anchor="middle" >&#915;</text>
<text x="750.5" y="368.3" font-size="17" fill="#222" text-anchor="middle" >M</text>
<text x="642" y="58.5" font-size="21" fill="#8a2ea8" font-style="italic" text-anchor="middle" >f</text>
<text x="643" y="96.5" font-size="21" fill="#ff2222" font-style="italic" text-anchor="middle" >d</text>
<text x="646" y="155.5" font-size="21" fill="#2222ff" font-style="italic" text-anchor="middle" >p</text>
<text x="645" y="193" font-size="21" fill="#22dd22" font-style="italic" text-anchor="middle" >s</text>
<polygon points="630.4,251.2 659.7,251.2 673.9,276.8 659.7,302.2 630.4,302.2 615.7,276.8" fill="none" stroke="#555" stroke-width="1" />
<path d="M644.3 276.8H673.9M644.3 276.8L667.8 264.8" stroke="#555" stroke-width="1" stroke-dasharray="1.5 1.5"/>
<text x="640.3" y="280.4" font-size="9.5" fill="#333" text-anchor="middle" >&#915;</text>
<text x="672" y="264" font-size="9.5" fill="#333" text-anchor="middle" >M</text>
<text x="678.2" y="281.3" font-size="9.5" fill="#333" text-anchor="middle" >K</text>
<text transform="translate(797 277.7) rotate(-90)" font-size="20.5" fill="#222" >Frequency (&#969;<tspan font-style="italic">a</tspan><tspan font-size="70%" dy="0.25em">1</tspan><tspan dy="-0.25em">/2&#960;c)</tspan></text>
<rect x="931.1" y="40.1" width="282.8" height="283.6" fill="none" stroke="#333" stroke-width="1.8"/>
<path d="M935.2 40.1v3M935.2 323.7v-3M931.1 318.7h3M1213.9 318.7h-3M990.1 40.1v3M990.1 323.7v-3M931.1 264.1h3M1213.9 264.1h-3M1044.9 40.1v3M1044.9 323.7v-3M931.1 209.5h3M1213.9 209.5h-3M1099.8 40.1v3M1099.8 323.7v-3M931.1 154.9h3M1213.9 154.9h-3M1154.6 40.1v3M1154.6 323.7v-3M931.1 100.3h3M1213.9 100.3h-3M1209.5 40.1v3M1209.5 323.7v-3M931.1 45.7h3M1213.9 45.7h-3" stroke="#333" stroke-width="1"/>
<text x="935.2" y="31.4" font-size="14" fill="#555" text-anchor="middle" >0</text>
<text x="935.2" y="342.2" font-size="14" fill="#555" text-anchor="middle" >0</text>
<text x="925.8" y="323.5" font-size="14" fill="#555" text-anchor="end" >0</text>
<text x="1219.2" y="323.5" font-size="14" fill="#555" >0</text>
<text x="990.1" y="31.4" font-size="14" fill="#555" text-anchor="middle" >0.1</text>
<text x="990.1" y="342.2" font-size="14" fill="#555" text-anchor="middle" >0.1</text>
<text x="925.8" y="268.9" font-size="14" fill="#555" text-anchor="end" >0.1</text>
<text x="1219.2" y="268.9" font-size="14" fill="#555" >0.1</text>
<text x="1044.9" y="31.4" font-size="14" fill="#555" text-anchor="middle" >0.2</text>
<text x="1044.9" y="342.2" font-size="14" fill="#555" text-anchor="middle" >0.2</text>
<text x="925.8" y="214.3" font-size="14" fill="#555" text-anchor="end" >0.2</text>
<text x="1219.2" y="214.3" font-size="14" fill="#555" >0.2</text>
<text x="1099.8" y="31.4" font-size="14" fill="#555" text-anchor="middle" >0.3</text>
<text x="1099.8" y="342.2" font-size="14" fill="#555" text-anchor="middle" >0.3</text>
<text x="925.8" y="159.7" font-size="14" fill="#555" text-anchor="end" >0.3</text>
<text x="1219.2" y="159.7" font-size="14" fill="#555" >0.3</text>
<text x="1154.6" y="31.4" font-size="14" fill="#555" text-anchor="middle" >0.4</text>
<text x="1154.6" y="342.2" font-size="14" fill="#555" text-anchor="middle" >0.4</text>
<text x="925.8" y="105.1" font-size="14" fill="#555" text-anchor="end" >0.4</text>
<text x="1219.2" y="105.1" font-size="14" fill="#555" >0.4</text>
<text x="1209.5" y="31.4" font-size="14" fill="#555" text-anchor="middle" >0.5</text>
<text x="1209.5" y="342.2" font-size="14" fill="#555" text-anchor="middle" >0.5</text>
<text x="925.8" y="50.5" font-size="14" fill="#555" text-anchor="end" >0.5</text>
<text x="1219.2" y="50.5" font-size="14" fill="#555" >0.5</text>
<text x="1055.7" y="16.5" font-size="17" font-weight="bold" fill="#222">R<tspan font-size="11" dy="3">2</tspan><tspan dy="-3">/a</tspan><tspan font-size="11" dy="3">1</tspan></text>
<text x="881" y="180.5" font-size="17" font-weight="bold" fill="#222">R<tspan font-size="11" dy="3">1</tspan><tspan dy="-3">/a</tspan><tspan font-size="11" dy="3">1</tspan></text>
<text x="1055.7" y="355.5" font-size="17" font-weight="bold" fill="#222">R<tspan font-size="11" dy="3">1</tspan><tspan dy="-3">/a</tspan><tspan font-size="11" dy="3">1</tspan></text>
<text x="1231.5" y="186.5" font-size="17" font-weight="bold" fill="#222">R<tspan font-size="11" dy="3">2</tspan><tspan dy="-3">/a</tspan><tspan font-size="11" dy="3">1</tspan></text>
<path d="M935.2 318.7L1209.5 45.7" stroke="#111" stroke-width="2" stroke-dasharray="7 5"/>
<path d="M1001.4 44.8 1005.2 45.7 1009 46.7 1012.8 47.9 1016.7 49.2 1020.6 50.5 1024.5 52 1028.5 53.6 1032.4 55.2 1036.4 56.9 1040.4 58.7 1044.6 60.8 1048.9 63.1 1053.3 65.6 1057.7 68.3 1062.1 71.1 1066.4 73.9 1070.6 76.7 1074.6 79.3 1078.3 81.7 1081.7 83.9 1084.9 86 1088.1 88 1091 89.9 1093.9 91.8 1096.7 93.7 1099.4 95.5 1102.1 97.3 1104.7 99.1 1107.4 100.9 1110 102.8 1112.5 104.6 1115.1 106.4 1117.6 108.2 1120 110 1122.4 111.8 1124.8 113.6 1127.1 115.4 1129.4 117.1 1131.6 118.9" stroke="#111" stroke-width="2.2" fill="none" stroke-linecap="round"/>
<path d="M1137.1 124.9 1139.5 126.6 1141.9 128.5 1144.4 130.4 1146.7 132.4 1149.1 134.4 1151.5 136.5 1153.8 138.7 1156.1 141 1158.4 143.3 1160.7 145.7 1163 148.2 1165.3 150.8 1167.7 153.5 1170 156.4 1172.3 159.3 1174.5 162.2 1176.6 165.1 1178.7 168.1 1180.6 170.9 1182.4 173.8 1184.1 176.5 1185.7 179.3 1187.3 182 1188.8 184.7 1190.3 187.5 1191.7 190.3 1193.1 193.2 1194.6 196.2 1196 199.4 1197.4 202.7 1198.8 206.2 1200.2 209.7 1201.6 213.4 1202.9 217.2 1204.3 221.2 1205.6 225.2 1206.9 229.3 1208.2 233.6 1209.5 237.9" stroke="#111" stroke-width="2.2" fill="none" stroke-linecap="round"/>
<path d="M1060 45.7 1062.7 46.9 1065.4 48.2 1068 49.4 1070.7 50.7 1073.4 52 1076 53.4 1078.6 54.7 1081.3 56.1 1083.9 57.5 1086.5 58.9 1089.1 60.3 1091.7 61.7 1094.3 63.2 1096.9 64.7 1099.6 66.2 1102.2 67.7 1104.9 69.3 1107.6 70.9 1110.3 72.5 1112.9 74.2 1115.5 75.8 1118 77.5 1120.5 79.1 1122.8 80.7 1125.1 82.3 1127.2 83.9 1129.2 85.5 1131.2 87.1 1133.2 88.6 1135.1 90.2 1137 91.8 1138.8 93.3 1140.5 94.9 1142.2 96.4 1143.8 98 1145.4 99.5 1146.9 101 1148.3 102.6 1149.7 104.1" stroke="#8e2aa0" stroke-width="2" fill="none" stroke-linecap="round"/>
<path d="M1160.1 107.9 1161.4 109.4 1162.7 110.8 1163.9 112.3 1165.2 113.8 1166.5 115.3 1167.7 116.8 1169 118.3 1170.3 119.8 1171.5 121.3 1172.8 122.9 1174.1 124.4 1175.3 126 1176.6 127.6 1177.9 129.2 1179.1 130.8 1180.4 132.4 1181.6 134.1 1182.9 135.7 1184.2 137.4 1185.4 139 1186.7 140.7 1188 142.4 1189.2 144.1 1190.5 145.9 1191.8 147.7 1193 149.4 1194.3 151.2 1195.6 153.1 1196.8 154.9 1198.1 156.8 1199.4 158.7 1200.6 160.6 1201.9 162.5 1203.2 164.5 1204.4 166.5 1205.7 168.5 1207 170.5 1208.2 172.5 1209.5 174.6" stroke="#8e2aa0" stroke-width="2" fill="none" stroke-linecap="round"/>
<path d="M1095.7 45.7 1097.7 46.5 1099.8 47.4 1101.9 48.2 1103.9 49.1 1106 50 1108.2 50.9 1110.3 51.8 1112.4 52.8 1114.6 53.7 1116.8 54.7 1119 55.7 1121.3 56.8 1123.7 57.9 1126 59 1128.4 60.1 1130.7 61.2 1133 62.3 1135.1 63.3 1137.2 64.3 1139.1 65.3 1141 66.2 1142.8 67 1144.5 67.8 1146.2 68.6 1147.8 69.4 1149.5 70.2 1151.1 71 1152.6 71.9 1154.2 72.8 1155.8 73.7 1157.4 74.6 1159 75.6 1160.5 76.6 1162.1 77.6 1163.6 78.6 1165.1 79.6 1166.5 80.7 1168 81.7 1169.5 82.8" stroke="#2233cc" stroke-width="2" fill="none" stroke-linecap="round"/>
<path d="M1128.9 45.7 1131.2 46.6 1133.5 47.4 1135.7 48.3 1137.9 49.1 1140 49.9 1142 50.7 1144 51.4 1146 52.2 1147.9 52.9 1149.7 53.6 1151.4 54.3 1153.1 54.9 1154.6 55.5 1156.2 56.1 1157.6 56.7 1159 57.2 1160.3 57.7 1161.6 58.2 1162.9 58.6 1164.1 59.1 1165.3 59.6 1166.5 60 1167.7 60.5 1168.8 61 1169.9 61.5 1171.1 62.1 1172.2 62.6 1173.4 63.2 1174.5 63.8 1175.6 64.4 1176.7 65 1177.8 65.6 1178.8 66.3 1179.9 66.9 1180.9 67.6 1181.9 68.2 1182.9 68.9 1183.9 69.6 1184.8 70.3" stroke="#e02020" stroke-width="2" fill="none" stroke-linecap="round"/>
<path d="M1193 66.4 1193.5 66.2 1194 65.9 1194.4 65.7 1194.9 65.4 1195.3 65.2 1195.8 64.9 1196.2 64.7 1196.6 64.5 1197.1 64.3 1197.5 64.1 1197.9 63.9 1198.3 63.8 1198.7 63.6 1199.1 63.5 1199.5 63.4 1199.9 63.3 1200.3 63.2 1200.7 63.2 1201.1 63.2 1201.5 63.2 1201.8 63.2 1202.2 63.2 1202.6 63.2 1202.9 63.2 1203.3 63.2 1203.6 63.2 1204 63.2 1204.3 63.2 1204.7 63.2 1205 63.3 1205.3 63.3 1205.7 63.3 1206 63.4 1206.3 63.4 1206.6 63.4 1206.9 63.5 1207.3 63.6 1207.6 63.6 1207.9 63.7" stroke="#e02020" stroke-width="2" fill="none" stroke-linecap="round"/>
<path d="M935.2 46.8 939 46.9 942.7 47.3 946.4 47.9 950.1 48.5 953.8 49.3 957.4 50.5 961 52.1 964.6 54.1 968.2 56.3 971.8 58.6 975.4 61 979 63.8 982.6 66.8 986.2 70 989.8 73.4 993.4 77 997 81 1000.6 85.1 1004.2 89.3 1007.8 93.5 1011.4 97.7 1015 102 1018.6 106.4 1022.2 110.8 1025.8 115.3 1029.4 120 1033 124.8 1036.6 129.6 1040.2 134.3 1043.8 138.7 1047.5 143.1 1051.1 147.3 1054.7 151.6 1058.2 156 1061.6 160.5 1064.9 165 1068.2 169.6 1071.4 174.2 1074.5 178.9" stroke="#33dd33" stroke-width="2.2" fill="none" stroke-linecap="round"/>
<path d="M1072.4 186 1070.5 191.8 1068.8 197.4 1067.4 202.7 1066.1 207.8 1065.1 212.7 1064 217.1 1063.2 221.5 1062.6 226 1062.5 230.9 1062.7 236.4 1063.2 242.2 1063.9 247.9 1064.7 253.2 1066.1 258.2 1068.5 263.2 1071.3 267.8 1074.2 271.4 1076.8 273.8 1079.3 275.6 1082 277.1 1085.2 278.7 1089.2 280.7 1094.7 283.1 1101.5 285.9 1108.9 288.7 1116.2 291.4 1123.9 294 1132.1 296.5 1140.1 299.1 1147.2 301.5 1152.9 303.9 1158.4 306.4 1163.2 308.7 1166.8 310.9 1168.9 312.7 1170.4 314.5 1171.6 316 1172.4 317.5 1172.7 318.7" stroke="#33dd33" stroke-width="2.2" fill="none" stroke-linecap="round"/>
<path d="M1037.8 318.7 1037.4 316.5 1037.1 314.2 1036.6 311.8 1036.2 309.2 1035.8 306.5 1035.3 303.7 1034.8 300.8 1034.2 297.5 1033.6 294 1033 290.4 1032.3 286.8 1031.7 283.4 1031.2 280.5 1030.7 277.9 1030.1 275.4 1029.6 273.2 1029.1 271 1028.7 268.9 1028.5 266.8 1028.5 264.7 1028.5 262.8 1028.6 260.9 1028.6 259.1 1028.7 257.2 1028.9 255.3 1029 253.2 1029.3 250.8 1029.8 248.2 1030.5 245.4 1031.2 242.6 1031.9 240 1032.6 237.8 1033.1 235.9 1033.6 234.2 1034 232.5 1034.5 231 1034.9 229.7 1035.2 228.5 1035.6 227.5" stroke="#2b2bc8" stroke-width="2" fill="none" stroke-linecap="round"/>
<circle cx="1037.8" cy="318.7" r="4.3" fill="#000"/>
<circle cx="1028.5" cy="265.7" r="4.3" fill="#000"/>
<circle cx="1087.7" cy="279.9" r="4.3" fill="#000"/>
<circle cx="1160.1" cy="107.9" r="4.3" fill="#000"/>
<circle cx="1181.5" cy="172.4" r="4.3" fill="#000"/>
<circle cx="1209.5" cy="64.3" r="4.3" fill="#000"/>
<g font-family='"Liberation Sans", sans-serif' font-weight="bold" font-size="12.5">
<text x="1023.3" y="317">A</text>
<text x="1016.5" y="273.5">B</text>
<text x="1093" y="278.5">D</text>
<text x="1165.5" y="109">E</text>
<text x="1177.5" y="188.7">F</text>
<text x="1196.5" y="77.4">C</text>
<text x="1142.2" y="181" fill="#e02020">G</text><text x="1168.4" y="147" fill="#e02020">H</text></g>
<polygon points="1152,180.5 1157.8,180.5 1154.9,174.5" fill="#e02020" stroke="none" stroke-width="1" />
<polygon points="1178.2,146.5 1184.2,146.5 1181.2,140.5" fill="#e02020" stroke="none" stroke-width="1" />
<path d="M1259.2 34.4H1279" stroke="#111" stroke-width="2.2" stroke-dasharray="4.5 3.2"/>
<text x="1286.1" y="38.4" font-size="13.2" fill="#222" >homogenous limit</text>
<path d="M1259.2 56.7H1279" stroke="#111" stroke-width="2.2"/>
<text x="1286.1" y="60.7" font-size="13.2" fill="#222" >p cross d</text>
<path d="M1259.2 79.4H1279" stroke="#2233cc" stroke-width="2.2"/>
<text x="1286.1" y="83.4" font-size="13.2" fill="#222" >s cross p</text>
<path d="M1259.2 102.2H1279" stroke="#8e2aa0" stroke-width="2.2"/>
<text x="1286.1" y="106.2" font-size="13.2" fill="#222" >f cross p</text>
<path d="M1259.2 125.1H1279" stroke="#33dd33" stroke-width="2.2"/>
<text x="1286.1" y="129.1" font-size="13.2" fill="#222" >s cross d</text>
<path d="M1259.2 147.9H1279" stroke="#e02020" stroke-width="2.2"/>
<text x="1286.1" y="151.9" font-size="13.2" fill="#222" >f cross d</text>
<text x="1297.7" y="175.5" font-size="10.5" fill="#666" >0.4</text>
<path d="M1290.5 171.7h2.5" stroke="#aaa" stroke-width="0.8"/>
<text x="1297.7" y="214.4" font-size="10.5" fill="#666" >0.2</text>
<path d="M1290.5 210.6h2.5" stroke="#aaa" stroke-width="0.8"/>
<text x="1297.7" y="251.8" font-size="10.5" fill="#666" >0</text>
<path d="M1290.5 248h2.5" stroke="#aaa" stroke-width="0.8"/>
<text x="1297.7" y="290.2" font-size="10.5" fill="#666" >&#8722;0.2</text>
<path d="M1290.5 286.4h2.5" stroke="#aaa" stroke-width="0.8"/>
<text x="1297.7" y="327.8" font-size="10.5" fill="#666" >&#8722;0.4</text>
<path d="M1290.5 324h2.5" stroke="#aaa" stroke-width="0.8"/>
<ellipse cx="95.5" cy="471.9" rx="60" ry="61.5" fill="none" stroke="#333" stroke-opacity="0.55" stroke-width="1"/>
<ellipse cx="95.5" cy="471.9" rx="40" ry="41" fill="none" stroke="#333" stroke-opacity="0.55" stroke-width="1"/>
<ellipse cx="269.2" cy="469.7" rx="60" ry="61.5" fill="none" stroke="#333" stroke-opacity="0.55" stroke-width="1"/>
<ellipse cx="269.2" cy="469.7" rx="40" ry="41" fill="none" stroke="#333" stroke-opacity="0.55" stroke-width="1"/>
<ellipse cx="99.4" cy="653.3" rx="60" ry="61.5" fill="none" stroke="#333" stroke-opacity="0.55" stroke-width="1"/>
<ellipse cx="99.4" cy="653.3" rx="40" ry="41" fill="none" stroke="#333" stroke-opacity="0.55" stroke-width="1"/>
<ellipse cx="273.1" cy="650.3" rx="60" ry="61.5" fill="none" stroke="#333" stroke-opacity="0.55" stroke-width="1"/>
<ellipse cx="273.1" cy="650.3" rx="40" ry="41" fill="none" stroke="#333" stroke-opacity="0.55" stroke-width="1"/>
<text x="151.6" y="547.1" font-size="40" font-style="italic">p<tspan font-size="31" dy="8" letter-spacing="0">x</tspan></text>
<text x="309.5" y="547.1" font-size="40" font-style="italic">p<tspan font-size="31" dy="8" letter-spacing="0">y</tspan></text>
<text x="144.8" y="726.5" font-size="40" font-style="italic">d<tspan font-size="31" dy="5" letter-spacing="4">xy</tspan></text>
<text y="734" font-size="40" font-style="italic"><tspan x="308.5">d</tspan><tspan x="331" font-size="31" dy="6">x</tspan><tspan x="346.5" font-size="21" dy="-14" font-style="normal">2</tspan><tspan x="362.5" font-size="31" dy="14" font-style="normal">&#8722;</tspan><tspan x="383.5" font-size="31">y</tspan><tspan x="403.5" font-size="21" dy="-14" font-style="normal">2</tspan></text>
<rect x="456.2" y="486.6" width="201.59999999999997" height="10.4" fill="#00ffff"/>
<path d="M456.2 568.5 457.2 569.9 458.2 571.2 459.2 572.6 460.2 573.9 461.2 575.3 462.2 576.7 463.3 578 464.3 579.4 465.3 580.8 466.3 582.1 467.3 583.5 468.3 584.9 469.3 586.2 470.3 587.6 471.3 589 472.3 590.4 473.3 591.8 474.3 593.2 475.3 594.6 476.3 595.9 477.4 597.3 478.4 598.7 479.4 600.1 480.4 601.5 481.4 602.9 482.4 604.3 483.4 605.7 484.4 607.2 485.4 608.6 486.4 610 487.4 611.4 488.4 612.9 489.4 614.3 490.5 615.7 491.5 617.1 492.5 618.6 493.5 620 494.5 621.4 495.5 622.9 496.5 624.3 497.5 625.8 498.5 627.2 499.5 628.6 500.5 630.1 501.5 631.5 502.5 632.9 503.6 634.4 504.6 635.8 505.6 637.2 506.6 638.7 507.6 640.1 508.6 641.5 509.6 642.9 510.6 644.3 511.6 645.8 512.6 647.2 513.6 648.6 514.6 650 515.6 651.4 516.6 652.8 517.7 654.2 518.7 655.6 519.7 657.1 520.7 658.5 521.7 659.9 522.7 661.3 523.7 662.7 524.7 664.1 525.7 665.5 526.7 666.9 527.7 668.3 528.7 669.7 529.7 671.1 530.8 672.5 531.8 673.9 532.8 675.3 533.8 676.8 534.8 678.2 535.8 679.6 536.8 681 537.8 682.4 538.8 683.8 539.8 685.2 540.8 686.7 541.8 688.1 542.8 689.5 543.9 690.9 544.9 692.4 545.9 693.8 546.9 695.2 547.9 696.6 548.9 698.1 549.9 699.5 550.9 700.9 551.9 702.4 552.9 703.8 553.9 705.2 554.9 706.7 555.9 708.1 556.9 709.5 558 711 559 712.4 560 713.8 561 715.3 562 716.7 563 718.2 564 719.6" stroke="#222" stroke-width="1.1" fill="none" />
<path d="M564 719.6 565 718.4 566 717.3 567 716.1 568 714.9 569 713.7 570.1 712.5 571.1 711.3 572.1 710.2 573.1 709 574.1 707.8 575.1 706.5 576.1 705.3 577.1 704.1 578.1 702.9 579.1 701.7 580.1 700.5 581.1 699.2 582.2 698 583.2 696.8 584.2 695.5 585.2 694.3 586.2 693 587.2 691.8 588.2 690.6 589.2 689.3 590.2 688.1 591.2 686.8 592.2 685.6 593.2 684.4 594.3 683.1 595.3 681.9 596.3 680.6 597.3 679.3 598.3 678.1 599.3 676.8 600.3 675.5 601.3 674.2 602.3 672.9 603.3 671.6 604.3 670.2 605.4 668.9 606.4 667.5 607.4 666.2 608.4 664.8 609.4 663.4 610.4 661.9 611.4 660.5 612.4 659 613.4 657.5 614.4 656 615.4 654.5 616.4 652.9 617.5 651.3 618.5 649.7 619.5 648.1 620.5 646.5 621.5 644.9 622.5 643.3 623.5 641.6 624.5 640 625.5 638.4 626.5 636.7 627.5 635.1 628.6 633.4 629.6 631.8 630.6 630.1 631.6 628.5 632.6 626.9 633.6 625.2 634.6 623.6 635.6 622 636.6 620.4 637.6 618.8 638.6 617.2 639.6 615.6 640.7 614 641.7 612.4 642.7 610.8 643.7 609.2 644.7 607.6 645.7 606 646.7 604.4 647.7 602.8 648.7 601.2 649.7 599.6 650.7 598 651.7 596.4 652.8 594.8 653.8 593.2 654.8 591.6 655.8 590 656.8 588.4 657.8 586.8" stroke="#222" stroke-width="1.1" fill="none" />
<path d="M456.2 568.5 457.2 567.7 458.2 566.9 459.2 566.1 460.2 565.3 461.2 564.5 462.2 563.7 463.3 562.9 464.3 562.1 465.3 561.3 466.3 560.5 467.3 559.7 468.3 558.9 469.3 558.1 470.3 557.3 471.3 556.4 472.3 555.6 473.3 554.7 474.3 553.8 475.3 553 476.3 552.1 477.4 551.2 478.4 550.3 479.4 549.4 480.4 548.6 481.4 547.7 482.4 546.8 483.4 546 484.4 545.2 485.4 544.4 486.4 543.6 487.4 542.8 488.4 542.1 489.4 541.4 490.5 540.7 491.5 540 492.5 539.3 493.5 538.7 494.5 538 495.5 537.4 496.5 536.8 497.5 536.2 498.5 535.6 499.5 535 500.5 534.4 501.5 533.8 502.5 533.2 503.6 532.6 504.6 532.1 505.6 531.5 506.6 530.9 507.6 530.4 508.6 529.8 509.6 529.2 510.6 528.7 511.6 528.1 512.6 527.5 513.6 526.9 514.6 526.3 515.6 525.7 516.6 525.1 517.7 524.5 518.7 523.9 519.7 523.3 520.7 522.6 521.7 522 522.7 521.3 523.7 520.7 524.7 520 525.7 519.4 526.7 518.7 527.7 518 528.7 517.4 529.7 516.7 530.8 516 531.8 515.4 532.8 514.7 533.8 514.1 534.8 513.5 535.8 512.8 536.8 512.2 537.8 511.6 538.8 511.1 539.8 510.5 540.8 510 541.8 509.4 542.8 508.9 543.9 508.4 544.9 507.9 545.9 507.4 546.9 506.9 547.9 506.5 548.9 506 549.9 505.5 550.9 505.1 551.9 504.6 552.9 504.2 553.9 503.8 554.9 503.3 555.9 502.9 556.9 502.5 558 502.1 559 501.7 560 501.3 561 501 562 500.6 563 500.2 564 499.9" stroke="#2a2aff" stroke-width="1.1" fill="none" />
<path d="M456.2 568.5 457.2 567.6 458.2 566.7 459.2 565.7 460.2 564.8 461.2 563.9 462.2 563 463.3 562.1 464.3 561.2 465.3 560.3 466.3 559.4 467.3 558.6 468.3 557.7 469.3 556.8 470.3 555.9 471.3 555.1 472.3 554.2 473.3 553.3 474.3 552.4 475.3 551.5 476.3 550.6 477.4 549.8 478.4 548.9 479.4 548 480.4 547.2 481.4 546.3 482.4 545.5 483.4 544.6 484.4 543.8 485.4 543 486.4 542.3 487.4 541.5 488.4 540.8 489.4 540.1 490.5 539.4 491.5 538.7 492.5 538 493.5 537.4 494.5 536.7 495.5 536.1 496.5 535.5 497.5 534.9 498.5 534.2 499.5 533.6 500.5 533 501.5 532.5 502.5 531.9 503.6 531.3 504.6 530.7 505.6 530.1 506.6 529.6 507.6 529 508.6 528.4 509.6 527.9 510.6 527.3 511.6 526.7 512.6 526.2 513.6 525.6 514.6 525 515.6 524.4 516.6 523.8 517.7 523.2 518.7 522.6 519.7 522 520.7 521.4 521.7 520.8 522.7 520.1 523.7 519.5 524.7 518.9 525.7 518.2 526.7 517.6 527.7 516.9 528.7 516.3 529.7 515.7 530.8 515 531.8 514.4 532.8 513.8 533.8 513.2 534.8 512.6 535.8 512 536.8 511.4 537.8 510.9 538.8 510.3 539.8 509.8 540.8 509.3 541.8 508.8 542.8 508.3 543.9 507.8 544.9 507.4 545.9 506.9 546.9 506.4 547.9 506 548.9 505.6 549.9 505.1 550.9 504.7 551.9 504.3 552.9 503.9 553.9 503.5 554.9 503.1 555.9 502.7 556.9 502.3 558 501.9 559 501.6 560 501.2 561 500.9 562 500.5 563 500.2 564 499.9" stroke="#2a2aff" stroke-width="1.1" fill="none" />
<path d="M564 499.9 565 500 566 500.1 567 500.3 568 500.5 569 500.7 570.1 500.9 571.1 501.2 572.1 501.5 573.1 501.8 574.1 502.1 575.1 502.5 576.1 502.8 577.1 503.2 578.1 503.5 579.1 503.9 580.1 504.4 581.1 504.9 582.2 505.4 583.2 506 584.2 506.6 585.2 507.3 586.2 508 587.2 508.7 588.2 509.4 589.2 510.1 590.2 510.9 591.2 511.6 592.2 512.4 593.2 513.2 594.3 514 595.3 514.9 596.3 515.8 597.3 516.7 598.3 517.6 599.3 518.6 600.3 519.6 601.3 520.6 602.3 521.6 603.3 522.7 604.3 523.7 605.4 524.8 606.4 525.9 607.4 527 608.4 528.1 609.4 529.2 610.4 530.3 611.4 531.5 612.4 532.6 613.4 533.7 614.4 534.8 615.4 536 616.4 537.2 617.5 538.4 618.5 539.7 619.5 540.9 620.5 542.2 621.5 543.5 622.5 544.8 623.5 546.1 624.5 547.4 625.5 548.7 626.5 550 627.5 551.3 628.6 552.6 629.6 553.9 630.6 555.2 631.6 556.5 632.6 557.8 633.6 559.1 634.6 560.3 635.6 561.5 636.6 562.7 637.6 563.9 638.6 565.1 639.6 566.3 640.7 567.5 641.7 568.7 642.7 569.8 643.7 571 644.7 572.2 645.7 573.3 646.7 574.5 647.7 575.6 648.7 576.8 649.7 577.9 650.7 579 651.7 580.2 652.8 581.3 653.8 582.4 654.8 583.5 655.8 584.6 656.8 585.7 657.8 586.8" stroke="#2a2aff" stroke-width="1.1" fill="none" />
<path d="M564 499.9 565 500.2 566 500.6 567 500.9 568 501.3 569 501.6 570.1 502 571.1 502.3 572.1 502.7 573.1 503 574.1 503.4 575.1 503.7 576.1 504 577.1 504.4 578.1 504.7 579.1 505 580.1 505.4 581.1 505.7 582.2 506 583.2 506.4 584.2 506.7 585.2 507 586.2 507.4 587.2 507.7 588.2 508.1 589.2 508.4 590.2 508.8 591.2 509.1 592.2 509.5 593.2 509.8 594.3 510.2 595.3 510.5 596.3 510.8 597.3 511.2 598.3 511.5 599.3 511.8 600.3 512.1 601.3 512.4 602.3 512.7 603.3 513 604.3 513.2 605.4 513.5 606.4 513.7 607.4 513.9 608.4 514.1 609.4 514.3 610.4 514.5 611.4 514.7 612.4 514.9 613.4 515.1 614.4 515.2 615.4 515.4 616.4 515.6 617.5 515.7 618.5 515.9 619.5 516.1 620.5 516.2 621.5 516.4 622.5 516.5 623.5 516.7 624.5 516.8 625.5 516.9 626.5 517.1 627.5 517.2 628.6 517.3 629.6 517.5 630.6 517.6 631.6 517.7 632.6 517.8 633.6 517.9 634.6 518 635.6 518.1 636.6 518.2 637.6 518.3 638.6 518.4 639.6 518.5 640.7 518.6 641.7 518.7 642.7 518.7 643.7 518.8 644.7 518.9 645.7 519 646.7 519.1 647.7 519.1 648.7 519.2 649.7 519.3 650.7 519.3 651.7 519.4 652.8 519.5 653.8 519.5 654.8 519.6 655.8 519.6 656.8 519.7 657.8 519.7" stroke="#2a2aff" stroke-width="1.1" fill="none" />
<path d="M456.2 455.6 457.2 455.3 458.2 455 459.2 454.8 460.2 454.6 461.2 454.4 462.2 454.2 463.3 454 464.3 453.8 465.3 453.7 466.3 453.6 467.3 453.4 468.3 453.4 469.3 453.3 470.3 453.2 471.3 453.2 472.3 453.2 473.3 453.2 474.3 453.2 475.3 453.3 476.3 453.4 477.4 453.5 478.4 453.6 479.4 453.7 480.4 453.9 481.4 454 482.4 454.2 483.4 454.3 484.4 454.5 485.4 454.7 486.4 454.8 487.4 455 488.4 455.2 489.4 455.5 490.5 455.7 491.5 456 492.5 456.3 493.5 456.6 494.5 456.9 495.5 457.3 496.5 457.6 497.5 458 498.5 458.4 499.5 458.8 500.5 459.2 501.5 459.6 502.5 460 503.6 460.4 504.6 460.8 505.6 461.3 506.6 461.7 507.6 462.1 508.6 462.6 509.6 463 510.6 463.4 511.6 463.9 512.6 464.3 513.6 464.7 514.6 465.1 515.6 465.5 516.6 465.9 517.7 466.3 518.7 466.7 519.7 467.1 520.7 467.4 521.7 467.8 522.7 468.2 523.7 468.7 524.7 469.1 525.7 469.5 526.7 469.9 527.7 470.3 528.7 470.7 529.7 471.2 530.8 471.6 531.8 472 532.8 472.4 533.8 472.7 534.8 473.1 535.8 473.5 536.8 473.8 537.8 474.2 538.8 474.5 539.8 474.8 540.8 475.1 541.8 475.4 542.8 475.6 543.9 475.9 544.9 476.2 545.9 476.4 546.9 476.6 547.9 476.9 548.9 477.1 549.9 477.3 550.9 477.6 551.9 477.8 552.9 478 553.9 478.2 554.9 478.4 555.9 478.6 556.9 478.8 558 478.9 559 479.1 560 479.3 561 479.4 562 479.6 563 479.7 564 479.8" stroke="#ff2a2a" stroke-width="1.1" fill="none" />
<path d="M456.2 455.6 457.2 456 458.2 456.3 459.2 456.7 460.2 457 461.2 457.4 462.2 457.7 463.3 458.1 464.3 458.4 465.3 458.8 466.3 459.1 467.3 459.4 468.3 459.8 469.3 460.1 470.3 460.5 471.3 460.8 472.3 461.2 473.3 461.5 474.3 461.8 475.3 462.2 476.3 462.5 477.4 462.8 478.4 463.2 479.4 463.5 480.4 463.8 481.4 464.1 482.4 464.5 483.4 464.8 484.4 465.1 485.4 465.5 486.4 465.8 487.4 466.1 488.4 466.4 489.4 466.7 490.5 467.1 491.5 467.4 492.5 467.7 493.5 468 494.5 468.4 495.5 468.7 496.5 469 497.5 469.4 498.5 469.7 499.5 470 500.5 470.4 501.5 470.7 502.5 471 503.6 471.3 504.6 471.6 505.6 472 506.6 472.3 507.6 472.6 508.6 472.9 509.6 473.2 510.6 473.5 511.6 473.7 512.6 474 513.6 474.3 514.6 474.5 515.6 474.8 516.6 475 517.7 475.3 518.7 475.5 519.7 475.7 520.7 476 521.7 476.2 522.7 476.4 523.7 476.7 524.7 476.9 525.7 477.1 526.7 477.4 527.7 477.6 528.7 477.8 529.7 478 530.8 478.2 531.8 478.4 532.8 478.6 533.8 478.7 534.8 478.8 535.8 479 536.8 479.1 537.8 479.1 538.8 479.2 539.8 479.2 540.8 479.3 541.8 479.3 542.8 479.4 543.9 479.4 544.9 479.4 545.9 479.5 546.9 479.5 547.9 479.5 548.9 479.6 549.9 479.6 550.9 479.6 551.9 479.6 552.9 479.7 553.9 479.7 554.9 479.7 555.9 479.7 556.9 479.7 558 479.8 559 479.8 560 479.8 561 479.8 562 479.8 563 479.8 564 479.8" stroke="#ff2a2a" stroke-width="1.1" fill="none" />
<path d="M564 479.8 565 479.7 566 479.6 567 479.5 568 479.3 569 479.2 570.1 479 571.1 478.8 572.1 478.6 573.1 478.4 574.1 478.2 575.1 477.9 576.1 477.7 577.1 477.5 578.1 477.2 579.1 476.9 580.1 476.6 581.1 476.3 582.2 475.9 583.2 475.5 584.2 475.1 585.2 474.7 586.2 474.2 587.2 473.8 588.2 473.3 589.2 472.8 590.2 472.3 591.2 471.8 592.2 471.2 593.2 470.7 594.3 470.2 595.3 469.6 596.3 469.1 597.3 468.5 598.3 468 599.3 467.4 600.3 466.9 601.3 466.4 602.3 465.8 603.3 465.3 604.3 464.8 605.4 464.3 606.4 463.8 607.4 463.4 608.4 462.9 609.4 462.5 610.4 462 611.4 461.5 612.4 461 613.4 460.6 614.4 460.1 615.4 459.6 616.4 459.2 617.5 458.7 618.5 458.2 619.5 457.8 620.5 457.3 621.5 456.8 622.5 456.4 623.5 455.9 624.5 455.4 625.5 455 626.5 454.5 627.5 454.1 628.6 453.6 629.6 453.2 630.6 452.8 631.6 452.3 632.6 451.9 633.6 451.5 634.6 451.1 635.6 450.7 636.6 450.3 637.6 449.8 638.6 449.4 639.6 448.9 640.7 448.4 641.7 448 642.7 447.5 643.7 447.1 644.7 446.6 645.7 446.2 646.7 445.9 647.7 445.5 648.7 445.3 649.7 445.1 650.7 444.9 651.7 444.9 652.8 444.8 653.8 444.8 654.8 444.8 655.8 444.7 656.8 444.7 657.8 444.7" stroke="#ff2a2a" stroke-width="1.1" fill="none" />
<path d="M564 479.8 565 479.8 566 479.8 567 479.8 568 479.8 569 479.8 570.1 479.8 571.1 479.8 572.1 479.9 573.1 479.9 574.1 479.9 575.1 479.9 576.1 479.9 577.1 480 578.1 480 579.1 480 580.1 480 581.1 480.1 582.2 480.1 583.2 480.1 584.2 480.1 585.2 480.2 586.2 480.2 587.2 480.2 588.2 480.3 589.2 480.3 590.2 480.3 591.2 480.4 592.2 480.4 593.2 480.4 594.3 480.5 595.3 480.6 596.3 480.6 597.3 480.7 598.3 480.8 599.3 480.9 600.3 481 601.3 481.1 602.3 481.2 603.3 481.3 604.3 481.4 605.4 481.5 606.4 481.6 607.4 481.8 608.4 481.9 609.4 482 610.4 482.1 611.4 482.3 612.4 482.4 613.4 482.5 614.4 482.6 615.4 482.7 616.4 482.9 617.5 483 618.5 483.1 619.5 483.2 620.5 483.3 621.5 483.4 622.5 483.5 623.5 483.6 624.5 483.7 625.5 483.7 626.5 483.8 627.5 483.9 628.6 484 629.6 484.1 630.6 484.2 631.6 484.3 632.6 484.4 633.6 484.4 634.6 484.5 635.6 484.6 636.6 484.7 637.6 484.8 638.6 484.9 639.6 484.9 640.7 485 641.7 485.1 642.7 485.2 643.7 485.3 644.7 485.3 645.7 485.4 646.7 485.5 647.7 485.6 648.7 485.6 649.7 485.7 650.7 485.8 651.7 485.9 652.8 485.9 653.8 486 654.8 486.1 655.8 486.2 656.8 486.2 657.8 486.3" stroke="#ff2a2a" stroke-width="1.1" fill="none" />
<rect x="456.2" y="413.3" width="201.59999999999997" height="306.8" fill="none" stroke="#777" stroke-width="1.6"/>
<path d="M456.2 617.8h3M657.8 617.8h-3M456.2 515.6h3M657.8 515.6h-3" stroke="#777" stroke-width="1"/>
<text x="450.3" y="419" font-size="12" fill="#666" text-anchor="end" >0.6</text>
<text x="450.3" y="520" font-size="12" fill="#666" text-anchor="end" >.4</text>
<text x="450.3" y="622.5" font-size="12" fill="#666" text-anchor="end" >.2</text>
<text x="450.3" y="724.8" font-size="12" fill="#666" text-anchor="end" >0</text>
<text x="662.5" y="417.6" font-size="12" fill="#666" >0.6</text>
<text x="662.5" y="519.9" font-size="12" fill="#666" >0.4</text>
<text x="662.5" y="622.1" font-size="12" fill="#666" >0.2</text>
<text x="662.5" y="724.4" font-size="12" fill="#666" >0</text>
<text x="465.8" y="737" font-size="12.5" fill="#555" text-anchor="middle" >K</text>
<text x="564" y="740" font-size="12.5" fill="#555" text-anchor="middle" >&#915;</text>
<text x="648.3" y="737" font-size="12.5" fill="#555" text-anchor="middle" >M</text>
<text x="563.8" y="471" font-size="21" fill="#ff2a2a" font-style="italic" text-anchor="middle" >d</text>
<text x="562.6" y="518.5" font-size="21" fill="#2a2aff" font-style="italic" text-anchor="middle" >p</text>
<text transform="translate(431 632) rotate(-90)" font-size="21" fill="#333" >Frequency (&#969;<tspan font-style="italic">a</tspan><tspan font-size="70%" dy="0.25em">1</tspan><tspan dy="-0.25em">/2&#960;c)</tspan></text>
<polygon points="486.6,656.2 512.5,671.1 512.5,701.1 486.6,716 460.7,701.1 460.7,671.1" fill="#cce0ff" stroke="none" stroke-width="1" />
<circle cx="486.8" cy="686" r="16.9" fill="none" stroke="#0000ee" stroke-width="6.6"/>
<rect x="742.3" y="486.7" width="205.70000000000005" height="9.8" fill="#00ffff"/>
<path d="M742.3 580.1 743.3 581 744.3 581.8 745.3 582.7 746.3 583.6 747.3 584.5 748.3 585.5 749.4 586.4 750.4 587.3 751.4 588.3 752.4 589.2 753.4 590.2 754.4 591.1 755.4 592.1 756.4 593.1 757.4 594.1 758.4 595.1 759.4 596.1 760.4 597.1 761.5 598.2 762.5 599.2 763.5 600.2 764.5 601.3 765.5 602.4 766.5 603.4 767.5 604.5 768.5 605.6 769.5 606.7 770.5 607.9 771.5 609 772.5 610.1 773.6 611.3 774.6 612.5 775.6 613.7 776.6 614.9 777.6 616.1 778.6 617.3 779.6 618.5 780.6 619.7 781.6 620.9 782.6 622.2 783.6 623.4 784.6 624.7 785.7 625.9 786.7 627.2 787.7 628.4 788.7 629.7 789.7 631 790.7 632.2 791.7 633.5 792.7 634.8 793.7 636 794.7 637.3 795.7 638.6 796.8 639.8 797.8 641.1 798.8 642.3 799.8 643.6 800.8 644.8 801.8 646 802.8 647.3 803.8 648.5 804.8 649.8 805.8 651 806.8 652.3 807.8 653.5 808.9 654.8 809.9 656 810.9 657.3 811.9 658.5 812.9 659.8 813.9 661.1 814.9 662.4 815.9 663.7 816.9 665.1 817.9 666.4 818.9 667.7 819.9 669.1 821 670.5 822 671.9 823 673.3 824 674.7 825 676.2 826 677.7 827 679.1 828 680.7 829 682.2 830 683.8 831 685.4 832 687 833.1 688.6 834.1 690.2 835.1 691.9 836.1 693.6 837.1 695.3 838.1 697 839.1 698.8 840.1 700.6 841.1 702.3 842.1 704.1 843.1 705.9 844.1 707.8 845.2 709.6 846.2 711.5 847.2 713.4 848.2 715.3 849.2 717.2 850.2 719.1 851.2 721" stroke="#222" stroke-width="1.1" fill="none" />
<path d="M851.2 721 852.2 719.7 853.2 718.5 854.2 717.2 855.2 716 856.2 714.7 857.2 713.5 858.3 712.2 859.3 710.9 860.3 709.7 861.3 708.4 862.3 707.1 863.3 705.9 864.3 704.6 865.3 703.3 866.3 702 867.3 700.8 868.3 699.5 869.4 698.2 870.4 696.9 871.4 695.6 872.4 694.4 873.4 693.1 874.4 691.8 875.4 690.5 876.4 689.2 877.4 688 878.4 686.7 879.4 685.4 880.4 684.1 881.5 682.8 882.5 681.6 883.5 680.3 884.5 679 885.5 677.7 886.5 676.4 887.5 675.1 888.5 673.8 889.5 672.5 890.5 671.2 891.5 669.9 892.5 668.6 893.6 667.3 894.6 666 895.6 664.7 896.6 663.3 897.6 662 898.6 660.7 899.6 659.3 900.6 658 901.6 656.6 902.6 655.2 903.6 653.8 904.6 652.4 905.6 651 906.7 649.5 907.7 648.1 908.7 646.6 909.7 645.1 910.7 643.6 911.7 642.1 912.7 640.6 913.7 639.1 914.7 637.5 915.7 636 916.7 634.5 917.8 633 918.8 631.5 919.8 629.9 920.8 628.4 921.8 627 922.8 625.5 923.8 624 924.8 622.6 925.8 621.2 926.8 619.8 927.8 618.4 928.8 617 929.9 615.7 930.9 614.4 931.9 613 932.9 611.7 933.9 610.4 934.9 609.1 935.9 607.8 936.9 606.6 937.9 605.5 938.9 604.5 939.9 603.6 940.9 602.7 942 602 943 601.2 944 600.5 945 599.9 946 599.3 947 598.8 948 598.4" stroke="#222" stroke-width="1.1" fill="none" />
<path d="M742.3 554.3 743.3 553.9 744.3 553.5 745.3 553.1 746.3 552.7 747.3 552.3 748.3 551.9 749.4 551.4 750.4 551 751.4 550.6 752.4 550.1 753.4 549.7 754.4 549.2 755.4 548.8 756.4 548.3 757.4 547.8 758.4 547.4 759.4 546.9 760.4 546.4 761.5 545.9 762.5 545.4 763.5 544.9 764.5 544.4 765.5 543.9 766.5 543.4 767.5 542.9 768.5 542.3 769.5 541.8 770.5 541.2 771.5 540.7 772.5 540.1 773.6 539.5 774.6 538.9 775.6 538.3 776.6 537.7 777.6 537.1 778.6 536.5 779.6 535.9 780.6 535.3 781.6 534.6 782.6 534 783.6 533.4 784.6 532.7 785.7 532.1 786.7 531.5 787.7 530.9 788.7 530.2 789.7 529.6 790.7 529 791.7 528.3 792.7 527.7 793.7 527.1 794.7 526.5 795.7 525.9 796.8 525.2 797.8 524.6 798.8 524 799.8 523.4 800.8 522.8 801.8 522.1 802.8 521.5 803.8 520.9 804.8 520.2 805.8 519.6 806.8 519 807.8 518.3 808.9 517.7 809.9 517 810.9 516.4 811.9 515.8 812.9 515.1 813.9 514.5 814.9 513.9 815.9 513.3 816.9 512.7 817.9 512.1 818.9 511.5 819.9 510.9 821 510.3 822 509.7 823 509.2 824 508.6 825 508.1 826 507.6 827 507 828 506.5 829 506 830 505.6 831 505.1 832 504.6 833.1 504.1 834.1 503.6 835.1 503.2 836.1 502.7 837.1 502.2 838.1 501.8 839.1 501.4 840.1 500.9 841.1 500.5 842.1 500.1 843.1 499.6 844.1 499.2 845.2 498.8 846.2 498.4 847.2 498 848.2 497.6 849.2 497.2 850.2 496.9 851.2 496.5" stroke="#ff2a2a" stroke-width="1.1" fill="none" />
<path d="M742.3 580.1 743.3 579.4 744.3 578.6 745.3 577.9 746.3 577.1 747.3 576.4 748.3 575.6 749.4 574.9 750.4 574.1 751.4 573.4 752.4 572.6 753.4 571.8 754.4 571.1 755.4 570.3 756.4 569.5 757.4 568.7 758.4 568 759.4 567.2 760.4 566.4 761.5 565.6 762.5 564.8 763.5 564 764.5 563.2 765.5 562.4 766.5 561.6 767.5 560.8 768.5 559.9 769.5 559.1 770.5 558.3 771.5 557.4 772.5 556.6 773.6 555.7 774.6 554.9 775.6 554 776.6 553.1 777.6 552.2 778.6 551.4 779.6 550.5 780.6 549.6 781.6 548.7 782.6 547.9 783.6 547 784.6 546.1 785.7 545.2 786.7 544.4 787.7 543.5 788.7 542.6 789.7 541.7 790.7 540.9 791.7 540 792.7 539.2 793.7 538.3 794.7 537.5 795.7 536.6 796.8 535.8 797.8 535 798.8 534.1 799.8 533.3 800.8 532.4 801.8 531.6 802.8 530.7 803.8 529.9 804.8 529 805.8 528.2 806.8 527.4 807.8 526.5 808.9 525.7 809.9 524.8 810.9 524 811.9 523.2 812.9 522.3 813.9 521.5 814.9 520.7 815.9 519.9 816.9 519.1 817.9 518.3 818.9 517.5 819.9 516.7 821 516 822 515.2 823 514.5 824 513.8 825 513 826 512.3 827 511.6 828 510.9 829 510.3 830 509.6 831 508.9 832 508.3 833.1 507.6 834.1 507 835.1 506.3 836.1 505.7 837.1 505.1 838.1 504.5 839.1 503.9 840.1 503.3 841.1 502.7 842.1 502.1 843.1 501.5 844.1 500.9 845.2 500.3 846.2 499.8 847.2 499.2 848.2 498.7 849.2 498.1 850.2 497.6 851.2 497.1" stroke="#ff2a2a" stroke-width="1.1" fill="none" />
<path d="M851.2 496.5 852.2 496.8 853.2 497.1 854.2 497.4 855.2 497.7 856.2 498 857.2 498.3 858.3 498.6 859.3 498.9 860.3 499.2 861.3 499.5 862.3 499.8 863.3 500.1 864.3 500.3 865.3 500.6 866.3 500.9 867.3 501.2 868.3 501.5 869.4 501.7 870.4 502 871.4 502.3 872.4 502.6 873.4 502.8 874.4 503.1 875.4 503.4 876.4 503.6 877.4 503.9 878.4 504.2 879.4 504.4 880.4 504.7 881.5 505 882.5 505.2 883.5 505.5 884.5 505.7 885.5 506 886.5 506.3 887.5 506.5 888.5 506.8 889.5 507 890.5 507.3 891.5 507.5 892.5 507.8 893.6 508 894.6 508.2 895.6 508.5 896.6 508.7 897.6 509 898.6 509.2 899.6 509.4 900.6 509.7 901.6 509.9 902.6 510.1 903.6 510.3 904.6 510.6 905.6 510.8 906.7 511 907.7 511.3 908.7 511.5 909.7 511.8 910.7 512 911.7 512.2 912.7 512.5 913.7 512.7 914.7 513 915.7 513.2 916.7 513.4 917.8 513.7 918.8 513.9 919.8 514.1 920.8 514.3 921.8 514.5 922.8 514.7 923.8 514.9 924.8 515.1 925.8 515.3 926.8 515.5 927.8 515.6 928.8 515.8 929.9 515.9 930.9 516 931.9 516.1 932.9 516.3 933.9 516.3 934.9 516.4 935.9 516.5 936.9 516.6 937.9 516.7 938.9 516.8 939.9 516.8 940.9 516.9 942 517 943 517 944 517.1 945 517.1 946 517.1 947 517.2 948 517.2" stroke="#ff2a2a" stroke-width="1.1" fill="none" />
<path d="M851.2 497.1 852.2 497.7 853.2 498.3 854.2 498.8 855.2 499.5 856.2 500.1 857.2 500.7 858.3 501.3 859.3 502 860.3 502.7 861.3 503.4 862.3 504 863.3 504.8 864.3 505.5 865.3 506.2 866.3 506.9 867.3 507.7 868.3 508.4 869.4 509.2 870.4 510 871.4 510.8 872.4 511.6 873.4 512.4 874.4 513.3 875.4 514.1 876.4 515 877.4 515.9 878.4 516.9 879.4 517.8 880.4 518.8 881.5 519.8 882.5 520.7 883.5 521.8 884.5 522.8 885.5 523.8 886.5 524.8 887.5 525.9 888.5 526.9 889.5 528 890.5 529.1 891.5 530.1 892.5 531.2 893.6 532.3 894.6 533.3 895.6 534.4 896.6 535.5 897.6 536.5 898.6 537.6 899.6 538.6 900.6 539.7 901.6 540.7 902.6 541.7 903.6 542.7 904.6 543.8 905.6 544.8 906.7 545.8 907.7 546.8 908.7 547.9 909.7 548.9 910.7 550 911.7 551 912.7 552.1 913.7 553.1 914.7 554.2 915.7 555.2 916.7 556.2 917.8 557.3 918.8 558.3 919.8 559.3 920.8 560.4 921.8 561.4 922.8 562.4 923.8 563.4 924.8 564.4 925.8 565.3 926.8 566.3 927.8 567.2 928.8 568.2 929.9 569.1 930.9 570 931.9 570.9 932.9 571.8 933.9 572.7 934.9 573.5 935.9 574.4 936.9 575.3 937.9 576.1 938.9 576.9 939.9 577.8 940.9 578.6 942 579.4 943 580.2 944 581 945 581.8 946 582.6 947 583.3 948 584.1" stroke="#ff2a2a" stroke-width="1.1" fill="none" />
<path d="M742.3 449.3 743.3 449 744.3 448.8 745.3 448.6 746.3 448.4 747.3 448.3 748.3 448.1 749.4 448 750.4 447.9 751.4 447.9 752.4 447.8 753.4 447.8 754.4 447.8 755.4 447.9 756.4 447.9 757.4 448.1 758.4 448.2 759.4 448.4 760.4 448.7 761.5 449 762.5 449.3 763.5 449.6 764.5 449.9 765.5 450.3 766.5 450.7 767.5 451.1 768.5 451.5 769.5 451.9 770.5 452.4 771.5 452.8 772.5 453.3 773.6 453.7 774.6 454.2 775.6 454.6 776.6 455 777.6 455.5 778.6 455.9 779.6 456.3 780.6 456.7 781.6 457 782.6 457.4 783.6 457.7 784.6 458.1 785.7 458.5 786.7 458.9 787.7 459.3 788.7 459.7 789.7 460.1 790.7 460.5 791.7 460.9 792.7 461.3 793.7 461.7 794.7 462.1 795.7 462.5 796.8 462.9 797.8 463.3 798.8 463.7 799.8 464.1 800.8 464.5 801.8 464.9 802.8 465.3 803.8 465.7 804.8 466.1 805.8 466.4 806.8 466.8 807.8 467.2 808.9 467.5 809.9 467.9 810.9 468.2 811.9 468.6 812.9 468.9 813.9 469.2 814.9 469.5 815.9 469.9 816.9 470.2 817.9 470.5 818.9 470.8 819.9 471.1 821 471.5 822 471.8 823 472.1 824 472.4 825 472.7 826 473 827 473.3 828 473.6 829 473.9 830 474.2 831 474.5 832 474.8 833.1 475 834.1 475.3 835.1 475.6 836.1 475.9 837.1 476.2 838.1 476.4 839.1 476.7 840.1 477 841.1 477.2 842.1 477.5 843.1 477.8 844.1 478 845.2 478.3 846.2 478.5 847.2 478.8 848.2 479 849.2 479.2 850.2 479.5 851.2 479.7" stroke="#2a2aff" stroke-width="1.1" fill="none" />
<path d="M742.3 450.2 743.3 450.5 744.3 450.8 745.3 451.1 746.3 451.3 747.3 451.6 748.3 451.9 749.4 452.2 750.4 452.5 751.4 452.8 752.4 453.1 753.4 453.3 754.4 453.6 755.4 453.9 756.4 454.2 757.4 454.5 758.4 454.8 759.4 455.1 760.4 455.4 761.5 455.7 762.5 456 763.5 456.2 764.5 456.5 765.5 456.8 766.5 457.1 767.5 457.4 768.5 457.7 769.5 458 770.5 458.3 771.5 458.6 772.5 458.9 773.6 459.2 774.6 459.5 775.6 459.8 776.6 460.1 777.6 460.4 778.6 460.7 779.6 461 780.6 461.3 781.6 461.6 782.6 461.9 783.6 462.2 784.6 462.5 785.7 462.8 786.7 463.2 787.7 463.5 788.7 463.8 789.7 464.1 790.7 464.5 791.7 464.8 792.7 465.1 793.7 465.5 794.7 465.8 795.7 466.1 796.8 466.5 797.8 466.8 798.8 467.1 799.8 467.5 800.8 467.8 801.8 468.1 802.8 468.5 803.8 468.8 804.8 469.1 805.8 469.4 806.8 469.8 807.8 470.1 808.9 470.4 809.9 470.7 810.9 471 811.9 471.3 812.9 471.6 813.9 471.9 814.9 472.2 815.9 472.4 816.9 472.7 817.9 473 818.9 473.2 819.9 473.5 821 473.7 822 474 823 474.2 824 474.4 825 474.7 826 474.9 827 475.1 828 475.4 829 475.6 830 475.8 831 476 832 476.2 833.1 476.4 834.1 476.6 835.1 476.9 836.1 477.1 837.1 477.3 838.1 477.5 839.1 477.6 840.1 477.8 841.1 478 842.1 478.2 843.1 478.4 844.1 478.6 845.2 478.7 846.2 478.9 847.2 479.1 848.2 479.2 849.2 479.4 850.2 479.5 851.2 479.7" stroke="#2a2aff" stroke-width="1.1" fill="none" />
<path d="M851.2 479.7 852.2 479.5 853.2 479.4 854.2 479.2 855.2 479 856.2 478.7 857.2 478.5 858.3 478.3 859.3 478 860.3 477.7 861.3 477.5 862.3 477.2 863.3 476.9 864.3 476.6 865.3 476.2 866.3 475.9 867.3 475.6 868.3 475.2 869.4 474.9 870.4 474.5 871.4 474.1 872.4 473.7 873.4 473.4 874.4 472.9 875.4 472.5 876.4 472 877.4 471.5 878.4 471 879.4 470.5 880.4 469.9 881.5 469.3 882.5 468.7 883.5 468.1 884.5 467.5 885.5 466.9 886.5 466.2 887.5 465.6 888.5 464.9 889.5 464.2 890.5 463.6 891.5 462.9 892.5 462.2 893.6 461.5 894.6 460.8 895.6 460.2 896.6 459.5 897.6 458.8 898.6 458.2 899.6 457.5 900.6 456.9 901.6 456.2 902.6 455.6 903.6 455 904.6 454.4 905.6 453.7 906.7 453.1 907.7 452.4 908.7 451.7 909.7 451.1 910.7 450.4 911.7 449.7 912.7 448.9 913.7 448.2 914.7 447.5 915.7 446.8 916.7 446.1 917.8 445.5 918.8 444.8 919.8 444.1 920.8 443.5 921.8 442.8 922.8 442.2 923.8 441.6 924.8 441 925.8 440.5 926.8 439.9 927.8 439.4 928.8 438.9 929.9 438.5 930.9 438.1 931.9 437.7 932.9 437.4 933.9 437.1 934.9 436.8 935.9 436.5 936.9 436.2 937.9 435.9 938.9 435.7 939.9 435.4 940.9 435.2 942 435 943 434.8 944 434.6 945 434.5 946 434.3 947 434.2 948 434.1" stroke="#2a2aff" stroke-width="1.1" fill="none" />
<path d="M851.2 479.7 852.2 479.7 853.2 479.7 854.2 479.7 855.2 479.7 856.2 479.7 857.2 479.7 858.3 479.7 859.3 479.7 860.3 479.7 861.3 479.7 862.3 479.7 863.3 479.7 864.3 479.7 865.3 479.7 866.3 479.7 867.3 479.7 868.3 479.7 869.4 479.8 870.4 479.8 871.4 479.8 872.4 479.8 873.4 479.8 874.4 479.8 875.4 479.8 876.4 479.8 877.4 479.8 878.4 479.8 879.4 479.8 880.4 479.8 881.5 479.8 882.5 479.8 883.5 479.9 884.5 479.9 885.5 479.9 886.5 479.9 887.5 479.9 888.5 479.9 889.5 479.9 890.5 480 891.5 480 892.5 480.1 893.6 480.2 894.6 480.3 895.6 480.4 896.6 480.5 897.6 480.6 898.6 480.8 899.6 480.9 900.6 481.1 901.6 481.2 902.6 481.4 903.6 481.5 904.6 481.7 905.6 481.8 906.7 482 907.7 482.2 908.7 482.3 909.7 482.5 910.7 482.7 911.7 482.8 912.7 483 913.7 483.1 914.7 483.3 915.7 483.4 916.7 483.5 917.8 483.6 918.8 483.8 919.8 483.9 920.8 484 921.8 484.1 922.8 484.2 923.8 484.3 924.8 484.4 925.8 484.5 926.8 484.6 927.8 484.7 928.8 484.8 929.9 485 930.9 485.1 931.9 485.2 932.9 485.3 933.9 485.4 934.9 485.5 935.9 485.6 936.9 485.7 937.9 485.8 938.9 485.9 939.9 486 940.9 486.1 942 486.1 943 486.2 944 486.3 945 486.4 946 486.5 947 486.6 948 486.7" stroke="#2a2aff" stroke-width="1.1" fill="none" />
<rect x="742.3" y="412.8" width="205.70000000000005" height="308.8" fill="none" stroke="#333" stroke-width="1.8"/>
<path d="M742.3 618.7h3M948 618.7h-3M742.3 515.7h3M948 515.7h-3" stroke="#333" stroke-width="1"/>
<text x="738.7" y="417.4" font-size="12" fill="#777" text-anchor="end" >6</text>
<text x="738.7" y="520" font-size="12" fill="#777" text-anchor="end" >0.4</text>
<text x="738.7" y="623" font-size="12" fill="#777" text-anchor="end" >0.2</text>
<text x="738.7" y="725.9" font-size="12" fill="#777" text-anchor="end" >0</text>
<text x="951" y="417.1" font-size="12" fill="#777" >0.6</text>
<text x="951" y="520" font-size="12" fill="#777" >0.4</text>
<text x="951" y="623" font-size="12" fill="#777" >0.2</text>
<text x="951" y="725.9" font-size="12" fill="#777" >0</text>
<text x="745.9" y="738.3" font-size="12.5" fill="#555" text-anchor="middle" >K</text>
<text x="852.7" y="740" font-size="12.5" fill="#555" text-anchor="middle" >&#915;</text>
<text x="942.5" y="738.3" font-size="12.5" fill="#555" text-anchor="middle" >M</text>
<text x="853.5" y="473.5" font-size="21" fill="#2a2aff" font-style="italic" text-anchor="middle" >p</text>
<text x="849.7" y="515.5" font-size="21" fill="#ff2a2a" font-style="italic" text-anchor="middle" >d</text>
<polygon points="773.7,653.1 800.4,668.5 800.4,699.3 773.7,714.7 747,699.3 747,668.5" fill="#cce0ff" stroke="none" stroke-width="1" />
<circle cx="773.9" cy="683.6" r="19.75" fill="none" stroke="#0000ee" stroke-width="6.7"/>
<rect x="1028.4" y="421.6" width="190.9" height="124.6" fill="none" stroke="#999" stroke-width="1.2"/>
<rect x="1222.3" y="421.5" width="190.3" height="124.7" fill="none" stroke="#999" stroke-width="1.2"/>
<path d="M1037 483.6H1211.6" stroke="#2cc4ca" stroke-width="2.6"/>
<path d="M1230.6 483.4 1231.6 481.5 1232.6 479.7 1233.6 478.1 1234.6 476.7 1235.6 475.4 1236.6 474.2 1237.6 473.1 1238.6 472.1 1239.6 471.2 1240.6 470.2 1241.6 469.4 1242.6 468.6 1243.6 467.8 1244.6 467.1 1245.6 466.5 1246.6 465.9 1247.6 465.4 1248.6 464.8 1249.6 464.3 1250.6 463.8 1251.6 463.3 1252.7 462.9 1253.7 462.5 1254.7 462.2 1255.7 461.8 1256.7 461.6 1257.7 461.4 1258.7 461.3 1259.7 461.1 1260.7 461 1261.7 460.9 1262.7 460.8 1263.7 460.7 1264.7 460.6 1265.7 460.5 1266.7 460.4 1267.7 460.4 1268.7 460.3 1269.7 460.3 1270.7 460.3 1271.7 460.3 1272.7 460.3 1273.7 460.4 1274.7 460.5 1275.7 460.6 1276.7 460.7 1277.7 460.8 1278.7 461 1279.7 461.2 1280.7 461.3 1281.7 461.6 1282.7 462 1283.7 462.7 1284.7 463.4 1285.7 464.2 1286.7 465.3 1287.7 466.9 1288.7 468.7 1289.7 470.5 1290.7 472.4 1291.7 474.4 1292.7 476.4 1293.7 478 1294.7 479 1295.8 479.9 1296.8 480.7 1297.8 481.3 1298.8 481.7 1299.8 481.9 1300.8 482.1 1301.8 482.2 1302.8 482.3 1303.8 482.4 1304.8 482.5 1305.8 482.5 1306.8 482.6 1307.8 482.6 1308.8 482.7 1309.8 482.7 1310.8 482.7 1311.8 482.8 1312.8 482.8 1313.8 482.9 1314.8 482.9 1315.8 482.9 1316.8 482.9 1317.8 482.9 1318.8 482.9 1319.8 482.9 1320.8 482.9 1321.8 482.8 1322.8 482.8 1323.8 482.7 1324.8 482.7 1325.8 482.7 1326.8 482.6 1327.8 482.6 1328.8 482.5 1329.8 482.5 1330.8 482.4 1331.8 482.3 1332.8 482.2 1333.8 482.1 1334.8 481.9 1335.8 481.7 1336.8 481.3 1337.8 480.7 1338.8 479.9 1339.9 479 1340.9 478 1341.9 476.4 1342.9 474.4 1343.9 472.4 1344.9 470.5 1345.9 468.7 1346.9 466.9 1347.9 465.3 1348.9 464.2 1349.9 463.4 1350.9 462.7 1351.9 462 1352.9 461.6 1353.9 461.3 1354.9 461.2 1355.9 461 1356.9 460.8 1357.9 460.7 1358.9 460.6 1359.9 460.5 1360.9 460.4 1361.9 460.3 1362.9 460.3 1363.9 460.3 1364.9 460.3 1365.9 460.3 1366.9 460.4 1367.9 460.4 1368.9 460.5 1369.9 460.6 1370.9 460.7 1371.9 460.8 1372.9 460.9 1373.9 461 1374.9 461.1 1375.9 461.3 1376.9 461.4 1377.9 461.6 1378.9 461.8 1379.9 462.2 1380.9 462.5 1381.9 462.9 1383 463.3 1384 463.8 1385 464.3 1386 464.8 1387 465.4 1388 465.9 1389 466.5 1390 467.1 1391 467.8 1392 468.6 1393 469.4 1394 470.2 1395 471.2 1396 472.1 1397 473.1 1398 474.2 1399 475.4 1400 476.7 1401 478.1 1402 479.7 1403 481.5 1404 483.4M1230.6 483.4 1231.6 485.3 1232.6 487.1 1233.6 488.7 1234.6 490.1 1235.6 491.4 1236.6 492.6 1237.6 493.7 1238.6 494.7 1239.6 495.6 1240.6 496.6 1241.6 497.4 1242.6 498.2 1243.6 499 1244.6 499.7 1245.6 500.3 1246.6 500.9 1247.6 501.4 1248.6 502 1249.6 502.5 1250.6 503 1251.6 503.5 1252.7 503.9 1253.7 504.3 1254.7 504.6 1255.7 505 1256.7 505.2 1257.7 505.4 1258.7 505.5 1259.7 505.7 1260.7 505.8 1261.7 505.9 1262.7 506 1263.7 506.1 1264.7 506.2 1265.7 506.3 1266.7 506.4 1267.7 506.4 1268.7 506.5 1269.7 506.5 1270.7 506.5 1271.7 506.5 1272.7 506.5 1273.7 506.4 1274.7 506.3 1275.7 506.2 1276.7 506.1 1277.7 506 1278.7 505.8 1279.7 505.6 1280.7 505.5 1281.7 505.2 1282.7 504.8 1283.7 504.1 1284.7 503.4 1285.7 502.6 1286.7 501.5 1287.7 499.9 1288.7 498.1 1289.7 496.3 1290.7 494.4 1291.7 492.4 1292.7 490.4 1293.7 488.8 1294.7 487.8 1295.8 486.9 1296.8 486.1 1297.8 485.5 1298.8 485.1 1299.8 484.9 1300.8 484.7 1301.8 484.6 1302.8 484.5 1303.8 484.4 1304.8 484.3 1305.8 484.3 1306.8 484.2 1307.8 484.2 1308.8 484.1 1309.8 484.1 1310.8 484.1 1311.8 484 1312.8 484 1313.8 483.9 1314.8 483.9 1315.8 483.9 1316.8 483.9 1317.8 483.9 1318.8 483.9 1319.8 483.9 1320.8 483.9 1321.8 484 1322.8 484 1323.8 484.1 1324.8 484.1 1325.8 484.1 1326.8 484.2 1327.8 484.2 1328.8 484.3 1329.8 484.3 1330.8 484.4 1331.8 484.5 1332.8 484.6 1333.8 484.7 1334.8 484.9 1335.8 485.1 1336.8 485.5 1337.8 486.1 1338.8 486.9 1339.9 487.8 1340.9 488.8 1341.9 490.4 1342.9 492.4 1343.9 494.4 1344.9 496.3 1345.9 498.1 1346.9 499.9 1347.9 501.5 1348.9 502.6 1349.9 503.4 1350.9 504.1 1351.9 504.8 1352.9 505.2 1353.9 505.5 1354.9 505.6 1355.9 505.8 1356.9 506 1357.9 506.1 1358.9 506.2 1359.9 506.3 1360.9 506.4 1361.9 506.5 1362.9 506.5 1363.9 506.5 1364.9 506.5 1365.9 506.5 1366.9 506.4 1367.9 506.4 1368.9 506.3 1369.9 506.2 1370.9 506.1 1371.9 506 1372.9 505.9 1373.9 505.8 1374.9 505.7 1375.9 505.5 1376.9 505.4 1377.9 505.2 1378.9 505 1379.9 504.6 1380.9 504.3 1381.9 503.9 1383 503.5 1384 503 1385 502.5 1386 502 1387 501.4 1388 500.9 1389 500.3 1390 499.7 1391 499 1392 498.2 1393 497.4 1394 496.6 1395 495.6 1396 494.7 1397 493.7 1398 492.6 1399 491.4 1400 490.1 1401 488.7 1402 487.1 1403 485.3 1404 483.4" stroke="#2cc4ca" stroke-width="2.6" fill="none"/>
<path d="M1037 546.2v-2M1124.3 546.2v-2M1211.6 546.2v-2M1230.6 546.2v-2M1317.3 546.2v-2M1404 546.2v-2" stroke="#999" stroke-width="1"/>
<text x="1017.8" y="425.7" font-size="11" fill="#333" text-anchor="middle" >&#960;</text>
<text x="1016.1" y="488.7" font-size="12" fill="#333" text-anchor="middle" >0</text>
<text x="1016.5" y="547.1" font-size="11" fill="#333" text-anchor="middle" >-&#960;</text>
<text x="1124.3" y="434.8" font-size="11" fill="#333" text-anchor="middle" >a)</text>
<text x="1317.6" y="434.7" font-size="11" fill="#333" text-anchor="middle" >b)</text>
<text x="1037.1" y="561.7" font-size="12.5" fill="#333" text-anchor="middle" >&#915;</text>
<text x="1124.3" y="561.7" font-size="12.5" fill="#333" text-anchor="middle" >M</text>
<text x="1210.6" y="561.7" font-size="12.5" fill="#333" text-anchor="middle" >&#915;</text>
<text x="1231.2" y="561.7" font-size="12.5" fill="#333" text-anchor="middle" >&#915;</text>
<text x="1318" y="561.7" font-size="12.5" fill="#333" text-anchor="middle" >M</text>
<text x="1404.8" y="561.7" font-size="12.5" fill="#333" text-anchor="middle" >&#915;</text>
<text x="1124.3" y="578.5" font-size="12" fill="#333" text-anchor="middle" ><tspan font-style="italic">k</tspan>-space path</text>
<text x="1317.3" y="578" font-size="12" fill="#333" text-anchor="middle" ><tspan font-style="italic">k</tspan>-space path</text>
<text transform="translate(996.5 506) rotate(-90)" font-size="16" font-style="italic" font-weight="bold" fill="#333">W<tspan font-size="8.5" font-weight="normal" font-style="normal" dy="3">eigenvalues</tspan></text>
<path d="M1334 586V788" stroke="#ccc" stroke-width="1"/>
<rect x="1102.4" y="595.4" width="225.6" height="147" fill="none" stroke="#888" stroke-width="1.2"/>
<path d="M1111.7 668.3H1318" stroke="#2cc4ca" stroke-width="2.6"/>
<path d="M1113.6 595.4 1116.2 597.1 1118.8 598.7 1121.3 600.1 1123.9 601.4 1126.5 602.7 1129.1 603.8 1131.6 604.8 1134.2 605.8 1136.8 606.6 1139.4 607.4 1142 608.1 1144.5 608.7 1147.1 609.3 1149.7 609.8 1152.3 610.2 1154.9 610.6 1157.4 611 1160 611.3 1162.6 611.5 1165.2 611.8 1167.7 612 1170.3 612.1 1172.9 612.3 1175.5 612.4 1178.1 612.5 1180.6 612.6 1183.2 612.6 1185.8 612.7 1188.4 612.7 1191 612.7 1193.5 612.8 1196.1 612.8 1198.7 612.8 1201.3 612.8 1203.8 612.8 1206.4 612.8 1209 612.8 1211.6 612.8 1214.2 612.8 1216.7 612.8 1219.3 612.8 1221.9 612.8 1224.5 612.8 1227.1 612.8 1229.6 612.8 1232.2 612.8 1234.8 612.8 1237.4 612.8 1239.9 612.7 1242.5 612.7 1245.1 612.7 1247.7 612.6 1250.3 612.6 1252.8 612.5 1255.4 612.4 1258 612.3 1260.6 612.1 1263.2 612 1265.7 611.8 1268.3 611.5 1270.9 611.3 1273.5 611 1276 610.6 1278.6 610.2 1281.2 609.8 1283.8 609.3 1286.4 608.7 1288.9 608.1 1291.5 607.4 1294.1 606.6 1296.7 605.8 1299.3 604.8 1301.8 603.8 1304.4 602.7 1307 601.4 1309.6 600.1 1312.1 598.7 1314.7 597.1 1317.3 595.4M1113.6 742.4 1116.2 740.6 1118.8 738.9 1121.3 737.3 1123.9 735.9 1126.5 734.6 1129.1 733.4 1131.6 732.3 1134.2 731.3 1136.8 730.3 1139.4 729.5 1142 728.8 1144.5 728.1 1147.1 727.5 1149.7 726.9 1152.3 726.5 1154.9 726 1157.4 725.7 1160 725.3 1162.6 725.1 1165.2 724.8 1167.7 724.6 1170.3 724.4 1172.9 724.3 1175.5 724.1 1178.1 724 1180.6 724 1183.2 723.9 1185.8 723.8 1188.4 723.8 1191 723.8 1193.5 723.7 1196.1 723.7 1198.7 723.7 1201.3 723.7 1203.8 723.7 1206.4 723.7 1209 723.7 1211.6 723.7 1214.2 723.7 1216.7 723.7 1219.3 723.7 1221.9 723.7 1224.5 723.7 1227.1 723.7 1229.6 723.7 1232.2 723.7 1234.8 723.7 1237.4 723.7 1239.9 723.8 1242.5 723.8 1245.1 723.8 1247.7 723.9 1250.3 724 1252.8 724 1255.4 724.1 1258 724.3 1260.6 724.4 1263.2 724.6 1265.7 724.8 1268.3 725.1 1270.9 725.3 1273.5 725.7 1276 726 1278.6 726.5 1281.2 726.9 1283.8 727.5 1286.4 728.1 1288.9 728.8 1291.5 729.5 1294.1 730.3 1296.7 731.3 1299.3 732.3 1301.8 733.4 1304.4 734.6 1307 735.9 1309.6 737.3 1312.1 738.9 1314.7 740.6 1317.3 742.4" stroke="#2cc4ca" stroke-width="2.6" fill="none"/>
<text x="1090.9" y="602" font-size="12.5" fill="#333" text-anchor="middle" >&#960;</text>
<text x="1089.6" y="674.2" font-size="13" fill="#333" text-anchor="middle" >0</text>
<text x="1089.2" y="743.7" font-size="12.5" fill="#333" text-anchor="middle" >-&#960;</text>
<text x="1214.5" y="609.5" font-size="12.5" fill="#555" text-anchor="middle" >c)</text>
<text x="1113" y="762.4" font-size="13.5" fill="#333" text-anchor="middle" >&#915;</text>
<text x="1214.5" y="762.4" font-size="13.5" fill="#333" text-anchor="middle" >M</text>
<text x="1317.1" y="762.4" font-size="13.5" fill="#333" text-anchor="middle" >&#915;</text>
<text x="1214.3" y="782" font-size="13.6" fill="#333" text-anchor="middle" ><tspan font-style="italic">k</tspan>-space path</text>
<path d="M1113.6 742.4v-2M1215.4 742.4v-2M1317.3 742.4v-2" stroke="#888" stroke-width="1"/>
<text transform="translate(1064.5 695.6) rotate(-90)" font-size="16" font-style="italic" font-weight="bold" fill="#333">W<tspan font-size="8.5" font-weight="normal" font-style="normal" dy="3">eigenvalues</tspan></text>
<path d="M172.9 1089.9h0M176.8 1085.4h0M180.7 1080.8h0M184.6 1076.2h0M188.5 1071.6h0M192.4 1067h0M196.3 1062.5h0M200.2 1057.9h0M204.1 1053.3h0M208 1048.7h0M211.9 1044.2h0M215.8 1039.6h0M219.7 1035h0M223.6 1030.5h0M227.5 1026h0M231.4 1021.5h0M235.3 1017h0M239.2 1012.5h0M243.1 1008.2h0M247 1004.1h0M250.9 1000.5h0M254.8 998.9h0M258.7 1000.5h0M262.6 1004.1h0M266.5 1008.2h0M270.4 1012.5h0M274.3 1017h0M278.2 1021.5h0M282.1 1026h0M286 1030.5h0M289.9 1035h0M293.8 1039.6h0M297.7 1044.2h0M301.6 1048.7h0M305.5 1053.3h0M309.4 1057.9h0M313.3 1062.5h0M317.2 1067h0M321.1 1071.6h0M325 1076.2h0M328.9 1080.8h0M332.8 1085.4h0M336.7 1089.9h0M172.9 1086.7h0M176.8 1081.8h0M180.7 1076.6h0M184.6 1071.2h0M188.5 1065.7h0M192.4 1060.2h0M196.3 1054.6h0M200.2 1049.2h0M204.1 1044h0M208 1038.9h0M211.9 1034.1h0M215.8 1029.5h0M219.7 1025.3h0M223.6 1021.2h0M227.5 1017.4h0M231.4 1013.7h0M235.3 1010.2h0M239.2 1006.8h0M243.1 1003.4h0M247 1000.1h0M250.9 997.2h0M254.8 995.9h0M258.7 997.2h0M262.6 1000.1h0M266.5 1003.4h0M270.4 1006.8h0M274.3 1010.2h0M278.2 1013.7h0M282.1 1017.4h0M286 1021.2h0M289.9 1025.3h0M293.8 1029.5h0M297.7 1034.1h0M301.6 1038.9h0M305.5 1044h0M309.4 1049.2h0M313.3 1054.6h0M317.2 1060.2h0M321.1 1065.7h0M325 1071.2h0M328.9 1076.6h0M332.8 1081.8h0M336.7 1086.7h0M165.1 1087.4h0M169 1083.8h0M172.9 1080h0M176.8 1076.1h0M180.7 1072h0M184.6 1067.7h0M188.5 1063.1h0M192.4 1058.4h0M196.3 1053.5h0M200.2 1048.4h0M204.1 1043.2h0M208 1037.9h0M211.9 1032.5h0M215.8 1027.2h0M219.7 1021.9h0M223.6 1016.7h0M227.5 1011.6h0M231.4 1006.7h0M235.3 1002h0M239.2 997.6h0M243.1 993.5h0M247 989.8h0M250.9 986.8h0M254.8 985.9h0M258.7 986.8h0M262.6 989.8h0M266.5 993.5h0M270.4 997.6h0M274.3 1002h0M278.2 1006.7h0M282.1 1011.6h0M286 1016.7h0M289.9 1021.9h0M293.8 1027.2h0M297.7 1032.5h0M301.6 1037.9h0M305.5 1043.2h0M309.4 1048.4h0M313.3 1053.5h0M317.2 1058.4h0M321.1 1063.1h0M325 1067.7h0M328.9 1072h0M332.8 1076.1h0M336.7 1080h0M340.6 1083.8h0M344.5 1087.4h0M157.3 1086.7h0M161.2 1082.8h0M165.1 1079h0M169 1075.2h0M172.9 1071.4h0M176.8 1067.6h0M180.7 1063.8h0M184.6 1059.9h0M188.5 1056.1h0M192.4 1052.1h0M196.3 1048.1h0M200.2 1044h0M204.1 1039.8h0M208 1035.5h0M211.9 1031.2h0M227.5 1012.7h0M231.4 1007.9h0M235.3 1003h0M247 988.8h0M250.9 984.9h0M254.8 982.8h0M258.7 984.9h0M262.6 988.8h0M274.3 1003h0M278.2 1007.9h0M282.1 1012.7h0M297.7 1031.2h0M301.6 1035.5h0M305.5 1039.8h0M309.4 1044h0M313.3 1048.1h0M317.2 1052.1h0M321.1 1056.1h0M325 1059.9h0M328.9 1063.8h0M332.8 1067.6h0M336.7 1071.4h0M340.6 1075.2h0M344.5 1079h0M348.4 1082.8h0M352.3 1086.7h0M153.4 1086.1h0M157.3 1081.4h0M161.2 1076.8h0M165.1 1072.2h0M169 1067.8h0M172.9 1063.4h0M176.8 1059.1h0M180.7 1054.8h0M184.6 1050.7h0M188.5 1046.6h0M192.4 1042.6h0M196.3 1038.6h0M200.2 1034.6h0M204.1 1030.7h0M208 1026.8h0M211.9 1022.9h0M215.8 1019h0M219.7 1015h0M223.6 1011.1h0M227.5 1007.1h0M231.4 1003.1h0M235.3 999h0M239.2 995h0M243.1 991h0M247 987.1h0M250.9 983.8h0M254.8 982.3h0M258.7 983.8h0M262.6 987.1h0M266.5 991h0M270.4 995h0M274.3 999h0M278.2 1003.1h0M282.1 1007.1h0M286 1011.1h0M289.9 1015h0M293.8 1019h0M297.7 1022.9h0M301.6 1026.8h0M305.5 1030.7h0M309.4 1034.6h0M313.3 1038.6h0M317.2 1042.6h0M321.1 1046.6h0M325 1050.7h0M328.9 1054.8h0M332.8 1059.1h0M336.7 1063.4h0M340.6 1067.8h0M344.5 1072.2h0M348.4 1076.8h0M352.3 1081.4h0M356.2 1086.1h0M149.5 1088h0M153.4 1082.7h0M157.3 1077.5h0M161.2 1072.5h0M165.1 1067.6h0M169 1063h0M172.9 1058.6h0M176.8 1054.5h0M180.7 1050.5h0M184.6 1046.8h0M188.5 1043.2h0M192.4 1039.7h0M196.3 1036.2h0M200.2 1032.7h0M204.1 1029.2h0M208 1025.5h0M211.9 1021.6h0M215.8 1017.5h0M219.7 1013.2h0M223.6 1008.7h0M227.5 1004h0M231.4 999h0M235.3 993.9h0M239.2 988.8h0M243.1 983.7h0M247 978.9h0M250.9 974.8h0M254.8 972.5h0M258.7 974.8h0M262.6 978.9h0M266.5 983.7h0M270.4 988.8h0M274.3 993.9h0M278.2 999h0M282.1 1004h0M286 1008.7h0M289.9 1013.2h0M293.8 1017.5h0M297.7 1021.6h0M301.6 1025.5h0M305.5 1029.2h0M309.4 1032.7h0M313.3 1036.2h0M317.2 1039.7h0M321.1 1043.2h0M325 1046.8h0M328.9 1050.5h0M332.8 1054.5h0M336.7 1058.6h0M340.6 1063h0M344.5 1067.6h0M348.4 1072.5h0M352.3 1077.5h0M356.2 1082.7h0M360.1 1088h0M149.5 1085.9h0M153.4 1080.7h0M157.3 1075.4h0M161.2 1070.1h0M165.1 1064.8h0M169 1059.6h0M172.9 1054.7h0M176.8 1049.9h0M180.7 1045.5h0M184.6 1041.3h0M188.5 1037.3h0M192.4 1033.6h0M196.3 1030h0M200.2 1026.6h0M204.1 1023.2h0M208 1019.7h0M211.9 1016.2h0M215.8 1012.5h0M219.7 1008.6h0M223.6 1004.5h0M227.5 1000.1h0M231.4 995.5h0M235.3 990.6h0M239.2 985.6h0M243.1 980.6h0M247 975.7h0M250.9 971.5h0M254.8 969.2h0M258.7 971.5h0M262.6 975.7h0M266.5 980.6h0M270.4 985.6h0M274.3 990.6h0M278.2 995.5h0M282.1 1000.1h0M286 1004.5h0M289.9 1008.6h0M293.8 1012.5h0M297.7 1016.2h0M301.6 1019.7h0M305.5 1023.2h0M309.4 1026.6h0M313.3 1030h0M317.2 1033.6h0M321.1 1037.3h0M325 1041.3h0M328.9 1045.5h0M332.8 1049.9h0M336.7 1054.7h0M340.6 1059.6h0M344.5 1064.8h0M348.4 1070.1h0M352.3 1075.4h0M356.2 1080.7h0M360.1 1085.9h0M141.7 1084.9h0M145.6 1079.6h0M149.5 1074.8h0M153.4 1070.4h0M157.3 1066.5h0M161.2 1063.1h0M165.1 1060h0M169 1057.2h0M172.9 1054.4h0M176.8 1051.4h0M180.7 1048h0M184.6 1044.2h0M188.5 1040h0M192.4 1035.2h0M200.2 1024.4h0M204.1 1018.7h0M208 1013.1h0M211.9 1007.6h0M215.8 1002.4h0M219.7 997.7h0M223.6 993.4h0M227.5 989.6h0M231.4 986.2h0M235.3 983.1h0M239.2 980.1h0M243.1 977.1h0M247 974.1h0M250.9 971.4h0M254.8 970.1h0M258.7 971.4h0M262.6 974.1h0M266.5 977.1h0M270.4 980.1h0M274.3 983.1h0M278.2 986.2h0M282.1 989.6h0M286 993.4h0M289.9 997.7h0M293.8 1002.4h0M297.7 1007.6h0M301.6 1013.1h0M305.5 1018.7h0M309.4 1024.4h0M317.2 1035.2h0M321.1 1040h0M325 1044.2h0M328.9 1048h0M332.8 1051.4h0M336.7 1054.4h0M340.6 1057.2h0M344.5 1060h0M348.4 1063.1h0M352.3 1066.5h0M356.2 1070.4h0M360.1 1074.8h0M364 1079.6h0M367.9 1084.9h0M137.8 1089.7h0M153.4 1069.3h0M157.3 1064.1h0M161.2 1059h0M165.1 1054.1h0M169 1049.5h0M172.9 1045.2h0M176.8 1041.1h0M180.7 1037.4h0M184.6 1033.9h0M188.5 1030.5h0M192.4 1027.3h0M196.3 1024h0M200.2 1020.7h0M204.1 1017.2h0M211.9 1009.5h0M215.8 1005.2h0M219.7 1000.6h0M223.6 995.7h0M227.5 990.6h0M231.4 985.3h0M235.3 980h0M239.2 974.7h0M243.1 969.6h0M247 965h0M250.9 961.2h0M254.8 959.5h0M258.7 961.2h0M262.6 965h0M266.5 969.6h0M270.4 974.7h0M274.3 980h0M278.2 985.3h0M282.1 990.6h0M286 995.7h0M289.9 1000.6h0M293.8 1005.2h0M297.7 1009.5h0M305.5 1017.2h0M309.4 1020.7h0M313.3 1024h0M317.2 1027.3h0M321.1 1030.5h0M325 1033.9h0M328.9 1037.4h0M332.8 1041.1h0M336.7 1045.2h0M340.6 1049.5h0M344.5 1054.1h0M348.4 1059h0M352.3 1064.1h0M356.2 1069.3h0M371.8 1089.7h0M133.9 1089.1h0M137.8 1084.7h0M141.7 1080.1h0M145.6 1075.4h0M149.5 1070.7h0M153.4 1065.8h0M157.3 1060.9h0M161.2 1056.1h0M165.1 1051.2h0M169 1046.5h0M172.9 1041.8h0M176.8 1037.2h0M180.7 1032.7h0M184.6 1028.3h0M188.5 1024.1h0M192.4 1020h0M196.3 1016h0M200.2 1012.1h0M204.1 1008.4h0M208 1004.6h0M211.9 1001h0M215.8 997.3h0M219.7 993.6h0M223.6 989.9h0M227.5 986.2h0M231.4 982.4h0M235.3 978.6h0M243.1 970.8h0M247 967h0M250.9 963.8h0M254.8 962.2h0M258.7 963.8h0M262.6 967h0M266.5 970.8h0M274.3 978.6h0M278.2 982.4h0M282.1 986.2h0M286 989.9h0M289.9 993.6h0M293.8 997.3h0M297.7 1001h0M301.6 1004.6h0M305.5 1008.4h0M309.4 1012.1h0M313.3 1016h0M317.2 1020h0M321.1 1024.1h0M325 1028.3h0M328.9 1032.7h0M332.8 1037.2h0M336.7 1041.8h0M340.6 1046.5h0M344.5 1051.2h0M348.4 1056.1h0M352.3 1060.9h0M356.2 1065.8h0M360.1 1070.7h0M364 1075.4h0M367.9 1080.1h0M371.8 1084.7h0M375.7 1089.1h0M126.1 1089.6h0M130 1087.2h0M133.9 1084.3h0M137.8 1080.8h0M141.7 1076.8h0M145.6 1072.2h0M149.5 1067.1h0M153.4 1061.7h0M157.3 1056.2h0M161.2 1050.8h0M165.1 1045.6h0M169 1040.9h0M172.9 1036.6h0M176.8 1032.9h0M180.7 1029.5h0M184.6 1026.5h0M192.4 1020.8h0M196.3 1017.7h0M200.2 1014.2h0M204.1 1010.3h0M208 1005.8h0M215.8 995.6h0M219.7 990h0M223.6 984.3h0M227.5 978.8h0M231.4 973.4h0M235.3 968.5h0M239.2 964.2h0M243.1 960.4h0M247 957.4h0M250.9 955.4h0M254.8 955.3h0M258.7 955.4h0M262.6 957.4h0M266.5 960.4h0M270.4 964.2h0M274.3 968.5h0M278.2 973.4h0M282.1 978.8h0M286 984.3h0M289.9 990h0M293.8 995.6h0M301.6 1005.8h0M305.5 1010.3h0M309.4 1014.2h0M313.3 1017.7h0M317.2 1020.8h0M325 1026.5h0M328.9 1029.5h0M332.8 1032.9h0M336.7 1036.6h0M340.6 1040.9h0M344.5 1045.6h0M348.4 1050.8h0M352.3 1056.2h0M356.2 1061.7h0M360.1 1067.1h0M364 1072.2h0M367.9 1076.8h0M371.8 1080.8h0M375.7 1084.3h0M379.6 1087.2h0M383.5 1089.6h0M118.3 1088.9h0M122.2 1084.5h0M126.1 1080.1h0M130 1075.9h0M133.9 1071.8h0M137.8 1067.8h0M141.7 1063.9h0M145.6 1060.3h0M149.5 1056.7h0M153.4 1053.2h0M157.3 1049.9h0M161.2 1046.6h0M165.1 1043.3h0M169 1040h0M184.6 1026.4h0M188.5 1022.7h0M192.4 1018.9h0M196.3 1014.8h0M200.2 1010.7h0M204.1 1006.3h0M208 1001.8h0M211.9 997.1h0M215.8 992.3h0M219.7 987.4h0M223.6 982.4h0M227.5 977.3h0M231.4 972.3h0M235.3 967.3h0M239.2 962.4h0M243.1 957.7h0M247 953.4h0M250.9 949.9h0M254.8 948.4h0M258.7 949.9h0M262.6 953.4h0M266.5 957.7h0M270.4 962.4h0M274.3 967.3h0M278.2 972.3h0M282.1 977.3h0M286 982.4h0M289.9 987.4h0M293.8 992.3h0M297.7 997.1h0M301.6 1001.8h0M305.5 1006.3h0M309.4 1010.7h0M313.3 1014.8h0M317.2 1018.9h0M321.1 1022.7h0M325 1026.4h0M340.6 1040h0M344.5 1043.3h0M348.4 1046.6h0M352.3 1049.9h0M356.2 1053.2h0M360.1 1056.7h0M364 1060.3h0M367.9 1063.9h0M371.8 1067.8h0M375.7 1071.8h0M379.6 1075.9h0M383.5 1080.1h0M387.4 1084.5h0M391.3 1088.9h0M114.4 1088h0M118.3 1083.3h0M122.2 1078.8h0M126.1 1074.6h0M130 1070.6h0M133.9 1066.9h0M137.8 1063.4h0M141.7 1060.3h0M145.6 1057.3h0M149.5 1054.4h0M153.4 1051.6h0M157.3 1048.8h0M161.2 1045.9h0M169 1039.4h0M172.9 1035.8h0M176.8 1031.9h0M180.7 1027.7h0M184.6 1023.2h0M188.5 1018.4h0M192.4 1013.4h0M196.3 1008.3h0M200.2 1003.1h0M204.1 997.8h0M208 992.6h0M211.9 987.6h0M215.8 982.7h0M219.7 978.1h0M223.6 973.7h0M227.5 969.6h0M231.4 965.8h0M235.3 962.2h0M239.2 958.8h0M243.1 955.6h0M250.9 950.7h0M254.8 950.1h0M258.7 950.7h0M266.5 955.6h0M270.4 958.8h0M274.3 962.2h0M278.2 965.8h0M282.1 969.6h0M286 973.7h0M289.9 978.1h0M293.8 982.7h0M297.7 987.6h0M301.6 992.6h0M305.5 997.8h0M309.4 1003.1h0M313.3 1008.3h0M317.2 1013.4h0M321.1 1018.4h0M325 1023.2h0M328.9 1027.7h0M332.8 1031.9h0M336.7 1035.8h0M340.6 1039.4h0M348.4 1045.9h0M352.3 1048.8h0M356.2 1051.6h0M360.1 1054.4h0M364 1057.3h0M367.9 1060.3h0M371.8 1063.4h0M375.7 1066.9h0M379.6 1070.6h0M383.5 1074.6h0M387.4 1078.8h0M391.3 1083.3h0M395.2 1088h0M106.6 1088.5h0M110.5 1084.1h0M114.4 1080h0M118.3 1076.4h0M122.2 1073.1h0M126.1 1070.3h0M130 1067.7h0M133.9 1065.3h0M141.7 1060.6h0M145.6 1058h0M149.5 1055.1h0M157.3 1048h0M161.2 1043.8h0M165.1 1039.2h0M169 1034.2h0M172.9 1029.1h0M176.8 1023.8h0M180.7 1018.6h0M184.6 1013.5h0M188.5 1008.6h0M192.4 1004h0M196.3 999.8h0M200.2 995.9h0M204.1 992.3h0M208 988.9h0M211.9 985.8h0M219.7 979.4h0M223.6 976h0M227.5 972.4h0M231.4 968.4h0M235.3 964.1h0M239.2 959.6h0M243.1 954.9h0M247 950.2h0M250.9 946.2h0M254.8 943.8h0M258.7 946.2h0M262.6 950.2h0M266.5 954.9h0M270.4 959.6h0M274.3 964.1h0M278.2 968.4h0M282.1 972.4h0M286 976h0M289.9 979.4h0M297.7 985.8h0M301.6 988.9h0M305.5 992.3h0M309.4 995.9h0M313.3 999.8h0M317.2 1004h0M321.1 1008.6h0M325 1013.5h0M328.9 1018.6h0M332.8 1023.8h0M336.7 1029.1h0M340.6 1034.2h0M344.5 1039.2h0M348.4 1043.8h0M352.3 1048h0M360.1 1055.1h0M364 1058h0M367.9 1060.6h0M375.7 1065.3h0M379.6 1067.7h0M383.5 1070.3h0M387.4 1073.1h0M391.3 1076.4h0M395.2 1080h0M399.1 1084.1h0M403 1088.5h0M106.6 1089.8h0M110.5 1087.2h0M114.4 1084.2h0M118.3 1080.7h0M122.2 1076.7h0M126.1 1072.4h0M133.9 1062.9h0M137.8 1058h0M141.7 1053.1h0M145.6 1048.3h0M149.5 1043.8h0M153.4 1039.6h0M157.3 1035.8h0M161.2 1032.2h0M165.1 1029h0M169 1025.9h0M172.9 1023h0M176.8 1020.2h0M180.7 1017.3h0M184.6 1014.2h0M188.5 1010.9h0M192.4 1007.3h0M196.3 1003.3h0M200.2 998.9h0M204.1 994.3h0M211.9 984.1h0M215.8 978.7h0M219.7 973.4h0M223.6 968.1h0M227.5 962.9h0M231.4 958.1h0M235.3 953.5h0M239.2 949.4h0M243.1 945.7h0M247 942.6h0M250.9 940.5h0M254.8 940.2h0M258.7 940.5h0M262.6 942.6h0M266.5 945.7h0M270.4 949.4h0M274.3 953.5h0M278.2 958.1h0M282.1 962.9h0M286 968.1h0M289.9 973.4h0M293.8 978.7h0M297.7 984.1h0M305.5 994.3h0M309.4 998.9h0M313.3 1003.3h0M317.2 1007.3h0M321.1 1010.9h0M325 1014.2h0M328.9 1017.3h0M332.8 1020.2h0M336.7 1023h0M340.6 1025.9h0M344.5 1029h0M348.4 1032.2h0M352.3 1035.8h0M356.2 1039.6h0M360.1 1043.8h0M364 1048.3h0M367.9 1053.1h0M371.8 1058h0M375.7 1062.9h0M383.5 1072.4h0M387.4 1076.7h0M391.3 1080.7h0M395.2 1084.2h0M399.1 1087.2h0M403 1089.8h0M91 1089.5h0M94.9 1086.2h0M98.8 1082.9h0M102.7 1079.7h0M106.6 1076.5h0M110.5 1073.3h0M114.4 1070.2h0M118.3 1067.1h0M122.2 1064.1h0M126.1 1061h0M130 1058h0M133.9 1055h0M137.8 1052h0M141.7 1049h0M145.6 1045.9h0M149.5 1042.8h0M157.3 1036.5h0M161.2 1033.2h0M165.1 1029.9h0M176.8 1019.3h0M180.7 1015.5h0M184.6 1011.7h0M188.5 1007.7h0M196.3 999.5h0M200.2 995.2h0M204.1 990.8h0M208 986.3h0M211.9 981.7h0M215.8 977h0M219.7 972.3h0M235.3 953.2h0M243.1 944h0M247 939.9h0M250.9 936.5h0M254.8 934.9h0M258.7 936.5h0M262.6 939.9h0M266.5 944h0M274.3 953.2h0M289.9 972.3h0M293.8 977h0M297.7 981.7h0M301.6 986.3h0M305.5 990.8h0M309.4 995.2h0M313.3 999.5h0M321.1 1007.7h0M325 1011.7h0M328.9 1015.5h0M332.8 1019.3h0M344.5 1029.9h0M348.4 1033.2h0M352.3 1036.5h0M360.1 1042.8h0M364 1045.9h0M367.9 1049h0M371.8 1052h0M375.7 1055h0M379.6 1058h0M383.5 1061h0M387.4 1064.1h0M391.3 1067.1h0M395.2 1070.2h0M399.1 1073.3h0M403 1076.5h0M406.9 1079.7h0M410.8 1082.9h0M414.7 1086.2h0M418.6 1089.5h0M83.2 1088.7h0M87.1 1087.2h0M91 1086.1h0M94.9 1085h0M98.8 1083.9h0M102.7 1082.4h0M106.6 1080.5h0M110.5 1077.9h0M114.4 1074.6h0M118.3 1070.7h0M122.2 1066.3h0M126.1 1061.5h0M130 1056.5h0M133.9 1051.6h0M137.8 1046.8h0M141.7 1042.4h0M145.6 1038.5h0M149.5 1035h0M153.4 1032h0M157.3 1029.3h0M161.2 1026.9h0M165.1 1024.5h0M169 1022h0M172.9 1019.1h0M176.8 1015.8h0M180.7 1012.1h0M184.6 1007.8h0M188.5 1003h0M192.4 997.9h0M196.3 992.5h0M200.2 987h0M204.1 981.7h0M208 976.6h0M211.9 971.8h0M215.8 967.5h0M219.7 963.6h0M223.6 960.1h0M227.5 957h0M231.4 953.9h0M235.3 951h0M239.2 947.9h0M243.1 944.7h0M247 941.4h0M250.9 938.5h0M254.8 936.8h0M258.7 938.5h0M262.6 941.4h0M266.5 944.7h0M270.4 947.9h0M274.3 951h0M278.2 953.9h0M282.1 957h0M286 960.1h0M289.9 963.6h0M293.8 967.5h0M297.7 971.8h0M301.6 976.6h0M305.5 981.7h0M309.4 987h0M313.3 992.5h0M317.2 997.9h0M321.1 1003h0M325 1007.8h0M328.9 1012.1h0M332.8 1015.8h0M336.7 1019.1h0M340.6 1022h0M344.5 1024.5h0M348.4 1026.9h0M352.3 1029.3h0M356.2 1032h0M360.1 1035h0M364 1038.5h0M367.9 1042.4h0M371.8 1046.8h0M375.7 1051.6h0M379.6 1056.5h0M383.5 1061.5h0M387.4 1066.3h0M391.3 1070.7h0M395.2 1074.6h0M399.1 1077.9h0M403 1080.5h0M406.9 1082.4h0M410.8 1083.9h0M414.7 1085h0M418.6 1086.1h0M422.5 1087.2h0M426.4 1088.7h0M71.5 1090.1h0M75.4 1087.4h0M79.3 1085.1h0M83.2 1083.1h0M87.1 1081.3h0M91 1079.7h0M94.9 1078.3h0M98.8 1076.9h0M102.7 1075.4h0M106.6 1073.7h0M110.5 1071.7h0M114.4 1069.4h0M122.2 1063.5h0M126.1 1059.9h0M130 1055.9h0M149.5 1033h0M153.4 1028.4h0M157.3 1024h0M161.2 1019.9h0M165.1 1016h0M169 1012.4h0M172.9 1009.1h0M176.8 1005.9h0M180.7 1002.9h0M184.6 1000h0M188.5 997h0M192.4 994h0M196.3 990.8h0M204.1 983.6h0M208 979.5h0M211.9 975.1h0M215.8 970.5h0M219.7 965.6h0M227.5 955.2h0M231.4 950h0M235.3 944.8h0M239.2 939.8h0M243.1 935.2h0M247 931.2h0M250.9 928.2h0M254.8 927.2h0M258.7 928.2h0M262.6 931.2h0M266.5 935.2h0M270.4 939.8h0M274.3 944.8h0M278.2 950h0M282.1 955.2h0M289.9 965.6h0M293.8 970.5h0M297.7 975.1h0M301.6 979.5h0M305.5 983.6h0M313.3 990.8h0M317.2 994h0M321.1 997h0M325 1000h0M328.9 1002.9h0M332.8 1005.9h0M336.7 1009.1h0M340.6 1012.4h0M344.5 1016h0M348.4 1019.9h0M352.3 1024h0M356.2 1028.4h0M360.1 1033h0M379.6 1055.9h0M383.5 1059.9h0M387.4 1063.5h0M395.2 1069.4h0M399.1 1071.7h0M403 1073.7h0M406.9 1075.4h0M410.8 1076.9h0M414.7 1078.3h0M418.6 1079.7h0M422.5 1081.3h0M426.4 1083.1h0M430.3 1085.1h0M434.2 1087.4h0M438.1 1090.1h0M75.4 1090.1h0M79.3 1086.2h0M83.2 1082.2h0M87.1 1078.2h0M91 1074.3h0M94.9 1070.8h0M98.8 1067.5h0M102.7 1064.7h0M106.6 1062.3h0M110.5 1060.2h0M114.4 1058.3h0M118.3 1056.6h0M122.2 1054.8h0M126.1 1052.9h0M130 1050.8h0M133.9 1048.3h0M137.8 1045.4h0M149.5 1033.9h0M153.4 1029.3h0M165.1 1014.6h0M169 1009.8h0M172.9 1005.2h0M176.8 1000.8h0M180.7 996.8h0M184.6 993.2h0M188.5 989.8h0M192.4 986.6h0M196.3 983.6h0M200.2 980.7h0M204.1 977.7h0M208 974.5h0M211.9 971.1h0M215.8 967.3h0M219.7 963.2h0M223.6 958.8h0M227.5 954h0M231.4 948.9h0M235.3 943.7h0M239.2 938.5h0M243.1 933.5h0M247 929h0M250.9 925.4h0M254.8 923.8h0M258.7 925.4h0M262.6 929h0M266.5 933.5h0M270.4 938.5h0M274.3 943.7h0M278.2 948.9h0M282.1 954h0M286 958.8h0M289.9 963.2h0M293.8 967.3h0M297.7 971.1h0M301.6 974.5h0M305.5 977.7h0M309.4 980.7h0M313.3 983.6h0M317.2 986.6h0M321.1 989.8h0M325 993.2h0M328.9 996.8h0M332.8 1000.8h0M336.7 1005.2h0M340.6 1009.8h0M344.5 1014.6h0M356.2 1029.3h0M360.1 1033.9h0M371.8 1045.4h0M375.7 1048.3h0M379.6 1050.8h0M383.5 1052.9h0M387.4 1054.8h0M391.3 1056.6h0M395.2 1058.3h0M399.1 1060.2h0M403 1062.3h0M406.9 1064.7h0M410.8 1067.5h0M414.7 1070.8h0M418.6 1074.3h0M422.5 1078.2h0M426.4 1082.2h0M430.3 1086.2h0M434.2 1090.1h0M59.8 1083h0M63.7 1082.7h0M67.6 1082h0M71.5 1081.2h0M75.4 1080.3h0M79.3 1079.2h0M83.2 1077.9h0M87.1 1076.5h0M91 1074.9h0M94.9 1073.1h0M98.8 1071.1h0M102.7 1068.8h0M106.6 1066.4h0M110.5 1063.7h0M114.4 1060.7h0M118.3 1057.6h0M122.2 1054.3h0M126.1 1050.7h0M130 1047h0M133.9 1043.1h0M137.8 1039.1h0M141.7 1035h0M145.6 1030.8h0M149.5 1026.6h0M153.4 1022.3h0M157.3 1018h0M161.2 1013.7h0M165.1 1009.5h0M169 1005.3h0M172.9 1001.1h0M176.8 997.1h0M180.7 993.1h0M184.6 989.2h0M188.5 985.4h0M192.4 981.6h0M196.3 977.9h0M200.2 974.3h0M204.1 970.7h0M208 967.2h0M211.9 963.6h0M215.8 960.1h0M219.7 956.5h0M223.6 952.9h0M227.5 949.3h0M231.4 945.6h0M235.3 941.9h0M239.2 938.1h0M270.4 938.1h0M274.3 941.9h0M278.2 945.6h0M282.1 949.3h0M286 952.9h0M289.9 956.5h0M293.8 960.1h0M297.7 963.6h0M301.6 967.2h0M305.5 970.7h0M309.4 974.3h0M313.3 977.9h0M317.2 981.6h0M321.1 985.4h0M325 989.2h0M328.9 993.1h0M332.8 997.1h0M336.7 1001.1h0M340.6 1005.3h0M344.5 1009.5h0M348.4 1013.7h0M352.3 1018h0M356.2 1022.3h0M360.1 1026.6h0M364 1030.8h0M367.9 1035h0M371.8 1039.1h0M375.7 1043.1h0M379.6 1047h0M383.5 1050.7h0M387.4 1054.3h0M391.3 1057.6h0M395.2 1060.7h0M399.1 1063.7h0M403 1066.4h0M406.9 1068.8h0M410.8 1071.1h0M414.7 1073.1h0M418.6 1074.9h0M422.5 1076.5h0M426.4 1077.9h0M430.3 1079.2h0M434.2 1080.3h0M438.1 1081.2h0M442 1082h0M445.9 1082.7h0M449.8 1083h0M59.8 1077.4h0M63.7 1077.7h0M67.6 1077.9h0M71.5 1077.9h0M75.4 1077.7h0M79.3 1077.2h0M83.2 1076.2h0M87.1 1074.7h0M91 1072.7h0M94.9 1070.1h0M98.8 1067.1h0M102.7 1063.6h0M106.6 1059.8h0M110.5 1055.7h0M114.4 1051.4h0M118.3 1047.2h0M122.2 1043h0M126.1 1039h0M130 1035.2h0M133.9 1031.7h0M137.8 1028.6h0M141.7 1025.7h0M145.6 1023.1h0M149.5 1020.6h0M153.4 1018.2h0M157.3 1015.8h0M161.2 1013.3h0M165.1 1010.7h0M169 1007.7h0M172.9 1004.4h0M184.6 992.5h0M188.5 987.8h0M192.4 982.9h0M200.2 972.8h0M204.1 967.7h0M208 962.7h0M211.9 957.9h0M215.8 953.3h0M219.7 949h0M223.6 945h0M227.5 941.2h0M231.4 937.7h0M235.3 934.5h0M239.2 931.4h0M243.1 928.4h0M247 925.8h0M250.9 923.9h0M254.8 923.3h0M258.7 923.9h0M262.6 925.8h0M266.5 928.4h0M270.4 931.4h0M274.3 934.5h0M278.2 937.7h0M282.1 941.2h0M286 945h0M289.9 949h0M293.8 953.3h0M297.7 957.9h0M301.6 962.7h0M305.5 967.7h0M309.4 972.8h0M317.2 982.9h0M321.1 987.8h0M325 992.5h0M336.7 1004.4h0M340.6 1007.7h0M344.5 1010.7h0M348.4 1013.3h0M352.3 1015.8h0M356.2 1018.2h0M360.1 1020.6h0M364 1023.1h0M367.9 1025.7h0M371.8 1028.6h0M375.7 1031.7h0M379.6 1035.2h0M383.5 1039h0M387.4 1043h0M391.3 1047.2h0M395.2 1051.4h0M399.1 1055.7h0M403 1059.8h0M406.9 1063.6h0M410.8 1067.1h0M414.7 1070.1h0M418.6 1072.7h0M422.5 1074.7h0M426.4 1076.2h0M430.3 1077.2h0M434.2 1077.7h0M438.1 1077.9h0M442 1077.9h0M445.9 1077.7h0M449.8 1077.4h0M59.8 1070.7h0M63.7 1069.6h0M67.6 1068.5h0M71.5 1067.7h0M75.4 1067.3h0M79.3 1067h0M83.2 1066.8h0M87.1 1066.4h0M91 1065.6h0M94.9 1064.3h0M98.8 1062.5h0M102.7 1060.1h0M106.6 1057h0M110.5 1053.4h0M114.4 1049.3h0M118.3 1045h0M122.2 1040.5h0M126.1 1036.1h0M130 1031.8h0M133.9 1027.9h0M137.8 1024.5h0M141.7 1021.2h0M145.6 1018.4h0M149.5 1016h0M153.4 1013.7h0M157.3 1011.5h0M161.2 1009.2h0M165.1 1006.8h0M169 1004h0M184.6 988.4h0M188.5 983.5h0M192.4 978.3h0M196.3 973.1h0M200.2 968h0M204.1 963h0M208 958.2h0M211.9 953.9h0M215.8 949.8h0M219.7 946.1h0M223.6 942.7h0M227.5 939.5h0M231.4 936.5h0M235.3 933.5h0M239.2 930.4h0M243.1 927.3h0M247 924.2h0M250.9 921.5h0M254.8 920.1h0M258.7 921.5h0M262.6 924.2h0M266.5 927.3h0M270.4 930.4h0M274.3 933.5h0M278.2 936.5h0M282.1 939.5h0M286 942.7h0M289.9 946.1h0M293.8 949.8h0M297.7 953.9h0M301.6 958.2h0M305.5 963h0M309.4 968h0M313.3 973.1h0M317.2 978.3h0M321.1 983.5h0M325 988.4h0M340.6 1004h0M344.5 1006.8h0M348.4 1009.2h0M352.3 1011.5h0M356.2 1013.7h0M360.1 1016h0M364 1018.4h0M367.9 1021.2h0M371.8 1024.5h0M375.7 1027.9h0M379.6 1031.8h0M383.5 1036.1h0M387.4 1040.5h0M391.3 1045h0M395.2 1049.3h0M399.1 1053.4h0M403 1057h0M406.9 1060.1h0M410.8 1062.5h0M414.7 1064.3h0M418.6 1065.6h0M422.5 1066.4h0M426.4 1066.8h0M430.3 1067h0M434.2 1067.3h0M438.1 1067.7h0M442 1068.5h0M445.9 1069.6h0M449.8 1070.7h0M59.8 1070.3h0M71.5 1067.1h0M75.4 1065.5h0M79.3 1063.7h0M83.2 1061.8h0M87.1 1059.8h0M91 1057.6h0M94.9 1055.3h0M98.8 1052.9h0M102.7 1050.4h0M106.6 1047.9h0M110.5 1045.2h0M114.4 1042.5h0M118.3 1039.6h0M122.2 1036.8h0M126.1 1033.8h0M130 1030.7h0M149.5 1014.6h0M153.4 1011.2h0M157.3 1007.7h0M161.2 1004.1h0M165.1 1000.6h0M169 996.9h0M172.9 993.2h0M176.8 989.5h0M180.7 985.7h0M184.6 981.9h0M188.5 978h0M192.4 974.1h0M196.3 970.1h0M200.2 966.1h0M204.1 962.1h0M223.6 941.4h0M227.5 937.2h0M231.4 933.1h0M235.3 928.9h0M239.2 924.9h0M243.1 921h0M247 917.5h0M250.9 914.8h0M254.8 913.7h0M258.7 914.8h0M262.6 917.5h0M266.5 921h0M270.4 924.9h0M274.3 928.9h0M278.2 933.1h0M282.1 937.2h0M286 941.4h0M305.5 962.1h0M309.4 966.1h0M313.3 970.1h0M317.2 974.1h0M321.1 978h0M325 981.9h0M328.9 985.7h0M332.8 989.5h0M336.7 993.2h0M340.6 996.9h0M344.5 1000.6h0M348.4 1004.1h0M352.3 1007.7h0M356.2 1011.2h0M360.1 1014.6h0M379.6 1030.7h0M383.5 1033.8h0M387.4 1036.8h0M391.3 1039.6h0M395.2 1042.5h0M399.1 1045.2h0M403 1047.9h0M406.9 1050.4h0M410.8 1052.9h0M414.7 1055.3h0M418.6 1057.6h0M422.5 1059.8h0M426.4 1061.8h0M430.3 1063.7h0M434.2 1065.5h0M438.1 1067.1h0M449.8 1070.3h0M63.7 1089.7h0M67.6 1088.5h0M71.5 1087.1h0M75.4 1085.4h0M79.3 1083.5h0M87.1 1079.4h0M91 1077.1h0M94.9 1074.7h0M98.8 1072.2h0M102.7 1069.6h0M106.6 1066.9h0M126.1 1052.2h0M130 1049h0M133.9 1045.7h0M137.8 1042.4h0M141.7 1039h0M145.6 1035.5h0M149.5 1032h0M157.3 1024.8h0M161.2 1021.1h0M165.1 1017.3h0M169 1013.5h0M172.9 1009.6h0M180.7 1001.8h0M184.6 997.7h0M188.5 993.7h0M192.4 989.6h0M196.3 985.4h0M204.1 977h0M208 972.7h0M211.9 968.4h0M215.8 964.1h0M219.7 959.7h0M223.6 955.3h0M227.5 950.9h0M231.4 946.5h0M278.2 946.5h0M282.1 950.9h0M286 955.3h0M289.9 959.7h0M293.8 964.1h0M297.7 968.4h0M301.6 972.7h0M305.5 977h0M313.3 985.4h0M317.2 989.6h0M321.1 993.7h0M325 997.7h0M328.9 1001.8h0M336.7 1009.6h0M340.6 1013.5h0M344.5 1017.3h0M348.4 1021.1h0M352.3 1024.8h0M360.1 1032h0M364 1035.5h0M367.9 1039h0M371.8 1042.4h0M375.7 1045.7h0M379.6 1049h0M383.5 1052.2h0M403 1066.9h0M406.9 1069.6h0M410.8 1072.2h0M414.7 1074.7h0M418.6 1077.1h0M422.5 1079.4h0M430.3 1083.5h0M434.2 1085.4h0M438.1 1087.1h0M442 1088.5h0M445.9 1089.7h0M102.7 1089.9h0M106.6 1086.9h0M114.4 1080.5h0M118.3 1077.2h0M122.2 1073.8h0M130 1066.7h0M137.8 1059.3h0M141.7 1055.4h0M145.6 1051.5h0M149.5 1047.6h0M153.4 1043.6h0M157.3 1039.5h0M161.2 1035.3h0M165.1 1031.1h0M169 1026.8h0M172.9 1022.4h0M176.8 1018h0M180.7 1013.5h0M184.6 1009h0M188.5 1004.5h0M192.4 999.8h0M196.3 995.2h0M200.2 990.4h0M204.1 985.7h0M208 980.9h0M211.9 976h0M215.8 971.1h0M223.6 961.3h0M227.5 956.3h0M231.4 951.4h0M235.3 946.5h0M239.2 941.7h0M270.4 941.7h0M274.3 946.5h0M278.2 951.4h0M282.1 956.3h0M286 961.3h0M293.8 971.1h0M297.7 976h0M301.6 980.9h0M305.5 985.7h0M309.4 990.4h0M313.3 995.2h0M317.2 999.8h0M321.1 1004.5h0M325 1009h0M328.9 1013.5h0M332.8 1018h0M336.7 1022.4h0M340.6 1026.8h0M344.5 1031.1h0M348.4 1035.3h0M352.3 1039.5h0M356.2 1043.6h0M360.1 1047.6h0M364 1051.5h0M367.9 1055.4h0M371.8 1059.3h0M379.6 1066.7h0M387.4 1073.8h0M391.3 1077.2h0M395.2 1080.5h0M403 1086.9h0M406.9 1089.9h0M122.2 1089.8h0M126.1 1086.6h0M130 1083.4h0M133.9 1080.1h0M137.8 1076.7h0M141.7 1073.2h0M145.6 1069.7h0M149.5 1066.1h0M157.3 1058.7h0M161.2 1055h0M169 1047.3h0M172.9 1043.3h0M176.8 1039.3h0M180.7 1035.3h0M184.6 1031.2h0M188.5 1027h0M192.4 1022.9h0M196.3 1018.6h0M219.7 992.4h0M223.6 988h0M227.5 983.5h0M231.4 979h0M235.3 974.6h0M239.2 970.2h0M270.4 970.2h0M274.3 974.6h0M278.2 979h0M282.1 983.5h0M286 988h0M289.9 992.4h0M313.3 1018.6h0M317.2 1022.9h0M321.1 1027h0M325 1031.2h0M328.9 1035.3h0M332.8 1039.3h0M336.7 1043.3h0M340.6 1047.3h0M348.4 1055h0M352.3 1058.7h0M360.1 1066.1h0M364 1069.7h0M367.9 1073.2h0M371.8 1076.7h0M375.7 1080.1h0M379.6 1083.4h0M383.5 1086.6h0M387.4 1089.8h0M110.5 1089.9h0M114.4 1086.8h0M118.3 1083.6h0M122.2 1080.3h0M126.1 1076.9h0M130 1073.5h0M133.9 1069.9h0M137.8 1066.3h0M141.7 1062.7h0M145.6 1058.9h0M153.4 1051.2h0M157.3 1047.3h0M161.2 1043.3h0M169 1035.1h0M172.9 1030.9h0M176.8 1026.7h0M180.7 1022.4h0M184.6 1018.1h0M188.5 1013.7h0M192.4 1009.2h0M196.3 1004.7h0M200.2 1000.2h0M204.1 995.6h0M208 991h0M215.8 981.6h0M219.7 976.9h0M223.6 972.2h0M227.5 967.4h0M231.4 962.7h0M235.3 958h0M239.2 953.4h0M270.4 953.4h0M274.3 958h0M278.2 962.7h0M282.1 967.4h0M286 972.2h0M289.9 976.9h0M293.8 981.6h0M301.6 991h0M305.5 995.6h0M309.4 1000.2h0M313.3 1004.7h0M317.2 1009.2h0M321.1 1013.7h0M325 1018.1h0M328.9 1022.4h0M332.8 1026.7h0M336.7 1030.9h0M340.6 1035.1h0M348.4 1043.3h0M352.3 1047.3h0M356.2 1051.2h0M364 1058.9h0M367.9 1062.7h0M371.8 1066.3h0M375.7 1069.9h0M379.6 1073.5h0M383.5 1076.9h0M387.4 1080.3h0M391.3 1083.6h0M395.2 1086.8h0M399.1 1089.9h0M91 1088.9h0M102.7 1080.9h0M106.6 1078h0M110.5 1075h0M114.4 1071.9h0M118.3 1068.7h0M122.2 1065.5h0M130 1058.7h0M141.7 1048h0M145.6 1044.3h0M149.5 1040.5h0M153.4 1036.6h0M157.3 1032.7h0M161.2 1028.7h0M169 1020.6h0M172.9 1016.4h0M176.8 1012.2h0M180.7 1008h0M184.6 1003.7h0M188.5 999.3h0M192.4 994.9h0M196.3 990.4h0M200.2 985.9h0M204.1 981.4h0M223.6 958.1h0M227.5 953.3h0M282.1 953.3h0M286 958.1h0M305.5 981.4h0M309.4 985.9h0M313.3 990.4h0M317.2 994.9h0M321.1 999.3h0M325 1003.7h0M328.9 1008h0M332.8 1012.2h0M336.7 1016.4h0M340.6 1020.6h0M348.4 1028.7h0M352.3 1032.7h0M356.2 1036.6h0M360.1 1040.5h0M364 1044.3h0M367.9 1048h0M379.6 1058.7h0M387.4 1065.5h0M391.3 1068.7h0M395.2 1071.9h0M399.1 1075h0M403 1078h0M406.9 1080.9h0M418.6 1088.9h0M130 1090.1h0M133.9 1086.5h0M137.8 1082.7h0M141.7 1078.9h0M153.4 1067h0M157.3 1062.9h0M169 1050.2h0M172.9 1045.8h0M184.6 1032.4h0M188.5 1027.8h0M204.1 1009h0M208 1004.1h0M211.9 999.3h0M215.8 994.4h0M219.7 989.5h0M223.6 984.5h0M227.5 979.6h0M231.4 974.6h0M235.3 969.7h0M239.2 964.9h0M270.4 964.9h0M274.3 969.7h0M278.2 974.6h0M282.1 979.6h0M286 984.5h0M289.9 989.5h0M293.8 994.4h0M297.7 999.3h0M301.6 1004.1h0M305.5 1009h0M321.1 1027.8h0M325 1032.4h0M336.7 1045.8h0M340.6 1050.2h0M352.3 1062.9h0M356.2 1067h0M367.9 1078.9h0M371.8 1082.7h0M375.7 1086.5h0M379.6 1090.1h0M118.3 1085h0M122.2 1081.9h0M126.1 1078.6h0M130 1075.3h0M141.7 1064.9h0M145.6 1061.3h0M149.5 1057.7h0M153.4 1053.9h0M165.1 1042.4h0M169 1038.4h0M172.9 1034.4h0M176.8 1030.3h0M180.7 1026.2h0M184.6 1022h0M192.4 1013.5h0M196.3 1009.2h0M200.2 1004.8h0M204.1 1000.4h0M208 996h0M211.9 991.5h0M215.8 987h0M219.7 982.4h0M223.6 977.9h0M227.5 973.3h0M231.4 968.7h0M278.2 968.7h0M282.1 973.3h0M286 977.9h0M289.9 982.4h0M293.8 987h0M297.7 991.5h0M301.6 996h0M305.5 1000.4h0M309.4 1004.8h0M313.3 1009.2h0M317.2 1013.5h0M325 1022h0M328.9 1026.2h0M332.8 1030.3h0M336.7 1034.4h0M340.6 1038.4h0M344.5 1042.4h0M356.2 1053.9h0M360.1 1057.7h0M364 1061.3h0M367.9 1064.9h0M379.6 1075.3h0M383.5 1078.6h0M387.4 1081.9h0M391.3 1085h0M172.9 1089h0M176.8 1084h0M180.7 1078.9h0M184.6 1073.8h0M188.5 1068.6h0M192.4 1063.3h0M196.3 1058h0M200.2 1052.7h0M204.1 1047.2h0M208 1041.8h0M211.9 1036.3h0M215.8 1030.7h0M223.6 1019.6h0M227.5 1013.9h0M239.2 997.3h0M270.4 997.3h0M282.1 1013.9h0M286 1019.6h0M293.8 1030.7h0M297.7 1036.3h0M301.6 1041.8h0M305.5 1047.2h0M309.4 1052.7h0M313.3 1058h0M317.2 1063.3h0M321.1 1068.6h0M325 1073.8h0M328.9 1078.9h0M332.8 1084h0M336.7 1089h0M130 1083.7h0M137.8 1075.8h0M141.7 1071.7h0M145.6 1067.5h0M149.5 1063.3h0M153.4 1059h0M157.3 1054.6h0M161.2 1050.2h0M180.7 1027h0M188.5 1017.3h0M192.4 1012.4h0M196.3 1007.4h0M200.2 1002.4h0M204.1 997.3h0M208 992.2h0M211.9 987h0M223.6 971.3h0M227.5 966h0M231.4 960.8h0M235.3 955.5h0M239.2 950.4h0M270.4 950.4h0M274.3 955.5h0M278.2 960.8h0M282.1 966h0M286 971.3h0M297.7 987h0M301.6 992.2h0M305.5 997.3h0M309.4 1002.4h0M313.3 1007.4h0M317.2 1012.4h0M321.1 1017.3h0M328.9 1027h0M348.4 1050.2h0M352.3 1054.6h0M356.2 1059h0M360.1 1063.3h0M364 1067.5h0M367.9 1071.7h0M371.8 1075.8h0M379.6 1083.7h0M75.4 1089h0M79.3 1087.1h0M83.2 1085h0M87.1 1082.8h0M98.8 1075.3h0M102.7 1072.6h0M106.6 1069.8h0M110.5 1066.8h0M114.4 1063.8h0M118.3 1060.8h0M122.2 1057.6h0M126.1 1054.3h0M137.8 1044.1h0M141.7 1040.6h0M145.6 1037h0M153.4 1029.5h0M157.3 1025.7h0M161.2 1021.9h0M165.1 1017.9h0M188.5 993.3h0M192.4 989h0M200.2 980.2h0M204.1 975.8h0M208 971.4h0M211.9 966.9h0M215.8 962.3h0M219.7 957.8h0M231.4 944h0M235.3 939.5h0M239.2 935h0M270.4 935h0M274.3 939.5h0M278.2 944h0M289.9 957.8h0M293.8 962.3h0M297.7 966.9h0M301.6 971.4h0M305.5 975.8h0M309.4 980.2h0M317.2 989h0M321.1 993.3h0M344.5 1017.9h0M348.4 1021.9h0M352.3 1025.7h0M356.2 1029.5h0M364 1037h0M367.9 1040.6h0M371.8 1044.1h0M383.5 1054.3h0M387.4 1057.6h0M391.3 1060.8h0M395.2 1063.8h0M399.1 1066.8h0M403 1069.8h0M406.9 1072.6h0M410.8 1075.3h0M422.5 1082.8h0M426.4 1085h0M430.3 1087.1h0M434.2 1089h0M79.3 1090.3h0M83.2 1088.2h0M87.1 1086h0M91 1083.7h0M94.9 1081.2h0M98.8 1078.6h0M102.7 1076h0M106.6 1073.2h0M110.5 1070.3h0M114.4 1067.4h0M118.3 1064.3h0M122.2 1061.2h0M126.1 1058h0M130 1054.7h0M133.9 1051.4h0M137.8 1047.9h0M141.7 1044.4h0M145.6 1040.9h0M149.5 1037.3h0M153.4 1033.6h0M157.3 1029.8h0M161.2 1026h0M165.1 1022.2h0M169 1018.2h0M172.9 1014.3h0M176.8 1010.2h0M180.7 1006.1h0M184.6 1002h0M188.5 997.8h0M196.3 989.3h0M200.2 985h0M208 976.3h0M301.6 976.3h0M309.4 985h0M313.3 989.3h0M321.1 997.8h0M325 1002h0M328.9 1006.1h0M332.8 1010.2h0M336.7 1014.3h0M340.6 1018.2h0M344.5 1022.2h0M348.4 1026h0M352.3 1029.8h0M356.2 1033.6h0M360.1 1037.3h0M364 1040.9h0M367.9 1044.4h0M371.8 1047.9h0M375.7 1051.4h0M379.6 1054.7h0M383.5 1058h0M387.4 1061.2h0M391.3 1064.3h0M395.2 1067.4h0M399.1 1070.3h0M403 1073.2h0M406.9 1076h0M410.8 1078.6h0M414.7 1081.2h0M418.6 1083.7h0M422.5 1086h0M426.4 1088.2h0M430.3 1090.3h0M110.5 1088.2h0M114.4 1084.6h0M126.1 1073.5h0M130 1069.6h0M133.9 1065.6h0M137.8 1061.5h0M141.7 1057.4h0M145.6 1053.1h0M149.5 1048.8h0M157.3 1040h0M172.9 1021.4h0M176.8 1016.7h0M184.6 1006.9h0M188.5 1001.9h0M192.4 996.9h0M215.8 965.6h0M227.5 949.5h0M239.2 933.6h0M270.4 933.6h0M282.1 949.5h0M293.8 965.6h0M317.2 996.9h0M321.1 1001.9h0M325 1006.9h0M332.8 1016.7h0M336.7 1021.4h0M352.3 1040h0M360.1 1048.8h0M364 1053.1h0M367.9 1057.4h0M371.8 1061.5h0M375.7 1065.6h0M379.6 1069.6h0M383.5 1073.5h0M395.2 1084.6h0M399.1 1088.2h0M153.4 1088.4h0M157.3 1083.4h0M161.2 1078.4h0M165.1 1073.2h0M176.8 1057.3h0M180.7 1051.8h0M184.6 1046.3h0M188.5 1040.7h0M196.3 1029.4h0M204.1 1017.8h0M208 1011.9h0M211.9 1006h0M215.8 1000.1h0M227.5 982h0M231.4 976h0M278.2 976h0M282.1 982h0M293.8 1000.1h0M297.7 1006h0M301.6 1011.9h0M305.5 1017.8h0M313.3 1029.4h0M321.1 1040.7h0M325 1046.3h0M328.9 1051.8h0M332.8 1057.3h0M344.5 1073.2h0M348.4 1078.4h0M352.3 1083.4h0M356.2 1088.4h0M133.9 1088.4h0M137.8 1084.1h0M165.1 1051.6h0M180.7 1031.5h0M188.5 1021h0M192.4 1015.7h0M196.3 1010.3h0M204.1 999.4h0M208 993.8h0M231.4 959.9h0M278.2 959.9h0M301.6 993.8h0M305.5 999.4h0M313.3 1010.3h0M317.2 1015.7h0M321.1 1021h0M328.9 1031.5h0M344.5 1051.6h0M371.8 1084.1h0M375.7 1088.4h0M59.8 1074.6h0M63.7 1074h0M67.6 1073h0M71.5 1071.7h0M75.4 1070.3h0M79.3 1068.7h0M87.1 1065.1h0M91 1063.2h0M94.9 1061.1h0M98.8 1059h0M102.7 1056.7h0M106.6 1054.4h0M110.5 1052h0M114.4 1049.6h0M122.2 1044.4h0M126.1 1041.8h0M130 1039h0M133.9 1036.2h0M137.8 1033.4h0M141.7 1030.4h0M145.6 1027.5h0M149.5 1024.5h0M153.4 1021.4h0M161.2 1015.1h0M165.1 1011.9h0M344.5 1011.9h0M348.4 1015.1h0M356.2 1021.4h0M360.1 1024.5h0M364 1027.5h0M367.9 1030.4h0M371.8 1033.4h0M375.7 1036.2h0M379.6 1039h0M383.5 1041.8h0M387.4 1044.4h0M395.2 1049.6h0M399.1 1052h0M403 1054.4h0M406.9 1056.7h0M410.8 1059h0M414.7 1061.1h0M418.6 1063.2h0M422.5 1065.1h0M430.3 1068.7h0M434.2 1070.3h0M438.1 1071.7h0M442 1073h0M445.9 1074h0M449.8 1074.6h0M59.8 1078.9h0M67.6 1077.3h0M71.5 1076h0M75.4 1074.6h0M79.3 1073h0M83.2 1071.3h0M87.1 1069.4h0M91 1067.5h0M94.9 1065.4h0M102.7 1061.1h0M106.6 1058.7h0M114.4 1053.9h0M118.3 1051.3h0M122.2 1048.7h0M126.1 1046.1h0M130 1043.3h0M133.9 1040.5h0M137.8 1037.7h0M145.6 1031.8h0M149.5 1028.8h0M153.4 1025.7h0M157.3 1022.6h0M161.2 1019.4h0M348.4 1019.4h0M352.3 1022.6h0M356.2 1025.7h0M360.1 1028.8h0M364 1031.8h0M371.8 1037.7h0M375.7 1040.5h0M379.6 1043.3h0M383.5 1046.1h0M387.4 1048.7h0M391.3 1051.3h0M395.2 1053.9h0M403 1058.7h0M406.9 1061.1h0M414.7 1065.4h0M418.6 1067.5h0M422.5 1069.4h0M426.4 1071.3h0M430.3 1073h0M434.2 1074.6h0M438.1 1076h0M442 1077.3h0M449.8 1078.9h0M71.5 1080.4h0M75.4 1078.9h0M87.1 1073.8h0M91 1071.8h0M106.6 1063.1h0M110.5 1060.7h0M118.3 1055.7h0M122.2 1053.1h0M126.1 1050.4h0M130 1047.7h0M133.9 1044.9h0M157.3 1026.9h0M161.2 1023.7h0M165.1 1020.5h0M344.5 1020.5h0M348.4 1023.7h0M352.3 1026.9h0M375.7 1044.9h0M379.6 1047.7h0M383.5 1050.4h0M387.4 1053.1h0M391.3 1055.7h0M399.1 1060.7h0M403 1063.1h0M418.6 1071.8h0M422.5 1073.8h0M434.2 1078.9h0M438.1 1080.4h0M59.8 1087.6h0M63.7 1086.9h0M67.6 1085.9h0M71.5 1084.7h0M75.4 1083.2h0M79.3 1081.6h0M83.2 1079.9h0M91 1076.1h0M94.9 1074.1h0M110.5 1065h0M114.4 1062.5h0M118.3 1060h0M122.2 1057.4h0M126.1 1054.7h0M130 1052h0M133.9 1049.2h0M137.8 1046.3h0M141.7 1043.4h0M145.6 1040.4h0M157.3 1031.2h0M161.2 1028h0M348.4 1028h0M352.3 1031.2h0M364 1040.4h0M367.9 1043.4h0M371.8 1046.3h0M375.7 1049.2h0M379.6 1052h0M383.5 1054.7h0M387.4 1057.4h0M391.3 1060h0M395.2 1062.5h0M399.1 1065h0M414.7 1074.1h0M418.6 1076.1h0M426.4 1079.9h0M430.3 1081.6h0M434.2 1083.2h0M438.1 1084.7h0M442 1085.9h0M445.9 1086.9h0M449.8 1087.6h0M67.6 1090.2h0M71.5 1089h0M75.4 1087.5h0M83.2 1084.2h0M87.1 1082.4h0M98.8 1076.2h0M102.7 1074h0M106.6 1071.7h0M110.5 1069.3h0M122.2 1061.7h0M126.1 1059h0M133.9 1053.5h0M137.8 1050.6h0M145.6 1044.8h0M149.5 1041.7h0M153.4 1038.7h0M356.2 1038.7h0M360.1 1041.7h0M364 1044.8h0M371.8 1050.6h0M375.7 1053.5h0M383.5 1059h0M387.4 1061.7h0M399.1 1069.3h0M403 1071.7h0M406.9 1074h0M410.8 1076.2h0M422.5 1082.4h0M426.4 1084.2h0M434.2 1087.5h0M438.1 1089h0M442 1090.2h0M59.8 1067.9h0M63.7 1067.3h0M67.6 1066.1h0M71.5 1064.7h0M75.4 1063.1h0M79.3 1061.4h0M83.2 1059.4h0M87.1 1057.4h0M91 1055.2h0M94.9 1052.9h0M98.8 1050.6h0M102.7 1048.1h0M106.6 1045.5h0M110.5 1042.9h0M114.4 1040.1h0M118.3 1037.3h0M122.2 1034.4h0M126.1 1031.4h0M130 1028.4h0M133.9 1025.3h0M137.8 1022.1h0M141.7 1018.9h0M145.6 1015.6h0M149.5 1012.2h0M153.4 1008.8h0M157.3 1005.3h0M161.2 1001.8h0M165.1 998.2h0M169 994.5h0M172.9 988.9h0M176.8 983.2h0M180.7 977.5h0M184.6 971.8h0M188.5 966.2h0M192.4 960.5h0M196.3 954.8h0M200.2 949.2h0M204.1 943.5h0M208 937.9h0M211.9 932.2h0M215.8 926.6h0M219.7 921h0M223.6 915.4h0M227.5 909.8h0M231.4 904.2h0M235.3 898.8h0M239.2 893.4h0M243.1 888.1h0M247 883.3h0M250.9 879.3h0M254.8 877.6h0M258.7 879.3h0M262.6 883.3h0M266.5 888.1h0M270.4 893.4h0M274.3 898.8h0M278.2 904.2h0M282.1 909.8h0M286 915.4h0M289.9 921h0M293.8 926.6h0M297.7 932.2h0M301.6 937.9h0M305.5 943.5h0M309.4 949.2h0M313.3 954.8h0M317.2 960.5h0M321.1 966.2h0M325 971.8h0M328.9 977.5h0M332.8 983.2h0M336.7 988.9h0M340.6 994.5h0M344.5 998.2h0M348.4 1001.8h0M352.3 1005.3h0M356.2 1008.8h0M360.1 1012.2h0M364 1015.6h0M367.9 1018.9h0M371.8 1022.1h0M375.7 1025.3h0M379.6 1028.4h0M383.5 1031.4h0M387.4 1034.4h0M391.3 1037.3h0M395.2 1040.1h0M399.1 1042.9h0M403 1045.5h0M406.9 1048.1h0M410.8 1050.6h0M414.7 1052.9h0M418.6 1055.2h0M422.5 1057.4h0M426.4 1059.4h0M430.3 1061.4h0M434.2 1063.1h0M438.1 1064.7h0M442 1066.1h0M445.9 1067.3h0M449.8 1067.9h0M59.8 833.2h0M63.7 832.4h0M67.6 831.6h0M71.5 830.7h0M75.4 829.9h0M79.3 829h0M83.2 828.1h0M87.1 827.3h0M91 826.4h0M94.9 825.5h0M98.8 824.6h0M102.7 823.7h0M106.6 822.8h0M110.5 822h0M114.4 821.1h0M118.3 820.2h0M122.2 819.3h0M126.1 818.4h0M130 817.4h0M133.9 816.3h0M137.8 815.2h0M141.7 813.8h0M145.6 812.2h0M149.5 810.4h0M153.4 808.7h0M157.3 807.2h0M161.2 806.1h0M165.1 805.3h0M169 804.5h0M172.9 803.8h0M176.8 803.2h0M180.7 802.8h0M184.6 802.6h0M188.5 802.8h0M192.4 803.5h0M196.3 804.4h0M200.2 805.4h0M204.1 806.4h0M208 807.7h0M211.9 809.2h0M215.8 810.9h0M219.7 812.9h0M223.6 815.5h0M227.5 818.4h0M231.4 821.7h0M235.3 825.7h0M239.2 830.2h0M243.1 834.8h0M247 839.4h0M250.9 844.1h0M254.8 848.9h0M258.7 844.1h0M262.6 839.4h0M266.5 834.8h0M270.4 830.2h0M274.3 825.7h0M278.2 821.7h0M282.1 818.4h0M286 815.5h0M289.9 812.9h0M293.8 810.9h0M297.7 809.2h0M301.6 807.7h0M305.5 806.4h0M309.4 805.4h0M313.3 804.4h0M317.2 803.5h0M321.1 802.8h0M325 802.6h0M328.9 802.8h0M332.8 803.2h0M336.7 803.8h0M340.6 804.5h0M344.5 805.3h0M348.4 806.1h0M352.3 807.2h0M356.2 808.7h0M360.1 810.4h0M364 812.2h0M367.9 813.8h0M371.8 815.2h0M375.7 816.3h0M379.6 817.4h0M383.5 818.4h0M387.4 819.3h0M391.3 820.2h0M395.2 821.1h0M399.1 822h0M403 822.8h0M406.9 823.7h0M410.8 824.6h0M414.7 825.5h0M418.6 826.4h0M422.5 827.3h0M426.4 828.1h0M430.3 829h0M434.2 829.9h0M438.1 830.7h0M442 831.6h0M445.9 832.4h0M449.8 833.2h0M227.5 781.9h0M231.4 788.6h0M235.3 795.4h0M239.2 802.1h0M243.1 808.8h0M247 815.5h0M250.9 822.2h0M254.8 828.9h0M258.7 822.2h0M262.6 815.5h0M266.5 808.8h0M270.4 802.1h0M274.3 795.4h0M278.2 788.6h0M282.1 781.9h0M231.4 784.2h0M235.3 791.2h0M239.2 798.2h0M243.1 805.2h0M247 812.2h0M250.9 819.2h0M254.8 826.2h0M258.7 819.2h0M262.6 812.2h0M266.5 805.2h0M270.4 798.2h0M274.3 791.2h0M278.2 784.2h0M231.4 779.6h0M235.3 786.9h0M239.2 794.2h0M243.1 801.5h0M247 808.8h0M250.9 816.1h0M254.8 823.4h0M258.7 816.1h0M262.6 808.8h0M266.5 801.5h0M270.4 794.2h0M274.3 786.9h0M278.2 779.6h0M227.5 783.4h0M231.4 789.7h0M235.3 795.9h0M243.1 808.5h0M250.9 821.1h0M254.8 827.3h0M258.7 821.1h0M266.5 808.5h0M274.3 795.9h0M278.2 789.7h0M282.1 783.4h0M254.8 828.1h0M254.8 825h0M254.8 821.8h0M254.8 818.7h0M254.8 815.6h0M254.8 812.4h0M254.8 809.3h0M254.8 806.1h0M247 808.4h0M250.9 815.1h0M258.7 815.1h0M262.6 808.4h0M247 806.1h0M250.9 812.8h0M258.7 812.8h0M262.6 806.1h0M250.9 810.4h0M254.8 817.1h0M258.7 810.4h0M250.9 808.1h0M254.8 814.8h0M258.7 808.1h0M250.9 805.7h0M258.7 805.7h0M254.8 810.1h0M254.8 807.7h0M59.8 830.1h0M63.7 828.7h0M67.6 827.3h0M71.5 826h0M75.4 824.6h0M79.3 823.2h0M83.2 821.8h0M87.1 820.5h0M91 819.1h0M94.9 817.7h0M98.8 816.3h0M102.7 815h0M106.6 813.6h0M110.5 812.2h0M114.4 810.9h0M118.3 809.5h0M122.2 808.1h0M126.1 806.7h0M130 805.4h0M133.9 804h0M137.8 802.6h0M141.7 801.6h0M145.6 800.6h0M149.5 799.7h0M153.4 798.7h0M157.3 797.7h0M161.2 796.7h0M165.1 795.7h0M169 794.8h0M172.9 793.8h0M176.8 792.8h0M180.7 792.1h0M184.6 791.3h0M188.5 790.6h0M192.4 789.9h0M196.3 789.1h0M200.2 788.4h0M204.1 787.7h0M208 786.9h0M211.9 786.2h0M215.8 785.5h0M219.7 784.8h0M289.9 784.8h0M293.8 785.5h0M297.7 786.2h0M301.6 786.9h0M305.5 787.7h0M309.4 788.4h0M313.3 789.1h0M317.2 789.9h0M321.1 790.6h0M325 791.3h0M328.9 792.1h0M332.8 792.8h0M336.7 793.8h0M340.6 794.8h0M344.5 795.7h0M348.4 796.7h0M352.3 797.7h0M356.2 798.7h0M360.1 799.7h0M364 800.6h0M367.9 801.6h0M371.8 802.6h0M375.7 804h0M379.6 805.4h0M383.5 806.7h0M387.4 808.1h0M391.3 809.5h0M395.2 810.9h0M399.1 812.2h0M403 813.6h0M406.9 815h0M410.8 816.3h0M414.7 817.7h0M418.6 819.1h0M422.5 820.5h0M426.4 821.8h0M430.3 823.2h0M434.2 824.6h0M438.1 826h0M442 827.3h0M445.9 828.7h0M449.8 830.1h0M59.8 826.3h0M63.7 825.7h0M67.6 825.1h0M71.5 824.3h0M75.4 823.4h0M79.3 822.3h0M83.2 821h0M91 818h0M94.9 816.2h0M98.8 814.4h0M102.7 812.6h0M106.6 810.7h0M110.5 808.9h0M114.4 807.1h0M118.3 805.4h0M122.2 803.8h0M126.1 802.3h0M130 800.9h0M133.9 799.7h0M137.8 798.5h0M141.7 797.8h0M145.6 797.2h0M149.5 796.6h0M153.4 796h0M157.3 795.5h0M161.2 794.9h0M165.1 794.4h0M169 793.7h0M172.9 793h0M176.8 792.3h0M188.5 790.3h0M204.1 786.9h0M208 786h0M211.9 785.2h0M215.8 784.3h0M219.7 783.5h0M289.9 783.5h0M293.8 784.3h0M297.7 785.2h0M301.6 786h0M305.5 786.9h0M321.1 790.3h0M332.8 792.3h0M336.7 793h0M340.6 793.7h0M344.5 794.4h0M348.4 794.9h0M352.3 795.5h0M356.2 796h0M360.1 796.6h0M364 797.2h0M367.9 797.8h0M371.8 798.5h0M375.7 799.7h0M379.6 800.9h0M383.5 802.3h0M387.4 803.8h0M391.3 805.4h0M395.2 807.1h0M399.1 808.9h0M403 810.7h0M406.9 812.6h0M410.8 814.4h0M414.7 816.2h0M418.6 818h0M426.4 821h0M430.3 822.3h0M434.2 823.4h0M438.1 824.3h0M442 825.1h0M445.9 825.7h0M449.8 826.3h0M59.8 819.8h0M63.7 817.5h0M67.6 815.8h0M71.5 814.5h0M75.4 813.8h0M79.3 813.5h0M83.2 813.4h0M87.1 813.4h0M91 813.3h0M94.9 812.9h0M98.8 812.2h0M102.7 810.9h0M106.6 809.3h0M110.5 807.4h0M114.4 805.4h0M118.3 803.3h0M122.2 801.4h0M126.1 799.7h0M130 798.3h0M133.9 797.3h0M137.8 796.5h0M141.7 796.3h0M145.6 796.1h0M149.5 796h0M161.2 794.4h0M165.1 793.5h0M169 792.3h0M172.9 791h0M176.8 789.7h0M180.7 788.6h0M184.6 787.6h0M188.5 786.8h0M192.4 786.1h0M196.3 785.7h0M200.2 785.3h0M204.1 785h0M208 784.8h0M211.9 784.5h0M219.7 783.6h0M289.9 783.6h0M297.7 784.5h0M301.6 784.8h0M305.5 785h0M309.4 785.3h0M313.3 785.7h0M317.2 786.1h0M321.1 786.8h0M325 787.6h0M328.9 788.6h0M332.8 789.7h0M336.7 791h0M340.6 792.3h0M344.5 793.5h0M348.4 794.4h0M360.1 796h0M364 796.1h0M367.9 796.3h0M371.8 796.5h0M375.7 797.3h0M379.6 798.3h0M383.5 799.7h0M387.4 801.4h0M391.3 803.3h0M395.2 805.4h0M399.1 807.4h0M403 809.3h0M406.9 810.9h0M410.8 812.2h0M414.7 812.9h0M418.6 813.3h0M422.5 813.4h0M426.4 813.4h0M430.3 813.5h0M434.2 813.8h0M438.1 814.5h0M442 815.8h0M445.9 817.5h0M449.8 819.8h0M59.8 813.4h0M63.7 812.7h0M67.6 812.2h0M71.5 811.8h0M75.4 811.5h0M79.3 811.3h0M83.2 811h0M87.1 810.7h0M91 810.2h0M94.9 809.5h0M98.8 808.7h0M102.7 807.7h0M106.6 806.5h0M110.5 805.2h0M114.4 803.7h0M118.3 802.1h0M126.1 798.9h0M130 797.3h0M133.9 795.8h0M137.8 794.4h0M141.7 793.4h0M145.6 792.5h0M149.5 791.7h0M153.4 791.1h0M157.3 790.5h0M161.2 790h0M165.1 789.6h0M169 789.2h0M172.9 788.8h0M176.8 788.4h0M180.7 788.1h0M192.4 786.8h0M200.2 785.6h0M208 784.2h0M211.9 783.5h0M215.8 782.7h0M219.7 781.9h0M289.9 781.9h0M293.8 782.7h0M297.7 783.5h0M301.6 784.2h0M309.4 785.6h0M317.2 786.8h0M328.9 788.1h0M332.8 788.4h0M336.7 788.8h0M340.6 789.2h0M344.5 789.6h0M348.4 790h0M352.3 790.5h0M356.2 791.1h0M360.1 791.7h0M364 792.5h0M367.9 793.4h0M371.8 794.4h0M375.7 795.8h0M379.6 797.3h0M383.5 798.9h0M391.3 802.1h0M395.2 803.7h0M399.1 805.2h0M403 806.5h0M406.9 807.7h0M410.8 808.7h0M414.7 809.5h0M418.6 810.2h0M422.5 810.7h0M426.4 811h0M430.3 811.3h0M434.2 811.5h0M438.1 811.8h0M442 812.2h0M445.9 812.7h0M449.8 813.4h0M59.8 815.6h0M63.7 813.8h0M71.5 809.5h0M75.4 807.3h0M79.3 805.4h0M83.2 803.9h0M87.1 802.8h0M91 802.2h0M94.9 802h0M98.8 802h0M102.7 802.1h0M106.6 802.1h0M110.5 801.8h0M114.4 801.2h0M118.3 800.3h0M122.2 799h0M126.1 797.4h0M130 795.7h0M133.9 794h0M137.8 792.4h0M141.7 791.2h0M145.6 790.3h0M149.5 789.7h0M153.4 789.3h0M157.3 789.1h0M161.2 789h0M165.1 788.9h0M172.9 788.3h0M180.7 787.2h0M184.6 786.4h0M188.5 785.5h0M192.4 784.6h0M196.3 783.7h0M200.2 782.9h0M204.1 782.2h0M208 781.6h0M211.9 781.2h0M215.8 780.9h0M219.7 780.6h0M289.9 780.6h0M293.8 780.9h0M297.7 781.2h0M301.6 781.6h0M305.5 782.2h0M309.4 782.9h0M313.3 783.7h0M317.2 784.6h0M321.1 785.5h0M325 786.4h0M328.9 787.2h0M336.7 788.3h0M344.5 788.9h0M348.4 789h0M352.3 789.1h0M356.2 789.3h0M360.1 789.7h0M364 790.3h0M367.9 791.2h0M371.8 792.4h0M375.7 794h0M379.6 795.7h0M383.5 797.4h0M387.4 799h0M391.3 800.3h0M395.2 801.2h0M399.1 801.8h0M403 802.1h0M406.9 802.1h0M410.8 802h0M414.7 802h0M418.6 802.2h0M422.5 802.8h0M426.4 803.9h0M430.3 805.4h0M434.2 807.3h0M438.1 809.5h0M445.9 813.8h0M449.8 815.6h0M59.8 810.2h0M63.7 810.1h0M67.6 809.5h0M71.5 808.5h0M83.2 803.4h0M87.1 801.5h0M91 799.7h0M94.9 798.2h0M98.8 796.9h0M102.7 796h0M106.6 795.5h0M110.5 795.2h0M114.4 795.2h0M118.3 795.1h0M122.2 795.1h0M126.1 794.8h0M130 794.4h0M137.8 792.8h0M141.7 791.8h0M145.6 790.8h0M153.4 788.4h0M157.3 787.3h0M161.2 786.3h0M165.1 785.4h0M169 784.8h0M172.9 784.4h0M176.8 784.1h0M180.7 784h0M184.6 783.9h0M188.5 783.9h0M192.4 783.8h0M204.1 782.7h0M219.7 779.9h0M289.9 779.9h0M305.5 782.7h0M317.2 783.8h0M321.1 783.9h0M325 783.9h0M328.9 784h0M332.8 784.1h0M336.7 784.4h0M340.6 784.8h0M344.5 785.4h0M348.4 786.3h0M352.3 787.3h0M356.2 788.4h0M364 790.8h0M367.9 791.8h0M371.8 792.8h0M379.6 794.4h0M383.5 794.8h0M387.4 795.1h0M391.3 795.1h0M395.2 795.2h0M399.1 795.2h0M403 795.5h0M406.9 796h0M410.8 796.9h0M414.7 798.2h0M418.6 799.7h0M422.5 801.5h0M426.4 803.4h0M438.1 808.5h0M442 809.5h0M445.9 810.1h0M449.8 810.2h0M59.8 806.7h0M63.7 806.1h0M67.6 805.1h0M71.5 803.8h0M75.4 802.3h0M79.3 800.6h0M83.2 798.9h0M87.1 797.2h0M91 795.7h0M94.9 794.5h0M98.8 793.5h0M102.7 792.8h0M106.6 792.3h0M110.5 792.1h0M114.4 792h0M118.3 792h0M122.2 792h0M126.1 791.8h0M130 791.6h0M133.9 791.1h0M137.8 790.5h0M141.7 789.8h0M145.6 789.1h0M149.5 788.1h0M153.4 787.1h0M157.3 786.1h0M161.2 785.1h0M165.1 784.2h0M169 783.4h0M172.9 782.7h0M176.8 782.2h0M180.7 781.9h0M184.6 781.7h0M188.5 781.6h0M192.4 781.5h0M196.3 781.5h0M200.2 781.4h0M204.1 781.2h0M208 781h0M215.8 780.2h0M293.8 780.2h0M301.6 781h0M305.5 781.2h0M309.4 781.4h0M313.3 781.5h0M317.2 781.5h0M321.1 781.6h0M325 781.7h0M328.9 781.9h0M332.8 782.2h0M336.7 782.7h0M340.6 783.4h0M344.5 784.2h0M348.4 785.1h0M352.3 786.1h0M356.2 787.1h0M360.1 788.1h0M364 789.1h0M367.9 789.8h0M371.8 790.5h0M375.7 791.1h0M379.6 791.6h0M383.5 791.8h0M387.4 792h0M391.3 792h0M395.2 792h0M399.1 792.1h0M403 792.3h0M406.9 792.8h0M410.8 793.5h0M414.7 794.5h0M418.6 795.7h0M422.5 797.2h0M426.4 798.9h0M430.3 800.6h0M434.2 802.3h0M438.1 803.8h0M442 805.1h0M445.9 806.1h0M449.8 806.7h0M59.8 795.8h0M63.7 795.1h0M67.6 794.5h0M71.5 794h0M75.4 793.6h0M79.3 793.4h0M83.2 793.2h0M87.1 793.1h0M91 793h0M94.9 793h0M106.6 792.5h0M118.3 791.5h0M122.2 790.9h0M126.1 790.3h0M130 789.6h0M133.9 788.8h0M137.8 787.9h0M141.7 787.2h0M145.6 786.5h0M149.5 785.7h0M153.4 784.9h0M157.3 784.1h0M161.2 783.4h0M165.1 782.7h0M169 782h0M172.9 781.4h0M176.8 780.8h0M180.7 780.4h0M184.6 780h0M188.5 779.7h0M192.4 779.4h0M196.3 779.2h0M200.2 779h0M204.1 778.8h0M208 778.6h0M211.9 778.5h0M215.8 778.3h0M219.7 778.1h0M289.9 778.1h0M293.8 778.3h0M297.7 778.5h0M301.6 778.6h0M305.5 778.8h0M309.4 779h0M313.3 779.2h0M317.2 779.4h0M321.1 779.7h0M325 780h0M328.9 780.4h0M332.8 780.8h0M336.7 781.4h0M340.6 782h0M344.5 782.7h0M348.4 783.4h0M352.3 784.1h0M356.2 784.9h0M360.1 785.7h0M364 786.5h0M367.9 787.2h0M371.8 787.9h0M375.7 788.8h0M379.6 789.6h0M383.5 790.3h0M387.4 790.9h0M391.3 791.5h0M403 792.5h0M414.7 793h0M418.6 793h0M422.5 793.1h0M426.4 793.2h0M430.3 793.4h0M434.2 793.6h0M438.1 794h0M442 794.5h0M445.9 795.1h0M449.8 795.8h0M63.7 796.5h0M67.6 796.4h0M71.5 796.1h0M75.4 795.6h0M79.3 794.8h0M83.2 793.8h0M91 791.4h0M94.9 790.1h0M98.8 788.8h0M102.7 787.6h0M106.6 786.5h0M110.5 785.7h0M114.4 784.9h0M118.3 784.4h0M122.2 784.1h0M126.1 783.9h0M130 783.8h0M133.9 783.8h0M137.8 783.8h0M141.7 783.9h0M145.6 784h0M149.5 783.9h0M153.4 783.8h0M188.5 779h0M192.4 778.5h0M196.3 778h0M313.3 778h0M317.2 778.5h0M321.1 779h0M356.2 783.8h0M360.1 783.9h0M364 784h0M367.9 783.9h0M371.8 783.8h0M375.7 783.8h0M379.6 783.8h0M383.5 783.9h0M387.4 784.1h0M391.3 784.4h0M395.2 784.9h0M399.1 785.7h0M403 786.5h0M406.9 787.6h0M410.8 788.8h0M414.7 790.1h0M418.6 791.4h0M426.4 793.8h0M430.3 794.8h0M434.2 795.6h0M438.1 796.1h0M442 796.4h0M445.9 796.5h0M59.8 788.6h0M63.7 787.3h0M67.6 786.3h0M71.5 785.7h0M75.4 785.5h0M79.3 785.6h0M83.2 786.1h0M87.1 786.6h0M91 787.2h0M94.9 787.7h0M98.8 787.9h0M106.6 787.5h0M110.5 786.9h0M114.4 785.9h0M118.3 784.8h0M126.1 782.5h0M130 781.4h0M133.9 780.6h0M137.8 779.9h0M141.7 779.6h0M145.6 779.6h0M149.5 779.6h0M153.4 779.8h0M157.3 780.1h0M161.2 780.3h0M165.1 780.4h0M169 780.4h0M172.9 780.2h0M176.8 779.9h0M180.7 779.5h0M184.6 779h0M188.5 778.4h0M321.1 778.4h0M325 779h0M328.9 779.5h0M332.8 779.9h0M336.7 780.2h0M340.6 780.4h0M344.5 780.4h0M348.4 780.3h0M352.3 780.1h0M356.2 779.8h0M360.1 779.6h0M364 779.6h0M367.9 779.6h0M371.8 779.9h0M375.7 780.6h0M379.6 781.4h0M383.5 782.5h0M391.3 784.8h0M395.2 785.9h0M399.1 786.9h0M403 787.5h0M410.8 787.9h0M414.7 787.7h0M418.6 787.2h0M422.5 786.6h0M426.4 786.1h0M430.3 785.6h0M434.2 785.5h0M438.1 785.7h0M442 786.3h0M445.9 787.3h0M449.8 788.6h0M59.8 782.3h0M63.7 782.5h0M67.6 782.9h0M71.5 783.5h0M75.4 784.2h0M79.3 784.9h0M83.2 785.4h0M87.1 785.7h0M91 785.8h0M94.9 785.6h0M98.8 785.1h0M102.7 784.3h0M106.6 783.4h0M110.5 782.4h0M114.4 781.3h0M118.3 780.3h0M122.2 779.4h0M126.1 778.6h0M130 778.1h0M145.6 778h0M149.5 778.2h0M153.4 778.5h0M157.3 778.8h0M161.2 778.9h0M165.1 779h0M169 778.9h0M172.9 778.6h0M176.8 778.2h0M332.8 778.2h0M336.7 778.6h0M340.6 778.9h0M344.5 779h0M348.4 778.9h0M352.3 778.8h0M356.2 778.5h0M360.1 778.2h0M364 778h0M379.6 778.1h0M383.5 778.6h0M387.4 779.4h0M391.3 780.3h0M395.2 781.3h0M399.1 782.4h0M403 783.4h0M406.9 784.3h0M410.8 785.1h0M414.7 785.6h0M418.6 785.8h0M422.5 785.7h0M426.4 785.4h0M430.3 784.9h0M434.2 784.2h0M438.1 783.5h0M442 782.9h0M445.9 782.5h0M449.8 782.3h0M59.8 780.2h0M63.7 779.3h0M67.6 778.5h0M71.5 777.9h0M98.8 778h0M102.7 778.4h0M106.6 778.8h0M110.5 779.1h0M114.4 779.4h0M122.2 779.7h0M126.1 779.6h0M130 779.4h0M133.9 779.1h0M137.8 778.7h0M141.7 778.3h0M367.9 778.3h0M371.8 778.7h0M375.7 779.1h0M379.6 779.4h0M383.5 779.6h0M387.4 779.7h0M395.2 779.4h0M399.1 779.1h0M403 778.8h0M406.9 778.4h0M410.8 778h0M438.1 777.9h0M442 778.5h0M445.9 779.3h0M449.8 780.2h0M59.8 791.5h0M63.7 790.9h0M67.6 790.3h0M71.5 789.8h0M75.4 789.2h0M79.3 788.6h0M83.2 788h0M98.8 785.9h0M102.7 785.3h0M106.6 784.8h0M110.5 784.3h0M114.4 783.8h0M118.3 783.3h0M122.2 782.8h0M130 781.8h0M137.8 780.9h0M141.7 780.5h0M169 778.2h0M172.9 777.9h0M336.7 777.9h0M340.6 778.2h0M367.9 780.5h0M371.8 780.9h0M379.6 781.8h0M387.4 782.8h0M391.3 783.3h0M395.2 783.8h0M399.1 784.3h0M403 784.8h0M406.9 785.3h0M410.8 785.9h0M426.4 788h0M430.3 788.6h0M434.2 789.2h0M438.1 789.8h0M442 790.3h0M445.9 790.9h0M449.8 791.5h0M59.8 822.6h0M63.7 821.5h0M67.6 820.3h0M71.5 819.2h0M75.4 818h0M79.3 816.8h0M83.2 815.7h0M87.1 814.5h0M94.9 812.1h0M98.8 811h0M102.7 809.8h0M114.4 806.3h0M126.1 802.7h0M130 801.5h0M176.8 790.6h0M180.7 789.9h0M184.6 789.3h0M188.5 788.7h0M192.4 788h0M196.3 787.4h0M200.2 786.7h0M204.1 786.1h0M305.5 786.1h0M309.4 786.7h0M313.3 787.4h0M317.2 788h0M321.1 788.7h0M325 789.3h0M328.9 789.9h0M332.8 790.6h0M379.6 801.5h0M383.5 802.7h0M395.2 806.3h0M406.9 809.8h0M410.8 811h0M414.7 812.1h0M422.5 814.5h0M426.4 815.7h0M430.3 816.8h0M434.2 818h0M438.1 819.2h0M442 820.3h0M445.9 821.5h0M449.8 822.6h0M59.8 808.2h0M63.7 807.6h0M67.6 807.1h0M71.5 806.5h0M75.4 806h0M83.2 804.8h0M87.1 804.1h0M91 803.5h0M94.9 802.9h0M106.6 800.8h0M110.5 800.1h0M114.4 799.4h0M118.3 798.6h0M122.2 797.8h0M133.9 795.5h0M137.8 794.6h0M141.7 794.1h0M145.6 793.5h0M149.5 792.9h0M153.4 792.3h0M157.3 791.8h0M161.2 791.1h0M165.1 790.5h0M169 789.9h0M176.8 788.6h0M332.8 788.6h0M340.6 789.9h0M344.5 790.5h0M348.4 791.1h0M352.3 791.8h0M356.2 792.3h0M360.1 792.9h0M364 793.5h0M367.9 794.1h0M371.8 794.6h0M375.7 795.5h0M387.4 797.8h0M391.3 798.6h0M395.2 799.4h0M399.1 800.1h0M403 800.8h0M414.7 802.9h0M418.6 803.5h0M422.5 804.1h0M426.4 804.8h0M434.2 806h0M438.1 806.5h0M442 807.1h0M445.9 807.6h0M449.8 808.2h0M63.7 808.6h0M67.6 807.6h0M94.9 800.5h0M98.8 799.5h0M102.7 798.6h0M106.6 797.6h0M110.5 796.7h0M114.4 795.7h0M122.2 793.8h0M126.1 792.9h0M165.1 785.7h0M180.7 783.4h0M184.6 782.9h0M196.3 781.5h0M208 780.2h0M211.9 779.8h0M215.8 779.4h0M293.8 779.4h0M297.7 779.8h0M301.6 780.2h0M313.3 781.5h0M325 782.9h0M328.9 783.4h0M344.5 785.7h0M383.5 792.9h0M387.4 793.8h0M395.2 795.7h0M399.1 796.7h0M403 797.6h0M406.9 798.6h0M410.8 799.5h0M414.7 800.5h0M442 807.6h0M445.9 808.6h0M59.8 785.3h0M63.7 784.9h0M67.6 784.4h0M79.3 783.1h0M83.2 782.7h0M87.1 782.3h0M91 781.9h0M94.9 781.5h0M98.8 781.1h0M102.7 780.7h0M106.6 780.3h0M110.5 780h0M114.4 779.6h0M118.3 779.3h0M133.9 777.9h0M375.7 777.9h0M391.3 779.3h0M395.2 779.6h0M399.1 780h0M403 780.3h0M406.9 780.7h0M410.8 781.1h0M414.7 781.5h0M418.6 781.9h0M422.5 782.3h0M426.4 782.7h0M430.3 783.1h0M442 784.4h0M445.9 784.9h0M449.8 785.3h0M59.8 812.4h0M63.7 811.3h0M67.6 810.1h0M75.4 807.9h0M79.3 806.7h0M83.2 805.6h0M87.1 804.5h0M91 803.4h0M98.8 801.3h0M102.7 800.2h0M106.6 799.2h0M110.5 798.1h0M114.4 797.1h0M118.3 796.1h0M126.1 794.1h0M130 793.1h0M133.9 792.1h0M137.8 791.2h0M149.5 789h0M157.3 787.6h0M161.2 787h0M169 785.6h0M172.9 785h0M188.5 782.8h0M321.1 782.8h0M336.7 785h0M340.6 785.6h0M348.4 787h0M352.3 787.6h0M360.1 789h0M371.8 791.2h0M375.7 792.1h0M379.6 793.1h0M383.5 794.1h0M391.3 796.1h0M395.2 797.1h0M399.1 798.1h0M403 799.2h0M406.9 800.2h0M410.8 801.3h0M418.6 803.4h0M422.5 804.5h0M426.4 805.6h0M430.3 806.7h0M434.2 807.9h0M442 810.1h0M445.9 811.3h0M449.8 812.4h0M63.7 811.9h0M79.3 806h0M98.8 799.3h0M102.7 798.1h0M106.6 796.8h0M110.5 795.6h0M114.4 794.5h0M118.3 793.3h0M126.1 791.1h0M161.2 783.5h0M172.9 781.5h0M200.2 778.1h0M309.4 778.1h0M336.7 781.5h0M348.4 783.5h0M383.5 791.1h0M391.3 793.3h0M395.2 794.5h0M399.1 795.6h0M403 796.8h0M406.9 798.1h0M410.8 799.3h0M430.3 806h0M445.9 811.9h0M59.8 787.4h0M63.7 787.6h0M67.6 787.8h0M71.5 788h0M75.4 788.1h0M79.3 788.2h0M87.1 788.3h0M91 788.3h0M110.5 788h0M114.4 787.8h0M118.3 787.7h0M122.2 787.5h0M126.1 787.2h0M130 787h0M133.9 786.7h0M137.8 786.4h0M141.7 786.2h0M153.4 785.6h0M157.3 785.4h0M192.4 783h0M196.3 782.7h0M200.2 782.4h0M309.4 782.4h0M313.3 782.7h0M317.2 783h0M352.3 785.4h0M356.2 785.6h0M367.9 786.2h0M371.8 786.4h0M375.7 786.7h0M379.6 787h0M383.5 787.2h0M387.4 787.5h0M391.3 787.7h0M395.2 787.8h0M399.1 788h0M418.6 788.3h0M422.5 788.3h0M430.3 788.2h0M434.2 788.1h0M438.1 788h0M442 787.8h0M445.9 787.6h0M449.8 787.4h0M67.6 791.3h0M71.5 791.1h0M75.4 791h0M79.3 790.8h0M83.2 790.6h0M87.1 790.4h0M91 790.1h0M98.8 789.6h0M102.7 789.3h0M106.6 789h0M110.5 788.7h0M122.2 787.6h0M133.9 786.4h0M145.6 785.4h0M149.5 785.1h0M176.8 782.8h0M332.8 782.8h0M360.1 785.1h0M364 785.4h0M375.7 786.4h0M387.4 787.6h0M399.1 788.7h0M403 789h0M406.9 789.3h0M410.8 789.6h0M418.6 790.1h0M422.5 790.4h0M426.4 790.6h0M430.3 790.8h0M434.2 791h0M438.1 791.1h0M442 791.3h0" stroke="#000" stroke-width="3" stroke-linecap="round"/>
<rect x="59.6" y="777.2" width="390" height="314" fill="none" stroke="#999" stroke-width="1"/>
<path d="M59.8 1091.3v-2.5M98.8 1091.3v-2.5M137.8 1091.3v-2.5M176.8 1091.3v-2.5M215.8 1091.3v-2.5M254.8 1091.3v-2.5M293.8 1091.3v-2.5M332.8 1091.3v-2.5M371.8 1091.3v-2.5M410.8 1091.3v-2.5M449.8 1091.3v-2.5M59.6 1012.6h2.5M449.6 1012.6h-2.5M59.6 934.1h2.5M449.6 934.1h-2.5M59.6 855.6h2.5M449.6 855.6h-2.5" stroke="#999" stroke-width="1"/>
<text x="54.3" y="1095.4" font-size="12.3" fill="#777" text-anchor="end" >0.39</text>
<text x="452.8" y="1095.4" font-size="12.3" fill="#777" >0.39</text>
<text x="54.3" y="1016.9" font-size="12.3" fill="#777" text-anchor="end" >0.41</text>
<text x="452.8" y="1016.9" font-size="12.3" fill="#777" >0.41</text>
<text x="54.3" y="938.4" font-size="12.3" fill="#777" text-anchor="end" >0.43</text>
<text x="452.8" y="938.4" font-size="12.3" fill="#777" >0.43</text>
<text x="54.3" y="859.9" font-size="12.3" fill="#777" text-anchor="end" >0.45</text>
<text x="452.8" y="859.9" font-size="12.3" fill="#777" >0.45</text>
<text x="54.3" y="781.4" font-size="12.3" fill="#777" text-anchor="end" >0.47</text>
<text x="452.8" y="781.4" font-size="12.3" fill="#777" >0.47</text>
<text x="59.8" y="1106.5" font-size="12.8" fill="#777" text-anchor="middle" >&#8722;0.5</text>
<text x="98.8" y="1106.5" font-size="12.8" fill="#777" text-anchor="middle" >&#8722;0.4</text>
<text x="137.8" y="1106.5" font-size="12.8" fill="#777" text-anchor="middle" >&#8722;0.3</text>
<text x="176.8" y="1106.5" font-size="12.8" fill="#777" text-anchor="middle" >&#8722;0.2</text>
<text x="215.8" y="1106.5" font-size="12.8" fill="#777" text-anchor="middle" >&#8722;0.1</text>
<text x="254.8" y="1106.5" font-size="12.8" fill="#777" text-anchor="middle" >0</text>
<text x="293.8" y="1106.5" font-size="12.8" fill="#777" text-anchor="middle" >0.1</text>
<text x="332.8" y="1106.5" font-size="12.8" fill="#777" text-anchor="middle" >0.2</text>
<text x="371.8" y="1106.5" font-size="12.8" fill="#777" text-anchor="middle" >0.3</text>
<text x="410.8" y="1106.5" font-size="12.8" fill="#777" text-anchor="middle" >0.4</text>
<text x="449.8" y="1106.5" font-size="12.8" fill="#777" text-anchor="middle" >0.5</text>
<text x="236.5" y="1137.5" font-size="24" fill="#555">k<tspan font-size="16" dy="5">x</tspan><tspan dy="-5">/2&#960;</tspan></text>
<text transform="translate(503 1034.8) rotate(-90)" font-size="23.5" fill="#777" >Frequency (&#969;<tspan font-style="italic">a</tspan><tspan font-size="70%" dy="0.25em">1</tspan><tspan dy="-0.25em">/2&#960;c)</tspan></text>
<circle cx="234.9" cy="899.4" r="4" fill="#2020ff"/><circle cx="274" cy="899.4" r="4" fill="#ff20c8"/>
<path d="M281.5 901.8H293.3" stroke="#ff20c8" stroke-width="1"/>
<defs><clipPath id="cJ"><polygon points="709,810.5 1214,810.5 1158,913.9 658.4,913.9"/></clipPath><clipPath id="cK"><polygon points="710,928.5 1219.7,928.5 1172,1036 656,1036"/></clipPath></defs>
<g clip-path="url(#cJ)" fill="none" stroke="#444" stroke-opacity="0.75" stroke-width="0.9"><circle cx="688.2" cy="862.1" r="27.8"/><circle cx="688.2" cy="862.1" r="20"/><circle cx="749.9" cy="862.1" r="27.8"/><circle cx="749.9" cy="862.1" r="20"/><circle cx="811.6" cy="862.1" r="27.8"/><circle cx="811.6" cy="862.1" r="20"/><circle cx="873.3" cy="862.1" r="27.8"/><circle cx="873.3" cy="862.1" r="20"/><circle cx="935" cy="862.1" r="27.8"/><circle cx="935" cy="862.1" r="20"/><circle cx="996.7" cy="862.1" r="27.8"/><circle cx="996.7" cy="862.1" r="20"/><circle cx="1058.4" cy="862.1" r="27.8"/><circle cx="1058.4" cy="862.1" r="20"/><circle cx="1120.1" cy="862.1" r="27.8"/><circle cx="1120.1" cy="862.1" r="20"/><circle cx="1181.8" cy="862.1" r="27.8"/><circle cx="1181.8" cy="862.1" r="20"/><circle cx="657.3" cy="808.8" r="27.8"/><circle cx="657.3" cy="808.8" r="20"/><circle cx="719" cy="808.8" r="27.8"/><circle cx="719" cy="808.8" r="20"/><circle cx="780.8" cy="808.8" r="27.8"/><circle cx="780.8" cy="808.8" r="20"/><circle cx="842.4" cy="808.8" r="27.8"/><circle cx="842.4" cy="808.8" r="20"/><circle cx="904.1" cy="808.8" r="27.8"/><circle cx="904.1" cy="808.8" r="20"/><circle cx="965.8" cy="808.8" r="27.8"/><circle cx="965.8" cy="808.8" r="20"/><circle cx="1027.5" cy="808.8" r="27.8"/><circle cx="1027.5" cy="808.8" r="20"/><circle cx="1089.2" cy="808.8" r="27.8"/><circle cx="1089.2" cy="808.8" r="20"/><circle cx="1151" cy="808.8" r="27.8"/><circle cx="1151" cy="808.8" r="20"/><circle cx="657.3" cy="915.4" r="27.8"/><circle cx="657.3" cy="915.4" r="20"/><circle cx="719" cy="915.4" r="27.8"/><circle cx="719" cy="915.4" r="20"/><circle cx="780.8" cy="915.4" r="27.8"/><circle cx="780.8" cy="915.4" r="20"/><circle cx="842.4" cy="915.4" r="27.8"/><circle cx="842.4" cy="915.4" r="20"/><circle cx="904.1" cy="915.4" r="27.8"/><circle cx="904.1" cy="915.4" r="20"/><circle cx="965.8" cy="915.4" r="27.8"/><circle cx="965.8" cy="915.4" r="20"/><circle cx="1027.5" cy="915.4" r="27.8"/><circle cx="1027.5" cy="915.4" r="20"/><circle cx="1089.2" cy="915.4" r="27.8"/><circle cx="1089.2" cy="915.4" r="20"/><circle cx="1151" cy="915.4" r="27.8"/><circle cx="1151" cy="915.4" r="20"/></g>
<g clip-path="url(#cK)" fill="none" stroke="#444" stroke-opacity="0.75" stroke-width="0.9"><circle cx="683.6" cy="982.6" r="28.5"/><circle cx="683.6" cy="982.6" r="20.5"/><circle cx="746.9" cy="982.6" r="28.5"/><circle cx="746.9" cy="982.6" r="20.5"/><circle cx="810.2" cy="982.6" r="28.5"/><circle cx="810.2" cy="982.6" r="20.5"/><circle cx="873.5" cy="982.6" r="28.5"/><circle cx="873.5" cy="982.6" r="20.5"/><circle cx="936.8" cy="982.6" r="28.5"/><circle cx="936.8" cy="982.6" r="20.5"/><circle cx="1000.1" cy="982.6" r="28.5"/><circle cx="1000.1" cy="982.6" r="20.5"/><circle cx="1063.4" cy="982.6" r="28.5"/><circle cx="1063.4" cy="982.6" r="20.5"/><circle cx="1126.7" cy="982.6" r="28.5"/><circle cx="1126.7" cy="982.6" r="20.5"/><circle cx="1190" cy="982.6" r="28.5"/><circle cx="1190" cy="982.6" r="20.5"/><circle cx="652" cy="927.8" r="28.5"/><circle cx="652" cy="927.8" r="20.5"/><circle cx="715.2" cy="927.8" r="28.5"/><circle cx="715.2" cy="927.8" r="20.5"/><circle cx="778.6" cy="927.8" r="28.5"/><circle cx="778.6" cy="927.8" r="20.5"/><circle cx="841.9" cy="927.8" r="28.5"/><circle cx="841.9" cy="927.8" r="20.5"/><circle cx="905.2" cy="927.8" r="28.5"/><circle cx="905.2" cy="927.8" r="20.5"/><circle cx="968.5" cy="927.8" r="28.5"/><circle cx="968.5" cy="927.8" r="20.5"/><circle cx="1031.8" cy="927.8" r="28.5"/><circle cx="1031.8" cy="927.8" r="20.5"/><circle cx="1095" cy="927.8" r="28.5"/><circle cx="1095" cy="927.8" r="20.5"/><circle cx="1158.3" cy="927.8" r="28.5"/><circle cx="1158.3" cy="927.8" r="20.5"/><circle cx="652" cy="1037.4" r="28.5"/><circle cx="652" cy="1037.4" r="20.5"/><circle cx="715.2" cy="1037.4" r="28.5"/><circle cx="715.2" cy="1037.4" r="20.5"/><circle cx="778.6" cy="1037.4" r="28.5"/><circle cx="778.6" cy="1037.4" r="20.5"/><circle cx="841.9" cy="1037.4" r="28.5"/><circle cx="841.9" cy="1037.4" r="20.5"/><circle cx="905.2" cy="1037.4" r="28.5"/><circle cx="905.2" cy="1037.4" r="20.5"/><circle cx="968.5" cy="1037.4" r="28.5"/><circle cx="968.5" cy="1037.4" r="20.5"/><circle cx="1031.8" cy="1037.4" r="28.5"/><circle cx="1031.8" cy="1037.4" r="20.5"/><circle cx="1095" cy="1037.4" r="28.5"/><circle cx="1095" cy="1037.4" r="20.5"/><circle cx="1158.3" cy="1037.4" r="28.5"/><circle cx="1158.3" cy="1037.4" r="20.5"/></g>
<path d="M873.8 913.1L934.2 809.6M997.5 913.1L1059.4 809.6M879.4 1034.5L938.5 929M1003.2 1036L1066.4 929" stroke="#222" stroke-width="1.4" stroke-dasharray="3.5 2.5"/>
<polygon points="1282,809.7 1391.3,809.7 1330.4,916.3 1221.9,916.3" fill="none" stroke="#222" stroke-width="1.6" stroke-dasharray="3.5 2.5"/>
<polygon points="1288.2,926.2 1414.7,926.2 1353.8,1036 1227.3,1036" fill="none" stroke="#222" stroke-width="1.6" stroke-dasharray="3.5 2.5"/>
<g fill="none" stroke="#111" stroke-width="1.5" stroke-dasharray="2.6 2.2" stroke-opacity="0.9" clip-path="url(#cJi)"><circle cx="1316.3" cy="823.4" r="6"/><circle cx="1316.3" cy="823.4" r="11"/><circle cx="1316.3" cy="823.4" r="16"/><circle cx="1371" cy="823.4" r="6"/><circle cx="1371" cy="823.4" r="11"/><circle cx="1371" cy="823.4" r="16"/><circle cx="1287.4" cy="873.4" r="6"/><circle cx="1287.4" cy="873.4" r="11"/><circle cx="1287.4" cy="873.4" r="16"/><circle cx="1342.9" cy="873.4" r="6"/><circle cx="1342.9" cy="873.4" r="11"/><circle cx="1342.9" cy="873.4" r="16"/><circle cx="1285" cy="835.9" r="9"/><circle cx="1285" cy="835.9" r="15"/><circle cx="1257.8" cy="890.6" r="9"/><circle cx="1257.8" cy="890.6" r="15"/><circle cx="1325" cy="859.3" r="9"/><circle cx="1325" cy="859.3" r="15"/><circle cx="1301.5" cy="901.5" r="9"/><circle cx="1301.5" cy="901.5" r="15"/></g>
<g fill="none" stroke="#111" stroke-width="1.5" stroke-dasharray="2.6 2.2" stroke-opacity="0.85" clip-path="url(#cKi)"><circle cx="1312.4" cy="985.3" r="5"/><circle cx="1312.4" cy="985.3" r="10"/><circle cx="1312.4" cy="985.3" r="15"/><circle cx="1312.4" cy="985.3" r="20"/><circle cx="1343.6" cy="935.3" r="7"/><circle cx="1343.6" cy="935.3" r="12"/><circle cx="1371.7" cy="980.6" r="7"/><circle cx="1371.7" cy="980.6" r="12"/><circle cx="1275" cy="1029" r="7"/><circle cx="1275" cy="1029" r="12"/><circle cx="1339" cy="1029" r="7"/><circle cx="1339" cy="1029" r="12"/><circle cx="1293.7" cy="932.2" r="7"/><circle cx="1293.7" cy="932.2" r="12"/><circle cx="1404.5" cy="930.6" r="7"/><circle cx="1404.5" cy="930.6" r="12"/><circle cx="1315.5" cy="946.2" r="10"/><circle cx="1315.5" cy="946.2" r="16"/><circle cx="1384.2" cy="944.7" r="10"/><circle cx="1384.2" cy="944.7" r="16"/><circle cx="1276.5" cy="1004" r="10"/><circle cx="1276.5" cy="1004" r="16"/><circle cx="1348.3" cy="999.3" r="10"/><circle cx="1348.3" cy="999.3" r="16"/></g>
<defs><clipPath id="cJi"><polygon points="1282,809.7 1391.3,809.7 1330.4,916.3 1221.9,916.3"/></clipPath><clipPath id="cKi"><polygon points="1288.2,926.2 1414.7,926.2 1353.8,1036 1227.3,1036"/></clipPath></defs>
<text x="626" y="823.5" font-size="18" font-weight="bold" fill="#2222c8">spin-up</text>
<text x="621.2" y="941" font-size="17.8" font-weight="bold" fill="#e030d0">spin-down</text>
</svg></div></body></html>
